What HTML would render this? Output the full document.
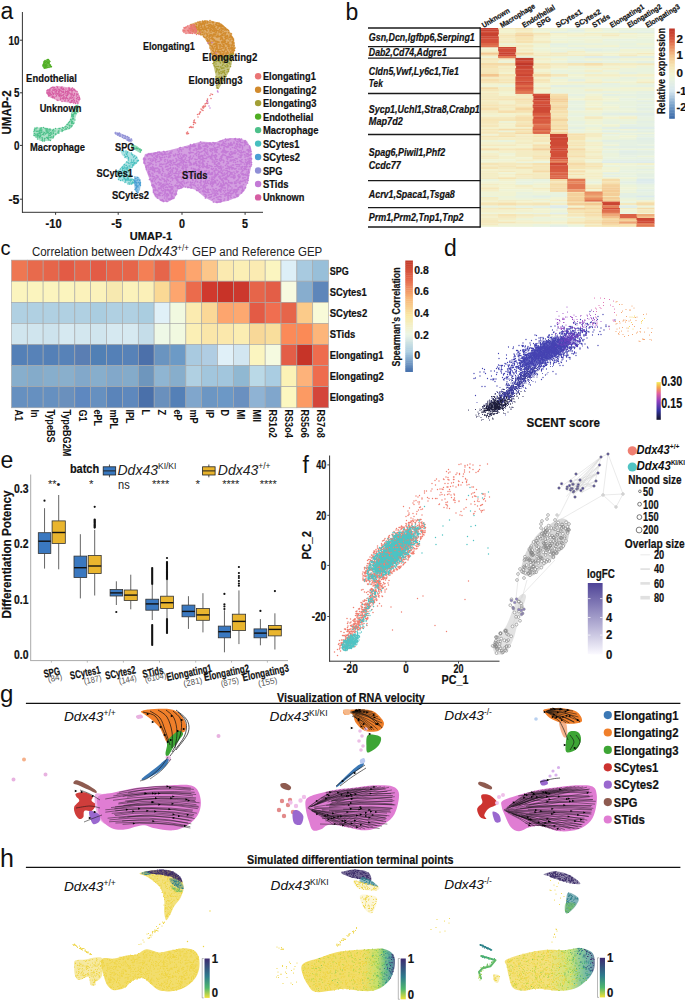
<!DOCTYPE html><html><head><meta charset="utf-8"><style>html,body{margin:0;padding:0;background:#fff;}svg{display:block}</style></head><body>
<svg width="685" height="1000" viewBox="0 0 685 1000">
<rect width="685" height="1000" fill="#fff"/>
<text x="0.5" y="18.5" font-size="23" font-weight="normal" font-style="normal" text-anchor="start" fill="#111" font-family="Liberation Sans" >a</text>
<line x1="22.4" y1="12" x2="22.4" y2="212.8" stroke="#333" stroke-width="1"/>
<line x1="22.0" y1="212.3" x2="263" y2="212.3" stroke="#333" stroke-width="1"/>
<line x1="20" y1="40.2" x2="22.4" y2="40.2" stroke="#333" stroke-width="1"/>
<text x="19.5" y="44.5" font-size="12" font-weight="bold" font-style="normal" text-anchor="end" fill="#111" font-family="Liberation Sans" stroke="#111" stroke-width="0.2" textLength="11.0" lengthAdjust="spacingAndGlyphs" >10</text>
<line x1="20" y1="92.8" x2="22.4" y2="92.8" stroke="#333" stroke-width="1"/>
<text x="19.5" y="97.1" font-size="12" font-weight="bold" font-style="normal" text-anchor="end" fill="#111" font-family="Liberation Sans" stroke="#111" stroke-width="0.2" textLength="5.5" lengthAdjust="spacingAndGlyphs" >5</text>
<line x1="20" y1="145.4" x2="22.4" y2="145.4" stroke="#333" stroke-width="1"/>
<text x="19.5" y="149.7" font-size="12" font-weight="bold" font-style="normal" text-anchor="end" fill="#111" font-family="Liberation Sans" stroke="#111" stroke-width="0.2" textLength="5.5" lengthAdjust="spacingAndGlyphs" >0</text>
<line x1="20" y1="199.2" x2="22.4" y2="199.2" stroke="#333" stroke-width="1"/>
<text x="19.5" y="203.5" font-size="12" font-weight="bold" font-style="normal" text-anchor="end" fill="#111" font-family="Liberation Sans" stroke="#111" stroke-width="0.2" textLength="11.0" lengthAdjust="spacingAndGlyphs" >-5</text>
<line x1="55.6" y1="212.3" x2="55.6" y2="214.8" stroke="#333" stroke-width="1"/>
<line x1="118.2" y1="212.3" x2="118.2" y2="214.8" stroke="#333" stroke-width="1"/>
<line x1="182" y1="212.3" x2="182" y2="214.8" stroke="#333" stroke-width="1"/>
<line x1="245.1" y1="212.3" x2="245.1" y2="214.8" stroke="#333" stroke-width="1"/>
<text x="53.6" y="227.5" font-size="12" font-weight="bold" font-style="normal" text-anchor="middle" fill="#111" font-family="Liberation Sans" stroke="#111" stroke-width="0.2" textLength="16.0" lengthAdjust="spacingAndGlyphs" >-10</text>
<text x="116.5" y="227.5" font-size="12" font-weight="bold" font-style="normal" text-anchor="middle" fill="#111" font-family="Liberation Sans" stroke="#111" stroke-width="0.2" textLength="10.5" lengthAdjust="spacingAndGlyphs" >-5</text>
<text x="182.0" y="227.5" font-size="12" font-weight="bold" font-style="normal" text-anchor="middle" fill="#111" font-family="Liberation Sans" stroke="#111" stroke-width="0.2" textLength="6.0" lengthAdjust="spacingAndGlyphs" >0</text>
<text x="245.1" y="227.5" font-size="12" font-weight="bold" font-style="normal" text-anchor="middle" fill="#111" font-family="Liberation Sans" stroke="#111" stroke-width="0.2" textLength="6.0" lengthAdjust="spacingAndGlyphs" >5</text>
<text x="151.0" y="240.0" font-size="11.5" font-weight="bold" font-style="normal" text-anchor="middle" fill="#111" font-family="Liberation Sans" stroke="#111" stroke-width="0.2" textLength="42.3" lengthAdjust="spacingAndGlyphs" >UMAP-1</text>
<text x="11.2" y="134.4" font-size="12" font-weight="bold" font-style="normal" text-anchor="start" fill="#111" font-family="Liberation Sans" stroke="#111" stroke-width="0.2" textLength="44.0" lengthAdjust="spacingAndGlyphs" transform="rotate(-90 11.2 134.4)" >UMAP-2</text>
<polygon points="42.0,66.0 44.0,61.0 47.0,59.0 50.0,60.0 50.0,64.0 52.0,67.0 48.0,68.0 44.0,69.0" fill="#4fae22" fill-opacity="0.8"/>
<path transform="scale(.5)" d="M95 119h0m2 0h0m3 4h0m-2 3h0m-1-1h0m-1 0h0m0 2h0m0-5h0m-1 3h0m-2-2h0m-2 2h0m-1-3h0m0-1h0m-1 5h0m-1-2h0m0 1h0m0-2h0m-2 7h0m1-2h0m0 0h0m1 2h0m0 3h0m1-3h0m1 5h0m0-6h0m1 3h0m0-2h0m1 4h0m1-2h0m0-4h0m1 3h0m1 4h0m3 0h0m1-5h0m2 3h0m0-3h0m1 4h0m1-1h0m-11 3h0m-3 0h0" stroke="#4fae22" stroke-width="2.8" stroke-linecap="round"/>
<polygon points="47.0,90.0 52.0,87.0 58.0,86.0 66.0,87.0 74.0,88.0 78.0,92.0 80.0,98.0 79.0,104.0 72.0,103.0 64.0,102.0 56.0,100.0 49.0,97.0 46.0,93.0" fill="#d65ea3" fill-opacity="0.55"/>
<path transform="scale(.5)" d="M138 175h0m-14-1h0m0 0h0m-2 1h0m-7 0h0m-1-2h0m-5 2h0m0 0h0m-3-1h0m-2 1h0m-10 6h0m0 0h0m1-1h0m2 0h0m2 0h0m0 0h0m0-1h0m1 1h0m0-2h0m0 3h0m2-5h0m2 7h0m1-3h0m2 0h0m0 0h0m0-4h0m1 5h0m0-5h0m0 4h0m0 0h0m1 0h0m0-1h0m1 0h0m2 3h0m0-3h0m0-1h0m0 4h0m1-1h0m1 0h0m2-3h0m1 5h0m0 0h0m1 0h0m0-4h0m0 1h0m1 1h0m0-1h0m0-1h0m1 1h0m2-3h0m0 4h0m0 1h0m0-5h0m1 6h0m0-7h0m0 1h0m2 2h0m1-2h0m0 2h0m0-1h0m0-1h0m0 6h0m1 0h0m0-6h0m0 2h0m1 0h0m3 3h0m1 1h0m0-5h0m2 5h0m1-1h0m2 0h0m0 0h0m0-4h0m2 3h0m0-3h0m0-1h0m2 3h0m2 0h0m0-2h0m0 0h0m0 0h0m1 4h0m0 1h0m1-2h0m0-5h0m2 3h0m1 1h0m1 0h0m0-1h0m0 1h0m2 2h0m3 1h0m2 5h0m-1 1h0m-1 0h0m-1-1h0m-4-1h0m0 3h0m0-3h0m-2 4h0m-1-1h0m-2-4h0m0 3h0m0-1h0m-1 0h0m-2 0h0m-1-1h0m-2-2h0m-1 3h0m-1-4h0m-1 7h0m0-5h0m0 3h0m-1 1h0m0-3h0m-2 4h0m-1-6h0m0-1h0m-1 4h0m0-2h0m0 1h0m-3 2h0m0-4h0m-1 6h0m0 0h0m0-6h0m0 0h0m-2 5h0m0-6h0m-1 7h0m-1-4h0m-1 3h0m-1 1h0m-1-2h0m0-5h0m0 4h0m-1 2h0m-1-4h0m0 4h0m-1-3h0m0 0h0m-1 1h0m-1-1h0m-1 4h0m0-7h0m-1 0h0m0 4h0m-1 0h0m-1-4h0m-2 3h0m-1 2h0m0-2h0m-1 0h0m-1-2h0m0 1h0m-1 4h0m0-6h0m-1 5h0m-1 0h0m-1-2h0m0 1h0m-1 3h0m0 0h0m0-7h0m0 2h0m-1-2h0m0 3h0m-1 1h0m0 2h0m0 1h0m-1-1h0m0-6h0m-1 2h0m0 2h0m-2-2h0m0-2h0m3 8h0m7 2h0m1-1h0m0 2h0m1-2h0m1 1h0m1 0h0m1 2h0m3-3h0m6-1h0m2 1h0m1 3h0m0 3h0m2-7h0m1 5h0m2-2h0m0 2h0m1 1h0m0-2h0m1 1h0m0-4h0m2 2h0m1 3h0m1-1h0m1-2h0m0-3h0m2 5h0m0 0h0m1 1h0m0 0h0m3 0h0m0 0h0m1-3h0m1 1h0m1-4h0m0 4h0m1-4h0m1 4h0m0 0h0m1-1h0m2-3h0m0 7h0m1-3h0m5 1h0m0-5h0m1 6h0m1-3h0m0 0h0m1 0h0m1 4h0m1-7h0m0 7h0m1-3h0m0-1h0m1 3h0m-2 2h0m-3 6h0m-1-3h0m-1-1h0m-2 5h0m-1-2h0m-1-4h0m-1 2h0m0-3h0m0 0h0m0 0h0m-1 6h0m-2-5h0m-1 3h0m-1-1h0m0-2h0m0 2h0m-1 2h0m-1 0h0m-1-1h0m0 1h0m-3-4h0m-1 1h0m-6 0h0m0-1h0m-6 2h0m-8-2h0m-2-1h0" stroke="#d65ea3" stroke-width="2.8" stroke-linecap="round"/>
<polygon points="78.0,104.0 80.0,108.0 76.0,116.0 74.0,124.0 70.0,129.0 60.0,132.0 55.0,136.0 50.0,141.0 40.0,141.0 33.0,135.0 34.0,128.0 42.0,127.0 52.0,129.0 64.0,127.0 70.0,120.0 72.0,112.0 75.0,106.0" fill="#4dc08a" fill-opacity="0.45"/>
<path transform="scale(.5)" d="M150 215h0m2-3h0m2-1h0m1 5h0m0 6h0m0-1h0m-1 2h0m0-7h0m0 6h0m-1-3h0m-3-2h0m-1 3h0m-6 8h0m1 2h0m0-6h0m1 5h0m0 2h0m2-2h0m1-2h0m0-1h0m1-2h0m0 3h0m1 0h0m1-3h0m1 3h0m4-3h0m-9 8h0m0 1h0m0 4h0m0 1h0m-1-4h0m-1 3h0m-1-5h0m0 7h0m0-6h0m-1-1h0m-2 7h0m0 0h0m-4 7h0m1-1h0m1-2h0m3-1h0m1 0h0m0 5h0m0-2h0m2-2h0m0 3h0m1 1h0m0 0h0m1 0h0m1-1h0m2-6h0m-6 11h0m0 1h0m-1 0h0m-1 2h0m-2-3h0m-1 1h0m-1-2h0m-3 5h0m0-6h0m-1 0h0m-2 4h0m-2 1h0m-5 1h0m-38 0h0m-13 0h0m-6 8h0m1-2h0m0-2h0m0 1h0m0 0h0m1-4h0m2 6h0m0-4h0m2-2h0m0 7h0m2-1h0m0 0h0m3-1h0m1-3h0m0 1h0m1 2h0m0-1h0m1-3h0m0-1h0m1 0h0m0 4h0m0 2h0m0-1h0m1-1h0m6-3h0m2 5h0m0-4h0m0 2h0m0 2h0m2 1h0m0-6h0m0 3h0m1 2h0m0-4h0m3 3h0m0-2h0m0 4h0m2-5h0m1 2h0m4 1h0m2-2h0m0 1h0m3 2h0m1-5h0m6 5h0m1 0h0m0-5h0m2 0h0m4 2h0m0 2h0m0 2h0m2-2h0m0-5h0m1 0h0m3 3h0m2-2h0m1 1h0m5-1h0m1-1h0m-21 10h0m-2-1h0m0-1h0m0 2h0m-4 2h0m-1 0h0m0 1h0m-4-2h0m0-3h0m-3 0h0m0 4h0m-1 0h0m-1-2h0m0 2h0m-1-3h0m0 6h0m-1-1h0m0 1h0m-1-4h0m0 0h0m-1 4h0m-1-1h0m0-4h0m-1-1h0m-2 1h0m-1 0h0m-2 2h0m-1-2h0m-1-1h0m-1 5h0m-1-3h0m0 1h0m-1-4h0m-1 5h0m-2-4h0m-1 6h0m0-1h0m-1-4h0m0 4h0m-1-3h0m0-3h0m-1 3h0m-1 1h0m0-4h0m0 0h0m-1 7h0m-1-4h0m0 4h0m-1-3h0m0 1h0m-1 2h0m-2-3h0m0 1h0m-1 1h0m-2 1h0m0-4h0m-1 4h0m4 3h0m3 4h0m0-4h0m3 0h0m1-2h0m0 2h0m1 2h0m0-3h0m1 0h0m3 5h0m0-3h0m1 4h0m0-3h0m4 1h0m1 0h0m3-2h0m1 0h0m1 2h0m0-1h0m0-1h0m1 2h0m1-3h0m0 4h0m1-3h0m3 0h0m2-1h0m3 2h0m0-2h0m1-2h0m0 2h0m-6 7h0m-3-1h0m-9 0h0m0 2h0m-3 0h0m-1 0h0m-1-1h0" stroke="#4dc08a" stroke-width="2.8" stroke-linecap="round"/>
<polygon points="145.0,154.0 156.0,152.0 166.0,151.0 178.0,148.0 189.0,145.0 201.0,141.5 215.0,142.4 224.0,139.0 231.0,138.0 240.0,138.5 247.0,141.0 251.2,148.5 252.1,162.6 250.0,172.0 248.6,180.0 245.0,190.0 238.0,197.0 227.6,201.1 215.3,202.9 204.8,197.6 196.0,190.0 186.0,187.0 178.5,189.0 175.0,197.6 168.0,202.0 162.8,202.0 155.0,197.0 150.5,182.0 146.0,170.0 143.0,160.0" fill="#c37ad6" fill-opacity="0.72"/>
<path transform="scale(.5)" d="M451 278h0m5 1h0m4-1h0m9 0h0m2-1h0m4 2h0m3-1h0m1 0h0m1 1h0m3-1h0m9 7h0m-1 1h0m0-4h0m-1-1h0m-1 4h0m0-2h0m-4 2h0m-3 0h0m-1-4h0m-1 2h0m0 0h0m-1-1h0m-1-2h0m0 0h0m-2 4h0m-2-1h0m-1 4h0m-2-7h0m-3 7h0m0-3h0m0 1h0m-6 0h0m-1 2h0m-4 0h0m0-7h0m-4 0h0m-2 3h0m-2 4h0m-2-3h0m0 2h0m-1 0h0m-1-5h0m-3 1h0m0 0h0m-2 1h0m-1 0h0m-8 3h0m-2 0h0m-1 0h0m-2-1h0m-5 2h0m-1-1h0m-1 1h0m-1 0h0m-4 0h0m-6-1h0m-4 1h0m-3-3h0m-40 11h0m9-1h0m3 1h0m2 0h0m3-2h0m2 2h0m1-6h0m0 2h0m1 2h0m2-1h0m2-2h0m0 3h0m2-5h0m0 5h0m1-3h0m0 3h0m1-1h0m0 1h0m1-2h0m6-1h0m0 4h0m0-1h0m1 1h0m0-6h0m1 4h0m1-3h0m1 5h0m5-2h0m2 1h0m1-1h0m2-4h0m0 3h0m1 2h0m1-5h0m1 3h0m1 4h0m1-2h0m3-4h0m3-1h0m1 2h0m0 0h0m1-1h0m3 3h0m2 3h0m0-7h0m0 1h0m5 6h0m1-1h0m0-6h0m1 6h0m1-6h0m0 1h0m1 5h0m0-6h0m1 3h0m4-2h0m0 2h0m2-2h0m1 1h0m1 1h0m1 4h0m1-4h0m1 1h0m1 1h0m1-5h0m2 5h0m0 2h0m1-3h0m2-4h0m0 6h0m1-3h0m2-1h0m0-1h0m2 0h0m0-1h0m0 3h0m2-3h0m1 2h0m0 5h0m4 0h0m2-3h0m2-3h0m0 5h0m0-6h0m2 0h0m0 2h0m1 3h0m3 2h0m0-6h0m0-1h0m1 1h0m0 3h0m0 3h0m2-5h0m0 1h0m3 4h0m0-3h0m4-1h0m1-3h0m2 0h0m3 1h0m4 6h0m0-3h0m1 2h0m2 9h0m-1-3h0m-1-3h0m0 4h0m-2-1h0m-1 1h0m0 2h0m0-2h0m-1-2h0m-2 1h0m-7 3h0m-2-5h0m-3 3h0m-4 0h0m-2 1h0m0-1h0m-1-2h0m-3-2h0m0 0h0m-2 4h0m-1-5h0m-7 7h0m-1-5h0m0 0h0m0 0h0m-5 5h0m-3 0h0m-2-1h0m-2-2h0m-1-3h0m0 5h0m-1 0h0m-1-2h0m-1 2h0m-4-5h0m0 0h0m-6 2h0m-2 4h0m0-2h0m-1 1h0m0-3h0m-1-3h0m0 2h0m-2 3h0m-1-3h0m-2 0h0m-1 3h0m-1-4h0m-1 2h0m-1 4h0m-1-3h0m0-1h0m-1-2h0m0 4h0m-5-1h0m-3-2h0m-1 0h0m-1 4h0m-1-1h0m0-2h0m0-2h0m-2 4h0m-3 2h0m-1-7h0m-2 1h0m-1 1h0m-1-1h0m-2-1h0m0 2h0m0 5h0m-3-4h0m-1 0h0m0 1h0m0-3h0m-2 0h0m-2 3h0m0 0h0m-2 0h0m-6-3h0m-1 3h0m-1-4h0m0 3h0m-13-1h0m-3 4h0m-1-3h0m-2 0h0m0 0h0m-1-3h0m-1 6h0m-3-2h0m-11 2h0m-10 1h0m-6 0h0m-1 0h0m-34 8h0m2-2h0m1 0h0m2-2h0m1 2h0m3 0h0m0-2h0m1 3h0m2 1h0m2-4h0m1 2h0m2-3h0m0 2h0m1-2h0m3 0h0m0 5h0m1 0h0m1-7h0m0 5h0m2 0h0m0 0h0m1-5h0m1 2h0m2 0h0m0 3h0m1-1h0m1-1h0m1 3h0m0 1h0m2-2h0m2-3h0m1 2h0m0 1h0m0-4h0m2 4h0m0-1h0m4 0h0m1 0h0m2 0h0m1-3h0m0 1h0m1 5h0m0-7h0m1 2h0m1 0h0m0 0h0m4 4h0m4-2h0m0 2h0m4-1h0m2-5h0m1 5h0m1-2h0m4 1h0m3 3h0m2-1h0m1-1h0m0 1h0m3 0h0m6-5h0m1 2h0m0-1h0m1 0h0m1-2h0m2 1h0m3 0h0m4 3h0m1 0h0m2 3h0m0-4h0m1-3h0m3 5h0m1-1h0m1-3h0m3 6h0m0 0h0m0-7h0m1 7h0m1 0h0m2 0h0m3-3h0m1 3h0m1-7h0m2 1h0m0 1h0m0 1h0m2-3h0m0 5h0m1-1h0m7 3h0m1-2h0m1-3h0m0 0h0m2 5h0m3 0h0m0-7h0m1 5h0m2 2h0m0-7h0m1 1h0m4 3h0m0 0h0m5-4h0m0 0h0m1 7h0m1-1h0m1-2h0m0 2h0m0-6h0m1 0h0m2 6h0m1-5h0m1 6h0m0 0h0m0-7h0m1 2h0m2-2h0m0 0h0m5 5h0m0-2h0m2-3h0m0 7h0m1-2h0m1-5h0m1 3h0m0-3h0m1 4h0m2-2h0m1-2h0m1 3h0m1 0h0m1-1h0m1-2h0m4 4h0m3-4h0m1 6h0m2-4h0m0-1h0m1 5h0m0-6h0m1 1h0m0 5h0m2-5h0m0 0h0m3 4h0m1 1h0m0-6h0m3 3h0m1 1h0m1 1h0m1-2h0m1 3h0m1 0h0m0-6h0m2 7h0m1-2h0m2-1h0m0 10h0m0-1h0m-3-1h0m0 1h0m-2 1h0m-2 0h0m0 0h0m0-5h0m-3-1h0m-2 7h0m-1-5h0m-6 5h0m-2-5h0m0-2h0m-1 3h0m-3-1h0m-4 3h0m0 1h0m-3-1h0m-3 2h0m-2-5h0m-2-1h0m-2 2h0m-1 0h0m-1 0h0m-2 0h0m0-2h0m-1 0h0m-2 3h0m0 3h0m-1-6h0m0 2h0m-1 1h0m-9-2h0m-1 4h0m-1-5h0m0 3h0m-2 1h0m-5 2h0m-2-7h0m0 7h0m0-6h0m-2 2h0m0 2h0m0 2h0m-2-5h0m-5 5h0m0-3h0m0-4h0m-2 1h0m0 1h0m-1 0h0m0 2h0m0 1h0m-1-4h0m-2-1h0m-1 2h0m-3 0h0m-1 3h0m-2 0h0m-1 0h0m-3 0h0m-1-1h0m0 2h0m0-3h0m-1-2h0m-1 6h0m-2-7h0m0 6h0m0 1h0m-1-5h0m-1 0h0m-1-1h0m0 4h0m-1-5h0m-1 1h0m0 3h0m-3 3h0m-3 0h0m-1-1h0m0 0h0m-3-6h0m-2 4h0m-2 2h0m-2-6h0m-1 2h0m0 2h0m-1 3h0m-1-4h0m-5-3h0m-2 4h0m-1 3h0m-2-6h0m-2 1h0m-2 3h0m-1-2h0m0 4h0m-2-2h0m0-5h0m-2 5h0m-2-2h0m-1-3h0m-4 5h0m-3-5h0m-1 0h0m-8 2h0m-1-1h0m-1-1h0m-1 3h0m-4-2h0m-2 6h0m-2-4h0m0-1h0m-4 1h0m-2 4h0m-1-4h0m-1 2h0m-1-1h0m-1-3h0m-4 1h0m-1 1h0m-1 4h0m0-5h0m0 0h0m-2-2h0m0 6h0m-1-1h0m-2-2h0m-2 3h0m0 1h0m-1-7h0m-3 6h0m-3-1h0m-2 1h0m-2-6h0m-4 7h0m-1-2h0m-1 2h0m-1-3h0m-1 2h0m1 8h0m0-2h0m1 0h0m0-3h0m1 6h0m6-2h0m3 1h0m2-5h0m0 5h0m2 1h0m1-4h0m1-2h0m2 0h0m4-1h0m0 2h0m1 3h0m4-2h0m3 0h0m2-3h0m1 0h0m7 0h0m1 3h0m3 4h0m2-1h0m0-6h0m1 3h0m1 2h0m3-4h0m0 2h0m1 2h0m1-4h0m1 2h0m0 0h0m0 4h0m3-7h0m0 1h0m1 4h0m3 0h0m3-2h0m0-3h0m3 0h0m2 7h0m1 0h0m1-1h0m0-5h0m2 3h0m2-2h0m0 4h0m0 0h0m2 0h0m0-6h0m1 1h0m0 3h0m2-1h0m2 2h0m2 0h0m1-4h0m4 0h0m0 3h0m1 0h0m1 1h0m0 1h0m1-1h0m1 2h0m6-1h0m1 1h0m1 0h0m1-2h0m1-2h0m1 4h0m4-4h0m1 1h0m1 2h0m1-4h0m2 4h0m3-2h0m0 2h0m1 0h0m0-5h0m1 1h0m2 0h0m5 5h0m2-4h0m9 1h0m1 0h0m0-4h0m3 6h0m0-4h0m1 3h0m3-2h0m1 0h0m2 4h0m2-2h0m0 1h0m1 1h0m0-7h0m2 2h0m2-2h0m3 0h0m1 5h0m1-3h0m6 1h0m2 4h0m0-3h0m1 2h0m3-4h0m1-2h0m1 2h0m1-1h0m1-1h0m1 0h0m2 0h0m0 4h0m3-3h0m1 4h0m4-2h0m5-2h0m1 2h0m1-1h0m1 2h0m0-1h0m3 2h0m5-1h0m1-4h0m1 6h0m2 1h0m0-3h0m1-1h0m1-1h0m0 1h0m0-1h0m1 4h0m0-4h0m1 3h0m0 0h0m1-1h0m0-3h0m3 4h0m0 0h0m0 4h0m0 0h0m-1 3h0m-3-4h0m0 5h0m-5-5h0m0 5h0m0-4h0m-1 0h0m0 3h0m0 2h0m-3-1h0m-1-5h0m0 5h0m-4 0h0m-1 2h0m-2-7h0m0 6h0m-3-4h0m-1 3h0m0-4h0m-3 0h0m-1 4h0m-2-4h0m-5 1h0m-2 0h0m0 5h0m-2 0h0m-1-3h0m0 3h0m-3 0h0m-1-2h0m-3-1h0m-2-4h0m-2 3h0m-5 3h0m-4 1h0m0-3h0m-2 1h0m-1-5h0m-1 0h0m-1 5h0m-1 1h0m-1-3h0m-2 1h0m0-3h0m-3-1h0m0 5h0m-1-5h0m-5 5h0m-2-1h0m-3-1h0m-1 4h0m-3-3h0m0-2h0m0 1h0m-1 3h0m0-3h0m0 3h0m-1 0h0m-1 0h0m-2-1h0m-2 0h0m0-3h0m-1-2h0m0 0h0m-1 7h0m0-7h0m-1 2h0m-1 3h0m-4 2h0m0-5h0m-1 3h0m0-2h0m-1 2h0m-2-3h0m-3-2h0m0 3h0m-5-2h0m-1-1h0m0 1h0m-4-1h0m-1 2h0m-1 0h0m-2 0h0m-4 4h0m-1-4h0m-2 4h0m0 1h0m-1-5h0m-1 4h0m0-3h0m-3-2h0m0 0h0m-1 5h0m0-2h0m0 0h0m0 2h0m-1 0h0m-3-4h0m-3 0h0m-1 4h0m-2-5h0m-1 4h0m0-5h0m0 2h0m0-2h0m-2 2h0m0 0h0m-2-1h0m-3-1h0m-3 2h0m-4 5h0m0-4h0m-1-2h0m-1 0h0m-3 3h0m-1 1h0m-2 0h0m-1-1h0m0-4h0m-1 6h0m-3-6h0m-3 1h0m-2 4h0m0-5h0m-1 5h0m-2-4h0m0-1h0m-1 4h0m-7-2h0m-5 5h0m-1-6h0m-1 4h0m-4 2h0m-1-6h0m-2 0h0m0 1h0m-1 4h0m-2-3h0m-2 3h0m-1-2h0m0 2h0m1 5h0m0-3h0m4 6h0m1-4h0m1 5h0m2-4h0m1-2h0m1-1h0m1 2h0m0-2h0m1 4h0m1 1h0m1-3h0m2 2h0m0 2h0m0-5h0m1 0h0m0 5h0m2-6h0m0 1h0m2 6h0m1 0h0m0-7h0m1 7h0m0-1h0m1-4h0m2 3h0m0-2h0m1 4h0m5-5h0m0 3h0m0-5h0m1 2h0m1 5h0m6-4h0m3 2h0m0-3h0m1 0h0m3 5h0m0-6h0m1 0h0m0 5h0m3-3h0m0 0h0m0 3h0m1-1h0m1-5h0m1 0h0m0 1h0m4-1h0m1 2h0m2 4h0m0-2h0m0-2h0m1 0h0m3 5h0m3-2h0m3-4h0m1 0h0m1 1h0m1 4h0m0-5h0m5 4h0m0 0h0m0-3h0m1 3h0m4 2h0m6-7h0m0 1h0m2 4h0m2-4h0m1 3h0m0 3h0m2-5h0m1 3h0m0-1h0m3 0h0m3 0h0m0 1h0m0-3h0m1 5h0m0-5h0m1 1h0m0 1h0m4 1h0m6 1h0m1 0h0m1 1h0m2-2h0m1-5h0m2 0h0m2 6h0m5-5h0m0 1h0m2 1h0m2-2h0m1 5h0m1 1h0m0 0h0m0-2h0m2-1h0m1-3h0m1 3h0m0 0h0m1 0h0m3 2h0m0 0h0m1-5h0m2 6h0m0-7h0m2 0h0m0 4h0m0 0h0m1-1h0m0-2h0m2 5h0m0 0h0m3-2h0m4-3h0m0 4h0m1-4h0m1 0h0m0 0h0m0 4h0m2-5h0m0 7h0m2 0h0m1 0h0m0-5h0m5-2h0m0 2h0m1-1h0m2-1h0m2 2h0m1 0h0m2-1h0m1 5h0m3 1h0m2-5h0m4 0h0m1-1h0m0 0h0m1 6h0m1-3h0m1 1h0m2-4h0m1 2h0m1-3h0m0 2h0m1-1h0m2 2h0m4 3h0m0-3h0m1 6h0m0-1h0m-1 7h0m-1-4h0m-1 3h0m-1-6h0m0 7h0m-2-3h0m-1 1h0m0 1h0m-3-1h0m-1-1h0m0 2h0m-2-3h0m-1 2h0m-2-3h0m-4 3h0m-2 2h0m-2-6h0m-4 2h0m-2 3h0m0-6h0m-4 2h0m0 3h0m0-4h0m-3 0h0m0 2h0m-1 2h0m-1 2h0m-4-1h0m0-4h0m0 5h0m-1-5h0m-1 1h0m-3 2h0m-1-3h0m-1 5h0m-2-3h0m0 3h0m-2-5h0m-1-1h0m0 2h0m-3-3h0m-3 1h0m-1 4h0m-1-2h0m-1 2h0m-1 2h0m-1-1h0m-1-1h0m-1-3h0m-1 4h0m-4-3h0m0-2h0m-1 0h0m0 4h0m0-2h0m-2 0h0m-1 2h0m-2-4h0m-1 3h0m-1-2h0m-1-1h0m-1 2h0m-1 4h0m-2-2h0m-2-4h0m-3 1h0m-4-1h0m-1-1h0m-3 5h0m0-3h0m-2 0h0m-2 3h0m-1-3h0m-1 1h0m-5-2h0m-2 6h0m0-3h0m0-4h0m-1 5h0m-1 1h0m-4-1h0m-1 2h0m-1-5h0m-1-1h0m-1 2h0m-1 2h0m0 1h0m-1 1h0m-1-7h0m-1 3h0m-3 1h0m0 0h0m-1 3h0m-3-5h0m-3-1h0m-4-1h0m0 3h0m-1 3h0m-3-3h0m-2-3h0m-1 3h0m0-1h0m-2 5h0m-1-4h0m-3-3h0m-1 4h0m-2 3h0m-1-6h0m-1 2h0m-1 4h0m-1-2h0m-1 0h0m0-3h0m-3 4h0m-4-2h0m-5-1h0m-1 4h0m-1-2h0m-3-3h0m0-1h0m-2 1h0m0-1h0m-5 6h0m-4-7h0m-3 4h0m-2-2h0m-3 4h0m-2-3h0m0 0h0m0 1h0m-1-1h0m0 2h0m-1-4h0m2 14h0m1-7h0m1 6h0m0-6h0m4 1h0m0-1h0m1 6h0m1-5h0m1 4h0m1-3h0m0 0h0m2 5h0m1-3h0m1 0h0m2-4h0m1 1h0m0 2h0m3 3h0m1 1h0m4-3h0m2 2h0m2 0h0m0 0h0m1-6h0m2 0h0m3 2h0m0 4h0m1 1h0m1-5h0m1-1h0m1 1h0m0-1h0m2-1h0m2 4h0m2-1h0m2 2h0m4-1h0m1-4h0m1 5h0m0-2h0m1 4h0m1-1h0m0-4h0m2 0h0m0 1h0m0-2h0m3 1h0m2 0h0m2 4h0m1-3h0m1-3h0m5 4h0m4 0h0m1 3h0m0-2h0m0-3h0m3 1h0m1 0h0m6-3h0m0 7h0m6-2h0m5 0h0m2-4h0m2-1h0m2 3h0m1-1h0m0-2h0m1 1h0m3 3h0m0-1h0m3 0h0m2 4h0m7-3h0m4 3h0m1-5h0m0 3h0m2 2h0m1 0h0m0-5h0m2 1h0m0 1h0m1-3h0m0 0h0m1 0h0m7 1h0m0-1h0m2-1h0m0 2h0m0 3h0m1-1h0m1 2h0m1 1h0m1-7h0m1 6h0m2-2h0m3 2h0m0-2h0m1 3h0m1-5h0m1 3h0m1 2h0m0-5h0m3-1h0m5 1h0m2 0h0m3 1h0m0-3h0m1 5h0m2-5h0m0 3h0m6 4h0m1-6h0m1 3h0m2-2h0m0-2h0m6 4h0m0-1h0m0 2h0m4-2h0m4 4h0m2-5h0m0 3h0m0 4h0m-1 5h0m-4-6h0m0 0h0m0 4h0m-2-4h0m0 1h0m-3 1h0m-2 1h0m-1 0h0m-2-1h0m-1 1h0m0 4h0m0-1h0m-1 0h0m-3-2h0m0-4h0m-3 1h0m-1 3h0m0 3h0m-2-3h0m-1 0h0m0 3h0m-5 0h0m0-2h0m-1 0h0m0 0h0m0 2h0m-1-1h0m-1 0h0m0-1h0m-2 0h0m-1 0h0m-1-4h0m0 3h0m-4 3h0m-1-2h0m0 0h0m-1 2h0m-4-1h0m0-2h0m-1-3h0m0 3h0m-2-3h0m-2 6h0m-3-3h0m-2 3h0m0 0h0m-2-6h0m-1-1h0m-2 6h0m-1-3h0m-1 2h0m0-3h0m0-1h0m-2 5h0m0-3h0m-1 2h0m-1 2h0m-1 0h0m0 0h0m-1-5h0m0 2h0m-1 3h0m-2 0h0m0-3h0m-3-3h0m-1 6h0m-2-5h0m0 3h0m-2 2h0m-2-1h0m0-5h0m0 2h0m-3 1h0m-1-1h0m-5-2h0m0-1h0m0 3h0m-1 2h0m-1 0h0m0 0h0m-5-1h0m0-1h0m-3-3h0m-1 3h0m-2 3h0m-3-5h0m-1 4h0m-3 1h0m-1-2h0m-5 0h0m-3 1h0m0 1h0m-4 1h0m-1-3h0m-1-4h0m-2 3h0m-1 0h0m-1 3h0m-2 1h0m-1-3h0m-1 1h0m-1 0h0m-2-5h0m0 3h0m-2 3h0m0 0h0m0-5h0m-9-1h0m-4 3h0m-2 4h0m-2-6h0m-4 3h0m0-2h0m-3-1h0m-1 2h0m0-3h0m-7 7h0m0-7h0m0 6h0m-3 0h0m0 0h0m-2-2h0m-1 1h0m-5 1h0m-2-4h0m-4-1h0m0 2h0m-1 0h0m-1-2h0m1 9h0m0 1h0m2-2h0m0 3h0m1 2h0m1 0h0m0-3h0m1 1h0m1 3h0m3-7h0m5 2h0m2-1h0m2 5h0m0-2h0m2-1h0m0 3h0m1-5h0m1 5h0m0-5h0m0 0h0m1 4h0m1-5h0m0 3h0m2 0h0m1 4h0m1-7h0m1 6h0m0-5h0m1-1h0m1 7h0m0-7h0m1 1h0m2 3h0m1 2h0m2-1h0m0 1h0m1 1h0m1-6h0m1 4h0m2 1h0m4-3h0m1-1h0m0 2h0m0 0h0m3-1h0m1 3h0m1-1h0m1-1h0m2-2h0m2 2h0m0 1h0m1 0h0m1-5h0m1 7h0m0-7h0m1 3h0m0-2h0m2 3h0m4 2h0m4 1h0m1-1h0m2 1h0m2-5h0m2-1h0m0 3h0m1 3h0m3-6h0m1 1h0m0 0h0m2 0h0m2 2h0m3 3h0m2-5h0m2 4h0m4-3h0m0-3h0m4 4h0m0 3h0m1-4h0m2-3h0m0 1h0m0 4h0m1 2h0m1-3h0m3-1h0m7-2h0m3 2h0m0 2h0m1 0h0m1-4h0m8 1h0m1-1h0m1 0h0m3 4h0m2-1h0m0-1h0m1-2h0m1 5h0m0-2h0m1 2h0m0-2h0m1-2h0m0 4h0m1 1h0m1-4h0m1-3h0m1 2h0m0 0h0m1 5h0m5-7h0m1 3h0m0 3h0m2-3h0m0-1h0m3 3h0m10-1h0m2 0h0m5 3h0m2-2h0m1 2h0m1-3h0m2 0h0m0 2h0m1 0h0m2-5h0m4 6h0m-1 1h0m-3 5h0m-1-2h0m-1 1h0m0 3h0m0-6h0m-1 4h0m-7-2h0m-1 0h0m0-3h0m-2 6h0m0-2h0m0 3h0m-1-1h0m-1-3h0m-2 1h0m-1 2h0m0-3h0m0 4h0m0-3h0m-1-1h0m-1 3h0m0 0h0m-3-6h0m0 4h0m-1 0h0m-2 2h0m0 1h0m-1-3h0m-4 1h0m-1-3h0m-4 3h0m-1-4h0m-3 4h0m-1-5h0m-3 3h0m-1-2h0m-1 4h0m0 2h0m-2-4h0m0 2h0m-2-1h0m-2 3h0m-2-2h0m-1-4h0m-1 5h0m-3-1h0m0-2h0m0 3h0m-2-4h0m-2 4h0m-3-3h0m-4 0h0m-1 0h0m0 2h0m0 2h0m0-5h0m-1 3h0m-1-2h0m-3-1h0m0 5h0m-2-1h0m-2-2h0m0 2h0m0-6h0m-1 7h0m-1-1h0m-3-5h0m-3 2h0m-2 1h0m-1-3h0m-2 4h0m-1-1h0m-11-4h0m-20 0h0m-3 1h0m-2 0h0m-2-1h0m-3 6h0m-5 0h0m-2-5h0m0 2h0m-1-1h0m-1-1h0m-1 3h0m0-1h0m-1 4h0m0-1h0m-2-1h0m0 2h0m-1-3h0m-2-1h0m0 2h0m-1-1h0m0-1h0m-3 1h0m-1 1h0m-1-2h0m-3-2h0m0 4h0m-2 1h0m-2-2h0m-1-3h0m-3-1h0m-1 2h0m-1-2h0m-1 6h0m-2-2h0m-3 1h0m0-3h0m0 2h0m-3 0h0m-1 0h0m0 3h0m0-2h0m0 4h0m2 2h0m0 1h0m1 0h0m1 0h0m0 3h0m3-2h0m2 1h0m1 0h0m1 0h0m0 1h0m0-5h0m0 2h0m1 1h0m0 0h0m1-4h0m0 2h0m0 4h0m1-5h0m3 0h0m1 5h0m3-2h0m0 0h0m0 0h0m1-5h0m1 3h0m1-3h0m2 6h0m0-2h0m1 2h0m1-3h0m2 4h0m0-2h0m3-3h0m0-1h0m0 0h0m1-1h0m1 3h0m1 3h0m1-4h0m1 1h0m0-2h0m4 3h0m2 2h0m1-4h0m1 2h0m0 0h0m47-4h0m0 0h0m8 0h0m0 4h0m2 1h0m2-4h0m0 5h0m3-5h0m0 0h0m0 0h0m2 5h0m1-5h0m2 4h0m3 0h0m0 0h0m2-3h0m3 0h0m1 0h0m0 4h0m2-1h0m1-3h0m0 5h0m1-5h0m2 2h0m0-1h0m1 1h0m6-4h0m0 5h0m4-1h0m3-4h0m1 5h0m2-2h0m1 3h0m2-4h0m1-1h0m0 5h0m1-3h0m1 4h0m1-5h0m0-2h0m0 0h0m3 3h0m0 3h0m1-3h0m2 0h0m1-1h0m1-2h0m4 1h0m1 3h0m1 3h0m0-7h0m0 6h0m0-6h0m3 5h0m7-3h0m0-1h0m-7 7h0m-1 0h0m-1 1h0m-4 2h0m-2-1h0m-6 1h0m-1-3h0m-4 4h0m-1-3h0m0 2h0m0 3h0m-6-6h0m-1 6h0m-7 1h0m0-5h0m-1 5h0m-1-6h0m-1 0h0m-1 6h0m-2-1h0m0-4h0m-3 1h0m-5-3h0m0 5h0m-3 2h0m-2-6h0m-2 2h0m-1-1h0m-1 1h0m-1 0h0m-6-2h0m0-1h0m-1 4h0m0-3h0m-63 3h0m-2 1h0m-1 0h0m0-4h0m-1 1h0m0-1h0m-1-1h0m0 6h0m-1 0h0m0-2h0m-1 3h0m-2-1h0m0 1h0m-1-2h0m-1 2h0m-3-6h0m0 3h0m-4-4h0m-1 4h0m-4 3h0m-10-3h0m-1-3h0m0 0h0m0 0h0m7 7h0m1 0h0m1 1h0m1-1h0m2 1h0m1 2h0m0-1h0m5-2h0m2 3h0m93 1h0m6 0h0m1 1h0m0-1h0m3 0h0m2 0h0m1 0h0m1 0h0m0-3h0m1 0h0m1 2h0m5-2h0m8-1h0" stroke="#c37ad6" stroke-width="3.4" stroke-linecap="round"/>
<polygon points="115.0,131.5 120.0,133.0 127.0,136.0 133.0,140.0 131.0,143.0 125.0,139.0 118.0,136.0 115.0,134.0" fill="#8f8fd6" fill-opacity="0.6"/>
<path transform="scale(.5)" d="M250 271h0m-3 0h0m-2-1h0m-5 0h0m0-2h0m-1-2h0m-2 3h0m0-2h0m-1 3h0m-1-3h0m0 3h0m-3-2h0m-1-2h0m-1 0h0m9 6h0m2 0h0m0 0h0m4 3h0m0-1h0m3 3h0m1-1h0m1-4h0m1 1h0m0 4h0m1-3h0m3-1h0m1 5h0m0-2h0m1-1h0m1 0h0m1 4h0m4-1h0m-1 2h0m-1 1h0m0 0h0m-1-1h0m-2 2h0m-1-2h0m-1 1h0m-2-1h0" stroke="#8f8fd6" stroke-width="2.8" stroke-linecap="round"/>
<polygon points="132.0,144.0 137.0,146.0 142.0,150.0 140.0,153.0 135.0,150.0 131.0,147.0" fill="#4dc08a" fill-opacity="0.6"/>
<path transform="scale(.5)" d="M263 292h0m2-1h0m2 1h0m16 8h0m-1 1h0m-2-3h0m0 1h0m-1 0h0m-3-2h0m-1 0h0m-2 0h0m0-1h0m-3 1h0m-1 1h0m12 6h0" stroke="#4dc08a" stroke-width="2.8" stroke-linecap="round"/>
<polygon points="120.0,150.0 128.0,151.0 137.0,156.0 139.0,161.0 134.0,166.0 129.0,170.0 131.0,177.0 138.0,183.0 130.0,185.0 124.0,182.0 118.0,180.0 117.0,172.0 122.0,166.0 128.0,160.0 122.0,155.0" fill="#47bfbf" fill-opacity="0.45"/>
<path transform="scale(.5)" d="M252 302h0m-5 1h0m-2-2h0m4 9h0m3-4h0m1 3h0m1-1h0m1-4h0m0 1h0m8 1h0m1 3h0m1 1h0m0 0h0m8 5h0m-2 2h0m-2-5h0m-2 2h0m0 0h0m-10 1h0m0 2h0m-2-5h0m-1 1h0m-3 0h0m-1 2h0m3 9h0m3 1h0m1-5h0m1 7h0m4-2h0m1-5h0m0 4h0m0 0h0m2 1h0m2-3h0m1 5h0m0-1h0m0-6h0m0 5h0m1 1h0m1 1h0m0-2h0m3 1h0m1-4h0m0 0h0m1 0h0m1-1h0m1 0h0m-10 9h0m-1-1h0m-1 1h0m0 2h0m-1 3h0m-2-7h0m0 0h0m-2 4h0m-2 0h0m-3 2h0m-1 1h0m-1-4h0m-1 0h0m-2 4h0m-1-1h0m0-5h0m-1 1h0m-2 4h0m-1 0h0m-1 1h0m-8 7h0m2 1h0m3-5h0m4 2h0m0-3h0m0 4h0m1 0h0m1-4h0m1 6h0m1-2h0m1-4h0m0 0h0m0 3h0m3 3h0m0-7h0m0 2h0m1 4h0m1-2h0m0-4h0m1 0h0m2 5h0m0 0h0m2-5h0m0 13h0m-1 2h0m-1-7h0m-5 1h0m-1 1h0m-1 0h0m-1 2h0m0 2h0m-1-6h0m-1 2h0m-2 5h0m-2-2h0m-3-4h0m-1 0h0m0 1h0m-2 2h0m-1-1h0m-1 0h0m0 2h0m0-3h0m-1-1h0m2 14h0m2-4h0m1-2h0m1 1h0m6-2h0m0 2h0m1 4h0m0-2h0m1-4h0m0 4h0m0 1h0m1-4h0m1 6h0m1-1h0m2 1h0m1-5h0m0 3h0m1-5h0m1 4h0m0 2h0m5 1h0m4 0h0m0 0h0m8 7h0m-4-2h0m-1-3h0m0 2h0m-2-3h0m0 5h0m-2 1h0m0-1h0m0-1h0m-2-4h0m-1 6h0m-1-4h0m-1-2h0m-2 0h0m0 5h0m-1-5h0m-2 0h0m-3 1h0m-1 1h0m0-2h0m-1 5h0m-5-5h0m-4 1h0m15 7h0m3 0h0m4 0h0" stroke="#47bfbf" stroke-width="2.8" stroke-linecap="round"/>
<polygon points="134.0,176.0 139.0,177.0 141.0,182.0 140.0,190.0 138.0,193.0 135.0,191.0 134.0,184.0" fill="#4a9fd4" fill-opacity="0.6"/>
<path transform="scale(.5)" d="M271 357h0m1 0h0m3-2h0m1 4h0m5 7h0m0-1h0m0 1h0m-1-6h0m0 0h0m0 5h0m-1 2h0m0-6h0m-2 4h0m0 0h0m-3-4h0m-1 4h0m0 1h0m-2-2h0m-1 2h0m0-5h0m0 2h0m-1-2h0m0 2h0m2 7h0m1 0h0m0-1h0m0 0h0m0 2h0m1 0h0m0 3h0m0-4h0m0 4h0m1-1h0m2-2h0m0 3h0m3-5h0m1 0h0m0-1h0m1 3h0m0-1h0m-7 10h0m-1-4h0m0 7h0m-1-7h0m0 1h0m-1 1h0m-1 1h0m4 5h0m0 0h0m2 1h0" stroke="#4a9fd4" stroke-width="2.8" stroke-linecap="round"/>
<polygon points="190.3,24.3 195.4,22.3 203.6,20.7 211.8,20.7 221.0,23.3 229.2,30.4 233.8,38.6 235.3,47.8 233.5,54.0 225.0,57.0 212.5,60.0 211.8,56.0 208.7,44.7 202.6,35.5 195.4,33.5 190.0,31.0" fill="#d18a2c" fill-opacity="0.68"/>
<path transform="scale(.5)" d="M438 46h0m-1 1h0m-2-1h0m-1 0h0m-1 0h0m-6-1h0m-1 1h0m0-2h0m-2 0h0m-4-3h0m0 4h0m0 0h0m-4-1h0m-1 2h0m0-3h0m-1 3h0m0-4h0m-3 4h0m0-1h0m0 0h0m0-3h0m-1 4h0m0-3h0m-1-1h0m-1 4h0m-1-2h0m-1 0h0m-1-2h0m0 4h0m-3 1h0m-1 0h0m-1-4h0m0 4h0m0-4h0m0 3h0m-2 0h0m-2-1h0m0-1h0m-4 3h0m-10 2h0m1 2h0m0 1h0m5 2h0m0-3h0m1-1h0m1 4h0m1-1h0m1 2h0m0-2h0m1-4h0m0 4h0m1 2h0m3-5h0m0 4h0m0-1h0m2-1h0m0 0h0m0-2h0m2-1h0m1 1h0m0 5h0m1 0h0m0-2h0m0-3h0m0 2h0m1 3h0m0-6h0m0 5h0m2-6h0m0 0h0m1 0h0m1 6h0m1-2h0m0-4h0m0 2h0m0-2h0m2 6h0m3-3h0m1 0h0m2 0h0m0 4h0m1-2h0m0-4h0m1 3h0m0 0h0m0 1h0m1 0h0m1-3h0m0-1h0m1 1h0m1 5h0m0-1h0m0-3h0m1 0h0m1 2h0m2-3h0m0 5h0m1-1h0m0 1h0m0-3h0m1 3h0m1-2h0m0 0h0m1-4h0m1 1h0m0-2h0m1 2h0m1 0h0m0 1h0m1 0h0m1 3h0m1-3h0m1 2h0m0-3h0m1-2h0m0 3h0m2 0h0m0 2h0m1 1h0m0-5h0m0 3h0m0 0h0m1 1h0m0-3h0m0 2h0m2 1h0m0-2h0m1 1h0m2 2h0m9 7h0m-2-2h0m-2 1h0m-1 0h0m0-2h0m-1 0h0m0-2h0m-2 4h0m0-4h0m-3 7h0m0-6h0m0 1h0m0 1h0m-1-1h0m-2 3h0m0-4h0m-1 0h0m0 6h0m0-3h0m0-4h0m-3 3h0m-1 2h0m-2-5h0m-1 5h0m0-5h0m-2 4h0m0 2h0m0-1h0m-1-3h0m-1 0h0m0 0h0m-1-1h0m0 4h0m-1 0h0m0 2h0m-1-4h0m0 2h0m-1-3h0m-1 5h0m-1-2h0m0-5h0m-2 3h0m-1 1h0m0 0h0m-1-4h0m0 5h0m0-3h0m-2 0h0m0 4h0m-2-5h0m-3 5h0m0 0h0m0-5h0m0-1h0m0 5h0m-1 0h0m0-1h0m-1-2h0m-1 0h0m-1 1h0m0-3h0m-2 0h0m-1 3h0m0 1h0m-2-3h0m-1 2h0m-1 1h0m-2-1h0m-1 2h0m0 0h0m-1-2h0m0-3h0m0 6h0m-1-5h0m-1-1h0m0 3h0m-1 0h0m0 1h0m-2-2h0m-2-2h0m-1 0h0m0 0h0m0 0h0m-4 5h0m0-1h0m-1 3h0m0-3h0m-1 3h0m-1-5h0m0-2h0m-4 1h0m16 10h0m3-3h0m2 4h0m0-1h0m1-3h0m0 6h0m3-6h0m0 5h0m0-4h0m3 3h0m0-4h0m1 4h0m3-2h0m1 2h0m2 0h0m0 3h0m3-5h0m0 0h0m1 4h0m1 0h0m0 0h0m0 0h0m2-1h0m0-5h0m0 1h0m2 6h0m0-1h0m3-1h0m0-1h0m2 0h0m1 2h0m0-6h0m0 4h0m2-3h0m0 3h0m1-4h0m3 7h0m0-3h0m1-4h0m1 0h0m1 0h0m2 0h0m0 0h0m1 7h0m0-5h0m1-1h0m1 4h0m0 1h0m1 1h0m1 0h0m0-3h0m1-1h0m1-1h0m1 4h0m0-4h0m2 1h0m0 1h0m1-3h0m3 6h0m2-6h0m1 1h0m0 0h0m2 4h0m0 0h0m1 1h0m1-4h0m1 1h0m4 10h0m0 1h0m-2-4h0m0 3h0m-1-3h0m-1-2h0m0 1h0m-1-2h0m0 6h0m0-5h0m-1 1h0m-1-1h0m0 1h0m-1 1h0m-2 3h0m-1-4h0m-1 0h0m-1 3h0m-1-5h0m-1 1h0m0 4h0m0-1h0m-1 2h0m0-6h0m-1 3h0m0-1h0m-5 2h0m0 2h0m-1 0h0m0-2h0m-1 0h0m0-2h0m0 2h0m-1-1h0m0-2h0m-1 6h0m0-3h0m0-4h0m-2 1h0m-1 0h0m-2 1h0m-1 0h0m-1-2h0m0 1h0m-1 1h0m0-1h0m-3-1h0m-2 7h0m-1-7h0m-1 5h0m0-5h0m-1 7h0m-1-4h0m0 2h0m0-3h0m-2 3h0m-1-5h0m-2 6h0m0-5h0m-1 2h0m0 0h0m0-3h0m-3 0h0m0 7h0m-1-6h0m0-1h0m0 5h0m0 0h0m-1-3h0m-3 1h0m-2-1h0m-1-2h0m0 1h0m7 8h0m1 2h0m2 4h0m0-6h0m1 3h0m1-3h0m2 3h0m1 2h0m2-2h0m3-2h0m0 0h0m2-2h0m1 2h0m0 5h0m2-1h0m0-3h0m0-1h0m2 4h0m1-3h0m0 1h0m2 0h0m1 1h0m0-1h0m5 0h0m1 2h0m0-2h0m0-1h0m1 3h0m0-3h0m1 2h0m0-5h0m0 5h0m2 0h0m0-5h0m0 3h0m1-1h0m1 1h0m0 2h0m0-1h0m0-4h0m1 7h0m0-4h0m3 4h0m2-1h0m0-2h0m1 1h0m3-3h0m0-2h0m4 4h0m1 1h0m0-2h0m0 4h0m1-3h0m1-3h0m1 5h0m0 5h0m-1 1h0m-1 3h0m0-7h0m-2 7h0m0-4h0m0-1h0m-1 4h0m-1-4h0m-3 2h0m-1 1h0m0-4h0m0 2h0m0 3h0m-1-2h0m0-3h0m0 4h0m-2-1h0m-1-3h0m-2-1h0m0 7h0m-3-3h0m-1-3h0m0 4h0m0-1h0m-1-2h0m0 2h0m-1-3h0m-1 4h0m-2-1h0m-2 0h0m0-3h0m-1 3h0m0 3h0m0 0h0m-1-3h0m-1-3h0m-3 3h0m-1 3h0m0-6h0m-1 5h0m0-4h0m-1-2h0m0 5h0m0-2h0m-2-3h0m-1 5h0m-1-5h0m0 1h0m-1 0h0m-2 5h0m0 1h0m0-3h0m-1 2h0m0 0h0m-1-2h0m-2-1h0m-1-3h0m-1 0h0m1 8h0m3 2h0m2 3h0m1 0h0m0 1h0m0-5h0m1 6h0m0-5h0m1-2h0m3 4h0m0 3h0m1-6h0m0 0h0m0 2h0m2-1h0m1 5h0m0-7h0m1 7h0m0-3h0m1 3h0m1-4h0m1 4h0m1-5h0m2 1h0m2-2h0m0 5h0m1 1h0m2-7h0m1 0h0m0 7h0m1-1h0m1-2h0m1-4h0m1 2h0m1 2h0m2 3h0m2-6h0m1 0h0m1 3h0m2-4h0m1 2h0m1 0h0m0-2h0m0 2h0m0 4h0m0-5h0m2 2h0m0 2h0m1-4h0m0 0h0m1 2h0m1 2h0m1 0h0m0 0h0m0-4h0m1-1h0m-3 11h0m0-3h0m-1 0h0m0 0h0m-1 1h0m0 2h0m-1 2h0m0-2h0m-1 2h0m-1-3h0m-1 2h0m0-4h0m-4 2h0m-2-1h0m0 6h0m-1-4h0m-1 4h0m0-5h0m-1 3h0m-2-3h0m-3 2h0m0-2h0m-1 4h0m-1-2h0m-1 1h0m0 2h0m0 0h0m-2-2h0m0-3h0m0 5h0m0 0h0m-1-7h0m-1 4h0m0 0h0m0 2h0m-2-5h0m-4-1h0m0 0h0m-1 7h0m0-2h0m-2-5h0m0 3h0m-1 0h0m0 3h0m-1-3h0m0-2h0m-2 2h0m-2 2h0m0-1h0m-1 0h0m-2-2h0m4 10h0m0-2h0m1 4h0m0-1h0m1 1h0m1-4h0m1-1h0m1-1h0m4 4h0m0-3h0m0 2h0m1-3h0m1 1h0m0-1h0m2 1h0m1 3h0m5-2h0m5 0h0m-24 6h0" stroke="#d18a2c" stroke-width="3.2" stroke-linecap="round"/>
<polygon points="212.5,59.0 225.0,56.0 234.0,53.0 232.2,58.0 231.7,64.2 228.1,73.4 223.0,81.5 218.9,88.7 215.9,88.7 215.9,76.4 213.8,67.2" fill="#a29f35" fill-opacity="0.62"/>
<path transform="scale(.5)" d="M467 108h0m-3 1h0m-2-1h0m-1 3h0m-1 0h0m-1-2h0m-31 10h0m4 0h0m6-2h0m0 1h0m5-2h0m0 3h0m0 0h0m1-5h0m3 2h0m0 2h0m1-4h0m0 1h0m0-2h0m1-1h0m3 1h0m0 5h0m1 1h0m0-1h0m0-3h0m1-2h0m1 2h0m1 4h0m0-7h0m1 4h0m1 1h0m1-1h0m2-3h0m0 6h0m1-7h0m1 6h0m0-6h0m0 4h0m0 6h0m-1-2h0m-3 6h0m-3 0h0m-1-3h0m-3-1h0m-1-1h0m0 1h0m-1 1h0m-2 3h0m0 0h0m-2-1h0m-1-2h0m-4 3h0m0-1h0m-1-4h0m-1 2h0m-1 0h0m-3-2h0m-2 2h0m-3 1h0m-2 0h0m0 2h0m-1-6h0m-1 7h0m2 3h0m1 2h0m2 2h0m1-6h0m2 5h0m3 0h0m4 1h0m1 0h0m3-3h0m1-2h0m4 2h0m1 2h0m0 0h0m0 0h0m3 1h0m0-4h0m0-1h0m2 3h0m4-4h0m1 5h0m-4 6h0m0 4h0m0 0h0m0-3h0m-2-1h0m-6 2h0m-1-5h0m-1 0h0m-1 6h0m-1-6h0m-1 1h0m0 0h0m-1 0h0m-1 6h0m-3-4h0m-1 1h0m-2 0h0m-1-2h0m-2 4h0m0-5h0m0 3h0m-1 4h0m5 0h0m0 0h0m1 4h0m0-3h0m2 1h0m3 1h0m2-2h0m0-1h0m1 0h0m2 0h0m0 0h0m1 3h0m0-2h0m2 4h0m3-5h0m-2 9h0m-3-1h0m0 2h0m-1-2h0m0 0h0m0 6h0m-4-1h0m0-1h0m-1 2h0m-4-4h0m-1 1h0m-2 0h0m-3 3h0m-1-5h0m0 3h0m2 5h0m1-1h0m3 5h0m0 1h0m1-1h0m1-3h0m1-2h0m3 6h0m3-5h0m-10 8h0m-2 6h0m-1-4h0m-1 0h0m0 0h0m3 6h0" stroke="#a29f35" stroke-width="3.2" stroke-linecap="round"/>
<polygon points="182.2,29.4 185.2,26.9 190.3,24.3 195.0,25.0 197.0,31.0 195.4,33.5 188.3,34.0 183.2,33.0" fill="#ea7575" fill-opacity="0.7"/>
<path transform="scale(.5)" d="M368 55h0m4-1h0m0 1h0m3-3h0m7 1h0m0 1h0m4-5h0m1 1h0m3 5h0m0-5h0m3 11h0m0 2h0m-1-5h0m-1-1h0m0 5h0m0-5h0m-2 2h0m-4-2h0m0 5h0m-1-5h0m0-1h0m-2 4h0m0-4h0m-1 5h0m0 0h0m0 0h0m-2-4h0m-1 3h0m0-4h0m-1 6h0m-1-1h0m-1 0h0m-5-5h0m0 6h0m-1-6h0m-1 5h0m-2 1h0m0 0h0m6 5h0m6-3h0m2 0h0m0 2h0m2 0h0m3 1h0m5 0h0" stroke="#ea7575" stroke-width="2.8" stroke-linecap="round"/>
<path transform="scale(.5)" d="M392 65h0m1 4h0m5-3h0m0 3h0m2-4h0" stroke="#ea7575" stroke-width="2.8" stroke-linecap="round" stroke-opacity="1"/>
<path transform="scale(.5)" d="M416 86h0m8-1h0m8 21h0m2 62h0m1 14h0m1 2h0" stroke="#c37ad6" stroke-width="3.2" stroke-linecap="round" stroke-opacity="1"/>
<path transform="scale(.5)" d="M425 189h0m-3-1h0m-2 3h0m-5 7h0m7-1h0m-7 10h0m0-4h0m0-3h0m-1 1h0m-1 5h0m0 0h0m-1 1h0m-7 7h0m2-2h0m0 1h0m1 1h0m2-2h0m0-4h0m0 5h0m0-5h0m1 4h0m-4 4h0m-1 0h0m0 5h0m-2-1h0m-2-2h0m-7 11h0m3-1h0m1-1h0m0 1h0m1-3h0m0-1h0m1 0h0m-5 10h0m-9 11h0m1-3h0m0-1h0m0 3h0m1-4h0m0 5h0m2 1h0m-4 3h0m0 0h0m-1 6h0m0-1h0m-3 1h0m-1-2h0m-1 1h0m-2 1h0m-2 12h0m-1 0h0m0 0h0m-1-3h0m-1 4h0m-1-2h0" stroke="#ea7575" stroke-width="3.0" stroke-linecap="round" stroke-opacity="1"/>
<path transform="scale(.5)" d="M416 206h0m-2-4h0m4 10h0m2 4h0" stroke="#c37ad6" stroke-width="2.8" stroke-linecap="round" stroke-opacity="1"/>
<text x="26.1" y="81.8" font-size="11.5" font-weight="bold" font-style="normal" text-anchor="start" fill="#111" font-family="Liberation Sans" stroke="#111" stroke-width="0.2" textLength="50.8" lengthAdjust="spacingAndGlyphs" >Endothelial</text>
<text x="39.7" y="111.8" font-size="11.5" font-weight="bold" font-style="normal" text-anchor="start" fill="#111" font-family="Liberation Sans" stroke="#111" stroke-width="0.2" textLength="41.6" lengthAdjust="spacingAndGlyphs" >Unknown</text>
<text x="29.9" y="151.2" font-size="11.5" font-weight="bold" font-style="normal" text-anchor="start" fill="#111" font-family="Liberation Sans" stroke="#111" stroke-width="0.2" textLength="55.1" lengthAdjust="spacingAndGlyphs" >Macrophage</text>
<text x="115.1" y="150.7" font-size="11.5" font-weight="bold" font-style="normal" text-anchor="start" fill="#111" font-family="Liberation Sans" stroke="#111" stroke-width="0.2" textLength="19.4" lengthAdjust="spacingAndGlyphs" >SPG</text>
<text x="96.6" y="177.2" font-size="11.5" font-weight="bold" font-style="normal" text-anchor="start" fill="#111" font-family="Liberation Sans" stroke="#111" stroke-width="0.2" textLength="36.4" lengthAdjust="spacingAndGlyphs" >SCytes1</text>
<text x="111.9" y="198.8" font-size="11.5" font-weight="bold" font-style="normal" text-anchor="start" fill="#111" font-family="Liberation Sans" stroke="#111" stroke-width="0.2" textLength="37.2" lengthAdjust="spacingAndGlyphs" >SCytes2</text>
<text x="182.0" y="179.2" font-size="11.5" font-weight="bold" font-style="normal" text-anchor="start" fill="#111" font-family="Liberation Sans" stroke="#111" stroke-width="0.2" textLength="25.4" lengthAdjust="spacingAndGlyphs" >STids</text>
<text x="143.0" y="49.6" font-size="11.5" font-weight="bold" font-style="normal" text-anchor="start" fill="#111" font-family="Liberation Sans" stroke="#111" stroke-width="0.2" textLength="51.8" lengthAdjust="spacingAndGlyphs" >Elongating1</text>
<text x="202.3" y="60.8" font-size="11.5" font-weight="bold" font-style="normal" text-anchor="start" fill="#111" font-family="Liberation Sans" stroke="#111" stroke-width="0.2" textLength="55.0" lengthAdjust="spacingAndGlyphs" >Elongating2</text>
<text x="188.6" y="84.4" font-size="11.5" font-weight="bold" font-style="normal" text-anchor="start" fill="#111" font-family="Liberation Sans" stroke="#111" stroke-width="0.2" textLength="53.9" lengthAdjust="spacingAndGlyphs" >Elongating3</text>
<circle cx="258.1" cy="76.2" r="3.2" fill="#ea7575"/>
<text x="262.9" y="80.2" font-size="11" font-weight="bold" font-style="normal" text-anchor="start" fill="#111" font-family="Liberation Sans" stroke="#111" stroke-width="0.2" textLength="52.9" lengthAdjust="spacingAndGlyphs" >Elongating1</text>
<circle cx="258.1" cy="89.7" r="3.2" fill="#d18a2c"/>
<text x="262.9" y="93.7" font-size="11" font-weight="bold" font-style="normal" text-anchor="start" fill="#111" font-family="Liberation Sans" stroke="#111" stroke-width="0.2" textLength="53.5" lengthAdjust="spacingAndGlyphs" >Elongating2</text>
<circle cx="258.1" cy="103.1" r="3.2" fill="#a29f35"/>
<text x="262.9" y="107.1" font-size="11" font-weight="bold" font-style="normal" text-anchor="start" fill="#111" font-family="Liberation Sans" stroke="#111" stroke-width="0.2" textLength="53.5" lengthAdjust="spacingAndGlyphs" >Elongating3</text>
<circle cx="258.1" cy="116.6" r="3.2" fill="#4fae22"/>
<text x="262.9" y="120.6" font-size="11" font-weight="bold" font-style="normal" text-anchor="start" fill="#111" font-family="Liberation Sans" stroke="#111" stroke-width="0.2" textLength="50.5" lengthAdjust="spacingAndGlyphs" >Endothelial</text>
<circle cx="258.1" cy="130.1" r="3.2" fill="#4dc08a"/>
<text x="262.9" y="134.1" font-size="11" font-weight="bold" font-style="normal" text-anchor="start" fill="#111" font-family="Liberation Sans" stroke="#111" stroke-width="0.2" textLength="55.5" lengthAdjust="spacingAndGlyphs" >Macrophage</text>
<circle cx="258.1" cy="143.6" r="3.2" fill="#47bfbf"/>
<text x="262.9" y="147.6" font-size="11" font-weight="bold" font-style="normal" text-anchor="start" fill="#111" font-family="Liberation Sans" stroke="#111" stroke-width="0.2" textLength="36.5" lengthAdjust="spacingAndGlyphs" >SCytes1</text>
<circle cx="258.1" cy="157.0" r="3.2" fill="#4a9fd4"/>
<text x="262.9" y="161.0" font-size="11" font-weight="bold" font-style="normal" text-anchor="start" fill="#111" font-family="Liberation Sans" stroke="#111" stroke-width="0.2" textLength="37.0" lengthAdjust="spacingAndGlyphs" >SCytes2</text>
<circle cx="258.1" cy="170.5" r="3.2" fill="#8f8fd6"/>
<text x="262.9" y="174.5" font-size="11" font-weight="bold" font-style="normal" text-anchor="start" fill="#111" font-family="Liberation Sans" stroke="#111" stroke-width="0.2" textLength="19.5" lengthAdjust="spacingAndGlyphs" >SPG</text>
<circle cx="258.1" cy="184.0" r="3.2" fill="#c37ad6"/>
<text x="262.9" y="188.0" font-size="11" font-weight="bold" font-style="normal" text-anchor="start" fill="#111" font-family="Liberation Sans" stroke="#111" stroke-width="0.2" textLength="25.5" lengthAdjust="spacingAndGlyphs" >STids</text>
<circle cx="258.1" cy="197.4" r="3.2" fill="#d65ea3"/>
<text x="262.9" y="201.4" font-size="11" font-weight="bold" font-style="normal" text-anchor="start" fill="#111" font-family="Liberation Sans" stroke="#111" stroke-width="0.2" textLength="41.5" lengthAdjust="spacingAndGlyphs" >Unknown</text>
<text x="345.5" y="19.5" font-size="23" font-weight="normal" font-style="normal" text-anchor="start" fill="#111" font-family="Liberation Sans" >b</text>
<g transform="translate(480.8 0) scale(17.300 1)">
<path d="M0 28.0h1.04v1.8h-1.04zM3 98.2h1.04v2.3h-1.04z" fill="#c63f2f"/>
<path d="M1 28.0h1.04v1.8h-1.04zM2 31.5h1.04v1.8h-1.04zM1 36.5h1.04v2.3h-1.04zM9 52.4h1.04v2.3h-1.04zM9 62.9h1.04v2.8h-1.04zM3 81.4h1.04v1.8h-1.04zM2 93.7h1.04v2.3h-1.04zM1 95.7h1.04v2.8h-1.04zM0 106.2h1.04v1.8h-1.04zM1 106.2h1.04v1.8h-1.04zM2 114.7h1.04v1.8h-1.04zM0 116.2h1.04v2.8h-1.04zM1 116.2h1.04v2.8h-1.04zM2 120.7h1.04v2.3h-1.04zM0 122.7h1.04v1.8h-1.04zM1 131.7h1.04v1.8h-1.04zM1 133.8h1.04v1.8h-1.04zM3 133.8h1.04v1.8h-1.04zM3 150.3h1.04v2.8h-1.04zM1 162.8h1.04v2.8h-1.04zM2 162.8h1.04v2.8h-1.04zM1 170.3h1.04v2.3h-1.04zM2 177.3h1.04v1.8h-1.04zM2 200.1h1.04v1.4h-1.04zM8 202.7h1.04v2.8h-1.04zM2 207.7h1.04v1.8h-1.04zM9 211.7h1.04v1.8h-1.04zM6 216.5h1.04v1.7h-1.04zM0 219.9h1.04v1.8h-1.04zM0 221.4h1.04v2.3h-1.04z" fill="#f5e9bd"/>
<path d="M2 28.0h1.04v1.8h-1.04zM2 40.5h1.04v2.8h-1.04zM3 62.9h1.04v2.8h-1.04zM0 65.4h1.04v2.8h-1.04zM2 110.2h1.04v2.8h-1.04zM4 116.2h1.04v2.8h-1.04zM4 120.7h1.04v2.3h-1.04zM4 122.7h1.04v1.8h-1.04zM2 131.7h1.04v1.8h-1.04zM0 133.2h1.04v0.9h-1.04zM1 133.2h1.04v0.9h-1.04zM1 135.3h1.04v2.3h-1.04zM3 135.3h1.04v2.3h-1.04zM3 162.8h1.04v2.8h-1.04zM5 165.3h1.04v1.8h-1.04zM2 166.8h1.04v2.3h-1.04zM5 173.8h1.04v1.8h-1.04zM3 177.3h1.04v1.8h-1.04zM6 187.3h1.04v2.3h-1.04zM5 211.7h1.04v1.8h-1.04zM6 219.9h1.04v1.8h-1.04zM8 223.4h1.04v1.8h-1.04zM8 224.9h1.04v1.8h-1.04zM7 226.4h1.04v0.7h-1.04z" fill="#f6e2b0"/>
<path d="M3 28.0h1.04v1.8h-1.04zM6 28.0h1.04v1.8h-1.04zM5 33.0h1.04v1.8h-1.04zM6 34.5h1.04v2.3h-1.04zM2 43.0h1.04v2.3h-1.04zM2 46.9h1.04v1.8h-1.04zM0 48.4h1.04v2.8h-1.04zM5 52.4h1.04v2.3h-1.04zM6 52.4h1.04v2.3h-1.04zM7 52.4h1.04v2.3h-1.04zM6 65.4h1.04v2.8h-1.04zM4 81.4h1.04v1.8h-1.04zM6 95.7h1.04v2.8h-1.04zM1 100.2h1.04v1.8h-1.04zM1 101.7h1.04v2.8h-1.04zM0 112.7h1.04v2.3h-1.04zM1 114.7h1.04v1.8h-1.04zM1 124.2h1.04v2.8h-1.04zM2 126.7h1.04v2.3h-1.04zM0 141.8h1.04v2.8h-1.04zM1 141.8h1.04v2.8h-1.04zM3 141.8h1.04v2.8h-1.04zM6 152.8h1.04v2.8h-1.04zM1 155.3h1.04v2.3h-1.04zM1 157.3h1.04v2.3h-1.04zM3 159.3h1.04v2.3h-1.04zM9 162.8h1.04v2.8h-1.04zM1 178.8h1.04v2.8h-1.04zM1 183.3h1.04v1.8h-1.04zM3 183.3h1.04v1.8h-1.04zM0 184.8h1.04v2.8h-1.04zM1 187.3h1.04v2.3h-1.04zM2 187.3h1.04v2.3h-1.04zM1 191.3h1.04v0.6h-1.04zM3 198.6h1.04v1.8h-1.04zM3 201.2h1.04v1.8h-1.04zM3 207.7h1.04v1.8h-1.04zM1 209.2h1.04v2.8h-1.04zM2 209.2h1.04v2.8h-1.04zM4 214.0h1.04v2.8h-1.04zM0 216.5h1.04v1.7h-1.04zM2 219.9h1.04v1.8h-1.04zM6 226.4h1.04v0.7h-1.04z" fill="#f3f1cd"/>
<path d="M4 28.0h1.04v1.8h-1.04zM1 29.5h1.04v2.3h-1.04zM1 31.5h1.04v1.8h-1.04zM4 34.5h1.04v2.3h-1.04zM3 38.5h1.04v2.3h-1.04zM7 45.0h1.04v2.2h-1.04zM2 50.9h1.04v1.8h-1.04zM9 54.4h1.04v1.8h-1.04zM4 57.9h1.04v2.8h-1.04zM8 65.4h1.04v2.8h-1.04zM1 71.9h1.04v2.3h-1.04zM6 78.9h1.04v2.8h-1.04zM9 78.9h1.04v2.8h-1.04zM0 82.9h1.04v2.3h-1.04zM3 82.9h1.04v2.3h-1.04zM4 82.9h1.04v2.3h-1.04zM8 86.9h1.04v2.3h-1.04zM9 86.9h1.04v2.3h-1.04zM3 88.9h1.04v2.3h-1.04zM1 93.7h1.04v2.3h-1.04zM6 104.2h1.04v2.3h-1.04zM1 112.7h1.04v2.3h-1.04zM7 116.2h1.04v2.8h-1.04zM1 126.7h1.04v2.3h-1.04zM6 128.7h1.04v1.8h-1.04zM6 137.3h1.04v2.8h-1.04zM7 144.3h1.04v1.8h-1.04zM0 145.8h1.04v2.8h-1.04zM1 145.8h1.04v2.8h-1.04zM2 145.8h1.04v2.8h-1.04zM7 162.8h1.04v2.8h-1.04zM0 168.8h1.04v1.8h-1.04zM6 170.3h1.04v2.3h-1.04zM7 170.3h1.04v2.3h-1.04zM1 175.3h1.04v2.3h-1.04zM6 183.3h1.04v1.8h-1.04zM1 184.8h1.04v2.8h-1.04zM3 189.3h1.04v2.3h-1.04zM6 189.3h1.04v2.3h-1.04zM4 198.6h1.04v1.8h-1.04zM8 200.1h1.04v1.4h-1.04zM2 201.2h1.04v1.8h-1.04zM5 205.2h1.04v2.8h-1.04zM1 211.7h1.04v1.8h-1.04zM3 211.7h1.04v1.8h-1.04z" fill="#f3f3d0"/>
<path d="M5 28.0h1.04v1.8h-1.04zM7 29.5h1.04v2.3h-1.04zM4 38.5h1.04v2.3h-1.04zM7 40.5h1.04v2.8h-1.04zM8 40.5h1.04v2.8h-1.04zM7 43.0h1.04v2.3h-1.04zM8 45.0h1.04v2.2h-1.04zM9 45.0h1.04v2.2h-1.04zM4 48.4h1.04v2.8h-1.04zM7 57.9h1.04v2.8h-1.04zM4 60.4h1.04v2.8h-1.04zM8 67.9h1.04v1.8h-1.04zM7 69.4h1.04v2.8h-1.04zM8 69.4h1.04v2.8h-1.04zM4 71.9h1.04v2.3h-1.04zM9 71.9h1.04v2.3h-1.04zM9 76.4h1.04v2.8h-1.04zM8 78.9h1.04v2.8h-1.04zM6 82.9h1.04v2.3h-1.04zM5 88.9h1.04v2.3h-1.04zM5 90.9h1.04v2.8h-1.04zM5 95.7h1.04v2.8h-1.04zM8 95.7h1.04v2.8h-1.04zM8 107.7h1.04v2.8h-1.04zM7 110.2h1.04v2.8h-1.04zM7 118.7h1.04v2.3h-1.04zM5 124.2h1.04v2.8h-1.04zM5 128.7h1.04v1.8h-1.04zM8 137.3h1.04v2.8h-1.04zM6 139.8h1.04v2.3h-1.04zM9 144.3h1.04v1.8h-1.04zM8 148.3h1.04v2.3h-1.04zM7 152.8h1.04v2.8h-1.04zM7 155.3h1.04v2.3h-1.04zM2 161.3h1.04v1.8h-1.04zM6 161.3h1.04v1.8h-1.04zM8 165.3h1.04v1.8h-1.04zM8 166.8h1.04v2.3h-1.04zM8 172.3h1.04v1.8h-1.04zM0 178.8h1.04v2.8h-1.04zM2 178.8h1.04v2.8h-1.04zM3 181.3h1.04v2.3h-1.04zM8 189.3h1.04v2.3h-1.04zM2 193.1h1.04v2.8h-1.04zM2 197.1h1.04v1.8h-1.04zM3 197.1h1.04v1.8h-1.04zM4 207.7h1.04v1.8h-1.04zM8 211.7h1.04v1.8h-1.04zM3 216.5h1.04v1.7h-1.04zM4 217.9h1.04v2.3h-1.04zM0 226.4h1.04v0.7h-1.04zM1 226.4h1.04v0.7h-1.04z" fill="#ebf3dc"/>
<path d="M7 28.0h1.04v1.8h-1.04zM8 29.5h1.04v2.3h-1.04zM7 38.5h1.04v2.3h-1.04zM5 43.0h1.04v2.3h-1.04zM6 43.0h1.04v2.3h-1.04zM8 43.0h1.04v2.3h-1.04zM4 50.9h1.04v1.8h-1.04zM2 55.9h1.04v2.3h-1.04zM8 60.4h1.04v2.8h-1.04zM5 71.9h1.04v2.3h-1.04zM8 76.4h1.04v2.8h-1.04zM6 90.9h1.04v2.8h-1.04zM7 101.7h1.04v2.8h-1.04zM9 101.7h1.04v2.8h-1.04zM5 106.2h1.04v1.8h-1.04zM9 110.2h1.04v2.8h-1.04zM7 114.7h1.04v1.8h-1.04zM9 118.7h1.04v2.3h-1.04zM7 120.7h1.04v2.3h-1.04zM5 122.7h1.04v1.8h-1.04zM7 122.7h1.04v1.8h-1.04zM5 130.2h1.04v1.8h-1.04zM9 131.7h1.04v1.8h-1.04zM8 133.8h1.04v1.8h-1.04zM9 135.3h1.04v2.3h-1.04zM7 141.8h1.04v2.8h-1.04zM9 172.3h1.04v1.8h-1.04zM3 178.8h1.04v2.8h-1.04zM6 181.3h1.04v2.3h-1.04zM8 191.3h1.04v0.6h-1.04zM2 191.6h1.04v1.8h-1.04zM0 205.2h1.04v2.8h-1.04zM0 213.2h1.04v1.1h-1.04zM2 226.4h1.04v0.7h-1.04zM3 226.4h1.04v0.7h-1.04z" fill="#e8f2df"/>
<path d="M8 28.0h1.04v1.8h-1.04zM5 38.5h1.04v2.3h-1.04zM3 43.0h1.04v2.3h-1.04zM5 45.0h1.04v2.2h-1.04zM4 46.9h1.04v1.8h-1.04zM3 48.4h1.04v2.8h-1.04zM9 48.4h1.04v2.8h-1.04zM6 50.9h1.04v1.8h-1.04zM0 55.9h1.04v2.3h-1.04zM5 65.4h1.04v2.8h-1.04zM5 69.4h1.04v2.8h-1.04zM6 76.4h1.04v2.8h-1.04zM7 76.4h1.04v2.8h-1.04zM4 86.9h1.04v2.3h-1.04zM5 86.9h1.04v2.3h-1.04zM6 86.9h1.04v2.3h-1.04zM7 86.9h1.04v2.3h-1.04zM6 106.2h1.04v1.8h-1.04zM7 107.7h1.04v2.8h-1.04zM5 110.2h1.04v2.8h-1.04zM1 120.7h1.04v2.3h-1.04zM6 120.7h1.04v2.3h-1.04zM6 126.7h1.04v2.3h-1.04zM0 139.8h1.04v2.3h-1.04zM7 148.3h1.04v2.3h-1.04zM1 152.8h1.04v2.8h-1.04zM0 161.3h1.04v1.8h-1.04zM6 178.8h1.04v2.8h-1.04zM1 189.3h1.04v2.3h-1.04zM2 189.3h1.04v2.3h-1.04zM3 191.3h1.04v0.6h-1.04zM0 191.6h1.04v1.8h-1.04zM3 191.6h1.04v1.8h-1.04zM8 191.6h1.04v1.8h-1.04zM1 197.1h1.04v1.8h-1.04zM2 198.6h1.04v1.8h-1.04zM3 200.1h1.04v1.4h-1.04zM4 209.2h1.04v2.8h-1.04zM2 211.7h1.04v1.8h-1.04zM1 213.2h1.04v1.1h-1.04zM4 219.9h1.04v1.8h-1.04zM2 223.4h1.04v1.8h-1.04zM1 224.9h1.04v1.8h-1.04zM2 224.9h1.04v1.8h-1.04zM5 226.4h1.04v0.7h-1.04z" fill="#eef3d7"/>
<path d="M9 28.0h1.04v1.8h-1.04zM5 31.5h1.04v1.8h-1.04zM6 31.5h1.04v1.8h-1.04zM7 31.5h1.04v1.8h-1.04zM9 38.5h1.04v2.3h-1.04zM9 40.5h1.04v2.8h-1.04zM7 46.9h1.04v1.8h-1.04zM4 55.9h1.04v2.3h-1.04zM5 57.9h1.04v2.8h-1.04zM9 67.9h1.04v1.8h-1.04zM4 69.4h1.04v2.8h-1.04zM9 69.4h1.04v2.8h-1.04zM6 71.9h1.04v2.3h-1.04zM4 76.4h1.04v2.8h-1.04zM7 78.9h1.04v2.8h-1.04zM9 82.9h1.04v2.3h-1.04zM1 84.9h1.04v2.3h-1.04zM4 88.9h1.04v2.3h-1.04zM4 90.9h1.04v2.8h-1.04zM8 90.9h1.04v2.8h-1.04zM8 100.2h1.04v1.8h-1.04zM8 101.7h1.04v2.8h-1.04zM5 104.2h1.04v2.3h-1.04zM8 104.2h1.04v2.3h-1.04zM9 106.2h1.04v1.8h-1.04zM5 112.7h1.04v2.3h-1.04zM6 114.7h1.04v1.8h-1.04zM8 120.7h1.04v2.3h-1.04zM6 124.2h1.04v2.8h-1.04zM5 131.7h1.04v1.8h-1.04zM7 131.7h1.04v1.8h-1.04zM1 139.8h1.04v2.3h-1.04zM7 157.3h1.04v2.3h-1.04zM8 157.3h1.04v2.3h-1.04zM3 161.3h1.04v1.8h-1.04zM7 165.3h1.04v1.8h-1.04zM8 168.8h1.04v1.8h-1.04zM9 170.3h1.04v2.3h-1.04zM8 173.8h1.04v1.8h-1.04zM8 178.8h1.04v2.8h-1.04zM2 183.3h1.04v1.8h-1.04zM8 183.3h1.04v1.8h-1.04zM9 187.3h1.04v2.3h-1.04zM4 191.6h1.04v1.8h-1.04zM4 193.1h1.04v2.8h-1.04zM0 195.6h1.04v1.8h-1.04zM8 197.1h1.04v1.8h-1.04zM9 197.1h1.04v1.8h-1.04zM4 201.2h1.04v1.8h-1.04zM8 201.2h1.04v1.8h-1.04zM4 211.7h1.04v1.8h-1.04zM2 213.2h1.04v1.1h-1.04zM3 223.4h1.04v1.8h-1.04zM4 223.4h1.04v1.8h-1.04zM3 224.9h1.04v1.8h-1.04zM5 224.9h1.04v1.8h-1.04z" fill="#e9f3de"/>
<path d="M0 29.5h1.04v2.3h-1.04zM2 73.9h1.04v2.8h-1.04zM3 95.7h1.04v2.8h-1.04zM4 133.8h1.04v1.8h-1.04zM4 135.3h1.04v2.3h-1.04zM7 202.7h1.04v2.8h-1.04z" fill="#ca4432"/>
<path d="M2 29.5h1.04v2.3h-1.04zM1 33.0h1.04v1.8h-1.04zM3 34.5h1.04v2.3h-1.04zM1 38.5h1.04v2.3h-1.04zM2 48.4h1.04v2.8h-1.04zM4 54.4h1.04v1.8h-1.04zM5 54.4h1.04v1.8h-1.04zM1 57.9h1.04v2.8h-1.04zM0 60.4h1.04v2.8h-1.04zM8 62.9h1.04v2.8h-1.04zM3 67.9h1.04v1.8h-1.04zM1 76.4h1.04v2.8h-1.04zM6 81.4h1.04v1.8h-1.04zM1 93.4h1.04v0.6h-1.04zM0 93.7h1.04v2.3h-1.04zM2 104.2h1.04v2.3h-1.04zM0 110.2h1.04v2.8h-1.04zM0 130.2h1.04v1.8h-1.04zM7 133.2h1.04v0.9h-1.04zM6 133.8h1.04v1.8h-1.04zM6 135.3h1.04v2.3h-1.04zM0 137.3h1.04v2.8h-1.04zM2 137.3h1.04v2.8h-1.04zM5 139.8h1.04v2.3h-1.04zM2 141.8h1.04v2.8h-1.04zM6 144.3h1.04v1.8h-1.04zM5 145.8h1.04v2.8h-1.04zM2 150.3h1.04v2.8h-1.04zM6 150.3h1.04v2.8h-1.04zM2 152.8h1.04v2.8h-1.04zM2 155.3h1.04v2.3h-1.04zM6 155.3h1.04v2.3h-1.04zM0 157.3h1.04v2.3h-1.04zM5 157.3h1.04v2.3h-1.04zM2 165.3h1.04v1.8h-1.04zM0 172.3h1.04v1.8h-1.04zM2 175.3h1.04v2.3h-1.04zM0 183.3h1.04v1.8h-1.04zM3 187.3h1.04v2.3h-1.04zM6 191.3h1.04v0.6h-1.04zM0 197.1h1.04v1.8h-1.04zM0 201.2h1.04v1.8h-1.04zM0 214.0h1.04v2.8h-1.04zM3 214.0h1.04v2.8h-1.04zM0 217.9h1.04v2.3h-1.04z" fill="#f4ecc3"/>
<path d="M3 29.5h1.04v2.3h-1.04zM4 29.5h1.04v2.3h-1.04zM5 36.5h1.04v2.3h-1.04zM6 36.5h1.04v2.3h-1.04zM9 36.5h1.04v2.3h-1.04zM5 40.5h1.04v2.8h-1.04zM1 43.0h1.04v2.3h-1.04zM3 46.9h1.04v1.8h-1.04zM6 46.9h1.04v1.8h-1.04zM5 48.4h1.04v2.8h-1.04zM7 50.9h1.04v1.8h-1.04zM3 55.9h1.04v2.3h-1.04zM1 60.4h1.04v2.8h-1.04zM9 65.4h1.04v2.8h-1.04zM5 67.9h1.04v1.8h-1.04zM6 67.9h1.04v1.8h-1.04zM5 76.4h1.04v2.8h-1.04zM5 82.9h1.04v2.3h-1.04zM8 82.9h1.04v2.3h-1.04zM7 95.7h1.04v2.8h-1.04zM9 98.2h1.04v2.3h-1.04zM6 100.2h1.04v1.8h-1.04zM7 100.2h1.04v1.8h-1.04zM7 104.2h1.04v2.3h-1.04zM8 110.2h1.04v2.8h-1.04zM6 112.7h1.04v2.3h-1.04zM5 116.2h1.04v2.8h-1.04zM5 118.7h1.04v2.3h-1.04zM8 118.7h1.04v2.3h-1.04zM8 122.7h1.04v1.8h-1.04zM7 128.7h1.04v1.8h-1.04zM1 130.2h1.04v1.8h-1.04zM6 130.2h1.04v1.8h-1.04zM7 135.3h1.04v2.3h-1.04zM7 137.3h1.04v2.8h-1.04zM9 148.3h1.04v2.3h-1.04zM9 155.3h1.04v2.3h-1.04zM9 166.8h1.04v2.3h-1.04zM7 173.8h1.04v1.8h-1.04zM8 184.8h1.04v2.8h-1.04zM3 193.1h1.04v2.8h-1.04zM1 195.6h1.04v1.8h-1.04zM8 198.6h1.04v1.8h-1.04zM1 205.2h1.04v2.8h-1.04zM9 205.2h1.04v2.8h-1.04zM5 216.5h1.04v1.7h-1.04zM2 217.9h1.04v2.3h-1.04zM3 217.9h1.04v2.3h-1.04zM3 219.9h1.04v1.8h-1.04z" fill="#ecf3d9"/>
<path d="M5 29.5h1.04v2.3h-1.04zM8 31.5h1.04v1.8h-1.04zM4 43.0h1.04v2.3h-1.04zM6 48.4h1.04v2.8h-1.04zM5 60.4h1.04v2.8h-1.04zM6 60.4h1.04v2.8h-1.04zM9 60.4h1.04v2.8h-1.04zM5 78.9h1.04v2.8h-1.04zM5 84.9h1.04v2.3h-1.04zM7 93.7h1.04v2.3h-1.04zM9 93.7h1.04v2.3h-1.04zM5 100.2h1.04v1.8h-1.04zM9 104.2h1.04v2.3h-1.04zM8 124.2h1.04v2.8h-1.04zM5 126.7h1.04v2.3h-1.04zM8 130.2h1.04v1.8h-1.04zM9 133.8h1.04v1.8h-1.04zM8 139.8h1.04v2.3h-1.04zM9 141.8h1.04v2.8h-1.04zM7 145.8h1.04v2.8h-1.04zM9 152.8h1.04v2.8h-1.04zM9 168.8h1.04v1.8h-1.04zM7 172.3h1.04v1.8h-1.04zM9 173.8h1.04v1.8h-1.04zM7 175.3h1.04v2.3h-1.04zM9 175.3h1.04v2.3h-1.04zM9 183.3h1.04v1.8h-1.04zM8 193.1h1.04v2.8h-1.04zM9 198.6h1.04v1.8h-1.04zM3 205.2h1.04v2.8h-1.04zM3 213.2h1.04v1.1h-1.04zM4 224.9h1.04v1.8h-1.04z" fill="#e4f0e3"/>
<path d="M6 29.5h1.04v2.3h-1.04zM3 31.5h1.04v1.8h-1.04zM9 33.0h1.04v1.8h-1.04zM4 40.5h1.04v2.8h-1.04zM3 45.0h1.04v2.2h-1.04zM8 48.4h1.04v2.8h-1.04zM3 50.9h1.04v1.8h-1.04zM9 50.9h1.04v1.8h-1.04zM7 54.4h1.04v1.8h-1.04zM6 57.9h1.04v2.8h-1.04zM3 60.4h1.04v2.8h-1.04zM7 65.4h1.04v2.8h-1.04zM3 69.4h1.04v2.8h-1.04zM5 73.9h1.04v2.8h-1.04zM8 81.4h1.04v1.8h-1.04zM1 82.9h1.04v2.3h-1.04zM7 88.9h1.04v2.3h-1.04zM1 90.9h1.04v2.8h-1.04zM3 90.9h1.04v2.8h-1.04zM5 93.4h1.04v0.6h-1.04zM9 93.4h1.04v0.6h-1.04zM5 98.2h1.04v2.3h-1.04zM7 98.2h1.04v2.3h-1.04zM6 101.7h1.04v2.8h-1.04zM7 106.2h1.04v1.8h-1.04zM0 114.7h1.04v1.8h-1.04zM6 118.7h1.04v2.3h-1.04zM6 122.7h1.04v1.8h-1.04zM7 124.2h1.04v2.8h-1.04zM6 145.8h1.04v2.8h-1.04zM2 157.3h1.04v2.3h-1.04zM7 177.3h1.04v1.8h-1.04zM0 191.3h1.04v0.6h-1.04zM1 191.6h1.04v1.8h-1.04zM1 193.1h1.04v2.8h-1.04zM0 200.1h1.04v1.4h-1.04zM3 209.2h1.04v2.8h-1.04zM0 211.7h1.04v1.8h-1.04zM1 219.9h1.04v1.8h-1.04zM0 224.9h1.04v1.8h-1.04z" fill="#f1f3d2"/>
<path d="M9 29.5h1.04v2.3h-1.04zM8 38.5h1.04v2.3h-1.04zM4 45.0h1.04v2.2h-1.04zM7 48.4h1.04v2.8h-1.04zM5 55.9h1.04v2.3h-1.04zM7 60.4h1.04v2.8h-1.04zM6 84.9h1.04v2.3h-1.04zM7 84.9h1.04v2.3h-1.04zM8 84.9h1.04v2.3h-1.04zM7 90.9h1.04v2.8h-1.04zM8 98.2h1.04v2.3h-1.04zM5 101.7h1.04v2.8h-1.04zM8 106.2h1.04v1.8h-1.04zM5 114.7h1.04v1.8h-1.04zM8 114.7h1.04v1.8h-1.04zM9 116.2h1.04v2.8h-1.04zM5 120.7h1.04v2.3h-1.04zM9 128.7h1.04v1.8h-1.04zM8 131.7h1.04v1.8h-1.04zM7 133.8h1.04v1.8h-1.04zM7 150.3h1.04v2.8h-1.04zM9 165.3h1.04v1.8h-1.04zM8 170.3h1.04v2.3h-1.04zM8 175.3h1.04v2.3h-1.04zM9 177.3h1.04v1.8h-1.04zM2 181.3h1.04v2.3h-1.04zM9 184.8h1.04v2.8h-1.04zM2 195.6h1.04v1.8h-1.04zM4 195.6h1.04v1.8h-1.04zM2 205.2h1.04v2.8h-1.04zM8 213.2h1.04v1.1h-1.04z" fill="#e7f2e1"/>
<path d="M0 31.5h1.04v1.8h-1.04zM1 50.9h1.04v1.8h-1.04zM4 152.8h1.04v2.8h-1.04zM4 155.3h1.04v2.3h-1.04zM9 219.9h1.04v1.8h-1.04z" fill="#d24e38"/>
<path d="M4 31.5h1.04v1.8h-1.04zM9 31.5h1.04v1.8h-1.04zM8 55.9h1.04v2.3h-1.04zM9 55.9h1.04v2.3h-1.04zM4 84.9h1.04v2.3h-1.04zM9 100.2h1.04v1.8h-1.04zM9 107.7h1.04v2.8h-1.04zM7 112.7h1.04v2.3h-1.04zM9 114.7h1.04v1.8h-1.04zM9 120.7h1.04v2.3h-1.04zM7 126.7h1.04v2.3h-1.04zM9 130.2h1.04v1.8h-1.04zM7 139.8h1.04v2.3h-1.04zM9 139.8h1.04v2.3h-1.04zM8 145.8h1.04v2.8h-1.04zM9 150.3h1.04v2.8h-1.04zM8 152.8h1.04v2.8h-1.04zM7 159.3h1.04v2.3h-1.04zM8 159.3h1.04v2.3h-1.04zM8 181.3h1.04v2.3h-1.04z" fill="#e3efe4"/>
<path d="M0 33.0h1.04v1.8h-1.04zM0 34.5h1.04v2.3h-1.04zM1 52.4h1.04v2.3h-1.04zM2 65.4h1.04v2.8h-1.04z" fill="#c84230"/>
<path d="M2 33.0h1.04v1.8h-1.04zM0 86.9h1.04v2.3h-1.04zM4 104.2h1.04v2.3h-1.04zM4 107.7h1.04v2.8h-1.04zM4 124.2h1.04v2.8h-1.04zM1 128.7h1.04v1.8h-1.04zM2 128.7h1.04v1.8h-1.04zM4 178.8h1.04v2.8h-1.04zM7 178.8h1.04v2.8h-1.04zM4 189.3h1.04v2.3h-1.04zM9 202.7h1.04v2.8h-1.04zM9 207.7h1.04v1.8h-1.04zM7 217.9h1.04v2.3h-1.04z" fill="#f5dca9"/>
<path d="M3 33.0h1.04v1.8h-1.04zM1 34.5h1.04v2.3h-1.04zM0 54.4h1.04v1.8h-1.04zM5 62.9h1.04v2.8h-1.04zM0 71.9h1.04v2.3h-1.04zM3 78.9h1.04v2.8h-1.04zM0 81.4h1.04v1.8h-1.04zM1 98.2h1.04v2.3h-1.04zM2 100.2h1.04v1.8h-1.04zM1 118.7h1.04v2.3h-1.04zM2 122.7h1.04v1.8h-1.04zM0 128.7h1.04v1.8h-1.04zM2 130.2h1.04v1.8h-1.04zM0 135.3h1.04v2.3h-1.04zM3 145.8h1.04v2.8h-1.04zM5 150.3h1.04v2.8h-1.04zM3 157.3h1.04v2.3h-1.04zM0 162.8h1.04v2.8h-1.04zM1 165.3h1.04v1.8h-1.04zM3 165.3h1.04v1.8h-1.04zM0 166.8h1.04v2.3h-1.04zM7 195.6h1.04v1.8h-1.04zM1 200.1h1.04v1.4h-1.04zM6 201.2h1.04v1.8h-1.04zM9 201.2h1.04v1.8h-1.04zM0 202.7h1.04v2.8h-1.04zM3 202.7h1.04v2.8h-1.04zM1 207.7h1.04v1.8h-1.04zM5 209.2h1.04v2.8h-1.04zM1 221.4h1.04v2.3h-1.04zM8 226.4h1.04v0.7h-1.04z" fill="#f5e5b6"/>
<path d="M4 33.0h1.04v1.8h-1.04zM8 33.0h1.04v1.8h-1.04zM5 34.5h1.04v2.3h-1.04zM3 36.5h1.04v2.3h-1.04zM8 52.4h1.04v2.3h-1.04zM3 57.9h1.04v2.8h-1.04zM4 65.4h1.04v2.8h-1.04zM7 67.9h1.04v1.8h-1.04zM6 69.4h1.04v2.8h-1.04zM8 73.9h1.04v2.8h-1.04zM9 73.9h1.04v2.8h-1.04zM3 76.4h1.04v2.8h-1.04zM5 81.4h1.04v1.8h-1.04zM7 81.4h1.04v1.8h-1.04zM6 88.9h1.04v2.3h-1.04zM0 90.9h1.04v2.8h-1.04zM7 93.4h1.04v0.6h-1.04zM2 112.7h1.04v2.3h-1.04zM8 116.2h1.04v2.8h-1.04zM1 122.7h1.04v1.8h-1.04zM0 126.7h1.04v2.3h-1.04zM2 133.8h1.04v1.8h-1.04zM2 139.8h1.04v2.3h-1.04zM6 141.8h1.04v2.8h-1.04zM2 144.3h1.04v1.8h-1.04zM6 148.3h1.04v2.3h-1.04zM1 150.3h1.04v2.8h-1.04zM0 152.8h1.04v2.8h-1.04zM1 161.3h1.04v1.8h-1.04zM1 168.8h1.04v1.8h-1.04zM2 168.8h1.04v1.8h-1.04zM5 168.8h1.04v1.8h-1.04zM6 168.8h1.04v1.8h-1.04zM2 170.3h1.04v2.3h-1.04zM2 172.3h1.04v1.8h-1.04zM1 173.8h1.04v1.8h-1.04zM6 173.8h1.04v1.8h-1.04zM6 177.3h1.04v1.8h-1.04zM0 209.2h1.04v2.8h-1.04zM2 216.5h1.04v1.7h-1.04zM4 221.4h1.04v2.3h-1.04z" fill="#f4f0ca"/>
<path d="M6 33.0h1.04v1.8h-1.04zM7 33.0h1.04v1.8h-1.04zM1 45.0h1.04v2.2h-1.04zM0 50.9h1.04v1.8h-1.04zM5 50.9h1.04v1.8h-1.04zM3 52.4h1.04v2.3h-1.04zM1 65.4h1.04v2.8h-1.04zM1 69.4h1.04v2.8h-1.04zM3 71.9h1.04v2.3h-1.04zM6 73.9h1.04v2.8h-1.04zM7 73.9h1.04v2.8h-1.04zM1 86.9h1.04v2.3h-1.04zM1 88.9h1.04v2.3h-1.04zM3 93.4h1.04v0.6h-1.04zM6 98.2h1.04v2.3h-1.04zM0 100.2h1.04v1.8h-1.04zM1 107.7h1.04v2.8h-1.04zM6 107.7h1.04v2.8h-1.04zM1 137.3h1.04v2.8h-1.04zM2 159.3h1.04v2.3h-1.04zM0 170.3h1.04v2.3h-1.04zM3 172.3h1.04v1.8h-1.04zM5 172.3h1.04v1.8h-1.04zM6 172.3h1.04v1.8h-1.04zM0 173.8h1.04v1.8h-1.04zM0 175.3h1.04v2.3h-1.04zM5 175.3h1.04v2.3h-1.04zM6 175.3h1.04v2.3h-1.04zM2 184.8h1.04v2.8h-1.04zM0 189.3h1.04v2.3h-1.04zM0 198.6h1.04v1.8h-1.04zM4 200.1h1.04v1.4h-1.04zM1 201.2h1.04v1.8h-1.04zM4 202.7h1.04v2.8h-1.04zM8 207.7h1.04v1.8h-1.04zM1 217.9h1.04v2.3h-1.04zM5 217.9h1.04v2.3h-1.04zM5 219.9h1.04v1.8h-1.04zM2 221.4h1.04v2.3h-1.04zM3 221.4h1.04v2.3h-1.04zM6 223.4h1.04v1.8h-1.04z" fill="#f4eec6"/>
<path d="M2 34.5h1.04v2.3h-1.04zM4 106.2h1.04v1.8h-1.04zM4 118.7h1.04v2.3h-1.04zM4 128.7h1.04v1.8h-1.04zM7 219.9h1.04v1.8h-1.04zM8 219.9h1.04v1.8h-1.04z" fill="#f4d49f"/>
<path d="M7 34.5h1.04v2.3h-1.04zM1 40.5h1.04v2.8h-1.04zM3 40.5h1.04v2.8h-1.04zM2 45.0h1.04v2.2h-1.04zM4 52.4h1.04v2.3h-1.04zM2 54.4h1.04v1.8h-1.04zM3 54.4h1.04v1.8h-1.04zM6 54.4h1.04v1.8h-1.04zM8 54.4h1.04v1.8h-1.04zM4 62.9h1.04v2.8h-1.04zM7 62.9h1.04v2.8h-1.04zM1 67.9h1.04v1.8h-1.04zM0 76.4h1.04v2.8h-1.04zM9 81.4h1.04v1.8h-1.04zM3 86.9h1.04v2.3h-1.04zM0 95.7h1.04v2.8h-1.04zM2 95.7h1.04v2.8h-1.04zM0 101.7h1.04v2.8h-1.04zM6 116.2h1.04v2.8h-1.04zM5 133.2h1.04v0.9h-1.04zM2 135.3h1.04v2.3h-1.04zM3 137.3h1.04v2.8h-1.04zM0 144.3h1.04v1.8h-1.04zM1 144.3h1.04v1.8h-1.04zM3 152.8h1.04v2.8h-1.04zM0 155.3h1.04v2.3h-1.04zM6 157.3h1.04v2.3h-1.04zM5 159.3h1.04v2.3h-1.04zM5 161.3h1.04v1.8h-1.04zM0 165.3h1.04v1.8h-1.04zM1 166.8h1.04v2.3h-1.04zM6 166.8h1.04v2.3h-1.04zM3 173.8h1.04v1.8h-1.04zM3 175.3h1.04v2.3h-1.04zM0 177.3h1.04v1.8h-1.04zM6 184.8h1.04v2.8h-1.04zM0 207.7h1.04v1.8h-1.04zM9 209.2h1.04v2.8h-1.04zM5 213.2h1.04v1.1h-1.04zM6 213.2h1.04v1.1h-1.04zM2 214.0h1.04v2.8h-1.04zM1 216.5h1.04v1.7h-1.04zM6 217.9h1.04v2.3h-1.04zM0 223.4h1.04v1.8h-1.04z" fill="#f4eac0"/>
<path d="M8 34.5h1.04v2.3h-1.04zM9 34.5h1.04v2.3h-1.04zM4 36.5h1.04v2.3h-1.04zM7 36.5h1.04v2.3h-1.04zM8 36.5h1.04v2.3h-1.04zM6 38.5h1.04v2.3h-1.04zM6 40.5h1.04v2.8h-1.04zM9 43.0h1.04v2.3h-1.04zM6 45.0h1.04v2.2h-1.04zM0 46.9h1.04v1.8h-1.04zM8 50.9h1.04v1.8h-1.04zM8 57.9h1.04v2.8h-1.04zM9 57.9h1.04v2.8h-1.04zM4 67.9h1.04v1.8h-1.04zM7 71.9h1.04v2.3h-1.04zM4 78.9h1.04v2.8h-1.04zM0 84.9h1.04v2.3h-1.04zM3 84.9h1.04v2.3h-1.04zM8 88.9h1.04v2.3h-1.04zM9 88.9h1.04v2.3h-1.04zM4 93.4h1.04v0.6h-1.04zM6 93.4h1.04v0.6h-1.04zM8 93.4h1.04v0.6h-1.04zM6 93.7h1.04v2.3h-1.04zM6 110.2h1.04v2.8h-1.04zM8 128.7h1.04v1.8h-1.04zM6 131.7h1.04v1.8h-1.04zM8 133.2h1.04v0.9h-1.04zM9 133.2h1.04v0.9h-1.04zM0 133.8h1.04v1.8h-1.04zM8 135.3h1.04v2.3h-1.04zM0 150.3h1.04v2.8h-1.04zM0 159.3h1.04v2.3h-1.04zM1 159.3h1.04v2.3h-1.04zM6 159.3h1.04v2.3h-1.04zM8 162.8h1.04v2.8h-1.04zM7 166.8h1.04v2.3h-1.04zM7 168.8h1.04v1.8h-1.04zM1 172.3h1.04v1.8h-1.04zM8 177.3h1.04v1.8h-1.04zM0 181.3h1.04v2.3h-1.04zM1 181.3h1.04v2.3h-1.04zM3 184.8h1.04v2.8h-1.04zM8 187.3h1.04v2.3h-1.04zM2 191.3h1.04v0.6h-1.04zM0 193.1h1.04v2.8h-1.04zM4 197.1h1.04v1.8h-1.04zM1 198.6h1.04v1.8h-1.04zM9 200.1h1.04v1.4h-1.04zM8 209.2h1.04v2.8h-1.04zM9 213.2h1.04v1.1h-1.04zM4 216.5h1.04v1.7h-1.04zM1 223.4h1.04v1.8h-1.04zM5 223.4h1.04v1.8h-1.04z" fill="#f0f3d5"/>
<path d="M0 36.5h1.04v2.3h-1.04zM1 48.4h1.04v2.8h-1.04zM1 54.4h1.04v1.8h-1.04zM2 60.4h1.04v2.8h-1.04zM2 69.4h1.04v2.8h-1.04zM3 104.2h1.04v2.3h-1.04zM4 139.8h1.04v2.3h-1.04zM7 201.2h1.04v1.8h-1.04zM9 221.4h1.04v2.3h-1.04z" fill="#d04b37"/>
<path d="M2 36.5h1.04v2.3h-1.04zM2 38.5h1.04v2.3h-1.04zM1 73.9h1.04v2.8h-1.04zM1 81.4h1.04v1.8h-1.04zM0 104.2h1.04v2.3h-1.04zM2 106.2h1.04v1.8h-1.04zM4 114.7h1.04v1.8h-1.04zM0 118.7h1.04v2.3h-1.04zM4 126.7h1.04v2.3h-1.04zM5 135.3h1.04v2.3h-1.04zM5 137.3h1.04v2.8h-1.04zM5 144.3h1.04v1.8h-1.04zM2 148.3h1.04v2.3h-1.04zM3 155.3h1.04v2.3h-1.04zM6 165.3h1.04v1.8h-1.04zM5 166.8h1.04v2.3h-1.04zM1 177.3h1.04v1.8h-1.04zM7 181.3h1.04v2.3h-1.04zM5 201.2h1.04v1.8h-1.04zM6 205.2h1.04v2.8h-1.04zM6 209.2h1.04v2.8h-1.04zM1 214.0h1.04v2.8h-1.04zM5 221.4h1.04v2.3h-1.04zM7 224.9h1.04v1.8h-1.04z" fill="#f6e4b3"/>
<path d="M0 38.5h1.04v2.3h-1.04zM0 40.5h1.04v2.8h-1.04zM2 71.9h1.04v2.3h-1.04zM2 76.4h1.04v2.8h-1.04zM3 93.7h1.04v2.3h-1.04zM3 101.7h1.04v2.8h-1.04zM3 116.2h1.04v2.8h-1.04zM4 145.8h1.04v2.8h-1.04zM4 150.3h1.04v2.8h-1.04zM4 157.3h1.04v2.3h-1.04zM7 207.7h1.04v1.8h-1.04z" fill="#d4503a"/>
<path d="M0 43.0h1.04v2.3h-1.04zM2 88.9h1.04v2.3h-1.04zM3 114.7h1.04v1.8h-1.04zM3 122.7h1.04v1.8h-1.04zM3 131.7h1.04v1.8h-1.04z" fill="#dc6748"/>
<path d="M0 45.0h1.04v2.2h-1.04zM3 124.2h1.04v2.8h-1.04zM4 159.3h1.04v2.3h-1.04z" fill="#e07250"/>
<path d="M1 46.9h1.04v1.8h-1.04zM2 67.9h1.04v1.8h-1.04zM2 81.4h1.04v1.8h-1.04zM3 106.2h1.04v1.8h-1.04zM3 107.7h1.04v2.8h-1.04zM3 110.2h1.04v2.8h-1.04zM4 141.8h1.04v2.8h-1.04zM4 144.3h1.04v1.8h-1.04zM4 148.3h1.04v2.3h-1.04zM4 162.8h1.04v2.8h-1.04z" fill="#ce4935"/>
<path d="M5 46.9h1.04v1.8h-1.04zM8 46.9h1.04v1.8h-1.04zM9 46.9h1.04v1.8h-1.04zM8 71.9h1.04v2.3h-1.04zM7 82.9h1.04v2.3h-1.04zM9 84.9h1.04v2.3h-1.04zM9 90.9h1.04v2.8h-1.04zM5 93.7h1.04v2.3h-1.04zM8 93.7h1.04v2.3h-1.04zM9 95.7h1.04v2.8h-1.04zM5 107.7h1.04v2.8h-1.04zM9 122.7h1.04v1.8h-1.04zM9 124.2h1.04v2.8h-1.04zM8 141.8h1.04v2.8h-1.04zM8 144.3h1.04v1.8h-1.04zM8 155.3h1.04v2.3h-1.04zM9 157.3h1.04v2.3h-1.04zM9 191.3h1.04v0.6h-1.04zM9 191.6h1.04v1.8h-1.04zM9 193.1h1.04v2.8h-1.04z" fill="#e6f1e2"/>
<path d="M0 52.4h1.04v2.3h-1.04zM7 200.1h1.04v1.4h-1.04zM6 202.7h1.04v2.8h-1.04zM9 216.5h1.04v1.7h-1.04zM8 217.9h1.04v2.3h-1.04z" fill="#f3c991"/>
<path d="M2 52.4h1.04v2.3h-1.04zM2 107.7h1.04v2.8h-1.04zM4 131.7h1.04v1.8h-1.04zM7 183.3h1.04v1.8h-1.04zM7 191.6h1.04v1.8h-1.04zM7 198.6h1.04v1.8h-1.04zM6 207.7h1.04v1.8h-1.04z" fill="#f5d7a2"/>
<path d="M1 55.9h1.04v2.3h-1.04zM7 205.2h1.04v2.8h-1.04z" fill="#e47e57"/>
<path d="M6 55.9h1.04v2.3h-1.04z" fill="#e0ede8"/>
<path d="M7 55.9h1.04v2.3h-1.04zM8 112.7h1.04v2.3h-1.04zM9 112.7h1.04v2.3h-1.04zM8 150.3h1.04v2.8h-1.04zM8 205.2h1.04v2.8h-1.04zM4 226.4h1.04v0.7h-1.04z" fill="#e1eee7"/>
<path d="M0 57.9h1.04v2.8h-1.04zM3 65.4h1.04v2.8h-1.04zM0 67.9h1.04v1.8h-1.04zM0 69.4h1.04v2.8h-1.04zM4 73.9h1.04v2.8h-1.04zM1 78.9h1.04v2.8h-1.04zM0 88.9h1.04v2.3h-1.04zM0 98.2h1.04v2.3h-1.04zM2 101.7h1.04v2.8h-1.04zM1 104.2h1.04v2.3h-1.04zM4 112.7h1.04v2.3h-1.04zM0 120.7h1.04v2.3h-1.04zM0 124.2h1.04v2.8h-1.04zM4 130.2h1.04v1.8h-1.04zM0 131.7h1.04v1.8h-1.04zM6 133.2h1.04v0.9h-1.04zM3 139.8h1.04v2.3h-1.04zM5 141.8h1.04v2.8h-1.04zM1 148.3h1.04v2.3h-1.04zM5 152.8h1.04v2.8h-1.04zM6 162.8h1.04v2.8h-1.04zM3 166.8h1.04v2.3h-1.04zM3 168.8h1.04v1.8h-1.04zM2 173.8h1.04v1.8h-1.04zM5 177.3h1.04v1.8h-1.04zM4 181.3h1.04v2.3h-1.04zM0 187.3h1.04v2.3h-1.04zM2 202.7h1.04v2.8h-1.04zM5 214.0h1.04v2.8h-1.04zM6 224.9h1.04v1.8h-1.04z" fill="#f5e7ba"/>
<path d="M2 57.9h1.04v2.8h-1.04z" fill="#c43d2d"/>
<path d="M0 62.9h1.04v2.8h-1.04zM1 62.9h1.04v2.8h-1.04zM3 73.9h1.04v2.8h-1.04zM4 95.7h1.04v2.8h-1.04zM5 148.3h1.04v2.3h-1.04zM5 162.8h1.04v2.8h-1.04zM3 170.3h1.04v2.3h-1.04zM4 183.3h1.04v1.8h-1.04zM4 187.3h1.04v2.3h-1.04zM4 191.3h1.04v0.6h-1.04zM5 195.6h1.04v1.8h-1.04zM6 211.7h1.04v1.8h-1.04zM7 223.4h1.04v1.8h-1.04z" fill="#f5daa6"/>
<path d="M2 62.9h1.04v2.8h-1.04z" fill="#c0382a"/>
<path d="M6 62.9h1.04v2.8h-1.04zM0 78.9h1.04v2.8h-1.04zM0 93.4h1.04v0.6h-1.04zM4 93.7h1.04v2.3h-1.04zM2 98.2h1.04v2.3h-1.04zM4 101.7h1.04v2.8h-1.04zM0 107.7h1.04v2.8h-1.04zM1 110.2h1.04v2.8h-1.04zM4 110.2h1.04v2.8h-1.04zM2 116.2h1.04v2.8h-1.04zM2 118.7h1.04v2.3h-1.04zM2 124.2h1.04v2.8h-1.04zM5 133.8h1.04v1.8h-1.04zM3 144.3h1.04v1.8h-1.04zM0 148.3h1.04v2.3h-1.04zM5 155.3h1.04v2.3h-1.04zM5 170.3h1.04v2.3h-1.04zM4 184.8h1.04v2.8h-1.04zM5 191.6h1.04v1.8h-1.04zM1 202.7h1.04v2.8h-1.04zM6 214.0h1.04v2.8h-1.04zM6 221.4h1.04v2.3h-1.04z" fill="#f6dfad"/>
<path d="M0 73.9h1.04v2.8h-1.04zM5 200.1h1.04v1.4h-1.04z" fill="#f3c68e"/>
<path d="M2 78.9h1.04v2.8h-1.04zM2 82.9h1.04v2.3h-1.04zM2 86.9h1.04v2.3h-1.04zM3 100.2h1.04v1.8h-1.04zM3 133.2h1.04v0.9h-1.04zM4 165.3h1.04v1.8h-1.04zM4 166.8h1.04v2.3h-1.04zM6 200.1h1.04v1.4h-1.04z" fill="#d6563e"/>
<path d="M2 84.9h1.04v2.3h-1.04zM3 126.7h1.04v2.3h-1.04zM4 172.3h1.04v1.8h-1.04zM4 175.3h1.04v2.3h-1.04zM7 209.2h1.04v2.8h-1.04z" fill="#de6c4c"/>
<path d="M2 90.9h1.04v2.8h-1.04zM3 130.2h1.04v1.8h-1.04zM4 161.3h1.04v1.8h-1.04zM5 178.8h1.04v2.8h-1.04zM5 183.3h1.04v1.8h-1.04zM5 184.8h1.04v2.8h-1.04zM5 187.3h1.04v2.3h-1.04zM7 211.7h1.04v1.8h-1.04zM9 224.9h1.04v1.8h-1.04z" fill="#e27853"/>
<path d="M2 93.4h1.04v0.6h-1.04zM3 118.7h1.04v2.3h-1.04zM4 173.8h1.04v1.8h-1.04zM4 177.3h1.04v1.8h-1.04zM8 214.0h1.04v2.8h-1.04zM8 216.5h1.04v1.7h-1.04z" fill="#da6145"/>
<path d="M4 98.2h1.04v2.3h-1.04zM2 133.2h1.04v0.9h-1.04zM7 187.3h1.04v2.3h-1.04zM7 193.1h1.04v2.8h-1.04zM7 197.1h1.04v1.8h-1.04zM5 202.7h1.04v2.8h-1.04z" fill="#f4ce98"/>
<path d="M4 100.2h1.04v1.8h-1.04zM3 148.3h1.04v2.3h-1.04zM7 184.8h1.04v2.8h-1.04zM5 193.1h1.04v2.8h-1.04zM5 197.1h1.04v1.8h-1.04zM5 198.6h1.04v1.8h-1.04z" fill="#f4d19c"/>
<path d="M3 112.7h1.04v2.3h-1.04zM3 120.7h1.04v2.3h-1.04zM3 128.7h1.04v1.8h-1.04zM4 168.8h1.04v1.8h-1.04zM4 170.3h1.04v2.3h-1.04z" fill="#d85b41"/>
<path d="M8 126.7h1.04v2.3h-1.04zM9 126.7h1.04v2.3h-1.04zM7 161.3h1.04v1.8h-1.04zM8 161.3h1.04v1.8h-1.04z" fill="#dfedea"/>
<path d="M7 130.2h1.04v1.8h-1.04zM9 137.3h1.04v2.8h-1.04zM9 145.8h1.04v2.8h-1.04zM9 159.3h1.04v2.3h-1.04zM9 189.3h1.04v2.3h-1.04zM3 195.6h1.04v1.8h-1.04zM8 195.6h1.04v1.8h-1.04z" fill="#e2efe6"/>
<path d="M4 133.2h1.04v0.9h-1.04zM7 189.3h1.04v2.3h-1.04zM7 191.3h1.04v0.6h-1.04zM5 207.7h1.04v1.8h-1.04zM7 221.4h1.04v2.3h-1.04z" fill="#f4cc95"/>
<path d="M4 137.3h1.04v2.8h-1.04zM9 217.9h1.04v2.3h-1.04z" fill="#cc4634"/>
<path d="M9 161.3h1.04v1.8h-1.04zM9 181.3h1.04v2.3h-1.04zM4 205.2h1.04v2.8h-1.04zM4 213.2h1.04v1.1h-1.04z" fill="#deeceb"/>
<path d="M9 178.8h1.04v2.8h-1.04z" fill="#dcebec"/>
<path d="M5 181.3h1.04v2.3h-1.04zM6 198.6h1.04v1.8h-1.04zM9 226.4h1.04v0.7h-1.04z" fill="#e8895e"/>
<path d="M5 189.3h1.04v2.3h-1.04z" fill="#ec9d6e"/>
<path d="M5 191.3h1.04v0.6h-1.04zM6 193.1h1.04v2.8h-1.04z" fill="#eb986a"/>
<path d="M6 191.6h1.04v1.8h-1.04zM6 197.1h1.04v1.8h-1.04zM7 213.2h1.04v1.1h-1.04z" fill="#e98e62"/>
<path d="M6 195.6h1.04v1.8h-1.04zM9 214.0h1.04v2.8h-1.04z" fill="#eead7a"/>
<path d="M9 195.6h1.04v1.8h-1.04z" fill="#dbeaed"/>
<path d="M7 214.0h1.04v2.8h-1.04z" fill="#eea876"/>
<path d="M7 216.5h1.04v1.7h-1.04z" fill="#f2c18a"/>
<path d="M8 221.4h1.04v2.3h-1.04z" fill="#eda272"/>
<path d="M9 223.4h1.04v1.8h-1.04z" fill="#e6835a"/>
</g>
<line x1="368" y1="28.0" x2="480.6" y2="28.0" stroke="#1a1a1a" stroke-width="1.3"/>
<line x1="368" y1="46.7" x2="480.6" y2="46.7" stroke="#1a1a1a" stroke-width="1.3"/>
<line x1="368" y1="58.2" x2="480.6" y2="58.2" stroke="#1a1a1a" stroke-width="1.3"/>
<line x1="368" y1="93.5" x2="480.6" y2="93.5" stroke="#1a1a1a" stroke-width="1.3"/>
<line x1="368" y1="134.5" x2="480.6" y2="134.5" stroke="#1a1a1a" stroke-width="1.3"/>
<line x1="368" y1="180.7" x2="480.6" y2="180.7" stroke="#1a1a1a" stroke-width="1.3"/>
<line x1="368" y1="207.6" x2="480.6" y2="207.6" stroke="#1a1a1a" stroke-width="1.3"/>
<line x1="368" y1="227.0" x2="480.6" y2="227.0" stroke="#1a1a1a" stroke-width="1.3"/>
<line x1="480.2" y1="27.4" x2="480.2" y2="227.6" stroke="#1a1a1a" stroke-width="1.3"/>
<text x="368.8" y="40.7" font-size="10" font-weight="bold" font-style="italic" text-anchor="start" fill="#111" font-family="Liberation Sans" stroke="#111" stroke-width="0.2" textLength="106.0" lengthAdjust="spacingAndGlyphs" >Gsn,Dcn,Igfbp6,Serping1</text>
<text x="368.8" y="55.5" font-size="10" font-weight="bold" font-style="italic" text-anchor="start" fill="#111" font-family="Liberation Sans" stroke="#111" stroke-width="0.2" textLength="78.0" lengthAdjust="spacingAndGlyphs" >Dab2,Cd74,Adgre1</text>
<text x="368.8" y="74.5" font-size="10" font-weight="bold" font-style="italic" text-anchor="start" fill="#111" font-family="Liberation Sans" stroke="#111" stroke-width="0.2" textLength="90.0" lengthAdjust="spacingAndGlyphs" >Cldn5,Vwf,Ly6c1,Tie1</text>
<text x="368.8" y="87.2" font-size="10" font-weight="bold" font-style="italic" text-anchor="start" fill="#111" font-family="Liberation Sans" stroke="#111" stroke-width="0.2" textLength="14.0" lengthAdjust="spacingAndGlyphs" >Tek</text>
<text x="368.8" y="112.8" font-size="10" font-weight="bold" font-style="italic" text-anchor="start" fill="#111" font-family="Liberation Sans" stroke="#111" stroke-width="0.2" textLength="111.0" lengthAdjust="spacingAndGlyphs" >Sycp1,Uchl1,Stra8,Crabp1</text>
<text x="368.8" y="125.0" font-size="10" font-weight="bold" font-style="italic" text-anchor="start" fill="#111" font-family="Liberation Sans" stroke="#111" stroke-width="0.2" textLength="34.0" lengthAdjust="spacingAndGlyphs" >Map7d2</text>
<text x="368.8" y="155.5" font-size="10" font-weight="bold" font-style="italic" text-anchor="start" fill="#111" font-family="Liberation Sans" stroke="#111" stroke-width="0.2" textLength="76.3" lengthAdjust="spacingAndGlyphs" >Spag6,Piwil1,Phf2</text>
<text x="368.8" y="168.5" font-size="10" font-weight="bold" font-style="italic" text-anchor="start" fill="#111" font-family="Liberation Sans" stroke="#111" stroke-width="0.2" textLength="32.0" lengthAdjust="spacingAndGlyphs" >Ccdc77</text>
<text x="368.8" y="197.9" font-size="10" font-weight="bold" font-style="italic" text-anchor="start" fill="#111" font-family="Liberation Sans" stroke="#111" stroke-width="0.2" textLength="86.0" lengthAdjust="spacingAndGlyphs" >Acrv1,Spaca1,Tsga8</text>
<text x="368.8" y="221.0" font-size="10" font-weight="bold" font-style="italic" text-anchor="start" fill="#111" font-family="Liberation Sans" stroke="#111" stroke-width="0.2" textLength="94.7" lengthAdjust="spacingAndGlyphs" >Prm1,Prm2,Tnp1,Tnp2</text>
<text x="483.7" y="28.0" font-size="7.5" font-weight="bold" font-style="normal" text-anchor="start" fill="#111" font-family="Liberation Sans" stroke="#111" stroke-width="0.2" textLength="31.0" lengthAdjust="spacingAndGlyphs" transform="rotate(-31 483.7 28.0)" >Unknown</text>
<text x="501.9" y="28.0" font-size="7.5" font-weight="bold" font-style="normal" text-anchor="start" fill="#111" font-family="Liberation Sans" stroke="#111" stroke-width="0.2" textLength="39.5" lengthAdjust="spacingAndGlyphs" transform="rotate(-31 501.9 28.0)" >Macrophage</text>
<text x="524.0" y="28.0" font-size="7.5" font-weight="bold" font-style="normal" text-anchor="start" fill="#111" font-family="Liberation Sans" stroke="#111" stroke-width="0.2" textLength="37.0" lengthAdjust="spacingAndGlyphs" transform="rotate(-31 524.0 28.0)" >Endothelial</text>
<text x="538.6" y="28.0" font-size="7.5" font-weight="bold" font-style="normal" text-anchor="start" fill="#111" font-family="Liberation Sans" stroke="#111" stroke-width="0.2" textLength="15.0" lengthAdjust="spacingAndGlyphs" transform="rotate(-31 538.6 28.0)" >SPG</text>
<text x="557.8" y="28.0" font-size="7.5" font-weight="bold" font-style="normal" text-anchor="start" fill="#111" font-family="Liberation Sans" stroke="#111" stroke-width="0.2" textLength="29.0" lengthAdjust="spacingAndGlyphs" transform="rotate(-31 557.8 28.0)" >SCytes1</text>
<text x="576.7" y="28.0" font-size="7.5" font-weight="bold" font-style="normal" text-anchor="start" fill="#111" font-family="Liberation Sans" stroke="#111" stroke-width="0.2" textLength="29.0" lengthAdjust="spacingAndGlyphs" transform="rotate(-31 576.7 28.0)" >SCytes2</text>
<text x="594.1" y="28.0" font-size="7.5" font-weight="bold" font-style="normal" text-anchor="start" fill="#111" font-family="Liberation Sans" stroke="#111" stroke-width="0.2" textLength="19.5" lengthAdjust="spacingAndGlyphs" transform="rotate(-31 594.1 28.0)" >STids</text>
<text x="611.8" y="28.0" font-size="7.5" font-weight="bold" font-style="normal" text-anchor="start" fill="#111" font-family="Liberation Sans" stroke="#111" stroke-width="0.2" textLength="38.5" lengthAdjust="spacingAndGlyphs" transform="rotate(-31 611.8 28.0)" >Elongating1</text>
<text x="629.2" y="28.0" font-size="7.5" font-weight="bold" font-style="normal" text-anchor="start" fill="#111" font-family="Liberation Sans" stroke="#111" stroke-width="0.2" textLength="38.5" lengthAdjust="spacingAndGlyphs" transform="rotate(-31 629.2 28.0)" >Elongating2</text>
<text x="647.4" y="28.0" font-size="7.5" font-weight="bold" font-style="normal" text-anchor="start" fill="#111" font-family="Liberation Sans" stroke="#111" stroke-width="0.2" textLength="38.5" lengthAdjust="spacingAndGlyphs" transform="rotate(-31 647.4 28.0)" >Elongating3</text>
<rect x="669.2" y="28.50" width="5.6" height="1.90" fill="#c0382a"/>
<rect x="669.2" y="30.00" width="5.6" height="1.90" fill="#c43c2d"/>
<rect x="669.2" y="31.50" width="5.6" height="1.90" fill="#c74030"/>
<rect x="669.2" y="33.00" width="5.6" height="1.90" fill="#cb4532"/>
<rect x="669.2" y="34.49" width="5.6" height="1.90" fill="#ce4935"/>
<rect x="669.2" y="35.99" width="5.6" height="1.90" fill="#d24d38"/>
<rect x="669.2" y="37.49" width="5.6" height="1.90" fill="#d5533c"/>
<rect x="669.2" y="38.99" width="5.6" height="1.90" fill="#d95d42"/>
<rect x="669.2" y="40.49" width="5.6" height="1.90" fill="#dc6749"/>
<rect x="669.2" y="41.98" width="5.6" height="1.90" fill="#e0714f"/>
<rect x="669.2" y="43.48" width="5.6" height="1.90" fill="#e37b55"/>
<rect x="669.2" y="44.98" width="5.6" height="1.90" fill="#e7865c"/>
<rect x="669.2" y="46.48" width="5.6" height="1.90" fill="#e98f63"/>
<rect x="669.2" y="47.98" width="5.6" height="1.90" fill="#eb986a"/>
<rect x="669.2" y="49.48" width="5.6" height="1.90" fill="#eca171"/>
<rect x="669.2" y="50.98" width="5.6" height="1.90" fill="#eeaa78"/>
<rect x="669.2" y="52.47" width="5.6" height="1.90" fill="#f0b37f"/>
<rect x="669.2" y="53.97" width="5.6" height="1.90" fill="#f1bc86"/>
<rect x="669.2" y="55.47" width="5.6" height="1.90" fill="#f3c58d"/>
<rect x="669.2" y="56.97" width="5.6" height="1.90" fill="#f3ca93"/>
<rect x="669.2" y="58.47" width="5.6" height="1.90" fill="#f4cf99"/>
<rect x="669.2" y="59.97" width="5.6" height="1.90" fill="#f5d49f"/>
<rect x="669.2" y="61.46" width="5.6" height="1.90" fill="#f5d9a5"/>
<rect x="669.2" y="62.96" width="5.6" height="1.90" fill="#f6deab"/>
<rect x="669.2" y="64.46" width="5.6" height="1.90" fill="#f6e3b1"/>
<rect x="669.2" y="65.96" width="5.6" height="1.90" fill="#f5e6b7"/>
<rect x="669.2" y="67.46" width="5.6" height="1.90" fill="#f5e9bc"/>
<rect x="669.2" y="68.96" width="5.6" height="1.90" fill="#f4ecc2"/>
<rect x="669.2" y="70.45" width="5.6" height="1.90" fill="#f4efc8"/>
<rect x="669.2" y="71.95" width="5.6" height="1.90" fill="#f3f2cd"/>
<rect x="669.2" y="73.45" width="5.6" height="1.90" fill="#f2f3d2"/>
<rect x="669.2" y="74.95" width="5.6" height="1.90" fill="#eff3d6"/>
<rect x="669.2" y="76.45" width="5.6" height="1.90" fill="#ecf3da"/>
<rect x="669.2" y="77.95" width="5.6" height="1.90" fill="#e9f3de"/>
<rect x="669.2" y="79.44" width="5.6" height="1.90" fill="#e7f2e0"/>
<rect x="669.2" y="80.94" width="5.6" height="1.90" fill="#e5f0e3"/>
<rect x="669.2" y="82.44" width="5.6" height="1.90" fill="#e3efe5"/>
<rect x="669.2" y="83.94" width="5.6" height="1.90" fill="#e1eee7"/>
<rect x="669.2" y="85.44" width="5.6" height="1.90" fill="#dfedea"/>
<rect x="669.2" y="86.94" width="5.6" height="1.90" fill="#ddebec"/>
<rect x="669.2" y="88.43" width="5.6" height="1.90" fill="#dbeaee"/>
<rect x="669.2" y="89.93" width="5.6" height="1.90" fill="#d8e8ef"/>
<rect x="669.2" y="91.43" width="5.6" height="1.90" fill="#cee1ec"/>
<rect x="669.2" y="92.93" width="5.6" height="1.90" fill="#c4d9e8"/>
<rect x="669.2" y="94.43" width="5.6" height="1.90" fill="#bbd2e4"/>
<rect x="669.2" y="95.93" width="5.6" height="1.90" fill="#b1cbe0"/>
<rect x="669.2" y="97.42" width="5.6" height="1.90" fill="#a8c4dc"/>
<rect x="669.2" y="98.92" width="5.6" height="1.90" fill="#9ebdd8"/>
<rect x="669.2" y="100.42" width="5.6" height="1.90" fill="#95b5d4"/>
<rect x="669.2" y="101.92" width="5.6" height="1.90" fill="#8baed0"/>
<rect x="669.2" y="103.42" width="5.6" height="1.90" fill="#82a7cd"/>
<rect x="669.2" y="104.92" width="5.6" height="1.90" fill="#78a0c9"/>
<rect x="669.2" y="106.41" width="5.6" height="1.90" fill="#6f98c5"/>
<rect x="669.2" y="107.91" width="5.6" height="1.90" fill="#6892c1"/>
<rect x="669.2" y="109.41" width="5.6" height="1.90" fill="#618cbd"/>
<rect x="669.2" y="110.91" width="5.6" height="1.90" fill="#5a86b9"/>
<rect x="669.2" y="112.41" width="5.6" height="1.90" fill="#5380b5"/>
<rect x="669.2" y="113.91" width="5.6" height="1.90" fill="#4d79b2"/>
<rect x="669.2" y="115.40" width="5.6" height="1.90" fill="#4673ae"/>
<rect x="669.2" y="116.90" width="5.6" height="1.90" fill="#3f6daa"/>
<text x="676.5" y="43.0" font-size="11.5" font-weight="bold" font-style="normal" text-anchor="start" fill="#111" font-family="Liberation Sans" stroke="#111" stroke-width="0.2" textLength="6.5" lengthAdjust="spacingAndGlyphs" >2</text>
<text x="676.5" y="59.0" font-size="11.5" font-weight="bold" font-style="normal" text-anchor="start" fill="#111" font-family="Liberation Sans" stroke="#111" stroke-width="0.2" textLength="6.5" lengthAdjust="spacingAndGlyphs" >1</text>
<text x="676.5" y="76.7" font-size="11.5" font-weight="bold" font-style="normal" text-anchor="start" fill="#111" font-family="Liberation Sans" stroke="#111" stroke-width="0.2" textLength="6.5" lengthAdjust="spacingAndGlyphs" >0</text>
<text x="676.5" y="95.0" font-size="11.5" font-weight="bold" font-style="normal" text-anchor="start" fill="#111" font-family="Liberation Sans" stroke="#111" stroke-width="0.2" textLength="10.0" lengthAdjust="spacingAndGlyphs" >-1</text>
<text x="676.5" y="111.0" font-size="11.5" font-weight="bold" font-style="normal" text-anchor="start" fill="#111" font-family="Liberation Sans" stroke="#111" stroke-width="0.2" textLength="10.0" lengthAdjust="spacingAndGlyphs" >-2</text>
<text x="665.2" y="114.0" font-size="11.5" font-weight="bold" font-style="normal" text-anchor="start" fill="#111" font-family="Liberation Sans" stroke="#111" stroke-width="0.2" textLength="86.0" lengthAdjust="spacingAndGlyphs" transform="rotate(-90 665.2 114.0)" >Relative expression</text>
<text x="0.5" y="254.5" font-size="20" font-weight="normal" font-style="normal" text-anchor="start" fill="#111" font-family="Liberation Sans" >c</text>
<rect x="11.40" y="260.10" width="15.86" height="21.10" fill="#ee7752" stroke="#a7a7a7" stroke-width="0.6"/>
<rect x="27.26" y="260.10" width="15.86" height="21.10" fill="#e86a4c" stroke="#a7a7a7" stroke-width="0.6"/>
<rect x="43.12" y="260.10" width="15.86" height="21.10" fill="#e6654a" stroke="#a7a7a7" stroke-width="0.6"/>
<rect x="58.98" y="260.10" width="15.86" height="21.10" fill="#e35b45" stroke="#a7a7a7" stroke-width="0.6"/>
<rect x="74.84" y="260.10" width="15.86" height="21.10" fill="#e6654a" stroke="#a7a7a7" stroke-width="0.6"/>
<rect x="90.70" y="260.10" width="15.86" height="21.10" fill="#e35b45" stroke="#a7a7a7" stroke-width="0.6"/>
<rect x="106.56" y="260.10" width="15.86" height="21.10" fill="#e6654a" stroke="#a7a7a7" stroke-width="0.6"/>
<rect x="122.42" y="260.10" width="15.86" height="21.10" fill="#e6654a" stroke="#a7a7a7" stroke-width="0.6"/>
<rect x="138.28" y="260.10" width="15.86" height="21.10" fill="#f47f55" stroke="#a7a7a7" stroke-width="0.6"/>
<rect x="154.14" y="260.10" width="15.86" height="21.10" fill="#e6654a" stroke="#a7a7a7" stroke-width="0.6"/>
<rect x="170.00" y="260.10" width="15.86" height="21.10" fill="#fb8a58" stroke="#a7a7a7" stroke-width="0.6"/>
<rect x="185.86" y="260.10" width="15.86" height="21.10" fill="#fda56e" stroke="#a7a7a7" stroke-width="0.6"/>
<rect x="201.72" y="260.10" width="15.86" height="21.10" fill="#fcc68a" stroke="#a7a7a7" stroke-width="0.6"/>
<rect x="217.58" y="260.10" width="15.86" height="21.10" fill="#fbeab0" stroke="#a7a7a7" stroke-width="0.6"/>
<rect x="233.44" y="260.10" width="15.86" height="21.10" fill="#fbefb5" stroke="#a7a7a7" stroke-width="0.6"/>
<rect x="249.30" y="260.10" width="15.86" height="21.10" fill="#fbebb2" stroke="#a7a7a7" stroke-width="0.6"/>
<rect x="265.16" y="260.10" width="15.86" height="21.10" fill="#fbf5c0" stroke="#a7a7a7" stroke-width="0.6"/>
<rect x="281.02" y="260.10" width="15.86" height="21.10" fill="#ddeff7" stroke="#a7a7a7" stroke-width="0.6"/>
<rect x="296.88" y="260.10" width="15.86" height="21.10" fill="#a8cae0" stroke="#a7a7a7" stroke-width="0.6"/>
<rect x="312.74" y="260.10" width="15.86" height="21.10" fill="#98bfd9" stroke="#a7a7a7" stroke-width="0.6"/>
<rect x="11.40" y="281.20" width="15.86" height="21.10" fill="#fbf4be" stroke="#a7a7a7" stroke-width="0.6"/>
<rect x="27.26" y="281.20" width="15.86" height="21.10" fill="#fbf4be" stroke="#a7a7a7" stroke-width="0.6"/>
<rect x="43.12" y="281.20" width="15.86" height="21.10" fill="#fbf4be" stroke="#a7a7a7" stroke-width="0.6"/>
<rect x="58.98" y="281.20" width="15.86" height="21.10" fill="#fbf4be" stroke="#a7a7a7" stroke-width="0.6"/>
<rect x="74.84" y="281.20" width="15.86" height="21.10" fill="#fbf2bb" stroke="#a7a7a7" stroke-width="0.6"/>
<rect x="90.70" y="281.20" width="15.86" height="21.10" fill="#fbf2bb" stroke="#a7a7a7" stroke-width="0.6"/>
<rect x="106.56" y="281.20" width="15.86" height="21.10" fill="#f7e9b0" stroke="#a7a7a7" stroke-width="0.6"/>
<rect x="122.42" y="281.20" width="15.86" height="21.10" fill="#fbf2bb" stroke="#a7a7a7" stroke-width="0.6"/>
<rect x="138.28" y="281.20" width="15.86" height="21.10" fill="#fbf0b8" stroke="#a7a7a7" stroke-width="0.6"/>
<rect x="154.14" y="281.20" width="15.86" height="21.10" fill="#fad995" stroke="#a7a7a7" stroke-width="0.6"/>
<rect x="170.00" y="281.20" width="15.86" height="21.10" fill="#fda56e" stroke="#a7a7a7" stroke-width="0.6"/>
<rect x="185.86" y="281.20" width="15.86" height="21.10" fill="#eb6b4c" stroke="#a7a7a7" stroke-width="0.6"/>
<rect x="201.72" y="281.20" width="15.86" height="21.10" fill="#d0392e" stroke="#a7a7a7" stroke-width="0.6"/>
<rect x="217.58" y="281.20" width="15.86" height="21.10" fill="#c83328" stroke="#a7a7a7" stroke-width="0.6"/>
<rect x="233.44" y="281.20" width="15.86" height="21.10" fill="#cc382d" stroke="#a7a7a7" stroke-width="0.6"/>
<rect x="249.30" y="281.20" width="15.86" height="21.10" fill="#e6654a" stroke="#a7a7a7" stroke-width="0.6"/>
<rect x="265.16" y="281.20" width="15.86" height="21.10" fill="#e35e47" stroke="#a7a7a7" stroke-width="0.6"/>
<rect x="281.02" y="281.20" width="15.86" height="21.10" fill="#f7fae0" stroke="#a7a7a7" stroke-width="0.6"/>
<rect x="296.88" y="281.20" width="15.86" height="21.10" fill="#87adce" stroke="#a7a7a7" stroke-width="0.6"/>
<rect x="312.74" y="281.20" width="15.86" height="21.10" fill="#5e86ba" stroke="#a7a7a7" stroke-width="0.6"/>
<rect x="11.40" y="302.30" width="15.86" height="21.10" fill="#b0d0e2" stroke="#a7a7a7" stroke-width="0.6"/>
<rect x="27.26" y="302.30" width="15.86" height="21.10" fill="#b0d0e2" stroke="#a7a7a7" stroke-width="0.6"/>
<rect x="43.12" y="302.30" width="15.86" height="21.10" fill="#b0d0e2" stroke="#a7a7a7" stroke-width="0.6"/>
<rect x="58.98" y="302.30" width="15.86" height="21.10" fill="#b0d0e2" stroke="#a7a7a7" stroke-width="0.6"/>
<rect x="74.84" y="302.30" width="15.86" height="21.10" fill="#b0d0e2" stroke="#a7a7a7" stroke-width="0.6"/>
<rect x="90.70" y="302.30" width="15.86" height="21.10" fill="#aacde0" stroke="#a7a7a7" stroke-width="0.6"/>
<rect x="106.56" y="302.30" width="15.86" height="21.10" fill="#b0d0e2" stroke="#a7a7a7" stroke-width="0.6"/>
<rect x="122.42" y="302.30" width="15.86" height="21.10" fill="#b0d0e2" stroke="#a7a7a7" stroke-width="0.6"/>
<rect x="138.28" y="302.30" width="15.86" height="21.10" fill="#aacde0" stroke="#a7a7a7" stroke-width="0.6"/>
<rect x="154.14" y="302.30" width="15.86" height="21.10" fill="#e0f0f7" stroke="#a7a7a7" stroke-width="0.6"/>
<rect x="170.00" y="302.30" width="15.86" height="21.10" fill="#f1f9e0" stroke="#a7a7a7" stroke-width="0.6"/>
<rect x="185.86" y="302.30" width="15.86" height="21.10" fill="#fbebb0" stroke="#a7a7a7" stroke-width="0.6"/>
<rect x="201.72" y="302.30" width="15.86" height="21.10" fill="#fbd897" stroke="#a7a7a7" stroke-width="0.6"/>
<rect x="217.58" y="302.30" width="15.86" height="21.10" fill="#fda56e" stroke="#a7a7a7" stroke-width="0.6"/>
<rect x="233.44" y="302.30" width="15.86" height="21.10" fill="#fda870" stroke="#a7a7a7" stroke-width="0.6"/>
<rect x="249.30" y="302.30" width="15.86" height="21.10" fill="#e35b45" stroke="#a7a7a7" stroke-width="0.6"/>
<rect x="265.16" y="302.30" width="15.86" height="21.10" fill="#f06e50" stroke="#a7a7a7" stroke-width="0.6"/>
<rect x="281.02" y="302.30" width="15.86" height="21.10" fill="#e6654a" stroke="#a7a7a7" stroke-width="0.6"/>
<rect x="296.88" y="302.30" width="15.86" height="21.10" fill="#fbcb8a" stroke="#a7a7a7" stroke-width="0.6"/>
<rect x="312.74" y="302.30" width="15.86" height="21.10" fill="#f8fad8" stroke="#a7a7a7" stroke-width="0.6"/>
<rect x="11.40" y="323.40" width="15.86" height="21.10" fill="#d0e5ee" stroke="#a7a7a7" stroke-width="0.6"/>
<rect x="27.26" y="323.40" width="15.86" height="21.10" fill="#d0e5ee" stroke="#a7a7a7" stroke-width="0.6"/>
<rect x="43.12" y="323.40" width="15.86" height="21.10" fill="#cde3ed" stroke="#a7a7a7" stroke-width="0.6"/>
<rect x="58.98" y="323.40" width="15.86" height="21.10" fill="#d6e9f1" stroke="#a7a7a7" stroke-width="0.6"/>
<rect x="74.84" y="323.40" width="15.86" height="21.10" fill="#d3e7ef" stroke="#a7a7a7" stroke-width="0.6"/>
<rect x="90.70" y="323.40" width="15.86" height="21.10" fill="#d0e5ee" stroke="#a7a7a7" stroke-width="0.6"/>
<rect x="106.56" y="323.40" width="15.86" height="21.10" fill="#d6e9f1" stroke="#a7a7a7" stroke-width="0.6"/>
<rect x="122.42" y="323.40" width="15.86" height="21.10" fill="#d6e9f1" stroke="#a7a7a7" stroke-width="0.6"/>
<rect x="138.28" y="323.40" width="15.86" height="21.10" fill="#c5dde9" stroke="#a7a7a7" stroke-width="0.6"/>
<rect x="154.14" y="323.40" width="15.86" height="21.10" fill="#eef8e6" stroke="#a7a7a7" stroke-width="0.6"/>
<rect x="170.00" y="323.40" width="15.86" height="21.10" fill="#f1f9e0" stroke="#a7a7a7" stroke-width="0.6"/>
<rect x="185.86" y="323.40" width="15.86" height="21.10" fill="#fbefb5" stroke="#a7a7a7" stroke-width="0.6"/>
<rect x="201.72" y="323.40" width="15.86" height="21.10" fill="#fae6a9" stroke="#a7a7a7" stroke-width="0.6"/>
<rect x="217.58" y="323.40" width="15.86" height="21.10" fill="#fbe8ac" stroke="#a7a7a7" stroke-width="0.6"/>
<rect x="233.44" y="323.40" width="15.86" height="21.10" fill="#fbedb2" stroke="#a7a7a7" stroke-width="0.6"/>
<rect x="249.30" y="323.40" width="15.86" height="21.10" fill="#f8d898" stroke="#a7a7a7" stroke-width="0.6"/>
<rect x="265.16" y="323.40" width="15.86" height="21.10" fill="#f9de9c" stroke="#a7a7a7" stroke-width="0.6"/>
<rect x="281.02" y="323.40" width="15.86" height="21.10" fill="#fb8a58" stroke="#a7a7a7" stroke-width="0.6"/>
<rect x="296.88" y="323.40" width="15.86" height="21.10" fill="#fb8a56" stroke="#a7a7a7" stroke-width="0.6"/>
<rect x="312.74" y="323.40" width="15.86" height="21.10" fill="#fdb57a" stroke="#a7a7a7" stroke-width="0.6"/>
<rect x="11.40" y="344.50" width="15.86" height="21.10" fill="#5480b7" stroke="#a7a7a7" stroke-width="0.6"/>
<rect x="27.26" y="344.50" width="15.86" height="21.10" fill="#5782b8" stroke="#a7a7a7" stroke-width="0.6"/>
<rect x="43.12" y="344.50" width="15.86" height="21.10" fill="#5480b7" stroke="#a7a7a7" stroke-width="0.6"/>
<rect x="58.98" y="344.50" width="15.86" height="21.10" fill="#5782b8" stroke="#a7a7a7" stroke-width="0.6"/>
<rect x="74.84" y="344.50" width="15.86" height="21.10" fill="#5a7eb3" stroke="#a7a7a7" stroke-width="0.6"/>
<rect x="90.70" y="344.50" width="15.86" height="21.10" fill="#5180b5" stroke="#a7a7a7" stroke-width="0.6"/>
<rect x="106.56" y="344.50" width="15.86" height="21.10" fill="#5480b7" stroke="#a7a7a7" stroke-width="0.6"/>
<rect x="122.42" y="344.50" width="15.86" height="21.10" fill="#5782b8" stroke="#a7a7a7" stroke-width="0.6"/>
<rect x="138.28" y="344.50" width="15.86" height="21.10" fill="#4c70aa" stroke="#a7a7a7" stroke-width="0.6"/>
<rect x="154.14" y="344.50" width="15.86" height="21.10" fill="#6a94c0" stroke="#a7a7a7" stroke-width="0.6"/>
<rect x="170.00" y="344.50" width="15.86" height="21.10" fill="#6c9ac6" stroke="#a7a7a7" stroke-width="0.6"/>
<rect x="185.86" y="344.50" width="15.86" height="21.10" fill="#a9cae0" stroke="#a7a7a7" stroke-width="0.6"/>
<rect x="201.72" y="344.50" width="15.86" height="21.10" fill="#b0cde3" stroke="#a7a7a7" stroke-width="0.6"/>
<rect x="217.58" y="344.50" width="15.86" height="21.10" fill="#e0f0f8" stroke="#a7a7a7" stroke-width="0.6"/>
<rect x="233.44" y="344.50" width="15.86" height="21.10" fill="#d2e6f1" stroke="#a7a7a7" stroke-width="0.6"/>
<rect x="249.30" y="344.50" width="15.86" height="21.10" fill="#fbf5c0" stroke="#a7a7a7" stroke-width="0.6"/>
<rect x="265.16" y="344.50" width="15.86" height="21.10" fill="#f5fae0" stroke="#a7a7a7" stroke-width="0.6"/>
<rect x="281.02" y="344.50" width="15.86" height="21.10" fill="#e35e47" stroke="#a7a7a7" stroke-width="0.6"/>
<rect x="296.88" y="344.50" width="15.86" height="21.10" fill="#c63428" stroke="#a7a7a7" stroke-width="0.6"/>
<rect x="312.74" y="344.50" width="15.86" height="21.10" fill="#ee6c4e" stroke="#a7a7a7" stroke-width="0.6"/>
<rect x="11.40" y="365.60" width="15.86" height="21.10" fill="#87aecc" stroke="#a7a7a7" stroke-width="0.6"/>
<rect x="27.26" y="365.60" width="15.86" height="21.10" fill="#84abca" stroke="#a7a7a7" stroke-width="0.6"/>
<rect x="43.12" y="365.60" width="15.86" height="21.10" fill="#87aecc" stroke="#a7a7a7" stroke-width="0.6"/>
<rect x="58.98" y="365.60" width="15.86" height="21.10" fill="#89afcc" stroke="#a7a7a7" stroke-width="0.6"/>
<rect x="74.84" y="365.60" width="15.86" height="21.10" fill="#82a8ca" stroke="#a7a7a7" stroke-width="0.6"/>
<rect x="90.70" y="365.60" width="15.86" height="21.10" fill="#87aecc" stroke="#a7a7a7" stroke-width="0.6"/>
<rect x="106.56" y="365.60" width="15.86" height="21.10" fill="#82a8ca" stroke="#a7a7a7" stroke-width="0.6"/>
<rect x="122.42" y="365.60" width="15.86" height="21.10" fill="#84abca" stroke="#a7a7a7" stroke-width="0.6"/>
<rect x="138.28" y="365.60" width="15.86" height="21.10" fill="#6e96bd" stroke="#a7a7a7" stroke-width="0.6"/>
<rect x="154.14" y="365.60" width="15.86" height="21.10" fill="#8fb5d2" stroke="#a7a7a7" stroke-width="0.6"/>
<rect x="170.00" y="365.60" width="15.86" height="21.10" fill="#87aecc" stroke="#a7a7a7" stroke-width="0.6"/>
<rect x="185.86" y="365.60" width="15.86" height="21.10" fill="#b0d0e2" stroke="#a7a7a7" stroke-width="0.6"/>
<rect x="201.72" y="365.60" width="15.86" height="21.10" fill="#a2c6dd" stroke="#a7a7a7" stroke-width="0.6"/>
<rect x="217.58" y="365.60" width="15.86" height="21.10" fill="#a2c6dd" stroke="#a7a7a7" stroke-width="0.6"/>
<rect x="233.44" y="365.60" width="15.86" height="21.10" fill="#90b8d2" stroke="#a7a7a7" stroke-width="0.6"/>
<rect x="249.30" y="365.60" width="15.86" height="21.10" fill="#bad9e7" stroke="#a7a7a7" stroke-width="0.6"/>
<rect x="265.16" y="365.60" width="15.86" height="21.10" fill="#aacde2" stroke="#a7a7a7" stroke-width="0.6"/>
<rect x="281.02" y="365.60" width="15.86" height="21.10" fill="#fbf2b6" stroke="#a7a7a7" stroke-width="0.6"/>
<rect x="296.88" y="365.60" width="15.86" height="21.10" fill="#fdb27a" stroke="#a7a7a7" stroke-width="0.6"/>
<rect x="312.74" y="365.60" width="15.86" height="21.10" fill="#ee6c4e" stroke="#a7a7a7" stroke-width="0.6"/>
<rect x="11.40" y="386.70" width="15.86" height="21.10" fill="#6690c0" stroke="#a7a7a7" stroke-width="0.6"/>
<rect x="27.26" y="386.70" width="15.86" height="21.10" fill="#6690c0" stroke="#a7a7a7" stroke-width="0.6"/>
<rect x="43.12" y="386.70" width="15.86" height="21.10" fill="#6690c0" stroke="#a7a7a7" stroke-width="0.6"/>
<rect x="58.98" y="386.70" width="15.86" height="21.10" fill="#6a90bd" stroke="#a7a7a7" stroke-width="0.6"/>
<rect x="74.84" y="386.70" width="15.86" height="21.10" fill="#5e88c0" stroke="#a7a7a7" stroke-width="0.6"/>
<rect x="90.70" y="386.70" width="15.86" height="21.10" fill="#6690c0" stroke="#a7a7a7" stroke-width="0.6"/>
<rect x="106.56" y="386.70" width="15.86" height="21.10" fill="#5a84ba" stroke="#a7a7a7" stroke-width="0.6"/>
<rect x="122.42" y="386.70" width="15.86" height="21.10" fill="#5e88bd" stroke="#a7a7a7" stroke-width="0.6"/>
<rect x="138.28" y="386.70" width="15.86" height="21.10" fill="#4a70aa" stroke="#a7a7a7" stroke-width="0.6"/>
<rect x="154.14" y="386.70" width="15.86" height="21.10" fill="#6a90bd" stroke="#a7a7a7" stroke-width="0.6"/>
<rect x="170.00" y="386.70" width="15.86" height="21.10" fill="#5480b7" stroke="#a7a7a7" stroke-width="0.6"/>
<rect x="185.86" y="386.70" width="15.86" height="21.10" fill="#80a6cc" stroke="#a7a7a7" stroke-width="0.6"/>
<rect x="201.72" y="386.70" width="15.86" height="21.10" fill="#6c96c3" stroke="#a7a7a7" stroke-width="0.6"/>
<rect x="217.58" y="386.70" width="15.86" height="21.10" fill="#6c98c6" stroke="#a7a7a7" stroke-width="0.6"/>
<rect x="233.44" y="386.70" width="15.86" height="21.10" fill="#6a90c0" stroke="#a7a7a7" stroke-width="0.6"/>
<rect x="249.30" y="386.70" width="15.86" height="21.10" fill="#8fb3d4" stroke="#a7a7a7" stroke-width="0.6"/>
<rect x="265.16" y="386.70" width="15.86" height="21.10" fill="#80a6cc" stroke="#a7a7a7" stroke-width="0.6"/>
<rect x="281.02" y="386.70" width="15.86" height="21.10" fill="#fcf7c0" stroke="#a7a7a7" stroke-width="0.6"/>
<rect x="296.88" y="386.70" width="15.86" height="21.10" fill="#fc9a63" stroke="#a7a7a7" stroke-width="0.6"/>
<rect x="312.74" y="386.70" width="15.86" height="21.10" fill="#d4453a" stroke="#a7a7a7" stroke-width="0.6"/>
<text x="31.9" y="256" font-size="12.3" font-family="Liberation Sans" fill="#222" textLength="290.4" lengthAdjust="spacingAndGlyphs">Correlation between <tspan font-style="italic" font-size="14.5">Ddx43</tspan><tspan font-size="8.5" dy="-5">+/+</tspan><tspan dy="5"> GEP and Reference GEP</tspan></text>
<text x="329.7" y="274.6" font-size="10.5" font-weight="bold" font-style="normal" text-anchor="start" fill="#111" font-family="Liberation Sans" stroke="#111" stroke-width="0.2" textLength="19.0" lengthAdjust="spacingAndGlyphs" >SPG</text>
<text x="329.7" y="295.7" font-size="10.5" font-weight="bold" font-style="normal" text-anchor="start" fill="#111" font-family="Liberation Sans" stroke="#111" stroke-width="0.2" textLength="37.0" lengthAdjust="spacingAndGlyphs" >SCytes1</text>
<text x="329.7" y="316.8" font-size="10.5" font-weight="bold" font-style="normal" text-anchor="start" fill="#111" font-family="Liberation Sans" stroke="#111" stroke-width="0.2" textLength="37.5" lengthAdjust="spacingAndGlyphs" >SCytes2</text>
<text x="329.7" y="337.9" font-size="10.5" font-weight="bold" font-style="normal" text-anchor="start" fill="#111" font-family="Liberation Sans" stroke="#111" stroke-width="0.2" textLength="25.5" lengthAdjust="spacingAndGlyphs" >STids</text>
<text x="329.7" y="358.9" font-size="10.5" font-weight="bold" font-style="normal" text-anchor="start" fill="#111" font-family="Liberation Sans" stroke="#111" stroke-width="0.2" textLength="53.7" lengthAdjust="spacingAndGlyphs" >Elongating1</text>
<text x="329.7" y="380.1" font-size="10.5" font-weight="bold" font-style="normal" text-anchor="start" fill="#111" font-family="Liberation Sans" stroke="#111" stroke-width="0.2" textLength="54.0" lengthAdjust="spacingAndGlyphs" >Elongating2</text>
<text x="329.7" y="401.2" font-size="10.5" font-weight="bold" font-style="normal" text-anchor="start" fill="#111" font-family="Liberation Sans" stroke="#111" stroke-width="0.2" textLength="54.0" lengthAdjust="spacingAndGlyphs" >Elongating3</text>
<text x="15.1" y="409.4" font-size="11" font-weight="bold" font-family="Liberation Sans" fill="#111" textLength="11.7" lengthAdjust="spacingAndGlyphs" transform="rotate(90 15.1 409.4)">A1</text>
<text x="31.0" y="409.4" font-size="11" font-weight="bold" font-family="Liberation Sans" fill="#111" textLength="8.1" lengthAdjust="spacingAndGlyphs" transform="rotate(90 31.0 409.4)">In</text>
<text x="46.8" y="409.4" font-size="11" font-weight="bold" font-family="Liberation Sans" fill="#111" textLength="33.3" lengthAdjust="spacingAndGlyphs" transform="rotate(90 46.8 409.4)">TypeBS</text>
<text x="62.7" y="409.4" font-size="11" font-weight="bold" font-family="Liberation Sans" fill="#111" textLength="47.0" lengthAdjust="spacingAndGlyphs" transform="rotate(90 62.7 409.4)">TypeBG2M</text>
<text x="78.6" y="409.4" font-size="11" font-weight="bold" font-family="Liberation Sans" fill="#111" textLength="12.2" lengthAdjust="spacingAndGlyphs" transform="rotate(90 78.6 409.4)">G1</text>
<text x="94.4" y="409.4" font-size="11" font-weight="bold" font-family="Liberation Sans" fill="#111" textLength="16.7" lengthAdjust="spacingAndGlyphs" transform="rotate(90 94.4 409.4)">ePL</text>
<text x="110.3" y="409.4" font-size="11" font-weight="bold" font-family="Liberation Sans" fill="#111" textLength="19.8" lengthAdjust="spacingAndGlyphs" transform="rotate(90 110.3 409.4)">mPL</text>
<text x="126.1" y="409.4" font-size="11" font-weight="bold" font-family="Liberation Sans" fill="#111" textLength="14.2" lengthAdjust="spacingAndGlyphs" transform="rotate(90 126.1 409.4)">lPL</text>
<text x="142.0" y="409.4" font-size="11" font-weight="bold" font-family="Liberation Sans" fill="#111" textLength="5.6" lengthAdjust="spacingAndGlyphs" transform="rotate(90 142.0 409.4)">L</text>
<text x="157.9" y="409.4" font-size="11" font-weight="bold" font-family="Liberation Sans" fill="#111" textLength="5.6" lengthAdjust="spacingAndGlyphs" transform="rotate(90 157.9 409.4)">Z</text>
<text x="173.7" y="409.4" font-size="11" font-weight="bold" font-family="Liberation Sans" fill="#111" textLength="11.2" lengthAdjust="spacingAndGlyphs" transform="rotate(90 173.7 409.4)">eP</text>
<text x="189.6" y="409.4" font-size="11" font-weight="bold" font-family="Liberation Sans" fill="#111" textLength="14.2" lengthAdjust="spacingAndGlyphs" transform="rotate(90 189.6 409.4)">mP</text>
<text x="205.5" y="409.4" font-size="11" font-weight="bold" font-family="Liberation Sans" fill="#111" textLength="8.6" lengthAdjust="spacingAndGlyphs" transform="rotate(90 205.5 409.4)">lP</text>
<text x="221.3" y="409.4" font-size="11" font-weight="bold" font-family="Liberation Sans" fill="#111" textLength="6.6" lengthAdjust="spacingAndGlyphs" transform="rotate(90 221.3 409.4)">D</text>
<text x="237.2" y="409.4" font-size="11" font-weight="bold" font-family="Liberation Sans" fill="#111" textLength="10.1" lengthAdjust="spacingAndGlyphs" transform="rotate(90 237.2 409.4)">MI</text>
<text x="253.0" y="409.4" font-size="11" font-weight="bold" font-family="Liberation Sans" fill="#111" textLength="12.7" lengthAdjust="spacingAndGlyphs" transform="rotate(90 253.0 409.4)">MII</text>
<text x="268.9" y="409.4" font-size="11" font-weight="bold" font-family="Liberation Sans" fill="#111" textLength="28.4" lengthAdjust="spacingAndGlyphs" transform="rotate(90 268.9 409.4)">RS1o2</text>
<text x="284.8" y="409.4" font-size="11" font-weight="bold" font-family="Liberation Sans" fill="#111" textLength="28.4" lengthAdjust="spacingAndGlyphs" transform="rotate(90 284.8 409.4)">RS3o4</text>
<text x="300.6" y="409.4" font-size="11" font-weight="bold" font-family="Liberation Sans" fill="#111" textLength="28.4" lengthAdjust="spacingAndGlyphs" transform="rotate(90 300.6 409.4)">RS5o6</text>
<text x="316.5" y="409.4" font-size="11" font-weight="bold" font-family="Liberation Sans" fill="#111" textLength="28.4" lengthAdjust="spacingAndGlyphs" transform="rotate(90 316.5 409.4)">RS7o8</text>
<rect x="405.3" y="260.50" width="7.6" height="2.25" fill="#c43c2c"/>
<rect x="405.3" y="262.35" width="7.6" height="2.25" fill="#c7412f"/>
<rect x="405.3" y="264.20" width="7.6" height="2.25" fill="#cb4533"/>
<rect x="405.3" y="266.06" width="7.6" height="2.25" fill="#ce4a36"/>
<rect x="405.3" y="267.91" width="7.6" height="2.25" fill="#d14e39"/>
<rect x="405.3" y="269.76" width="7.6" height="2.25" fill="#d5533d"/>
<rect x="405.3" y="271.61" width="7.6" height="2.25" fill="#d85740"/>
<rect x="405.3" y="273.46" width="7.6" height="2.25" fill="#db5c43"/>
<rect x="405.3" y="275.31" width="7.6" height="2.25" fill="#df6147"/>
<rect x="405.3" y="277.17" width="7.6" height="2.25" fill="#e2654a"/>
<rect x="405.3" y="279.02" width="7.6" height="2.25" fill="#e56a4e"/>
<rect x="405.3" y="280.87" width="7.6" height="2.25" fill="#e77252"/>
<rect x="405.3" y="282.72" width="7.6" height="2.25" fill="#e97a56"/>
<rect x="405.3" y="284.57" width="7.6" height="2.25" fill="#eb815b"/>
<rect x="405.3" y="286.42" width="7.6" height="2.25" fill="#ed895f"/>
<rect x="405.3" y="288.28" width="7.6" height="2.25" fill="#ee9163"/>
<rect x="405.3" y="290.13" width="7.6" height="2.25" fill="#f09967"/>
<rect x="405.3" y="291.98" width="7.6" height="2.25" fill="#f2a06c"/>
<rect x="405.3" y="293.83" width="7.6" height="2.25" fill="#f4a870"/>
<rect x="405.3" y="295.68" width="7.6" height="2.25" fill="#f6b074"/>
<rect x="405.3" y="297.53" width="7.6" height="2.25" fill="#f7b779"/>
<rect x="405.3" y="299.38" width="7.6" height="2.25" fill="#f7bc7d"/>
<rect x="405.3" y="301.24" width="7.6" height="2.25" fill="#f7c182"/>
<rect x="405.3" y="303.09" width="7.6" height="2.25" fill="#f8c787"/>
<rect x="405.3" y="304.94" width="7.6" height="2.25" fill="#f8cc8c"/>
<rect x="405.3" y="306.79" width="7.6" height="2.25" fill="#f8d190"/>
<rect x="405.3" y="308.64" width="7.6" height="2.25" fill="#f8d695"/>
<rect x="405.3" y="310.50" width="7.6" height="2.25" fill="#f8dc9a"/>
<rect x="405.3" y="312.35" width="7.6" height="2.25" fill="#f9e19f"/>
<rect x="405.3" y="314.20" width="7.6" height="2.25" fill="#f9e6a4"/>
<rect x="405.3" y="316.05" width="7.6" height="2.25" fill="#f8eaa9"/>
<rect x="405.3" y="317.90" width="7.6" height="2.25" fill="#f7ebb0"/>
<rect x="405.3" y="319.75" width="7.6" height="2.25" fill="#f6ecb6"/>
<rect x="405.3" y="321.61" width="7.6" height="2.25" fill="#f5eebd"/>
<rect x="405.3" y="323.46" width="7.6" height="2.25" fill="#f4efc3"/>
<rect x="405.3" y="325.31" width="7.6" height="2.25" fill="#f3f0ca"/>
<rect x="405.3" y="327.16" width="7.6" height="2.25" fill="#f2f2d0"/>
<rect x="405.3" y="329.01" width="7.6" height="2.25" fill="#f1f3d7"/>
<rect x="405.3" y="330.86" width="7.6" height="2.25" fill="#eff4dd"/>
<rect x="405.3" y="332.72" width="7.6" height="2.25" fill="#eef6e4"/>
<rect x="405.3" y="334.57" width="7.6" height="2.25" fill="#e9f3e6"/>
<rect x="405.3" y="336.42" width="7.6" height="2.25" fill="#e2efe5"/>
<rect x="405.3" y="338.27" width="7.6" height="2.25" fill="#dbeae4"/>
<rect x="405.3" y="340.12" width="7.6" height="2.25" fill="#d4e6e4"/>
<rect x="405.3" y="341.97" width="7.6" height="2.25" fill="#cde2e3"/>
<rect x="405.3" y="343.83" width="7.6" height="2.25" fill="#c6dde3"/>
<rect x="405.3" y="345.68" width="7.6" height="2.25" fill="#bfd9e2"/>
<rect x="405.3" y="347.53" width="7.6" height="2.25" fill="#b8d4e1"/>
<rect x="405.3" y="349.38" width="7.6" height="2.25" fill="#b1d0e1"/>
<rect x="405.3" y="351.23" width="7.6" height="2.25" fill="#aacce0"/>
<rect x="405.3" y="353.08" width="7.6" height="2.25" fill="#a1c4dc"/>
<rect x="405.3" y="354.94" width="7.6" height="2.25" fill="#97bbd7"/>
<rect x="405.3" y="356.79" width="7.6" height="2.25" fill="#8eb2d2"/>
<rect x="405.3" y="358.64" width="7.6" height="2.25" fill="#84a9cd"/>
<rect x="405.3" y="360.49" width="7.6" height="2.25" fill="#7aa0c7"/>
<rect x="405.3" y="362.34" width="7.6" height="2.25" fill="#7197c2"/>
<rect x="405.3" y="364.19" width="7.6" height="2.25" fill="#678fbd"/>
<rect x="405.3" y="366.05" width="7.6" height="2.25" fill="#5d86b8"/>
<rect x="405.3" y="367.90" width="7.6" height="2.25" fill="#547db3"/>
<rect x="405.3" y="369.75" width="7.6" height="2.25" fill="#4a74ae"/>
<text x="414.3" y="273.8" font-size="11" font-weight="bold" font-style="normal" text-anchor="start" fill="#111" font-family="Liberation Sans" stroke="#111" stroke-width="0.2" textLength="14.5" lengthAdjust="spacingAndGlyphs" >0.8</text>
<text x="414.3" y="295.0" font-size="11" font-weight="bold" font-style="normal" text-anchor="start" fill="#111" font-family="Liberation Sans" stroke="#111" stroke-width="0.2" textLength="14.5" lengthAdjust="spacingAndGlyphs" >0.6</text>
<text x="414.3" y="316.9" font-size="11" font-weight="bold" font-style="normal" text-anchor="start" fill="#111" font-family="Liberation Sans" stroke="#111" stroke-width="0.2" textLength="14.5" lengthAdjust="spacingAndGlyphs" >0.4</text>
<text x="414.3" y="338.9" font-size="11" font-weight="bold" font-style="normal" text-anchor="start" fill="#111" font-family="Liberation Sans" stroke="#111" stroke-width="0.2" textLength="14.5" lengthAdjust="spacingAndGlyphs" >0.2</text>
<text x="414.3" y="359.3" font-size="11" font-weight="bold" font-style="normal" text-anchor="start" fill="#111" font-family="Liberation Sans" stroke="#111" stroke-width="0.2" textLength="6.0" lengthAdjust="spacingAndGlyphs" >0</text>
<text x="400.2" y="366.4" font-size="10.5" font-weight="bold" font-style="normal" text-anchor="start" fill="#111" font-family="Liberation Sans" stroke="#111" stroke-width="0.2" textLength="99.0" lengthAdjust="spacingAndGlyphs" transform="rotate(-90 400.2 366.4)" >Spearman's Correlation</text>
<text x="444.0" y="255.5" font-size="23" font-weight="normal" font-style="normal" text-anchor="start" fill="#111" font-family="Liberation Sans" >d</text>
<path transform="scale(.5)" d="M1161 671h0m-11-3h0m-12 0h0m-14 6h0m19 4h0m21 9h0m-12-7h0m-8 6h0m-4-1h0m-10 0h0m-15-1h0m-3 10h0m2 1h0m11-1h0m6-1h0m1-2h0m2 0h0m5-3h0m26 4h0m-21 4h0m-3 4h0m-7 3h0m-10 0h0m-5-2h0m-2-1h0m-5-3h0m-3 4h0m-1 1h0m-3 0h0m-4-3h0m-2-2h0m-18 13h0m5 0h0m5-2h0m12-2h0m14 3h0m7-1h0m1-3h0m3 6h0m6 3h0m-16 1h0m-4 0h0m-4 3h0m-2-6h0m0 1h0m0 5h0m-9-6h0m-4 6h0m-6-6h0m-4 0h0m0 3h0m-2-3h0m-4 1h0m10 13h0m9-2h0m1-4h0m2 2h0m4-1h0m4-1h0m-4 13h0m-4 0h0m-8-2h0m-1 0h0m-1-3h0m-3 3h0m-6-2h0m0 4h0m-5-1h0m-2-3h0m-19 1h0m-3 3h0m-6 0h0m-7 5h0m17 5h0m5-5h0m1-1h0m1-1h0m10 6h0m5-6h0m5 1h0m2 2h0m0-2h0m10 8h0m-2 3h0m-9-1h0m-14 2h0m-3-1h0m0-4h0m0 0h0m-7 7h0m-3-1h0m-1-1h0m-1 2h0m-2-1h0m-4-6h0m-4 3h0m-3-2h0m-1 0h0m-1 6h0m-1-3h0m-7-1h0m-7 5h0m10 5h0m21 2h0m4-5h0m0 4h0m10 6h0m-5-1h0m-9 0h0m-8-1h0m-3 2h0m-7 3h0m-3-2h0m-4 1h0m-7 0h0m-1-5h0m-1 1h0m-4-1h0m-19 14h0m16-3h0m12 3h0m2-1h0m4-2h0m1 2h0m3-4h0m6 4h0m5 7h0m-11 0h0m-1-1h0m-8-2h0m-2 4h0m0-1h0m-9-4h0m0-1h0m-3 4h0m-10 3h0m-2 0h0m0-3h0m-12 7h0m7 1h0m1-3h0m3 6h0m3-1h0m0-2h0m3 3h0m2-4h0m4-2h0m1 1h0m0 4h0m12-1h0m-8 7h0m-7-3h0m-9 0h0m-1 4h0m-12 2h0m-3 0h0m-3-2h0m-30 8h0m28-3h0m17 4h0m20-3h0m-25 11h0m-18 1h0m-4-7h0m-2 13h0m8-4h0m13 5h0m0-4h0m4 2h0m16 10h0" stroke="#4848b0" stroke-width="2.0" stroke-linecap="round" stroke-opacity="1"/>
<path transform="scale(.5)" d="M1026 772h0m24 11h0m-8 0h0m-11-4h0m-7 2h0m-4-5h0m-4 4h0m-9-1h0m-1 4h0m0-4h0m0-1h0m-6 5h0m-10 5h0m1 0h0m4-3h0m4 3h0m0 3h0m4-1h0m2-3h0m3-1h0m1 4h0m0-5h0m2 1h0m1 0h0m2 2h0m1-3h0m0 4h0m1 1h0m1-3h0m1 1h0m2 3h0m1-1h0m1 1h0m1-4h0m1 2h0m0-1h0m0 1h0m2-3h0m1 0h0m2 5h0m4-3h0m3-4h0m0 1h0m3 4h0m0-2h0m7 6h0m-9 3h0m0 0h0m-3-3h0m0-1h0m-6 1h0m0 5h0m-2-1h0m-2 2h0m0-6h0m-1 5h0m0-5h0m-1 1h0m-1 1h0m-1 4h0m-1-5h0m-1 5h0m0-2h0m-1 2h0m-1-6h0m-1 6h0m-1-7h0m-1 4h0m0-2h0m0 1h0m0 0h0m-1-3h0m0 1h0m0 5h0m-2-6h0m-1 4h0m0 0h0m0-2h0m-1 2h0m0-1h0m0 0h0m-1 2h0m0-3h0m-2 4h0m-1 1h0m0-2h0m-1 1h0m-1-3h0m0-1h0m-1-2h0m0 3h0m0 4h0m-1 0h0m0-5h0m-1 4h0m0-4h0m0 4h0m0-1h0m-1 1h0m0-2h0m-2-1h0m0 2h0m-2-5h0m-1 4h0m-2 1h0m-1-3h0m-1 1h0m0-2h0m-2 4h0m0-4h0m0 6h0m-2-1h0m-1-4h0m0-1h0m-1 0h0m-9 14h0m1-3h0m1 2h0m0-4h0m3 2h0m0-4h0m1 2h0m0 5h0m0 0h0m0-1h0m2 0h0m0-2h0m1 1h0m0-4h0m0 2h0m1 2h0m2 0h0m0-3h0m0 2h0m0-2h0m1 2h0m1 1h0m0-5h0m0 7h0m1-7h0m0 7h0m1-2h0m0 2h0m0-5h0m1 3h0m0-5h0m1 2h0m1 2h0m1 0h0m1 2h0m1-1h0m0 2h0m0-3h0m0 0h0m0 0h0m1-2h0m0 1h0m1 2h0m0 1h0m0-6h0m1 5h0m0 2h0m0-3h0m1 0h0m1-2h0m1 2h0m0-1h0m0 3h0m1-5h0m1 4h0m0-3h0m1 2h0m0 0h0m0-3h0m1-1h0m0 0h0m0 2h0m0 1h0m1-1h0m1-1h0m1-1h0m0 1h0m1 4h0m1-5h0m0 0h0m0 6h0m3-4h0m0 5h0m0-6h0m1 6h0m2-3h0m2-2h0m2-1h0m1 2h0m0-2h0m1 0h0m1 1h0m1 4h0m3-3h0m2 1h0m-4 11h0m-2-1h0m-5 0h0m-2-5h0m-2 2h0m-2-3h0m-1 0h0m0 4h0m0-3h0m-1 4h0m0-3h0m0 2h0m-1-4h0m-1 3h0m0-2h0m0 6h0m-1-4h0m-1-2h0m0 1h0m-1 2h0m-1 0h0m0-2h0m-1-1h0m0 5h0m-1-2h0m0-3h0m0 0h0m0 0h0m0 2h0m-1-1h0m-1 4h0m-1-5h0m0-1h0m0 0h0m-1 3h0m0 1h0m0 2h0m-1-5h0m0 3h0m-1-4h0m0 0h0m-1 6h0m0-1h0m-1 0h0m0-4h0m0 3h0m-1 3h0m-1-2h0m0-1h0m-1 1h0m0-5h0m0 2h0m0-1h0m-1 5h0m0-3h0m-1-3h0m0 5h0m0 2h0m0-5h0m0 3h0m0-4h0m-1 2h0m-1 3h0m0-5h0m-1 1h0m0-2h0m0 2h0m-1 2h0m0 2h0m-1 0h0m0-1h0m0-2h0m-1 4h0m0-2h0m0-2h0m-1 2h0m0 0h0m0 2h0m-1-4h0m0-1h0m-1 2h0m-1-3h0m0 3h0m0 2h0m-1-3h0m0-2h0m0 6h0m0-1h0m-1-2h0m0 1h0m0-1h0m0-1h0m-1 1h0m-1 3h0m-1-2h0m-1-2h0m-2-3h0m-2 3h0m-1 0h0m0 2h0m-1-3h0m-1 2h0m-1 2h0m0 1h0m-1-2h0m-28 7h0m14-1h0m9-1h0m0 3h0m3-2h0m1 3h0m2-5h0m2 1h0m1-1h0m0 5h0m2 0h0m0-6h0m2 5h0m1 0h0m0-3h0m1 0h0m0 2h0m0 1h0m1-1h0m0-3h0m0-1h0m1 0h0m1 3h0m0-1h0m2 1h0m1-3h0m0 7h0m0-7h0m0 1h0m0 3h0m0 3h0m1-6h0m1 5h0m0-3h0m1-3h0m0 3h0m1 1h0m1 2h0m0-3h0m1 0h0m0 4h0m1 0h0m1-1h0m0-5h0m1 5h0m0-6h0m0 1h0m0 1h0m2-2h0m0 2h0m0 4h0m1 0h0m0-4h0m1-1h0m0 6h0m1-2h0m1 2h0m2-6h0m0 2h0m0-1h0m1-2h0m0 1h0m1 1h0m0 1h0m3-3h0m2 1h0m0 1h0m1 1h0m0-2h0m1 4h0m0-4h0m4-1h0m11 3h0m0-3h0m-6 8h0m-6 3h0m-3-1h0m-9-1h0m-3 1h0m-2 1h0m-3 0h0m-2 0h0m-4 0h0m0 0h0m-1 4h0m0-3h0m-1-2h0m-1 3h0m-1 1h0m0-4h0m-1 3h0m-1-3h0m-3 5h0m-1 0h0m-3-6h0m-1 6h0m-2-7h0m-2 0h0m-1 5h0m-7-2h0m-1 1h0m-1-4h0m-4 6h0m1 4h0m1-1h0m4-1h0m4 3h0m4 4h0m7-5h0m4 2h0m0-3h0m3-1h0m5 4h0m-6 4h0m-16 0h0" stroke="#262652" stroke-width="2.4" stroke-linecap="round" stroke-opacity="1"/>
<path transform="scale(.5)" d="M1019 781h0m-2 7h0m0 6h0m-3 2h0m-1-1h0m-4-2h0m0 5h0m-3 1h0m-4-4h0m-2 3h0m-1-1h0m-18 10h0m4-2h0m1 1h0m1 1h0m1-1h0m0-6h0m1 3h0m0 0h0m0 0h0m1-1h0m0 3h0m1 1h0m1 0h0m0 0h0m0-6h0m1 7h0m1-4h0m0 4h0m1-6h0m1 4h0m0-2h0m1 0h0m0 3h0m0 0h0m1-4h0m1 5h0m0 0h0m1-5h0m1-2h0m0 1h0m1 4h0m0-2h0m0 1h0m1-3h0m0 5h0m1-5h0m0 5h0m0-6h0m1 3h0m0 0h0m4 1h0m1-2h0m0 4h0m1-5h0m0 6h0m1-5h0m2 2h0m1 0h0m1 3h0m5 1h0m-9 1h0m-1 3h0m0-4h0m-1 0h0m0 0h0m-3 3h0m-1 2h0m-2-5h0m-2 2h0m-1-1h0m0 6h0m-1-6h0m0 6h0m0-6h0m-1 4h0m-1-1h0m-1 1h0m0-1h0m0 2h0m0-6h0m0 5h0m0 2h0m-1-3h0m-1-1h0m0-2h0m0 2h0m0 3h0m0-5h0m-1 6h0m0-3h0m0 2h0m0-5h0m-1 1h0m0-2h0m0 1h0m0 1h0m0 4h0m0 0h0m-1-6h0m0 6h0m0 1h0m-1-2h0m0-2h0m0 1h0m-1 2h0m0-3h0m-1 1h0m0 2h0m0-6h0m0 3h0m0 1h0m-3 2h0m-1-4h0m0 3h0m0 1h0m-1-6h0m0 7h0m-1-7h0m0 6h0m0-2h0m0 0h0m-1-1h0m0 0h0m0 3h0m0-4h0m-2-2h0m-1 0h0m-1 2h0m-1 5h0m0-1h0m-2-4h0m-1 0h0m-1 5h0m0-2h0m-5 10h0m0-2h0m1 0h0m1-1h0m2 1h0m0-4h0m1 4h0m1-4h0m1 3h0m1-2h0m1 2h0m1-4h0m0 6h0m1-2h0m0 1h0m0-3h0m1 0h0m1-2h0m1 0h0m1 0h0m1 2h0m0 1h0m0-3h0m2 4h0m0 0h0m0 0h0m2 3h0m0-7h0m0 2h0m0 4h0m1-2h0m1-3h0m1 0h0m0 1h0m0 1h0m1 4h0m0-7h0m1 1h0m0 0h0m1 1h0m0 1h0m1-3h0m0 0h0m1 0h0m1 1h0m0 2h0m1-3h0m4 1h0m3-1h0m1 0h0m-11 10h0m-7 3h0m-2-1h0m-1-4h0m-3 4h0m-1 0h0m-5-1h0m-1 1h0m-5 2h0m-1 0h0m-1-6h0m-4 1h0m9 7h0m5 1h0m8 5h0" stroke="#1c1c38" stroke-width="2.6" stroke-linecap="round" stroke-opacity="1"/>
<path transform="scale(.5)" d="M1061 727h0m0 0h0m6 0h0m13 4h0m-5 4h0m-3-3h0m-1 3h0m0-3h0m-1 2h0m0 1h0m-2 0h0m-1-6h0m0 1h0m-2 5h0m-3-2h0m-1 2h0m0 0h0m-1-3h0m-1 1h0m-1 2h0m-1 0h0m0-2h0m-1-4h0m0 5h0m-1 0h0m0-1h0m-10-1h0m-7 11h0m2-4h0m2 2h0m2 1h0m2 1h0m1-4h0m1-3h0m1 7h0m0-1h0m0-6h0m0 3h0m1 1h0m1 3h0m0-7h0m1 3h0m1 1h0m0-3h0m0 2h0m0 3h0m2 0h0m0 1h0m0-6h0m0 2h0m1 1h0m0 2h0m1-3h0m0-3h0m0 2h0m1 5h0m0-7h0m0 2h0m2 4h0m0-1h0m0 2h0m1-3h0m1-2h0m0 0h0m2 0h0m0 2h0m0 1h0m0-3h0m0 2h0m0-3h0m0 5h0m0 0h0m0-6h0m1 0h0m0 7h0m0-7h0m1 5h0m0-2h0m0 3h0m1-3h0m0 3h0m1-4h0m0 3h0m0-5h0m1 7h0m0-5h0m0-2h0m0 5h0m0-4h0m1 0h0m1-1h0m0 7h0m0 0h0m1-2h0m3-3h0m0 1h0m1 2h0m-2 9h0m0-3h0m-2-1h0m-1 0h0m-1-1h0m-1 2h0m0-1h0m0 4h0m-2-2h0m-1-3h0m-1-1h0m-1 6h0m0-5h0m0 3h0m0 0h0m-1-4h0m-1 1h0m0 3h0m-1-1h0m0 0h0m0-3h0m0 6h0m-1-3h0m0-3h0m0 7h0m0-6h0m0 6h0m-1-1h0m0-5h0m0 4h0m-1-3h0m-1 1h0m-1 2h0m0-1h0m0-2h0m0-2h0m0 2h0m0 0h0m-1-1h0m0 3h0m0 0h0m-1 3h0m0-4h0m0-1h0m-1 0h0m0-1h0m0 2h0m0 0h0m0 1h0m-1 0h0m0 2h0m0-6h0m0 3h0m-1 0h0m0 1h0m0-4h0m0 5h0m0-2h0m0 1h0m-1 3h0m0 0h0m0 0h0m0 0h0m-1-2h0m0-1h0m0 0h0m0 2h0m0 1h0m0-5h0m0-1h0m-1 3h0m0-2h0m0 0h0m-1 4h0m0-1h0m-1 1h0m0 1h0m0 0h0m-2 0h0m-1-6h0m0 4h0m0 0h0m-1 1h0m-1-5h0m0 3h0m0 3h0m-1-2h0m-1 0h0m-3 1h0m-12 1h0m-2 8h0m1-5h0m1 2h0m1 1h0m2 0h0m4 1h0m0-2h0m0 2h0m1 0h0m0-1h0m2 1h0m1 0h0m0-2h0m0-1h0m1 0h0m0-1h0m0 4h0m0-2h0m0 3h0m1-3h0m0-1h0m0-1h0m1 2h0m0 2h0m1 0h0m0-2h0m0 2h0m1-5h0m0 4h0m0-3h0m0 5h0m0-3h0m1 1h0m0 1h0m0-5h0m1 5h0m0-5h0m0 2h0m1 3h0m0-1h0m0 1h0m0-3h0m1 3h0m0-1h0m0-5h0m0 4h0m1 3h0m0 0h0m0-7h0m0 0h0m0 5h0m1 0h0m0-5h0m0 4h0m0 2h0m0-5h0m0 4h0m1-4h0m1 6h0m0-7h0m0 1h0m0-1h0m0 2h0m0 4h0m0-4h0m0-1h0m0 3h0m0 1h0m1-5h0m0 6h0m1-4h0m0 2h0m0 1h0m0-5h0m1 2h0m0 3h0m0-2h0m0 0h0m1-3h0m1 1h0m0-1h0m1 5h0m1-5h0m0 3h0m0-3h0m1 2h0m0 5h0m1-6h0m1 2h0m1-1h0m0-1h0m0-1h0m1 4h0m1-4h0m0 2h0m2 1h0m1-1h0m4 0h0m6 0h0m-11 7h0m-4 4h0m-1-4h0m0-1h0m-3 0h0m-3 2h0m0 4h0m-1-3h0m0-1h0m0-2h0m-1 1h0m0-1h0m-1 6h0m0-6h0m-2 3h0m-1 4h0m-1-3h0m-1-4h0m0 5h0m0-2h0m-1 1h0m0 1h0m0 0h0m-1 2h0m0-5h0m0 4h0m0 1h0m0-3h0m0-4h0m-1 0h0m0 4h0m0-1h0m0 4h0m0-7h0m0 0h0m0 4h0m-1 0h0m-1 2h0m0-2h0m0 0h0m0 1h0m0-3h0m0 1h0m-1 1h0m0 1h0m-1 1h0m0-6h0m0 1h0m-1 6h0m0-5h0m0 1h0m0 3h0m-1-1h0m0 1h0m-3-5h0m0 6h0m0-3h0m0 0h0m-1-4h0m0 1h0m0 0h0m0 1h0m-1 3h0m0-2h0m-1 3h0m0 1h0m-1 0h0m0 0h0m-1-3h0m-2-4h0m0 1h0m0 5h0m-3 0h0m-8-2h0m0-1h0m-1 4h0m-1 3h0m1-2h0m1 2h0m0 5h0m0-1h0m0-4h0m1 1h0m1 4h0m1-7h0m1 3h0m1 0h0m0-1h0m1 5h0m1 0h0m0-1h0m1 0h0m0-2h0m1-1h0m0 3h0m1-2h0m0-1h0m0-1h0m0 5h0m2-1h0m0-4h0m0 5h0m0-2h0m1-3h0m0 2h0m0-1h0m0 0h0m1 3h0m0-5h0m0 5h0m1 0h0m1-1h0m1 0h0m0-4h0m0 6h0m0-2h0m1 2h0m0 0h0m0-2h0m0-5h0m0 5h0m1-4h0m0 5h0m0-1h0m0 1h0m1-6h0m0 0h0m0 0h0m1 1h0m0 2h0m1-1h0m0-1h0m1 0h0m0 2h0m0 0h0m0 2h0m0 2h0m0 0h0m1-5h0m0 4h0m0-1h0m0-2h0m0-1h0m1-1h0m0 4h0m0 1h0m0-6h0m0 4h0m0-2h0m1-1h0m1 4h0m0-1h0m0-4h0m1 5h0m2-2h0m0-3h0m1 2h0m0 3h0m2 1h0m0-3h0m0-1h0m11-2h0m-6 9h0m-10 0h0m-3 0h0m-1 0h0m-1 5h0m-2-4h0m0-1h0m-1 6h0m-1-6h0m0 4h0m0-5h0m-1 0h0m0 4h0m-1-4h0m-1 3h0m0-2h0m-1 1h0m0 1h0m0-2h0m-1 0h0m-1 3h0m0-4h0m0 7h0m-1-2h0m0 2h0m0-7h0m-1 5h0m0-4h0m0 1h0m0 1h0m-2 0h0m0 2h0m0-5h0m0 4h0m0-1h0m0 3h0m0-4h0m0 4h0m-1-4h0m0-2h0m0 0h0m0 2h0m-1 2h0m0 1h0m0 0h0m0 1h0m0-3h0m0 1h0m0 0h0m-1-2h0m0-2h0m0 6h0m-1-1h0m0 1h0m0-1h0m0 0h0m0-4h0m-1 2h0m0-3h0m0 4h0m-1 1h0m0 2h0m-2 0h0m0 0h0m-1 0h0m0-1h0m-1-1h0m0-5h0m0 7h0m-4-4h0m-15 4h0m4 3h0m3 0h0m1 5h0m0-2h0m0 1h0m1 1h0m0-7h0m1 7h0m2-6h0m1 1h0m0-1h0m0 4h0m1-1h0m0 2h0m0-1h0m1-3h0m0 0h0m0 2h0m1 1h0m0-5h0m0 0h0m0 1h0m0 5h0m1 0h0m0 1h0m0-6h0m0 3h0m1-3h0m0 4h0m0-2h0m1 0h0m1 4h0m0 0h0m0-5h0m0 1h0m0 1h0m1-2h0m0 0h0m0-1h0m0 2h0m0 1h0m0-2h0m1-2h0m0 1h0m0 6h0m0-5h0m1 1h0m0-3h0m1 0h0m0 6h0m0-1h0m1-3h0m0-1h0m0 2h0m1-1h0m0-2h0m2 7h0m0-5h0m1-1h0m0 2h0m0-3h0m0 0h0m1 1h0m0 4h0m1 0h0m0-5h0m0 6h0m0-3h0m0-2h0m1 0h0m0 2h0m0-2h0m1-1h0m1 2h0m1 1h0m3-1h0m0 0h0m2 1h0m3-3h0m1 2h0m-11 7h0m-1 3h0m-1-3h0m-2 3h0m-1-4h0m0 0h0m-1 0h0m-1 1h0m0-1h0m0 1h0m0-1h0m-1 1h0m0 2h0m-1 2h0m0-5h0m0 4h0m0 0h0m-1 1h0m0-3h0m-1 0h0m0-1h0m-5 0h0m0 0h0m-1 6h0m0-7h0m0 4h0m-1 1h0m0-2h0m0 1h0m0-4h0m-1 3h0m0-1h0m-1 1h0m-1-2h0m0 0h0m-2 4h0m-2-4h0m-1 4h0m-1 2h0m0-2h0m0-5h0m-5 1h0m0 3h0m1 5h0m2-1h0m1 5h0m6 0h0m1-3h0m1 2h0m11 0h0m5-1h0" stroke="#3a3a9c" stroke-width="2.4" stroke-linecap="round" stroke-opacity="1"/>
<ellipse cx="546" cy="352" rx="26" ry="8.5" transform="rotate(-27 546 352)" fill="#4646b2" fill-opacity="0.75"/>
<path transform="scale(.5)" d="M1180 623h0m26 6h0m-10 4h0m-1 6h0m-8-3h0m-26 3h0m-14 6h0m3 1h0m4 1h0m6-2h0m6 2h0m6 0h0m3 0h0m6-2h0m2-1h0m3 2h0m2 0h0m3 1h0m39-7h0m-12 13h0m-6 0h0m0-3h0m-17 4h0m-10 0h0m0 1h0m-3-2h0m-2 2h0m-4-6h0m-3 4h0m-8-1h0m-1-3h0m-13 0h0m-7 4h0m-3 0h0m-2 0h0m-11 1h0m-3-2h0m-10-3h0m-5 3h0m-8 1h0m3 7h0m11-4h0m8 7h0m1-1h0m1 1h0m2 0h0m0-5h0m4 5h0m2-1h0m0-1h0m0 1h0m1 1h0m0-5h0m1 4h0m1-4h0m2 0h0m1 0h0m1-2h0m0 6h0m3-5h0m1 4h0m2 1h0m3-5h0m0 4h0m1-3h0m5-2h0m2 4h0m0-3h0m3 2h0m0 2h0m0-4h0m0 1h0m1 4h0m1-1h0m1-4h0m0 0h0m1 1h0m0 5h0m2-3h0m1 0h0m1 0h0m0 3h0m2 0h0m1 0h0m1-5h0m0 3h0m3 2h0m2-7h0m10 4h0m12 3h0m2-7h0m6 4h0m-6 9h0m-5 0h0m-11-5h0m-1 6h0m-7-6h0m-5 1h0m0 2h0m0-2h0m-1 0h0m0 5h0m-1-2h0m-3 2h0m-3-5h0m-4 3h0m-1-3h0m-1 3h0m-3 0h0m0 3h0m-1-2h0m0 1h0m-1 0h0m-2 1h0m0-6h0m-3 0h0m0 3h0m-1 3h0m0-5h0m0 4h0m-2-2h0m-1 0h0m-2 3h0m0-7h0m-1 2h0m-1 0h0m-3 1h0m-2-1h0m-1 0h0m0-1h0m-1-1h0m0 1h0m-1 2h0m0-1h0m-1 1h0m-1 3h0m0 1h0m-2-1h0m0-3h0m-1 4h0m-2-3h0m-2-1h0m-1-3h0m-3 1h0m-8 2h0m-1 3h0m0 0h0m-4-5h0m-3 4h0m-5 1h0m-1 0h0m-25 1h0m-3-1h0m-18 9h0m20 0h0m6-3h0m3 0h0m1-1h0m4 0h0m0 3h0m0-3h0m0 3h0m1-1h0m10-5h0m0 7h0m1-7h0m2 4h0m1-1h0m2 0h0m1 2h0m0 2h0m2-1h0m1-2h0m1 0h0m1 1h0m0 0h0m1-3h0m0 4h0m1 1h0m1-2h0m2-5h0m1 7h0m1-2h0m0-3h0m0 5h0m1-3h0m1 3h0m3-7h0m1 7h0m0-2h0m0 2h0m0-5h0m1 2h0m0 3h0m0-4h0m1-1h0m1 5h0m1-1h0m1-5h0m1 3h0m2 3h0m2-1h0m1 0h0m1-4h0m0 2h0m1 3h0m1-2h0m0-3h0m1 5h0m0-5h0m5-1h0m0 0h0m0 6h0m1-6h0m0 5h0m0 1h0m1-5h0m0-1h0m2 5h0m3-5h0m0 6h0m1-6h0m1 3h0m0 3h0m4-6h0m1 0h0m2 3h0m1 2h0m0 0h0m1 1h0m2-4h0m1 2h0m5-5h0m0 7h0m6-3h0m-8 6h0m0-1h0m-1-1h0m-2 7h0m-2-5h0m-1 4h0m0 1h0m-1-4h0m-1-2h0m-3 1h0m-1 4h0m-2-5h0m-1 6h0m-1-3h0m0 3h0m-2-1h0m-1-1h0m0-5h0m-1 5h0m0 1h0m0-3h0m-5-3h0m0 1h0m0 4h0m-1-3h0m-1 0h0m0 2h0m0 2h0m-1-3h0m0 3h0m0-2h0m-1-1h0m-1-1h0m-1 5h0m-1-2h0m0-2h0m-1 3h0m-1-2h0m0 2h0m-1-3h0m-1 0h0m0 0h0m0 4h0m-1-2h0m0-2h0m-1-2h0m0 6h0m0-1h0m-2 1h0m0-4h0m0 3h0m-2-3h0m0-3h0m0 0h0m-2 6h0m-1-1h0m-1 2h0m0-2h0m0-2h0m-1 4h0m0-7h0m-1 4h0m0-4h0m-1 4h0m0-4h0m-2 5h0m0-3h0m-2 1h0m0 0h0m-2 4h0m0-6h0m-1 1h0m-1 1h0m0 1h0m-2 3h0m0-7h0m0 2h0m-1 3h0m0-2h0m-1 4h0m-1-1h0m0-2h0m0 1h0m-1 2h0m0 0h0m-2-4h0m-1 2h0m0-3h0m-1-1h0m-1 4h0m0 1h0m0-1h0m-1-3h0m0 2h0m-1-2h0m-1 1h0m0-1h0m-1 3h0m-1 2h0m0-3h0m0-3h0m-1 1h0m0 3h0m-1-1h0m0 3h0m-2-3h0m0 3h0m-1-5h0m0 1h0m0 0h0m-1 3h0m-1 1h0m0-2h0m-2-3h0m-3 5h0m0-2h0m0-5h0m-3 2h0m0 4h0m-4 1h0m-7 0h0m-4-6h0m-3 5h0m-14 0h0m-29 8h0m10 0h0m11-3h0m6 0h0m1 2h0m1-2h0m1 1h0m3 2h0m1-2h0m5 1h0m4 2h0m1-5h0m8 0h0m1 1h0m0 2h0m0-1h0m0 0h0m0-3h0m1-1h0m0 3h0m1 4h0m0-7h0m1 0h0m0 3h0m0 0h0m0 4h0m1-1h0m0-1h0m1 2h0m1-1h0m1 1h0m0-3h0m1 3h0m3-6h0m0 3h0m0 2h0m1-1h0m0-4h0m1 6h0m1-7h0m1 6h0m1-2h0m1 2h0m0-5h0m1 0h0m0 3h0m0 2h0m0-4h0m1 2h0m0 1h0m0-3h0m0 1h0m0 4h0m0-4h0m1-1h0m0-2h0m0 3h0m0-1h0m1 5h0m1 0h0m1 0h0m1-4h0m1 1h0m1-2h0m2 2h0m1-4h0m0 6h0m1-1h0m0 1h0m1-6h0m0 7h0m0-1h0m1-3h0m1-1h0m0 2h0m0 2h0m1-3h0m0 2h0m1-3h0m0 5h0m1 0h0m1-1h0m0-4h0m0 3h0m1 0h0m0-2h0m2-1h0m0 1h0m0 2h0m1-1h0m0-4h0m0 0h0m0 3h0m0 0h0m1-3h0m0 6h0m0-5h0m1 0h0m0 0h0m0-1h0m1 7h0m1-2h0m0-2h0m0 3h0m1-2h0m0-2h0m1 3h0m0 1h0m1-5h0m1 4h0m0-3h0m0 4h0m1-2h0m0 2h0m0 1h0m0-7h0m1 5h0m0-3h0m1 0h0m0 0h0m0 4h0m0-5h0m1 5h0m0 1h0m1-2h0m1-4h0m0-1h0m0 4h0m0-4h0m1 6h0m0-2h0m0-2h0m0 2h0m1-3h0m1 5h0m0-4h0m1 5h0m1-4h0m0 2h0m1 1h0m1 0h0m1-1h0m0-1h0m0-1h0m2-3h0m0 7h0m3-6h0m0 5h0m1 0h0m2 1h0m2-6h0m0 2h0m1-2h0m2 5h0m1 0h0m3-5h0m0 5h0m1-4h0m2-1h0m1 3h0m1-1h0m0 2h0m1-4h0m0 0h0m8 0h0m6-1h0m5 6h0m21-3h0m-20 5h0m-27 0h0m-4 6h0m-2-5h0m-1 5h0m0-3h0m-1-1h0m-3-2h0m0 5h0m0 1h0m-1 0h0m-2-4h0m0 0h0m0 1h0m-3 1h0m0-1h0m0-1h0m-2-2h0m-1 1h0m0 3h0m0-4h0m0 1h0m-1 1h0m0 0h0m-1 2h0m0 2h0m-1-3h0m-1 3h0m-2-4h0m0 3h0m0-4h0m0 5h0m-1-5h0m-1 2h0m0 4h0m0-6h0m-1-1h0m-1 2h0m-2-1h0m0 0h0m0 6h0m-2-1h0m-1 0h0m0-3h0m-1 4h0m0-6h0m0 1h0m-1 4h0m0-3h0m-1 1h0m0-2h0m0-2h0m-1 2h0m0 4h0m0-5h0m-1 0h0m-1 2h0m0 0h0m0-2h0m-1 0h0m0 5h0m-1-4h0m0 4h0m-1 0h0m-1-5h0m0 4h0m-1-1h0m0 2h0m-1-4h0m0 5h0m0-7h0m-2 3h0m-1 2h0m0-4h0m0-1h0m-1 1h0m0 0h0m0 2h0m-1 1h0m0-4h0m0 7h0m0 0h0m-1-5h0m0 5h0m0-1h0m-1 0h0m0-2h0m0-2h0m0-1h0m-1 1h0m0 4h0m0-2h0m0 0h0m-1-2h0m0 5h0m0-3h0m0 1h0m-1-1h0m0-2h0m0-1h0m-1 3h0m0 0h0m-1 0h0m0 3h0m0-1h0m0 1h0m0-5h0m0-2h0m-1 1h0m-2 4h0m-1-4h0m-1-1h0m0 4h0m-1-4h0m0 0h0m-1 7h0m0-7h0m-1 7h0m0-4h0m0-2h0m-1 5h0m0 1h0m0-6h0m0 4h0m-1-2h0m0 4h0m0-5h0m0 3h0m0 2h0m0-4h0m-1-2h0m0 4h0m-2-3h0m0-2h0m-1 1h0m0 1h0m0-2h0m0 0h0m0 5h0m-1 0h0m0 2h0m0-3h0m-1 2h0m-1-1h0m0-1h0m-1-4h0m0 6h0m-1-6h0m0 5h0m-1-1h0m-1 2h0m0 1h0m0-2h0m-2-3h0m-1 1h0m0 2h0m0-4h0m-1 0h0m-1 4h0m0-5h0m-1 1h0m0 4h0m-4-4h0m-1 3h0m-1 0h0m-1 2h0m0-6h0m-1 2h0m0-2h0m-3 2h0m0 3h0m0-1h0m-1 0h0m-1 1h0m-1 2h0m-1-4h0m0 4h0m-1-1h0m0 0h0m-1 1h0m0-2h0m0-1h0m-1 0h0m-4 1h0m-5 1h0m-1-1h0m-2 0h0m-7-4h0m-29 10h0m16 3h0m15-2h0m1 2h0m5-2h0m2-3h0m2 6h0m0-2h0m0-1h0m0-4h0m2 7h0m0-4h0m2 4h0m5-2h0m0-4h0m1 2h0m0-3h0m0 2h0m1 4h0m1-1h0m1 2h0m0-2h0m0 1h0m1-1h0m0 2h0m0-6h0m0 0h0m1 5h0m1-1h0m1 0h0m1-2h0m1 4h0m0-4h0m1-1h0m1 1h0m2 3h0m0-2h0m1 2h0m2-2h0m0 0h0m0 3h0m0-5h0m0 5h0m1-1h0m0 0h0m0-4h0m1-1h0m1 3h0m0 3h0m0 0h0m0-4h0m0 3h0m1-3h0m0 3h0m0-2h0m1 2h0m0-6h0m0 6h0m0-4h0m0 0h0m0 4h0m0 0h0m1-1h0m1-3h0m1-1h0m0 6h0m0-3h0m0 3h0m0-6h0m2 6h0m0-1h0m0-3h0m1 4h0m0-7h0m1 6h0m1-2h0m0-4h0m1 6h0m0 1h0m0-5h0m1 0h0m0-1h0m0 6h0m0-7h0m0 1h0m1 5h0m0 0h0m0-2h0m0 0h0m0 3h0m1-1h0m0-3h0m0 0h0m0 4h0m0-4h0m0-3h0m1 0h0m0 0h0m1 5h0m1-4h0m0 0h0m0 1h0m0 1h0m1 0h0m0 3h0m0-4h0m1 0h0m0 1h0m1 3h0m0-6h0m0 0h0m1 0h0m0 5h0m0 1h0m0-2h0m1-4h0m0 6h0m0-2h0m0-2h0m0 2h0m0-4h0m1 7h0m0 0h0m0 0h0m0-6h0m0 0h0m0-1h0m0 5h0m2-5h0m0 0h0m0 0h0m0 3h0m1 2h0m0-3h0m0-2h0m0 6h0m0 1h0m1-6h0m0 1h0m1 4h0m0-5h0m1 2h0m1-1h0m0-1h0m0 2h0m0-2h0m1 5h0m0-3h0m0-1h0m0 1h0m1-1h0m0-2h0m0 6h0m0-1h0m1-5h0m1 0h0m0 7h0m0-1h0m2-5h0m0 3h0m1 3h0m1-5h0m0-2h0m0 7h0m1-6h0m2 1h0m0 2h0m0-1h0m1-3h0m0 2h0m0 4h0m0-5h0m1-1h0m0 6h0m0-6h0m1 3h0m1 3h0m0 1h0m1-3h0m0-3h0m1 2h0m0-2h0m0 3h0m1-1h0m1-1h0m1 1h0m1 4h0m0-6h0m1 3h0m0 1h0m2-1h0m1 2h0m2-2h0m3 1h0m0 0h0m0-3h0m1 4h0m0-3h0m1-1h0m2-2h0m1 7h0m1-7h0m1 6h0m0-3h0m0 0h0m1-3h0m1 6h0m0 1h0m8-4h0m3 1h0m1-1h0m1-2h0m3 1h0m0 5h0m-12 4h0m0 3h0m-2-3h0m-5-1h0m0-1h0m-8 2h0m-2-1h0m0-1h0m0 2h0m-5-3h0m0 0h0m-1 6h0m0-6h0m-1 1h0m0 5h0m-1-1h0m0-4h0m-1 1h0m-2 1h0m-2-2h0m0-1h0m-1 1h0m0 0h0m-2 4h0m-2-3h0m0-2h0m-1 3h0m0 3h0m0-4h0m-2-2h0m0 7h0m0-6h0m-1 2h0m0 2h0m-3-4h0m0 5h0m-1-2h0m0-4h0m-2 5h0m0-3h0m0 3h0m-1-3h0m0 0h0m-1 4h0m0-2h0m0-4h0m-1 1h0m-1 2h0m0-2h0m0-1h0m-1 4h0m-1-4h0m0 3h0m-1 4h0m-1-4h0m0 4h0m0 0h0m-1-6h0m0-1h0m-1 1h0m0 0h0m0 5h0m0-3h0m0 2h0m0-1h0m0-3h0m-1 4h0m0 2h0m0-6h0m-1 1h0m0 4h0m0-6h0m0 1h0m0 3h0m-1 3h0m-1-7h0m-2 1h0m0 3h0m0-3h0m-1 0h0m0 4h0m0 1h0m-1-5h0m-1 2h0m0-1h0m0-2h0m0 5h0m0-5h0m-1 6h0m-1-6h0m-1 5h0m0-4h0m0-1h0m0 1h0m-1-1h0m0 7h0m0-4h0m-1 1h0m0-3h0m0 0h0m-1 4h0m0-4h0m0 5h0m-1-4h0m0-2h0m0 4h0m-2-2h0m0 5h0m0-7h0m0 6h0m-1 0h0m0-4h0m0 3h0m-1-2h0m0 3h0m0-2h0m-1 3h0m0 0h0m-1-6h0m0 5h0m0-2h0m-2-3h0m0 1h0m0 1h0m0-1h0m-1-2h0m-1 5h0m0-3h0m0 2h0m0-1h0m-1-3h0m0 3h0m-1 0h0m-1 3h0m-1-2h0m-1 2h0m-1-3h0m0-2h0m0-1h0m-1 6h0m-1-2h0m-1 2h0m0 1h0m0-2h0m-1-3h0m-1-1h0m0 6h0m0-3h0m-1 3h0m-1-4h0m0 2h0m0-3h0m-1 3h0m-1-3h0m0 2h0m0 0h0m0-1h0m-2 2h0m0 0h0m-4-3h0m0 4h0m-1-6h0m-1 0h0m-5 5h0m-1-5h0m-1 6h0m0 1h0m-1-5h0m-1 5h0m-14-2h0m-15 0h0m12 10h0m5-2h0m4-1h0m1-2h0m2 3h0m2-5h0m0 4h0m2 3h0m2-3h0m1-1h0m0 4h0m1-4h0m2 0h0m0-2h0m2 4h0m3-5h0m1 0h0m0 6h0m1-1h0m0 2h0m1-1h0m0-5h0m1 6h0m0-6h0m1 0h0m0 2h0m0-1h0m0 1h0m0 2h0m1 0h0m0 1h0m1-2h0m0-2h0m0 2h0m1-2h0m0 3h0m1-5h0m1 3h0m0-3h0m0 1h0m1 3h0m0-4h0m0 2h0m0 0h0m1 3h0m1-5h0m0 6h0m0 0h0m0-1h0m0 2h0m0-5h0m3-2h0m0 7h0m1-5h0m1 5h0m0-1h0m1-6h0m0 5h0m2-1h0m0 3h0m0-5h0m1-1h0m0 0h0m0 0h0m0 6h0m0-4h0m1 4h0m1-2h0m1 2h0m0-4h0m1 4h0m0-5h0m1 2h0m0-3h0m1 0h0m0 4h0m0-3h0m0-1h0m1 6h0m2-1h0m1-5h0m0 2h0m2-3h0m1 6h0m0-4h0m1 2h0m1 0h0m2-3h0m1-1h0m1 7h0m1-5h0m1 2h0m0 1h0m1-4h0m0 1h0m0 3h0m1 0h0m1 2h0m2-6h0m0 6h0m1 0h0m0-3h0m0-4h0m1 4h0m1-4h0m1 1h0m0 5h0m0-5h0m0 0h0m2 4h0m0 2h0m0-5h0m3 3h0m1-1h0m1 1h0m5 0h0m6 2h0m1-5h0m0 3h0m2 0h0m0-4h0m0 4h0m3-5h0m0 4h0m2-2h0m1-1h0m1 2h0m5 1h0m1 1h0m1-5h0m9 2h0m-7 9h0m-6 0h0m-13-1h0m-6-2h0m-7 1h0m-1 1h0m0-2h0m-2 3h0m-2 2h0m-2 1h0m0-2h0m-1 1h0m-3-2h0m-1-3h0m0 5h0m-1 1h0m0-6h0m-1 5h0m-1-3h0m-1-2h0m0 4h0m-1 2h0m0-1h0m-2-4h0m-1 1h0m-2 3h0m-1-3h0m0-1h0m-2 2h0m-1 2h0m0-3h0m-1 1h0m-1-2h0m-2 3h0m-4 2h0m0-1h0m-1-1h0m0 1h0m-1-3h0m0-1h0m-1 6h0m0-1h0m-1 1h0m0-7h0m0 1h0m-1-1h0m-1 1h0m-1 2h0m0 4h0m0-4h0m0-2h0m0 6h0m0-1h0m-1-2h0m-1-4h0m0 3h0m0 4h0m0-4h0m-1-1h0m0 5h0m-1-5h0m0 3h0m-1-3h0m-1 0h0m-1 1h0m-1 1h0m0 2h0m0-5h0m-1 3h0m0-2h0m-1 3h0m0 0h0m0 0h0m-2-3h0m0-1h0m0 4h0m-1-3h0m-2 5h0m-1-3h0m0 0h0m-1 2h0m0 1h0m-1-2h0m0-5h0m-2 5h0m-2 1h0m-2-5h0m0 1h0m0-2h0m-2 7h0m-1-4h0m0 1h0m-1 3h0m-1-5h0m-1 1h0m-1 3h0m0 0h0m-3-4h0m-2 3h0m0-1h0m-1-2h0m-4-2h0m-3 4h0m-4-1h0m-2 0h0m0 3h0m-3-3h0m-3-1h0m-2 4h0m-30 3h0m4 2h0m13 3h0m7 0h0m4-5h0m4 0h0m1 2h0m0-3h0m4 7h0m0-3h0m1-2h0m1 1h0m0 0h0m8 4h0m3-5h0m1 0h0m0 5h0m0-2h0m2-5h0m1 1h0m1 6h0m0-4h0m1-3h0m0 3h0m0 4h0m1-3h0m0-1h0m0 2h0m2-5h0m1 6h0m4-3h0m3 1h0m0 3h0m0-3h0m1 1h0m0-5h0m3 0h0m1 1h0m0-1h0m3 3h0m0-3h0m1 0h0m0 4h0m1 0h0m1-3h0m3 6h0m3-6h0m0 3h0m1-2h0m1 0h0m0 5h0m4-1h0m0-5h0m5 4h0m1-3h0m1-1h0m1 2h0m3-1h0m1-2h0m1 7h0m4-2h0m1-4h0m5 2h0m0-2h0m1 0h0m4 5h0m0-2h0m0-1h0m10-1h0m13 5h0m6 5h0m-21 2h0m-16-1h0m-6-5h0m-5 3h0m-1 0h0m-1 3h0m-1-6h0m-1 0h0m-2 5h0m-2 2h0m-6-4h0m-2-2h0m-3 1h0m-1-1h0m-1 3h0m0 3h0m-1-3h0m-1-3h0m-1 3h0m-1 0h0m-6-4h0m-2 7h0m0-7h0m-3 4h0m0-2h0m-2-1h0m-4 5h0m-1-5h0m0 2h0m0 0h0m-1 0h0m0-1h0m-1 2h0m0-3h0m-3 0h0m-1 4h0m-6-2h0m-2 3h0m0-2h0m-4-2h0m-9-1h0m-1 4h0m-22-2h0m-3-3h0m-8 0h0m-12 3h0m0 10h0m3-1h0m9-4h0m15 5h0m7 2h0m1-7h0m3 6h0m1 1h0m1-1h0m4 0h0m13-3h0m2 4h0m2-2h0m3-1h0m1-2h0m1 4h0m1-3h0m1-2h0m2 5h0m7-5h0m7 1h0m5-2h0m1 3h0m28-3h0m17 7h0m3-4h0m-36 9h0m-3-2h0m0-2h0m-13 0h0m-4 5h0m-22-5h0m0 0h0m-18 3h0m-4-3h0m-22 13h0m6 0h0m24-1h0m22-4h0m2 3h0m43-1h0m-10 6h0m-100 15h0" stroke="#4242b0" stroke-width="2.6" stroke-linecap="round" stroke-opacity="1"/>
<path transform="scale(.5)" d="M1176 650h0m-31 5h0m-17 2h0m5 1h0m13 5h0m8-6h0m12 4h0m2 9h0m-6-6h0m-5 1h0m-3 4h0m-5-1h0m-2 1h0m-4-2h0m-3 0h0m-7 1h0m0 0h0m-1 1h0m0 2h0m-1-1h0m-6-4h0m-1 2h0m-2 0h0m-3-1h0m-11-3h0m-17 14h0m4-4h0m2 1h0m6 1h0m1-2h0m6 4h0m1-2h0m1-2h0m1 2h0m2-2h0m2 4h0m4-2h0m2 1h0m0-3h0m0 0h0m2 5h0m0-3h0m0 1h0m3 0h0m1 1h0m1-2h0m0 1h0m0-5h0m0 5h0m3 2h0m4-4h0m1 1h0m0 0h0m0 3h0m1-7h0m1 6h0m0 0h0m0-3h0m1 1h0m0 3h0m0-5h0m1 4h0m4-2h0m1 0h0m2 2h0m0-5h0m1 0h0m1 1h0m1 1h0m3 1h0m5 7h0m-5-1h0m-6-2h0m-4 7h0m-3-7h0m-1 1h0m-1 6h0m0-1h0m0-1h0m-1-2h0m-2 2h0m0-1h0m-2 0h0m-1 2h0m0-2h0m0-2h0m0 0h0m-1 5h0m-1-6h0m-1 6h0m-1-3h0m0-2h0m0-2h0m0 6h0m0 1h0m-1-6h0m0 0h0m-1 3h0m-1-2h0m0-2h0m-1 0h0m0 7h0m0-5h0m-1 3h0m0-2h0m-3 4h0m0-5h0m-1-2h0m0 3h0m0 2h0m-2-2h0m-1-3h0m0 4h0m0 2h0m0-6h0m-1 1h0m-1 2h0m0 1h0m-2-1h0m-2 3h0m-1 1h0m0-1h0m-1-1h0m0 0h0m0 1h0m-1-5h0m-1 5h0m0 1h0m0 0h0m-1-3h0m-1-4h0m0 1h0m-1 6h0m0-5h0m0 5h0m-3-7h0m0 6h0m-4-1h0m-3 0h0m-1 0h0m0-1h0m-1 1h0m-6-2h0m-2 3h0m-5-4h0m-10 12h0m3 1h0m3-4h0m6 4h0m0-1h0m0-6h0m3 6h0m1-6h0m3 7h0m0-1h0m1-1h0m1 2h0m1-3h0m0-4h0m1 5h0m1-4h0m0 6h0m0-1h0m1 1h0m0-4h0m1 0h0m0 3h0m1 1h0m1-1h0m1 0h0m0-6h0m1 4h0m1 3h0m0-1h0m1-1h0m0-1h0m1 3h0m0-2h0m0-2h0m0-2h0m0 6h0m0-7h0m1 3h0m0-3h0m0 3h0m0 2h0m1-5h0m0 2h0m1-2h0m0 2h0m0 4h0m1-3h0m0-2h0m1-1h0m1 2h0m0-2h0m0 7h0m0-1h0m1-1h0m0 0h0m2-4h0m1 2h0m0-1h0m0 0h0m0 1h0m0 4h0m0-3h0m2 0h0m0-2h0m1 4h0m0-2h0m1 1h0m0-3h0m2 2h0m2 3h0m0 0h0m2-6h0m0 2h0m0 1h0m0 3h0m2-3h0m0-1h0m2 4h0m0-5h0m0 1h0m0 3h0m0-2h0m0-3h0m1 3h0m1 2h0m0-1h0m2-5h0m1 5h0m1-5h0m2 5h0m2-3h0m1-2h0m4 5h0m2 1h0m5 1h0m4-4h0m7 7h0m0-2h0m-11 1h0m-6-1h0m-4 1h0m-5 2h0m-1 1h0m-4-2h0m0-2h0m-4 5h0m0-1h0m-1-1h0m-2-1h0m-1 4h0m-2-5h0m-3 4h0m-1-1h0m-1-1h0m0-3h0m-1 0h0m-1 0h0m0 4h0m-1 1h0m0-1h0m0 0h0m-1-3h0m0-1h0m0 3h0m-1 4h0m0-6h0m0 0h0m0 5h0m0-1h0m-1-3h0m0 4h0m0-1h0m0 0h0m-1-5h0m0 7h0m-1-2h0m0-4h0m-1 1h0m0 3h0m-1-4h0m0 2h0m0 4h0m0-4h0m0 4h0m-2-2h0m-1 0h0m-1-4h0m0 0h0m0 3h0m0-1h0m-1 4h0m0-3h0m0-4h0m0 0h0m0 6h0m-1-3h0m0 4h0m-1-6h0m-1 1h0m-1 2h0m0 1h0m0-1h0m-1 2h0m0-2h0m0-4h0m-1 7h0m0-1h0m-1-3h0m0 2h0m0 1h0m-1-6h0m0 6h0m-1-6h0m0 3h0m-1 2h0m-1-1h0m0-2h0m-1-2h0m0 6h0m-2 0h0m-1-4h0m-1 2h0m-1-1h0m-1-2h0m-1 5h0m-1-4h0m0 0h0m0-2h0m-1 6h0m0-1h0m-1 0h0m-1-1h0m0 0h0m-3-4h0m-3 4h0m-1 1h0m-2-4h0m-5-1h0m-1 12h0m2-1h0m1-2h0m2 4h0m1-4h0m0 0h0m0 2h0m2 1h0m1-1h0m1-3h0m1 3h0m0 3h0m1-2h0m0 0h0m0-1h0m1 3h0m0-2h0m0 2h0m1 0h0m1-2h0m1-2h0m0 5h0m0-3h0m3 1h0m1-2h0m0 1h0m1 2h0m0 0h0m0-5h0m2 2h0m0-2h0m0 3h0m1 2h0m0-4h0m0-1h0m1 5h0m1-3h0m0 1h0m1-4h0m0 7h0m1 0h0m1-7h0m2 7h0m2 0h0m1-6h0m0 4h0m1 0h0m0-4h0m0 2h0m2-1h0m1-1h0m0 2h0m1-1h0m2 2h0m0-4h0m1 0h0m0 0h0m0 4h0m0-3h0m0 4h0m1-4h0m1 6h0m1-5h0m1 2h0m0-4h0m1 1h0m1 6h0m0-7h0m0 2h0m1 5h0m0-4h0m1-3h0m1 0h0m1 3h0m0-3h0m1 2h0m2 1h0m1-3h0m2 0h0m2 2h0m1 5h0m0-7h0m1 5h0m4 3h0m-1 6h0m0-3h0m-14-1h0m-7-2h0m-2 0h0m-4 4h0m0-2h0m-3-1h0m-2 2h0m-2-1h0m-1 3h0m-1 1h0m-3-6h0m-2 2h0m0-2h0m-2 7h0m0-1h0m-1-5h0m-1 4h0m-2-5h0m0 2h0m-2-2h0m0 3h0m-1 0h0m-1-3h0m-1 5h0m-1-2h0m-1-1h0m-1-2h0m-1 6h0m0-4h0m0-1h0m-2 0h0m-1-1h0m-4 4h0m-13 1h0m-20-4h0m-3 6h0m12 2h0m11 2h0m2 2h0m8-2h0m3 1h0m0-4h0m1 7h0m1 0h0m0-5h0m1-2h0m2 3h0m8 3h0m2-2h0m2-3h0m5 4h0m1-3h0m0 4h0m0 0h0m8-5h0m11-1h0m13 7h0m-28 2h0m-7 2h0m-4-3h0m-7 3h0m-2 2h0m-6-5h0m-2 0h0m-15 0h0m-1 0h0m-6 3h0m4 8h0m6-2h0m9-1h0m-39 14h0" stroke="#4642b2" stroke-width="2.6" stroke-linecap="round" stroke-opacity="1"/>
<path transform="scale(.5)" d="M1132 661h0m1 0h0m1 2h0m1-3h0m2 3h0m10-2h0m2-5h0m1 7h0m6-2h0m9 1h0m0-1h0m8 9h0m0-4h0m-2 5h0m-10-5h0m-1 4h0m-1 1h0m-2-3h0m0-1h0m-3 0h0m-1 2h0m-3-5h0m-2 4h0m-1-1h0m0 1h0m-1 3h0m0-3h0m0 0h0m-1 2h0m0-6h0m0 5h0m0-2h0m-1 0h0m0 2h0m-2 2h0m-1-2h0m0-3h0m-1 2h0m0 0h0m-1-2h0m0 5h0m-1-3h0m0 0h0m-1-2h0m0 1h0m0 3h0m-5-1h0m-2-1h0m-5-4h0m-10 6h0m1 6h0m3-2h0m4 4h0m2-3h0m0-3h0m2 3h0m1 0h0m1 3h0m1-1h0m0-2h0m1-3h0m0 4h0m1-3h0m1 5h0m1-2h0m0 3h0m0-1h0m0 0h0m1 0h0m0-6h0m0 2h0m0 3h0m0-3h0m2 5h0m2-2h0m0 0h0m0-1h0m0 1h0m0-3h0m1 2h0m1 3h0m0-4h0m0 4h0m1-1h0m0-6h0m0 4h0m1-3h0m0 4h0m0-2h0m0 4h0m0-1h0m0 1h0m1-6h0m0 4h0m0-3h0m0 2h0m0-4h0m1 6h0m0-1h0m0-2h0m0-1h0m2 1h0m1-1h0m0 3h0m1-3h0m1 0h0m1 0h0m0 0h0m0-1h0m0 2h0m2-3h0m0 2h0m2-1h0m0 1h0m1-2h0m1 0h0m4 2h0m-1 6h0m-2 5h0m-1-2h0m-3-2h0m-2 1h0m-1-1h0m0 1h0m-1-2h0m-2 4h0m0 1h0m-1 2h0m-1-6h0m-2 6h0m-1-5h0m-1 3h0m-1 1h0m0 0h0m-1-5h0m0 1h0m-1 3h0m-1-5h0m0 4h0m0 0h0m0 3h0m0-5h0m-2-1h0m0 0h0m0 3h0m-1-4h0m0 6h0m0 0h0m-1-1h0m0-4h0m0 5h0m-2-4h0m-1-2h0m0 3h0m-1 4h0m-1-7h0m0 6h0m0-3h0m0-2h0m-2 5h0m-2-3h0m0-3h0m-2 1h0m-1 1h0m-1 0h0m-2 0h0m0 2h0m-3 2h0m-5 7h0m6-4h0m3 0h0m2 1h0m0-2h0m1 0h0m1 3h0m0-3h0m2 2h0m0 0h0m2-1h0m0 0h0m2 1h0m0-1h0m1 3h0m3-4h0m1 3h0m5-3h0m1 1h0m5 0h0m5 0h0m0 2h0m2 2h0m1 0h0m2-4h0m-7 14h0m-11-7h0m-3 3h0m-5-2h0m-1 2h0m-2-3h0m-1 7h0" stroke="#6a40bc" stroke-width="2.4" stroke-linecap="round" stroke-opacity="1"/>
<path transform="scale(.5)" d="M1134 614h0m53 9h0m-4-3h0m-69 3h0m12 4h0m9-3h0m13 6h0m14 1h0m12-1h0m5-2h0m2 3h0m10-2h0m2 7h0m-4 3h0m-2-2h0m-3 1h0m-1-1h0m-1-2h0m-4 3h0m-3-6h0m0 5h0m-14-5h0m-7 7h0m-2-6h0m-7 2h0m0 4h0m0-1h0m-1-3h0m-1-1h0m-2-1h0m-7 1h0m-3 0h0m-2 4h0m-2 0h0m-1-2h0m0 3h0m-1-1h0m-7-6h0m-2 7h0m-1 0h0m-3-1h0m2 8h0m1-1h0m3 1h0m1-5h0m0-1h0m1 2h0m7 3h0m1 0h0m19 2h0m1-7h0m1 3h0m6 0h0m5 3h0m0 1h0m2-2h0m3-3h0m0-1h0m0 3h0m1 2h0m1-2h0m2 0h0m0-4h0m1 1h0m0-1h0m15 1h0m2 5h0m1-6h0m2 4h0m3-3h0m1 3h0m8-1h0m-8 7h0m-2 0h0m-1 4h0m-2 0h0m-3-4h0m-1-2h0m0 0h0m-5 0h0m-1 5h0m-5-4h0m-2 6h0m-2-5h0m-2 4h0m-2 0h0m-1-2h0m0-4h0m-4 6h0m-7-4h0m-6 5h0m-4 0h0m-1 0h0m-5-2h0m-6-3h0m-3 5h0m-6-1h0m-2 0h0m-4 0h0m-1-6h0m0 5h0m-2 7h0m6-3h0m2 1h0m1-1h0m0 2h0m2-2h0m1-1h0m2 0h0m1 4h0m23-3h0m9-1h0m6 6h0m1-1h0m-11 10h0m-6-1h0m-24-6h0m-16 3h0m25 5h0m9 0h0" stroke="#9640c0" stroke-width="2.2" stroke-linecap="round" stroke-opacity="1"/>
<path transform="scale(.5)" d="M1189 596h0m12 0h0m8 1h0m10 2h0m8 3h0m-20 3h0m-9 6h0m2 4h0m7-4h0m14-1h0m5 3h0m0 0h0m3 5h0m-27-1h0m-9 1h0m0 5h0m-2-7h0m38 9h0m-38 9h0m-6 12h0m9 1h0m32-7h0m2 0h0m0 3h0m-10 9h0m1 6h0" stroke="#dd5ea8" stroke-width="2.2" stroke-linecap="round" stroke-opacity="1"/>
<path transform="scale(.5)" d="M1234 603h0m-2 1h0m7 5h0m5 0h0m20 3h0m4 4h0m-7 4h0m-2 0h0m-7-1h0m-7 3h0m-12 8h0m10-5h0m44 4h0m6-1h0m-19 6h0m-3 1h0m-18-2h0m-22 10h0m3 4h0m5-4h0m1 3h0m6-4h0m1-2h0m3 0h0m1 4h0m2-3h0m5 1h0m3-2h0m11 1h0m-3 12h0m-4-4h0m-20 6h0m-13-7h0m0 15h0m2-5h0m5-2h0m4 6h0m11-6h0m2 6h0m24 1h0m1-6h0m15-1h0m8 1h0m-1 8h0m-4 5h0m-10-6h0m-8 0h0m-6 0h0m-2 2h0m-8 3h0m-8 2h0m-11-2h0m-7-5h0m-1 5h0m-1-2h0m12 6h0m36 5h0m1 0h0m1 1h0m2 0h0m11 0h0m3 1h0m-23 3h0m-2-1h0m0 0h0" stroke="#f39a5c" stroke-width="2.2" stroke-linecap="round" stroke-opacity="1"/>
<path transform="scale(.5)" d="M1289 637h0m-20-5h0m-1 3h0m-4-1h0m-4 0h0m3 11h0m20-2h0m0 3h0m2-5h0m-26 12h0m-2 3h0m9 2h0" stroke="#f5d050" stroke-width="2.2" stroke-linecap="round" stroke-opacity="1"/>
<defs><linearGradient id="gd" x1="0" y1="1" x2="0" y2="0"><stop offset="0" stop-color="#14142a"/><stop offset="0.25" stop-color="#3434a0"/><stop offset="0.5" stop-color="#9040c0"/><stop offset="0.7" stop-color="#e25f9c"/><stop offset="0.85" stop-color="#f5a24d"/><stop offset="1" stop-color="#f3ec5a"/></linearGradient></defs>
<rect x="656.5" y="382.1" width="4.3" height="37.7" fill="url(#gd)"/>
<text x="661.3" y="386.0" font-size="14" font-weight="bold" font-style="normal" text-anchor="start" fill="#111" font-family="Liberation Sans" stroke="#111" stroke-width="0.2" textLength="20.8" lengthAdjust="spacingAndGlyphs" >0.30</text>
<text x="661.3" y="408.0" font-size="14" font-weight="bold" font-style="normal" text-anchor="start" fill="#111" font-family="Liberation Sans" stroke="#111" stroke-width="0.2" textLength="20.8" lengthAdjust="spacingAndGlyphs" >0.15</text>
<text x="526.4" y="427.3" font-size="12" font-weight="bold" font-style="normal" text-anchor="start" fill="#111" font-family="Liberation Sans" stroke="#111" stroke-width="0.2" textLength="73.5" lengthAdjust="spacingAndGlyphs" >SCENT score</text>
<text x="0.5" y="468.0" font-size="23" font-weight="normal" font-style="normal" text-anchor="start" fill="#111" font-family="Liberation Sans" >e</text>
<line x1="30.7" y1="474.5" x2="30.7" y2="660.6" stroke="#aaaaaa" stroke-width="1"/>
<line x1="30.2" y1="660.6" x2="288" y2="660.6" stroke="#aaaaaa" stroke-width="1"/>
<text x="14.0" y="492.9" font-size="12.5" font-weight="bold" font-style="normal" text-anchor="start" fill="#111" font-family="Liberation Sans" stroke="#111" stroke-width="0.2" textLength="14.5" lengthAdjust="spacingAndGlyphs" >0.3</text>
<text x="14.0" y="548.1" font-size="12.5" font-weight="bold" font-style="normal" text-anchor="start" fill="#111" font-family="Liberation Sans" stroke="#111" stroke-width="0.2" textLength="14.5" lengthAdjust="spacingAndGlyphs" >0.2</text>
<text x="14.0" y="603.8" font-size="12.5" font-weight="bold" font-style="normal" text-anchor="start" fill="#111" font-family="Liberation Sans" stroke="#111" stroke-width="0.2" textLength="14.5" lengthAdjust="spacingAndGlyphs" >0.1</text>
<text x="14.0" y="658.5" font-size="12.5" font-weight="bold" font-style="normal" text-anchor="start" fill="#111" font-family="Liberation Sans" stroke="#111" stroke-width="0.2" textLength="14.5" lengthAdjust="spacingAndGlyphs" >0.0</text>
<text x="11.4" y="618.5" font-size="12.5" font-weight="bold" font-style="normal" text-anchor="start" fill="#111" font-family="Liberation Sans" stroke="#111" stroke-width="0.2" textLength="128.0" lengthAdjust="spacingAndGlyphs" transform="rotate(-90 11.4 618.5)" >Differentiation Potency</text>
<text x="69.9" y="472.9" font-size="12" font-weight="bold" font-style="normal" text-anchor="start" fill="#111" font-family="Liberation Sans" stroke="#111" stroke-width="0.2" textLength="29.2" lengthAdjust="spacingAndGlyphs" >batch</text>
<rect x="103.2" y="466.8" width="12.5" height="8.2" fill="#3878c0" stroke="#222" stroke-width="0.8"/>
<line x1="103.2" y1="470.9" x2="115.7" y2="470.9" stroke="#222" stroke-width="1"/>
<line x1="109.45" y1="464.5" x2="109.45" y2="466.8" stroke="#222" stroke-width="0.8"/>
<line x1="109.45" y1="475" x2="109.45" y2="477.3" stroke="#222" stroke-width="0.8"/>
<rect x="202.6" y="466.8" width="12.5" height="8.2" fill="#e8b32c" stroke="#222" stroke-width="0.8"/>
<line x1="202.6" y1="470.9" x2="215.1" y2="470.9" stroke="#222" stroke-width="1"/>
<line x1="208.85" y1="464.5" x2="208.85" y2="466.8" stroke="#222" stroke-width="0.8"/>
<line x1="208.85" y1="475" x2="208.85" y2="477.3" stroke="#222" stroke-width="0.8"/>
<text x="117.5" y="474.5" font-size="14" font-style="italic" font-family="Liberation Sans" fill="#222">Ddx43<tspan font-size="8.5" dy="-5.5" font-style="normal">KI/KI</tspan></text>
<text x="217.8" y="474.5" font-size="14" font-style="italic" font-family="Liberation Sans" fill="#222">Ddx43<tspan font-size="8.5" dy="-5.5" font-style="normal">+/+</tspan></text>
<text x="48.0" y="487.5" font-size="11" font-weight="normal" font-style="normal" text-anchor="start" fill="#222" font-family="Liberation Sans" textLength="12.3" lengthAdjust="spacingAndGlyphs" >**•</text>
<text x="88.9" y="487.5" font-size="11" font-weight="normal" font-style="normal" text-anchor="start" fill="#222" font-family="Liberation Sans" textLength="4.5" lengthAdjust="spacingAndGlyphs" >*</text>
<text x="152.1" y="487.5" font-size="11" font-weight="normal" font-style="normal" text-anchor="start" fill="#222" font-family="Liberation Sans" textLength="17.1" lengthAdjust="spacingAndGlyphs" >****</text>
<text x="195.6" y="487.5" font-size="11" font-weight="normal" font-style="normal" text-anchor="start" fill="#222" font-family="Liberation Sans" textLength="4.5" lengthAdjust="spacingAndGlyphs" >*</text>
<text x="222.2" y="487.5" font-size="11" font-weight="normal" font-style="normal" text-anchor="start" fill="#222" font-family="Liberation Sans" textLength="17.1" lengthAdjust="spacingAndGlyphs" >****</text>
<text x="259.8" y="487.5" font-size="11" font-weight="normal" font-style="normal" text-anchor="start" fill="#222" font-family="Liberation Sans" textLength="17.1" lengthAdjust="spacingAndGlyphs" >****</text>
<text x="118.1" y="488.5" font-size="12" font-weight="normal" font-style="normal" text-anchor="start" fill="#222" font-family="Liberation Sans" textLength="11.7" lengthAdjust="spacingAndGlyphs" >ns</text>
<line x1="44.55" y1="508.2" x2="44.55" y2="532.7" stroke="#555" stroke-width="0.9"/>
<line x1="44.55" y1="553.5" x2="44.55" y2="568.6" stroke="#555" stroke-width="0.9"/>
<rect x="38.3" y="532.7" width="12.5" height="20.8" fill="#3a78c0" stroke="#333" stroke-width="0.8"/>
<line x1="38.3" y1="541.2" x2="50.8" y2="541.2" stroke="#111" stroke-width="1.4"/>
<circle cx="44.5" cy="500.7" r="1.1" fill="#111"/>
<line x1="58.7" y1="495" x2="58.7" y2="520.9" stroke="#555" stroke-width="0.9"/>
<line x1="58.7" y1="543.4" x2="58.7" y2="569.3" stroke="#555" stroke-width="0.9"/>
<rect x="52.1" y="520.9" width="13.2" height="22.5" fill="#e9b52e" stroke="#333" stroke-width="0.8"/>
<line x1="52.1" y1="532.5" x2="65.3" y2="532.5" stroke="#111" stroke-width="1.4"/>
<line x1="80.35" y1="534.2" x2="80.35" y2="556.1" stroke="#555" stroke-width="0.9"/>
<line x1="80.35" y1="577.6" x2="80.35" y2="598.4" stroke="#555" stroke-width="0.9"/>
<rect x="74" y="556.1" width="12.7" height="21.5" fill="#3a78c0" stroke="#333" stroke-width="0.8"/>
<line x1="74" y1="567.7" x2="86.7" y2="567.7" stroke="#111" stroke-width="1.4"/>
<line x1="94.7" y1="529.9" x2="94.7" y2="555.5" stroke="#555" stroke-width="0.9"/>
<line x1="94.7" y1="573.6" x2="94.7" y2="595.5" stroke="#555" stroke-width="0.9"/>
<rect x="88.2" y="555.5" width="13.0" height="18.1" fill="#e9b52e" stroke="#333" stroke-width="0.8"/>
<line x1="88.2" y1="566" x2="101.2" y2="566" stroke="#111" stroke-width="1.4"/>
<circle cx="94.7" cy="506.8" r="1.1" fill="#111"/>
<circle cx="94.7" cy="519.5" r="1.1" fill="#111"/>
<circle cx="94.7" cy="520.4" r="1.1" fill="#111"/>
<circle cx="94.7" cy="521.3" r="1.1" fill="#111"/>
<circle cx="94.7" cy="522.2" r="1.1" fill="#111"/>
<circle cx="94.7" cy="523.1" r="1.1" fill="#111"/>
<circle cx="94.7" cy="524.0" r="1.1" fill="#111"/>
<circle cx="94.7" cy="524.9" r="1.1" fill="#111"/>
<circle cx="94.7" cy="525.8" r="1.1" fill="#111"/>
<circle cx="94.7" cy="526.7" r="1.1" fill="#111"/>
<circle cx="94.7" cy="527.6" r="1.1" fill="#111"/>
<line x1="116.35" y1="581.3" x2="116.35" y2="589.6" stroke="#555" stroke-width="0.9"/>
<line x1="116.35" y1="596" x2="116.35" y2="605" stroke="#555" stroke-width="0.9"/>
<rect x="110.1" y="589.6" width="12.5" height="6.4" fill="#3a78c0" stroke="#333" stroke-width="0.8"/>
<line x1="110.1" y1="592.9" x2="122.6" y2="592.9" stroke="#111" stroke-width="1.4"/>
<circle cx="116.3" cy="612.0" r="1.1" fill="#111"/>
<line x1="130.75" y1="574.7" x2="130.75" y2="590" stroke="#555" stroke-width="0.9"/>
<line x1="130.75" y1="600.6" x2="130.75" y2="609.3" stroke="#555" stroke-width="0.9"/>
<rect x="124.2" y="590" width="13.1" height="10.6" fill="#e9b52e" stroke="#333" stroke-width="0.8"/>
<line x1="124.2" y1="595.1" x2="137.3" y2="595.1" stroke="#111" stroke-width="1.4"/>
<line x1="152.25" y1="585" x2="152.25" y2="599.2" stroke="#555" stroke-width="0.9"/>
<line x1="152.25" y1="610.2" x2="152.25" y2="620" stroke="#555" stroke-width="0.9"/>
<rect x="145.8" y="599.2" width="12.9" height="11.0" fill="#3a78c0" stroke="#333" stroke-width="0.8"/>
<line x1="145.8" y1="603.9" x2="158.7" y2="603.9" stroke="#111" stroke-width="1.4"/>
<circle cx="152.2" cy="568.0" r="1.1" fill="#111"/>
<circle cx="152.2" cy="569.0" r="1.1" fill="#111"/>
<circle cx="152.2" cy="570.0" r="1.1" fill="#111"/>
<circle cx="152.2" cy="571.0" r="1.1" fill="#111"/>
<circle cx="152.2" cy="572.0" r="1.1" fill="#111"/>
<circle cx="152.2" cy="573.0" r="1.1" fill="#111"/>
<circle cx="152.2" cy="574.0" r="1.1" fill="#111"/>
<circle cx="152.2" cy="575.0" r="1.1" fill="#111"/>
<circle cx="152.2" cy="576.0" r="1.1" fill="#111"/>
<circle cx="152.2" cy="577.0" r="1.1" fill="#111"/>
<circle cx="152.2" cy="578.0" r="1.1" fill="#111"/>
<circle cx="152.2" cy="579.0" r="1.1" fill="#111"/>
<circle cx="152.2" cy="580.0" r="1.1" fill="#111"/>
<circle cx="152.2" cy="581.0" r="1.1" fill="#111"/>
<circle cx="152.2" cy="582.0" r="1.1" fill="#111"/>
<circle cx="152.2" cy="583.0" r="1.1" fill="#111"/>
<circle cx="152.2" cy="584.0" r="1.1" fill="#111"/>
<circle cx="152.2" cy="625.0" r="1.1" fill="#111"/>
<circle cx="152.2" cy="626.0" r="1.1" fill="#111"/>
<circle cx="152.2" cy="627.0" r="1.1" fill="#111"/>
<circle cx="152.2" cy="628.0" r="1.1" fill="#111"/>
<circle cx="152.2" cy="629.0" r="1.1" fill="#111"/>
<circle cx="152.2" cy="630.0" r="1.1" fill="#111"/>
<circle cx="152.2" cy="631.0" r="1.1" fill="#111"/>
<circle cx="152.2" cy="632.0" r="1.1" fill="#111"/>
<circle cx="152.2" cy="633.0" r="1.1" fill="#111"/>
<circle cx="152.2" cy="634.0" r="1.1" fill="#111"/>
<circle cx="152.2" cy="635.0" r="1.1" fill="#111"/>
<circle cx="152.2" cy="636.0" r="1.1" fill="#111"/>
<circle cx="152.2" cy="637.0" r="1.1" fill="#111"/>
<circle cx="152.2" cy="638.0" r="1.1" fill="#111"/>
<circle cx="152.2" cy="639.0" r="1.1" fill="#111"/>
<circle cx="152.2" cy="640.0" r="1.1" fill="#111"/>
<circle cx="152.2" cy="641.0" r="1.1" fill="#111"/>
<circle cx="152.2" cy="642.0" r="1.1" fill="#111"/>
<circle cx="152.2" cy="643.0" r="1.1" fill="#111"/>
<circle cx="152.2" cy="644.0" r="1.1" fill="#111"/>
<circle cx="152.2" cy="645.0" r="1.1" fill="#111"/>
<line x1="167.0" y1="580" x2="167.0" y2="596.2" stroke="#555" stroke-width="0.9"/>
<line x1="167.0" y1="608.4" x2="167.0" y2="618" stroke="#555" stroke-width="0.9"/>
<rect x="160.6" y="596.2" width="12.8" height="12.2" fill="#e9b52e" stroke="#333" stroke-width="0.8"/>
<line x1="160.6" y1="602.7" x2="173.4" y2="602.7" stroke="#111" stroke-width="1.4"/>
<circle cx="167.0" cy="558.0" r="1.1" fill="#111"/>
<circle cx="167.0" cy="562.0" r="1.1" fill="#111"/>
<circle cx="167.0" cy="562.9" r="1.1" fill="#111"/>
<circle cx="167.0" cy="563.8" r="1.1" fill="#111"/>
<circle cx="167.0" cy="564.7" r="1.1" fill="#111"/>
<circle cx="167.0" cy="565.6" r="1.1" fill="#111"/>
<circle cx="167.0" cy="566.5" r="1.1" fill="#111"/>
<circle cx="167.0" cy="567.4" r="1.1" fill="#111"/>
<circle cx="167.0" cy="568.3" r="1.1" fill="#111"/>
<circle cx="167.0" cy="569.2" r="1.1" fill="#111"/>
<circle cx="167.0" cy="570.1" r="1.1" fill="#111"/>
<circle cx="167.0" cy="571.0" r="1.1" fill="#111"/>
<circle cx="167.0" cy="571.9" r="1.1" fill="#111"/>
<circle cx="167.0" cy="572.8" r="1.1" fill="#111"/>
<circle cx="167.0" cy="573.7" r="1.1" fill="#111"/>
<circle cx="167.0" cy="574.6" r="1.1" fill="#111"/>
<circle cx="167.0" cy="575.5" r="1.1" fill="#111"/>
<circle cx="167.0" cy="576.4" r="1.1" fill="#111"/>
<circle cx="167.0" cy="577.3" r="1.1" fill="#111"/>
<circle cx="167.0" cy="578.2" r="1.1" fill="#111"/>
<circle cx="167.0" cy="579.1" r="1.1" fill="#111"/>
<circle cx="167.0" cy="619.0" r="1.1" fill="#111"/>
<circle cx="167.0" cy="620.0" r="1.1" fill="#111"/>
<circle cx="167.0" cy="621.0" r="1.1" fill="#111"/>
<circle cx="167.0" cy="622.0" r="1.1" fill="#111"/>
<circle cx="167.0" cy="623.0" r="1.1" fill="#111"/>
<circle cx="167.0" cy="624.0" r="1.1" fill="#111"/>
<circle cx="167.0" cy="625.0" r="1.1" fill="#111"/>
<circle cx="167.0" cy="626.0" r="1.1" fill="#111"/>
<circle cx="167.0" cy="627.0" r="1.1" fill="#111"/>
<circle cx="167.0" cy="628.0" r="1.1" fill="#111"/>
<circle cx="167.0" cy="629.0" r="1.1" fill="#111"/>
<circle cx="167.0" cy="630.0" r="1.1" fill="#111"/>
<circle cx="167.0" cy="631.0" r="1.1" fill="#111"/>
<circle cx="167.0" cy="632.0" r="1.1" fill="#111"/>
<circle cx="167.0" cy="633.0" r="1.1" fill="#111"/>
<line x1="188.45" y1="596.2" x2="188.45" y2="605.1" stroke="#555" stroke-width="0.9"/>
<line x1="188.45" y1="616.8" x2="188.45" y2="628.9" stroke="#555" stroke-width="0.9"/>
<rect x="182" y="605.1" width="12.9" height="11.7" fill="#3a78c0" stroke="#333" stroke-width="0.8"/>
<line x1="182" y1="611.4" x2="194.9" y2="611.4" stroke="#111" stroke-width="1.4"/>
<line x1="202.95" y1="593.2" x2="202.95" y2="608.6" stroke="#555" stroke-width="0.9"/>
<line x1="202.95" y1="620.3" x2="202.95" y2="632.4" stroke="#555" stroke-width="0.9"/>
<rect x="196.5" y="608.6" width="12.9" height="11.7" fill="#e9b52e" stroke="#333" stroke-width="0.8"/>
<line x1="196.5" y1="614.9" x2="209.4" y2="614.9" stroke="#111" stroke-width="1.4"/>
<line x1="224.45" y1="610.2" x2="224.45" y2="626.1" stroke="#555" stroke-width="0.9"/>
<line x1="224.45" y1="637.8" x2="224.45" y2="652.3" stroke="#555" stroke-width="0.9"/>
<rect x="218.3" y="626.1" width="12.3" height="11.7" fill="#3a78c0" stroke="#333" stroke-width="0.8"/>
<line x1="218.3" y1="631.7" x2="230.6" y2="631.7" stroke="#111" stroke-width="1.4"/>
<circle cx="224.4" cy="593.9" r="1.1" fill="#111"/>
<circle cx="224.4" cy="604.4" r="1.1" fill="#111"/>
<circle cx="224.4" cy="606.5" r="1.1" fill="#111"/>
<circle cx="224.4" cy="609.0" r="1.1" fill="#111"/>
<line x1="238.95" y1="590.4" x2="238.95" y2="614.2" stroke="#555" stroke-width="0.9"/>
<line x1="238.95" y1="630.5" x2="238.95" y2="644.1" stroke="#555" stroke-width="0.9"/>
<rect x="232.3" y="614.2" width="13.3" height="16.3" fill="#e9b52e" stroke="#333" stroke-width="0.8"/>
<line x1="232.3" y1="621.4" x2="245.6" y2="621.4" stroke="#111" stroke-width="1.4"/>
<circle cx="238.9" cy="567.0" r="1.1" fill="#111"/>
<circle cx="238.9" cy="573.0" r="1.1" fill="#111"/>
<circle cx="238.9" cy="576.0" r="1.1" fill="#111"/>
<circle cx="238.9" cy="578.0" r="1.1" fill="#111"/>
<circle cx="238.9" cy="581.0" r="1.1" fill="#111"/>
<circle cx="238.9" cy="583.5" r="1.1" fill="#111"/>
<circle cx="238.9" cy="585.7" r="1.1" fill="#111"/>
<line x1="260.4" y1="619.1" x2="260.4" y2="628.9" stroke="#555" stroke-width="0.9"/>
<line x1="260.4" y1="637.8" x2="260.4" y2="645.3" stroke="#555" stroke-width="0.9"/>
<rect x="254" y="628.9" width="12.8" height="8.9" fill="#3a78c0" stroke="#333" stroke-width="0.8"/>
<line x1="254" y1="633.1" x2="266.8" y2="633.1" stroke="#111" stroke-width="1.4"/>
<circle cx="260.4" cy="610.9" r="1.1" fill="#111"/>
<line x1="274.9" y1="613.3" x2="274.9" y2="625.4" stroke="#555" stroke-width="0.9"/>
<line x1="274.9" y1="635.9" x2="274.9" y2="649.5" stroke="#555" stroke-width="0.9"/>
<rect x="268.5" y="625.4" width="12.8" height="10.5" fill="#e9b52e" stroke="#333" stroke-width="0.8"/>
<line x1="268.5" y1="629.4" x2="281.3" y2="629.4" stroke="#111" stroke-width="1.4"/>
<circle cx="274.9" cy="591.1" r="1.1" fill="#111"/>
<line x1="51.4" y1="660.6" x2="51.4" y2="662.6" stroke="#aaa" stroke-width="0.8"/>
<line x1="87.3" y1="660.6" x2="87.3" y2="662.6" stroke="#aaa" stroke-width="0.8"/>
<line x1="123.4" y1="660.6" x2="123.4" y2="662.6" stroke="#aaa" stroke-width="0.8"/>
<line x1="159.5" y1="660.6" x2="159.5" y2="662.6" stroke="#aaa" stroke-width="0.8"/>
<line x1="195.7" y1="660.6" x2="195.7" y2="662.6" stroke="#aaa" stroke-width="0.8"/>
<line x1="231.5" y1="660.6" x2="231.5" y2="662.6" stroke="#aaa" stroke-width="0.8"/>
<line x1="267.4" y1="660.6" x2="267.4" y2="662.6" stroke="#aaa" stroke-width="0.8"/>
<text x="52.6" y="676.1" font-size="11" font-weight="bold" font-style="normal" text-anchor="middle" fill="#111" font-family="Liberation Sans" stroke="#111" stroke-width="0.2" textLength="16.5" lengthAdjust="spacingAndGlyphs" transform="rotate(-12 52.6 676.1)" >SPG</text>
<text x="55.0" y="680.8" font-size="8.5" font-family="Liberation Sans" fill="#555" text-anchor="middle" textLength="14.3" lengthAdjust="spacingAndGlyphs" transform="rotate(-12 55.0 677.8)">(84)</text>
<text x="85.9" y="676.3" font-size="11" font-weight="bold" font-style="normal" text-anchor="middle" fill="#111" font-family="Liberation Sans" stroke="#111" stroke-width="0.2" textLength="30.8" lengthAdjust="spacingAndGlyphs" transform="rotate(-12 85.9 676.3)" >SCytes1</text>
<text x="92.6" y="682.5" font-size="8.5" font-family="Liberation Sans" fill="#555" text-anchor="middle" textLength="17.8" lengthAdjust="spacingAndGlyphs" transform="rotate(-12 92.6 679.5)">(187)</text>
<text x="121.2" y="676.3" font-size="11" font-weight="bold" font-style="normal" text-anchor="middle" fill="#111" font-family="Liberation Sans" stroke="#111" stroke-width="0.2" textLength="30.9" lengthAdjust="spacingAndGlyphs" transform="rotate(-12 121.2 676.3)" >SCytes2</text>
<text x="127.7" y="682.5" font-size="8.5" font-family="Liberation Sans" fill="#555" text-anchor="middle" textLength="17.8" lengthAdjust="spacingAndGlyphs" transform="rotate(-12 127.7 679.5)">(144)</text>
<text x="153.7" y="675.8" font-size="11" font-weight="bold" font-style="normal" text-anchor="middle" fill="#111" font-family="Liberation Sans" stroke="#111" stroke-width="0.2" textLength="21.2" lengthAdjust="spacingAndGlyphs" transform="rotate(-12 153.7 675.8)" >STids</text>
<text x="155.4" y="680.2" font-size="8.5" font-family="Liberation Sans" fill="#555" text-anchor="middle" textLength="21.7" lengthAdjust="spacingAndGlyphs" transform="rotate(-12 155.4 677.2)">(6104)</text>
<text x="189.9" y="676.3" font-size="11" font-weight="bold" font-style="normal" text-anchor="middle" fill="#111" font-family="Liberation Sans" stroke="#111" stroke-width="0.2" textLength="46.1" lengthAdjust="spacingAndGlyphs" transform="rotate(-12 189.9 676.3)" >Elongating1</text>
<text x="192.8" y="684.9" font-size="8.5" font-family="Liberation Sans" fill="#555" text-anchor="middle" textLength="19.2" lengthAdjust="spacingAndGlyphs" transform="rotate(-12 192.8 681.9)">(281)</text>
<text x="227.3" y="676.3" font-size="11" font-weight="bold" font-style="normal" text-anchor="middle" fill="#111" font-family="Liberation Sans" stroke="#111" stroke-width="0.2" textLength="46.0" lengthAdjust="spacingAndGlyphs" transform="rotate(-12 227.3 676.3)" >Elongating2</text>
<text x="229.7" y="684.9" font-size="8.5" font-family="Liberation Sans" fill="#555" text-anchor="middle" textLength="18.1" lengthAdjust="spacingAndGlyphs" transform="rotate(-12 229.7 681.9)">(875)</text>
<text x="266.4" y="676.3" font-size="11" font-weight="bold" font-style="normal" text-anchor="middle" fill="#111" font-family="Liberation Sans" stroke="#111" stroke-width="0.2" textLength="47.1" lengthAdjust="spacingAndGlyphs" transform="rotate(-12 266.4 676.3)" >Elongating3</text>
<text x="267.6" y="684.9" font-size="8.5" font-family="Liberation Sans" fill="#555" text-anchor="middle" textLength="19.3" lengthAdjust="spacingAndGlyphs" transform="rotate(-12 267.6 681.9)">(155)</text>
<text x="302.5" y="473.0" font-size="23" font-weight="normal" font-style="normal" text-anchor="start" fill="#111" font-family="Liberation Sans" >f</text>
<line x1="329.6" y1="455.5" x2="329.6" y2="661.6" stroke="#333" stroke-width="1"/>
<line x1="329.1" y1="661.2" x2="499.5" y2="661.2" stroke="#333" stroke-width="1"/>
<line x1="327.3" y1="464.9" x2="329.6" y2="464.9" stroke="#333" stroke-width="0.9"/>
<text x="326.2" y="469.2" font-size="12" font-weight="bold" font-style="normal" text-anchor="end" fill="#111" font-family="Liberation Sans" stroke="#111" stroke-width="0.2" textLength="10.0" lengthAdjust="spacingAndGlyphs" >40</text>
<line x1="327.3" y1="515.3" x2="329.6" y2="515.3" stroke="#333" stroke-width="0.9"/>
<text x="326.2" y="519.6" font-size="12" font-weight="bold" font-style="normal" text-anchor="end" fill="#111" font-family="Liberation Sans" stroke="#111" stroke-width="0.2" textLength="10.0" lengthAdjust="spacingAndGlyphs" >20</text>
<line x1="327.3" y1="565.4" x2="329.6" y2="565.4" stroke="#333" stroke-width="0.9"/>
<text x="326.2" y="569.7" font-size="12" font-weight="bold" font-style="normal" text-anchor="end" fill="#111" font-family="Liberation Sans" stroke="#111" stroke-width="0.2" textLength="5.5" lengthAdjust="spacingAndGlyphs" >0</text>
<line x1="327.3" y1="616.5" x2="329.6" y2="616.5" stroke="#333" stroke-width="0.9"/>
<text x="326.2" y="620.8" font-size="12" font-weight="bold" font-style="normal" text-anchor="end" fill="#111" font-family="Liberation Sans" stroke="#111" stroke-width="0.2" textLength="14.5" lengthAdjust="spacingAndGlyphs" >-20</text>
<line x1="350.5" y1="661.2" x2="350.5" y2="663.5" stroke="#333" stroke-width="0.9"/>
<text x="350.5" y="672.8" font-size="12" font-weight="bold" font-style="normal" text-anchor="middle" fill="#111" font-family="Liberation Sans" stroke="#111" stroke-width="0.2" textLength="14.5" lengthAdjust="spacingAndGlyphs" >-20</text>
<line x1="405.9" y1="661.2" x2="405.9" y2="663.5" stroke="#333" stroke-width="0.9"/>
<text x="405.9" y="672.8" font-size="12" font-weight="bold" font-style="normal" text-anchor="middle" fill="#111" font-family="Liberation Sans" stroke="#111" stroke-width="0.2" textLength="5.5" lengthAdjust="spacingAndGlyphs" >0</text>
<line x1="458.5" y1="661.2" x2="458.5" y2="663.5" stroke="#333" stroke-width="0.9"/>
<text x="458.5" y="672.8" font-size="12" font-weight="bold" font-style="normal" text-anchor="middle" fill="#111" font-family="Liberation Sans" stroke="#111" stroke-width="0.2" textLength="10.0" lengthAdjust="spacingAndGlyphs" >20</text>
<text x="441.6" y="683.6" font-size="13" font-weight="bold" font-style="normal" text-anchor="start" fill="#111" font-family="Liberation Sans" stroke="#111" stroke-width="0.2" textLength="26.9" lengthAdjust="spacingAndGlyphs" >PC_1</text>
<text x="311.4" y="559.5" font-size="13" font-weight="bold" font-style="normal" text-anchor="start" fill="#111" font-family="Liberation Sans" stroke="#111" stroke-width="0.2" textLength="28.5" lengthAdjust="spacingAndGlyphs" transform="rotate(-90 311.4 559.5)" >PC_2</text>
<path transform="scale(.5)" d="M842 1039h0m-2 0h0m-28 8h0m7-2h0m2 0h0m1-3h0m0 1h0m2-1h0m2-1h0m4 4h0m1 0h0m2-3h0m1-1h0m3-1h0m1 5h0m4 0h0m1 1h0m1 1h0m0-3h0m3 3h0m1-1h0m3 9h0m-1 0h0m0-6h0m-2 3h0m0 1h0m0-3h0m-1 3h0m-2 2h0m0-4h0m-1-1h0m-1 2h0m-1 3h0m-1 0h0m-1-2h0m-1-5h0m0 3h0m-1 3h0m0-4h0m-3 5h0m0-4h0m-3 2h0m-1 1h0m0-6h0m-1 7h0m-2-1h0m-1 1h0m0-1h0m-1 1h0m-2-6h0m0-1h0m0 7h0m0-5h0m-1 1h0m0 4h0m-3-1h0m-1-2h0m-1-4h0m0 6h0m-1-6h0m-3 5h0m0 2h0m-1-7h0m0 0h0m-1 3h0m0 1h0m-4 2h0m-2 1h0m-2-2h0m-1-1h0m-1 2h0m-3 1h0m-1 0h0m-10 8h0m4-3h0m1-3h0m3 3h0m1 0h0m5-4h0m0 3h0m1-2h0m1 0h0m2 5h0m1 0h0m2-3h0m0-3h0m3 6h0m0-2h0m1 3h0m0-1h0m0 1h0m1-1h0m0 1h0m1-7h0m0 4h0m1-2h0m1 1h0m0 4h0m2-6h0m1 2h0m0-2h0m2 3h0m3-4h0m0 2h0m1 5h0m0-5h0m3-2h0m0 2h0m0-2h0m1 7h0m1-4h0m1 0h0m0 3h0m1-1h0m1-4h0m1 1h0m0-1h0m0 1h0m4-1h0m2 5h0m0 0h0m1 0h0m0-6h0m0 4h0m2 1h0m0 2h0m1 0h0m0-2h0m1 0h0m0 2h0m4-2h0m0-5h0m0 6h0m0-5h0m0 8h0m-2 0h0m0 5h0m-1-1h0m0 0h0m-2-4h0m0 3h0m-1-3h0m-3 3h0m-3-1h0m-3 0h0m0 2h0m-1-4h0m-3-1h0m-1 2h0m-2 5h0m0 0h0m-4-7h0m0 4h0m-1 2h0m0-4h0m-1 2h0m-2-2h0m0-2h0m-1 3h0m-1 3h0m0-2h0m-2 1h0m0-5h0m-1 6h0m0-1h0m-5 1h0m-1-3h0m-2-2h0m-2 5h0m0-6h0m0 3h0m-1-3h0m-4 6h0m-2-6h0m-1 5h0m-1-3h0m-1 4h0m0-5h0m0 1h0m-1 0h0m0 5h0m-2-5h0m-1 1h0m0 3h0m-2-5h0m-3 6h0m0-1h0m0-2h0m-2 1h0m-5 2h0m-9 6h0m5 1h0m2-3h0m0-1h0m0 2h0m1-4h0m0 3h0m0 4h0m3-1h0m1 1h0m1 0h0m1-2h0m1-5h0m3 5h0m1-5h0m2 3h0m1 2h0m0-3h0m1 5h0m0-6h0m1 6h0m0-6h0m1 4h0m1 1h0m0-5h0m1 3h0m0-2h0m1-1h0m0 2h0m1 1h0m0-1h0m0-3h0m1 6h0m0-2h0m2-4h0m0 3h0m2-1h0m1 3h0m0-3h0m1 3h0m3-4h0m1 4h0m5-2h0m2 4h0m1-6h0m1 5h0m2-5h0m2 5h0m2-1h0m1-4h0m2 2h0m1-3h0m3 7h0m0-2h0m0-1h0m1 2h0m2-2h0m2-3h0m0 1h0m4 0h0m0 5h0m0-2h0m1-4h0m1 3h0m2-4h0m0 0h0m0 1h0m0-1h0m-8 15h0m-2 0h0m0-6h0m-1 4h0m0 2h0m-2-6h0m-1 0h0m0-1h0m-1 2h0m0 1h0m0 4h0m-2-7h0m-2 2h0m-1-2h0m-2 7h0m0-2h0m-2 1h0m-1-5h0m-1 1h0m-2-2h0m-7 7h0m0-2h0m-3 0h0m0 1h0m0-1h0m-1-3h0m0 0h0m-1 2h0m0-3h0m-1 3h0m0 3h0m-1-2h0m0 2h0m-2-5h0m0 3h0m-1-4h0m-1 1h0m0 1h0m-1 0h0m0 1h0m0 2h0m0-6h0m-3 3h0m-1 4h0m0-1h0m-1-3h0m0 4h0m-1-6h0m-1 5h0m-1-2h0m-2-3h0m-2-1h0m-1 3h0m-2 3h0m-1 0h0m0 1h0m0-4h0m-1 1h0m-2 1h0m-2-4h0m0 3h0m-2 3h0m-2-1h0m0-4h0m0 5h0m-3-2h0m-1-5h0m0 7h0m-2-6h0m-2 1h0m-2 5h0m-8 5h0m8-2h0m0 5h0m1-3h0m1 2h0m0-4h0m1 4h0m2-5h0m0 1h0m3 0h0m1-1h0m0 1h0m1 5h0m2-4h0m0 1h0m1 3h0m0 0h0m0-4h0m2-2h0m1 1h0m1 3h0m1 2h0m1-3h0m0 0h0m2 2h0m1-3h0m0-1h0m1 3h0m1-1h0m1-2h0m0-1h0m0 0h0m4 1h0m0-1h0m2 2h0m0 2h0m4-2h0m0 1h0m0 3h0m1-2h0m3 1h0m1 1h0m1 0h0m1-7h0m2 2h0m0-1h0m0 2h0m2-3h0m1 2h0m1 3h0m0-1h0m2-2h0m1-1h0m0 6h0m1-2h0m2-4h0m1 1h0m1-2h0m0 3h0m1 3h0m1-5h0m0 3h0m0-4h0m1 6h0m4-6h0m1 7h0m5-4h0m1 2h0m1-5h0m1 0h0m1 2h0m0 3h0m3-3h0m-5 7h0m-2 1h0m-3-1h0m-1 1h0m0 4h0m-4-4h0m-1 2h0m-1 1h0m0 0h0m-1 0h0m-1 0h0m-2 0h0m0 0h0m-1-2h0m0 1h0m-2-3h0m-3 1h0m0 2h0m0 1h0m-1-2h0m-1 1h0m0 0h0m0-1h0m-3 4h0m-2-5h0m0-1h0m-1 0h0m-1 3h0m0-2h0m0 4h0m-4-6h0m0 4h0m-1 2h0m-3-6h0m-1 1h0m-2 6h0m-2-7h0m-1 4h0m-1 2h0m-1-2h0m-1 1h0m-1-3h0m-2 5h0m-1-2h0m0-2h0m0-1h0m-2-1h0m-2 1h0m-3 0h0m-1-1h0m-3 4h0m0 0h0m-2 0h0m-1-3h0m-2 5h0m-3-5h0m-1 2h0m-1-4h0m-1 1h0m-2 3h0m0 1h0m-1 2h0m0-4h0m0-1h0m-2-2h0m-1 6h0m-2-3h0m-2 3h0m0 0h0m-2 0h0m-5 8h0m1 0h0m0 1h0m3-6h0m0 1h0m2-2h0m1 3h0m2 1h0m1-2h0m0 2h0m0-4h0m1 7h0m4-1h0m1-4h0m1-1h0m2 1h0m3-2h0m1 5h0m0-5h0m3 7h0m0-5h0m1 2h0m0-3h0m0 1h0m1 5h0m1 0h0m1-4h0m2-3h0m1 1h0m1 0h0m1 5h0m3-6h0m0 1h0m1 0h0m1 3h0m0 3h0m0 0h0m2-7h0m0 3h0m1-3h0m2 5h0m2-3h0m0 4h0m3-4h0m1 5h0m5-3h0m0-4h0m3 4h0m0 1h0m0-4h0m2 0h0m1 2h0m1 4h0m4-6h0m0 3h0m0-2h0m3 2h0m1 2h0m0-2h0m2 3h0m2-1h0m0-6h0m4 2h0m1 1h0m0 0h0m1 0h0m1-3h0m1 1h0m0 1h0m0 2h0m0-2h0m1-1h0m0-1h0m1 3h0m-9 7h0m0-2h0m-2 1h0m0 3h0m-1 3h0m0-5h0m-4 4h0m0-5h0m-1 0h0m-1 2h0m-1 4h0m0-4h0m-1 4h0m-1-6h0m0 2h0m-1 0h0m0 4h0m-3-2h0m-1-1h0m-1 0h0m0 2h0m-2-3h0m-1 0h0m-5-2h0m-2 0h0m-1 5h0m0-4h0m0 0h0m-1 2h0m-1 2h0m-4-6h0m-5 0h0m-1 0h0m0 1h0m-1 1h0m-1 1h0m0-3h0m0 1h0m-1 5h0m-1-1h0m0-4h0m-1 2h0m0-3h0m-3 4h0m-1-1h0m-1 2h0m-2 1h0m-1 1h0m0-6h0m-2-1h0m-1 1h0m-1 6h0m-2-3h0m-1-3h0m0 3h0m-1 0h0m-2-4h0m0 1h0m-2 5h0m0-3h0m-1 4h0m-1-1h0m0 1h0m-1-7h0m0 7h0m-2-5h0m0 0h0m-1 3h0m0-5h0m-1 1h0m-2 2h0m-1 1h0m-3-2h0m0 0h0m0 5h0m-3 0h0m0 0h0m-2 8h0m0-6h0m3 6h0m1-3h0m1 3h0m0 0h0m1-6h0m1 0h0m2 0h0m0 1h0m0 1h0m2 0h0m2 1h0m0 2h0m0-1h0m0 2h0m1-7h0m0 0h0m1 4h0m1 0h0m1 2h0m1-6h0m3 7h0m1-2h0m0-1h0m1-2h0m0 3h0m1-5h0m0 1h0m6 1h0m1-2h0m1 4h0m2-2h0m0-2h0m0 7h0m1-3h0m1-4h0m0 1h0m0 4h0m1 2h0m0-3h0m2 2h0m2-3h0m0-3h0m1 6h0m1-3h0m0-2h0m2 5h0m1-1h0m2 1h0m0-5h0m0 5h0m1-4h0m1-1h0m3 4h0m1-5h0m1 0h0m0 2h0m0-2h0m1 6h0m2-6h0m0 6h0m2-5h0m0 4h0m1-3h0m2 4h0m0 0h0m1 0h0m3-5h0m1 5h0m0-5h0m1 0h0m2 2h0m2 4h0m2-2h0m1 0h0m5-5h0m-9 9h0m-1 1h0m-4 2h0m0 1h0m-1 2h0m-2-2h0m-1 2h0m-2-1h0m0-1h0m-3-4h0m-4 3h0m-3-2h0m0 0h0m0 3h0m-1-4h0m0 1h0m0 0h0m0 2h0m-2 3h0m0-6h0m0 6h0m0-2h0m-6 1h0m0-2h0m-2 3h0m-1-4h0m-1-2h0m0 5h0m0-1h0m-1-3h0m-2 1h0m-1-2h0m-3 6h0m-2-4h0m-4 4h0m0-5h0m-1 3h0m-1-4h0m-2 5h0m-1-1h0m0-1h0m-3-3h0m-4 3h0m0-2h0m-1 3h0m0-5h0m-1 3h0m0 4h0m-4-6h0m-1 2h0m-1 0h0m-2-1h0m-2 5h0m-2-4h0m0 3h0m-4 1h0m-1 0h0m0 3h0m2 4h0m1 1h0m1-1h0m0-5h0m1 3h0m0 0h0m2-2h0m1 4h0m0-6h0m0 6h0m0-5h0m1 0h0m1 1h0m1-1h0m0 4h0m1-5h0m2 3h0m1 2h0m0-4h0m2 6h0m0-7h0m4 3h0m1 3h0m0-1h0m3 1h0m1 0h0m1 1h0m0-7h0m1 0h0m4 7h0m0-1h0m1-4h0m0 2h0m1-2h0m1 5h0m1-5h0m1 5h0m1-4h0m2-1h0m2 5h0m0 0h0m0-5h0m1 4h0m3-3h0m0-2h0m4 0h0m2 3h0m1 2h0m4 1h0m1-2h0m1-2h0m1 3h0m3-4h0m1-1h0m1 3h0m1-1h0m3-3h0m1 1h0m-15 9h0m0 1h0m0 0h0m-2-2h0m-2 5h0m0-6h0m0 6h0m-1-4h0m-1 4h0m0-5h0m-2 4h0m0-3h0m-3 4h0m-1 1h0m0-2h0m-2 0h0m-3 2h0m-3-3h0m0-1h0m0 3h0m-1 1h0m0-5h0m-3-2h0m0 3h0m-2-1h0m0 5h0m-2-1h0m-1 0h0m-3-5h0m-2 2h0m-1 2h0m0-2h0m-1 0h0m-1 1h0m-3-2h0m-1 5h0m0-2h0m-4 0h0m-3 2h0m-1-4h0m-3 4h0m0-4h0m0-2h0m-2 0h0m0 3h0m-1-2h0m0-1h0m-1 6h0m-2-7h0m-1 4h0m1 10h0m0-6h0m0 4h0m4 3h0m0-6h0m2 0h0m0 4h0m6 1h0m1-4h0m2-2h0m0 5h0m2-1h0m0 1h0m2 0h0m2-1h0m0-3h0m1-1h0m0 4h0m1-4h0m1 4h0m3-1h0m0-3h0m0 0h0m1 1h0m0 3h0m1-3h0m3-1h0m1 4h0m2-1h0m0 0h0m4 3h0m1-3h0m1-3h0m1 5h0m0 0h0m0 0h0m0-3h0m2 2h0m2 0h0m1 1h0m0 0h0m1-3h0m-14 10h0m-2-1h0m-1 1h0m0-3h0m0 2h0m0-1h0m-1 0h0m-1 1h0m0-2h0m-1 4h0m0 0h0m-1-3h0m0 4h0m-1-1h0m0-3h0m-1 0h0m0 3h0m-1-3h0m-1-2h0m-1 2h0m-2 2h0m-2 2h0m0 0h0m0-5h0m-4 2h0m-1 1h0m0-1h0m-1-2h0m-2-1h0m-2 0h0m-1 3h0m-1-1h0m-1-2h0m-2 3h0m-1-3h0m-2 0h0m9 8h0m1 1h0m1-1h0m5 1h0m2-1h0m4 0h0" stroke="#f07e70" stroke-width="3.0" stroke-linecap="round" stroke-opacity="1"/>
<path transform="scale(.5)" d="M918 929h0m4-1h0m8 3h0m0 3h0m5-4h0m4 5h0m1-7h0m6 2h0m14 1h0m15-3h0m-16 11h0m-2 3h0m-1 1h0m-10-4h0m-6-3h0m-11 4h0m-32-1h0m-4 4h0m4 3h0m3-2h0m12 5h0m2-3h0m5 3h0m0-2h0m8 1h0m2-4h0m10 0h0m13 1h0m-21 12h0m0 1h0m-5-5h0m-18 1h0m0 5h0m-1-5h0m0 5h0m-11 0h0m0-4h0m-4-1h0m0 0h0m-4 5h0m-1-1h0m-14 0h0m-9 9h0m6-6h0m8 1h0m12 5h0m6 0h0m2-7h0m5 6h0m4-1h0m10-3h0m1 1h0m7 2h0m8 0h0m0-2h0m1-3h0m13 14h0m-3 0h0m-6-5h0m-4 1h0m-12 0h0m-5 1h0m0-2h0m-5 5h0m-6-2h0m-5 1h0m-5 1h0m-1 0h0m-1 0h0m-7 1h0m-16-5h0m-22 12h0m4 0h0m9 0h0m2-4h0m11 1h0m5-1h0m4 0h0m2 1h0m10 4h0m3-4h0m1 4h0m53-4h0m17 9h0m-3 0h0m-2 0h0m-16-3h0m-3 1h0m-3 2h0m-34 2h0m-1-2h0m-6 2h0m-4-2h0m-3 1h0m-6 1h0m-5-1h0m-2-4h0m-2 5h0m-31-4h0m-10 5h0m-7 1h0m4 2h0m8 2h0m0 2h0m11-3h0m3 2h0m7 0h0m6 0h0m3 0h0m16 1h0m13-3h0m5 4h0m1-3h0m24 3h0m12-5h0m4-2h0m1 0h0m2 1h0m4 5h0m11 1h0m2-2h0m1-5h0m9 2h0m-8 8h0m-13 1h0m-3-1h0m-6 1h0m-31-1h0m0 1h0m-8-2h0m0 4h0m-3-5h0m-12 4h0m-3 1h0m-8-5h0m-28 2h0m-17 2h0m-3 0h0m-4-3h0m-4 1h0m-2 4h0m-19 7h0m21-4h0m10-1h0m1 7h0m2-1h0m37-5h0m1-1h0m9 7h0m4-6h0m2 1h0m1 2h0m37 3h0m10-7h0m8 1h0m5 3h0m6-1h0m2-1h0m2-1h0m3 11h0m-3 1h0m-3 0h0m-3-3h0m-9 5h0m-22-5h0m-6 5h0m-23-6h0m-5-1h0m-49 2h0m-3 1h0m-5 1h0m-3 3h0m-15-7h0m-3 6h0m0 9h0m2-2h0m0-3h0m8 1h0m7 1h0m11 2h0m68-4h0m8 4h0m4 1h0m23-3h0m1-1h0m15-3h0m-122 15h0m-6 0h0m-7-6h0m-2 5h0m-4-2h0m-10-3h0m1 8h0m4 4h0m7 1h0m3-3h0m3-3h0m-12 10h0m0 4h0m-1 6h0" stroke="#f07e70" stroke-width="2.8" stroke-linecap="round" stroke-opacity="1"/>
<path transform="scale(.5)" d="M768 1145h0m-5 4h0m-10 5h0m3 1h0m2 3h0m1-5h0m1 4h0m0-2h0m3 4h0m2-5h0m0 2h0m2 3h0m11 2h0m-2 5h0m-5-6h0m-1 7h0m-3-2h0m-5 2h0m-2 0h0m0-5h0m0 1h0m-1 3h0m-1-6h0m0 4h0m-1 2h0m0-1h0m-1 2h0m-4-3h0m-1-1h0m0-3h0m-1 4h0m-1 0h0m-1-3h0m0 5h0m-3-2h0m1 8h0m2-1h0m2-1h0m0 4h0m1-5h0m1 2h0m0 1h0m1-2h0m1 4h0m1-3h0m1 2h0m0-5h0m1 0h0m0 2h0m1 5h0m0-2h0m1-3h0m1 0h0m2 1h0m0 3h0m0-2h0m2 1h0m1-3h0m1 5h0m1 0h0m1-7h0m2 5h0m7-3h0m-4 8h0m-3 2h0m-3-4h0m-2 0h0m-3 2h0m0 4h0m-1-3h0m-2-3h0m-1 4h0m0 3h0m0-4h0m-1-2h0m0 5h0m-1-6h0m-3 7h0m-1-2h0m0-3h0m-1 5h0m-1-3h0m-1 2h0m-1 1h0m-2-4h0m-1 3h0m0-4h0m-1 5h0m0-4h0m-1 1h0m0-3h0m0 0h0m-1 1h0m-1 2h0m-1 0h0m-4 3h0m-10-4h0m-3 1h0m6 4h0m4 1h0m3 4h0m4-4h0m0-1h0m1 2h0m1 4h0m1-6h0m1 2h0m0 2h0m1 3h0m0 0h0m0-3h0m1-1h0m3-1h0m0 2h0m1 0h0m0-2h0m1 5h0m0-5h0m0 3h0m5-2h0m0 2h0m1 1h0m1 1h0m1-5h0m4-2h0m7 0h0m-5 9h0m-1-1h0m-6 2h0m-1-1h0m-4-1h0m0 6h0m0 0h0m-1-2h0m-2 3h0m-1-4h0m0-1h0m-1-1h0m-1 1h0m-1 4h0m0-1h0m-1-4h0m-2 1h0m-2 1h0m0-1h0m0-2h0m-1 6h0m0 0h0m-1-5h0m0 4h0m-1 0h0m-4 0h0m-12 8h0m2 1h0m2-4h0m2 1h0m1-1h0m0-2h0m1 0h0m0 1h0m2 6h0m0-1h0m0 0h0m0 1h0m1-6h0m2 6h0m2-6h0m2 5h0m0-3h0m1 3h0m1-6h0m0 4h0m0 2h0m1-4h0m1 2h0m1-3h0m0 4h0m1-4h0m0 0h0m1 6h0m0-6h0m0 5h0m1-2h0m0 2h0m0-5h0m2 4h0m0-3h0m4-1h0m1-1h0m5 7h0m-4 5h0m-8 1h0m-3-3h0m-3 3h0m-2 0h0m0-1h0m0-2h0m0 0h0m-2 4h0m0-6h0m0 2h0m-1 2h0m0-3h0m-2 0h0m-1 6h0m-1-6h0m0 2h0m0 4h0m0-3h0m-1 3h0m-1-7h0m-1 2h0m0 5h0m-1-6h0m-3 6h0m0-7h0m-1 1h0m0 4h0m-2-1h0m-15 3h0m5 8h0m1 0h0m1-1h0m3-4h0m2 0h0m0 5h0m0-6h0m4-1h0m0 7h0m1-4h0m1 1h0m1 0h0m0 3h0m0-4h0m1 0h0m0 3h0m1-1h0m0-2h0m1 2h0m1-1h0m0-4h0m1 2h0m1 2h0m0 0h0m1-2h0m0 3h0m0-5h0m0 0h0m0 6h0m1-5h0m2 1h0m0 5h0m0-5h0m1-2h0m1 0h0m1 0h0m5 3h0m2 6h0m-8 2h0m-2 4h0m-3-7h0m0 4h0m0 3h0m-2-5h0m-1 3h0m-1 1h0m0-6h0m-2 7h0m0-7h0m-1 7h0m-1-3h0m0-2h0m0 2h0m-1 2h0m-1-5h0m0 5h0m-1-4h0m0-2h0m0 7h0m-1-1h0m-1 1h0m-2-4h0m-1 2h0m0 0h0m-2 2h0m0-4h0m-1 3h0m-1-3h0m-1 0h0m-1 4h0m-17 6h0m7 1h0m7 1h0m0 0h0m1-1h0m1 0h0m1 0h0m3-6h0m0 3h0m1-3h0m1 6h0m0-1h0m0-5h0m1 4h0m0 0h0m2 3h0m0 0h0m0-3h0m1 2h0m0-3h0m3 1h0m0-1h0m1-1h0m0 5h0m1-4h0m0-1h0m1 0h0m0 0h0m0 1h0m1 4h0m0-1h0m0-2h0m2-3h0m1-1h0m1 5h0m2 0h0m2-2h0m0 3h0m0 0h0m1-2h0m-2 11h0m-1-7h0m-5 7h0m-1-6h0m-2 2h0m-1 3h0m0-1h0m-1-3h0m-1 2h0m0 1h0m-1-5h0m0 0h0m-1 1h0m-1 4h0m0 1h0m0-3h0m-1 2h0m0-4h0m-1 5h0m0-2h0m-1-1h0m0 1h0m0 2h0m-1-2h0m0-2h0m-3 0h0m0 5h0m-1 0h0m-1-3h0m-1 3h0m0-7h0m-1 3h0m-2-2h0m-4 3h0m-2 2h0m-4-2h0m-1 3h0m0 8h0m1-3h0m5-1h0m1 1h0m1 0h0m0 0h0m1-2h0m0 3h0m1 1h0m1-1h0m1-3h0m0-2h0m0 2h0m1 3h0m0 1h0m0 1h0m0-5h0m1 4h0m0 0h0m0-5h0m0 5h0m1 1h0m0-7h0m0 6h0m1-2h0m1 0h0m0 1h0m0-1h0m1 0h0m0-2h0m1 3h0m1 2h0m0-7h0m1 4h0m1 2h0m0-3h0m0-2h0m3 0h0m4 6h0m0-6h0m4 5h0m6-3h0m-9 5h0m-4 1h0m-1-1h0m0 2h0m-2-2h0m-1 3h0m-1 1h0m-1-1h0m-1-2h0m-1-1h0m-1 0h0m-1 7h0m0-6h0m0 2h0m-1 1h0m-2 0h0m0-3h0m-1-1h0m0 7h0m0-5h0m-1 0h0m-2 0h0m0 4h0m-1 1h0m0 0h0m-1-1h0m0 1h0m-1-5h0m-2 1h0m-1 4h0m-1-3h0m0 0h0m-2 3h0m0-4h0m0 1h0m-1 3h0m-3-4h0m0-1h0m-2 0h0m-7 5h0m3 8h0m2 0h0m1-6h0m1 6h0m3-1h0m2 1h0m1-1h0m1 0h0m0-1h0m1-1h0m1-4h0m1 1h0m1-1h0m0 3h0m1 2h0m1-2h0m0 4h0m0-2h0m2-5h0m1 4h0m0 3h0m0-7h0m1 7h0m2-1h0m0 1h0m1-7h0m0 0h0m0 1h0m2-1h0m4 6h0m-3 7h0m-1-5h0m-1 0h0m-2 6h0m-1 0h0m-1-1h0m-1 1h0m-2-5h0m-1 3h0m0 2h0m-1-5h0m0 0h0m-1 3h0m0-3h0m0-1h0m0 1h0m0 6h0m0-4h0m0 0h0m-1 0h0m0 3h0m0-3h0m-1 3h0m0 0h0m-1 0h0m0-4h0m0-2h0m-1 4h0m0 2h0m-1 0h0m0-3h0m-1 1h0m-1 0h0m-1-4h0m-1 7h0m0-3h0m0-3h0m-13 14h0m1-6h0m3 5h0m1-6h0m1 5h0m2-5h0m1 5h0m0-5h0m0 4h0m1 0h0m1 0h0m2-4h0m1 2h0m0-1h0m1 1h0m0 3h0m0-4h0m1 3h0m0-3h0m0 1h0m0 5h0m1-5h0m0 3h0m0-4h0m1 3h0m0-4h0m1 5h0m0-2h0m0-2h0m1 0h0m1 0h0m1 0h0m0 2h0m0 1h0m1 0h0m1 3h0m0-6h0m1 4h0m0 2h0m1-7h0m1 2h0m0-1h0m0-1h0m4 2h0m1 5h0m4-3h0m-4 9h0m-3 0h0m-1-5h0m-4 0h0m-3 3h0m-1-3h0m0 4h0m-1-2h0m-2 1h0m0 1h0m-2-3h0m-1 4h0m0 0h0m-2-3h0m0 3h0m-1 1h0m-2-1h0m0-5h0m-3 2h0m0-2h0m-1 0h0m-1 2h0m-2 4h0m0-3h0m-3-2h0m-2 10h0m4-1h0m1-2h0m1 6h0m6-6h0m2 0h0m3 5h0m2-4h0m4 0h0m4-1h0m1 0h0m-28 15h0m-6-7h0" stroke="#f07e70" stroke-width="3.0" stroke-linecap="round" stroke-opacity="1"/>
<path transform="scale(.5)" d="M937 1162h0m-7 37h0m-84-7h0m-11 5h0m-53 17h0m-19-2h0m40 12h0m67 27h0m23 12h0m-108-3h0" stroke="#f07e70" stroke-width="2.8" stroke-linecap="round" stroke-opacity="1"/>
<ellipse cx="393" cy="553" rx="26" ry="8.5" transform="rotate(-46 393 553)" fill="#4ec3c3"/>
<path transform="scale(.5)" d="M835 1055h0m-4 0h0m-1-3h0m-3 2h0m-2-1h0m-1-1h0m-3 3h0m-1 0h0m0 0h0m0 0h0m-5 0h0m-8 4h0m0 0h0m1 0h0m4 3h0m3-1h0m0-4h0m0 0h0m0 2h0m1 2h0m0-1h0m1 0h0m0 3h0m0-1h0m1-2h0m0 1h0m0 1h0m0-1h0m0 0h0m1-4h0m1 1h0m0 2h0m1-3h0m1 3h0m0 3h0m2-7h0m1 1h0m3 2h0m0 1h0m1-1h0m0 1h0m1-1h0m0 3h0m1-5h0m0 5h0m0 1h0m1-5h0m0 1h0m0-3h0m0 0h0m1 7h0m0-3h0m0-1h0m0-2h0m1 4h0m0-1h0m0-2h0m1-1h0m1 6h0m0 0h0m0-6h0m0-1h0m1 3h0m0-2h0m1 1h0m0 10h0m0-1h0m-2 2h0m0-3h0m0 5h0m-1-2h0m-1-3h0m0 4h0m-5-2h0m-1-1h0m-1 2h0m0 2h0m-1-2h0m-1 0h0m-1 2h0m-1-5h0m0-1h0m-2 0h0m-1 2h0m0 0h0m0 3h0m0-6h0m-1 1h0m0 0h0m0-1h0m-1 2h0m0 3h0m-1-4h0m0 1h0m0 5h0m-1-6h0m-1 4h0m0-1h0m0-2h0m0 4h0m0-5h0m0-1h0m-1 1h0m0 5h0m-1-3h0m0 4h0m0-7h0m0 7h0m-1-2h0m-1-5h0m-1 5h0m-1-3h0m-1-2h0m-1 4h0m0 1h0m-1 0h0m-4-4h0m0 0h0m-1 4h0m0-4h0m-2 0h0m-2 5h0m0-1h0m-1 0h0m-1 2h0m-3-1h0m0 1h0m-1 0h0m-1 0h0m-8 6h0m3 2h0m0 0h0m0-1h0m1-2h0m2-4h0m0 4h0m1-2h0m0 3h0m0-1h0m0 2h0m3 1h0m0-4h0m0 0h0m1 0h0m0-2h0m0 6h0m0-2h0m1 0h0m1-1h0m0 1h0m1-2h0m0 0h0m1 2h0m1-5h0m2 2h0m1 3h0m1 1h0m1-4h0m1 2h0m0 1h0m1-2h0m2-3h0m0 7h0m0-3h0m1-3h0m0 6h0m1-2h0m2-4h0m0 0h0m1 3h0m0 2h0m1-4h0m0 3h0m0-3h0m0 2h0m1 1h0m2 1h0m1-6h0m0 2h0m0-2h0m1 5h0m2-1h0m3-3h0m3 1h0m0 4h0m0-1h0m1-5h0m0 7h0m0-7h0m1 4h0m2-4h0m0 4h0m0 0h0m1-1h0m1-2h0m0 4h0m0-3h0m0 5h0m1-4h0m3-3h0m-4 10h0m0 3h0m-1-2h0m0-2h0m0 0h0m0-1h0m-2 7h0m-2-4h0m-1 2h0m0 0h0m-2-4h0m-1-1h0m0 6h0m0-6h0m-1 2h0m0-1h0m-1 5h0m0-6h0m-3 3h0m0 3h0m-2-1h0m-1-4h0m0 1h0m-2-1h0m-1 4h0m-1-1h0m-1-1h0m0 3h0m-2-5h0m0 3h0m0 2h0m-1 0h0m-1-5h0m0 1h0m0-2h0m0 2h0m-5-2h0m-1 5h0m-2-5h0m0 7h0m0-4h0m0-1h0m-2-2h0m0 6h0m-1-4h0m-1 0h0m0 4h0m-1 0h0m-1-2h0m-1 2h0m0 1h0m-1-7h0m-1 4h0m0 0h0m0-3h0m-1-1h0m0 5h0m-1-1h0m0-4h0m-1 6h0m0-5h0m-1 2h0m0-2h0m0 6h0m0-5h0m-1 1h0m0-1h0m0-2h0m0 0h0m-1 2h0m0 4h0m-1-5h0m0 0h0m-2 2h0m-1 4h0m0-3h0m-1-4h0m0 3h0m-1 2h0m0 2h0m0 0h0m-2-4h0m0 4h0m-1-2h0m-10 10h0m2-2h0m2-1h0m1-1h0m1-3h0m0 7h0m0-5h0m0 1h0m1 4h0m0-4h0m0 3h0m0-6h0m2 5h0m0-1h0m1-4h0m0 2h0m1 2h0m1-2h0m1 1h0m0-3h0m1 3h0m0 1h0m0 1h0m1 2h0m3-2h0m0 0h0m0 0h0m2-5h0m1 0h0m0 3h0m0-3h0m1 3h0m0 0h0m1-1h0m0-1h0m0 3h0m1-4h0m0 3h0m0 1h0m0 1h0m0-4h0m2 3h0m0-4h0m2 0h0m0 7h0m1-7h0m1 6h0m0-4h0m0 1h0m4-1h0m0-1h0m1-1h0m0 2h0m1 3h0m0-2h0m0-1h0m2 4h0m1-2h0m2 3h0m1 0h0m0 0h0m0-2h0m1-4h0m0 4h0m1 2h0m0-6h0m1 0h0m0 6h0m0-4h0m1 1h0m0 0h0m0-4h0m1 5h0m0-4h0m1 3h0m0 1h0m0-1h0m1 1h0m0-2h0m0 3h0m1-3h0m1-3h0m0 7h0m0-1h0m0-4h0m0 0h0m1-2h0m0 5h0m0-2h0m0 2h0m0 2h0m0-6h0m1 0h0m2 1h0m1 3h0m1 2h0m0-3h0m0-3h0m1 2h0m0 4h0m1 0h0m1-6h0m2 0h0m2 0h0m0 1h0m-3 6h0m-4 2h0m-1 4h0m-2-6h0m0 1h0m-2 0h0m-1 6h0m0-1h0m0-3h0m0 3h0m-4-3h0m0-3h0m-1 7h0m0-1h0m-3-3h0m0 4h0m0-4h0m0 4h0m-1-5h0m-1 2h0m-1-2h0m0 2h0m0-4h0m0 5h0m-1-2h0m-1 3h0m0-3h0m-3-1h0m-1 0h0m-1-1h0m-3 0h0m0 2h0m-1 1h0m0 1h0m0 0h0m-1 1h0m0-1h0m0-4h0m-1 3h0m0 2h0m0 0h0m0-1h0m-3-2h0m0-1h0m-1 2h0m0-4h0m0 3h0m-1-1h0m-2 0h0m-1-2h0m-1 2h0m0 5h0m0-7h0m-1 0h0m-1 7h0m0-2h0m0 1h0m-1-3h0m0 1h0m-3 3h0m-1-6h0m-1 4h0m-1 0h0m0-1h0m0-3h0m-1-1h0m0 6h0m-1-2h0m0-4h0m-1 5h0m-2-3h0m0 1h0m0-2h0m-1 4h0m-2-2h0m-2 1h0m0 3h0m0-7h0m0 4h0m-1 1h0m0-1h0m-11 11h0m2 0h0m0-1h0m1-2h0m1 1h0m1 0h0m1-3h0m1 5h0m0-5h0m1-1h0m0-1h0m0 1h0m1 3h0m0 2h0m1-1h0m0-2h0m2 1h0m0 0h0m1-4h0m1 2h0m1 0h0m0 0h0m0 2h0m1 2h0m0 0h0m0-5h0m0 3h0m1 0h0m0-1h0m1 2h0m1-3h0m0 3h0m1-1h0m0 2h0m1-1h0m1-5h0m0 0h0m1 1h0m0 2h0m0-2h0m0-1h0m1 5h0m0-4h0m0 1h0m1-2h0m2 4h0m1-4h0m1 3h0m0 1h0m4 2h0m0-3h0m0 2h0m1-1h0m0-4h0m0 3h0m0-2h0m1 5h0m0-1h0m1 2h0m1-2h0m2 0h0m0 2h0m1-1h0m1-5h0m0-1h0m1 5h0m0 1h0m0-1h0m1-5h0m1 3h0m2 2h0m0-2h0m0-1h0m1 5h0m1-2h0m0-5h0m0 0h0m1 6h0m1-6h0m1 0h0m4 7h0m0-7h0m1 3h0m3 0h0m0-3h0m0 6h0m1-5h0m0 2h0m1 2h0m1-4h0m1 4h0m0-1h0m0-3h0m2 0h0m0 1h0m1 0h0m2-2h0m-11 10h0m-1 0h0m-1-1h0m0-1h0m-1 0h0m0 1h0m-2 6h0m0-4h0m-3-2h0m-2 1h0m0-2h0m0 3h0m0 1h0m0-3h0m-2 5h0m-1 1h0m0-2h0m0-3h0m-2 3h0m0-2h0m0 2h0m-1 2h0m0-7h0m0 3h0m-1 3h0m0-3h0m-1 4h0m0-7h0m-1 6h0m-1-6h0m-1 3h0m0 2h0m-3-1h0m0-3h0m-1 4h0m-1 1h0m0-6h0m-1 2h0m0-2h0m-1 3h0m0 2h0m-1 2h0m-1-2h0m0 2h0m-1-3h0m0 3h0m0-4h0m0-1h0m-1-1h0m-1 4h0m0-1h0m-1-4h0m-1 1h0m0 6h0m-1 0h0m-1-6h0m0 5h0m-1-4h0m0 1h0m-1-1h0m-1 5h0m0-3h0m-1 0h0m-1-2h0m0 5h0m0-4h0m0-1h0m0 4h0m-3-6h0m-1 6h0m-1-1h0m0-3h0m-1 1h0m0 4h0m0 0h0m0-6h0m-1 5h0m-1 1h0m0-7h0m-1 4h0m-1 3h0m0-4h0m0 3h0m-1-6h0m0 7h0m-1-6h0m-1 4h0m-1 1h0m-1-4h0m-1 3h0m0 2h0m0-6h0m0 0h0m-1 1h0m-1 4h0m0-2h0m0-1h0m-2 3h0m-4 6h0m1 1h0m1-3h0m2 3h0m0-1h0m1 1h0m0 2h0m0-3h0m1 1h0m0 0h0m1-3h0m0 2h0m0-2h0m0 4h0m4-4h0m0 2h0m1-2h0m2-1h0m1 3h0m1-1h0m0-3h0m1 1h0m0-1h0m0 7h0m0-5h0m0 4h0m1-1h0m0 2h0m1-4h0m0-2h0m2-1h0m1 7h0m1-2h0m1-3h0m0 5h0m1-6h0m0 5h0m0-1h0m2 0h0m0 2h0m2-1h0m0-3h0m1-3h0m1 7h0m2-7h0m1 7h0m0-2h0m0 1h0m2-1h0m0 2h0m0-2h0m2-3h0m1-1h0m0 2h0m3-2h0m0 1h0m1-1h0m0 5h0m1-5h0m0 6h0m1-7h0m0 1h0m2 6h0m2-1h0m0-2h0m1-2h0m0 0h0m2 1h0m1-3h0m1 7h0m0-2h0m2-5h0m1 2h0m0 0h0m0 1h0m1 0h0m2 0h0m1-1h0m-7 6h0m-3 3h0m0 1h0m-2 3h0m-1-3h0m0 1h0m-4-5h0m-1 2h0m-1 5h0m-3-5h0m0 3h0m-1-3h0m0 5h0m0-4h0m-1 3h0m0 0h0m-2 1h0m-1 0h0m0-2h0m0-3h0m-1 0h0m0 3h0m0-2h0m-1-2h0m-1 4h0m0 0h0m-2-4h0m0 4h0m-2 1h0m0-1h0m-1 2h0m-1-3h0m0-3h0m0 5h0m-1-6h0m0 4h0m-1-2h0m0 0h0m-1-1h0m0 2h0m-1 2h0m0-5h0m0 3h0m-3 4h0m-1-5h0m0 0h0m-1 2h0m0 1h0m-2 0h0m0-5h0m-2 3h0m0-1h0m-1 4h0m0-6h0m0 3h0m-3 1h0m0-2h0m0-2h0m-2 4h0m-1-3h0m0 3h0m0 1h0m-1-4h0m0-1h0m0 3h0m-4-1h0m0 3h0m-1-4h0m0 5h0m0-5h0m-1-1h0m-1 3h0m0 4h0m-1-2h0m-3 9h0m2-6h0m0 6h0m1-4h0m0 2h0m0-4h0m1 4h0m1-1h0m1 0h0m2-2h0m0-1h0m0 1h0m0 0h0m1 3h0m0-4h0m1 3h0m0 0h0m1 1h0m1-3h0m0 6h0m1-4h0m0 4h0m0-6h0m0-1h0m2 3h0m0-1h0m1-2h0m1 5h0m0 2h0m0-5h0m1-2h0m0 4h0m0 2h0m2-5h0m0 5h0m0-2h0m1-2h0m1 4h0m1-4h0m1 5h0m0-7h0m0 1h0m2 1h0m0 2h0m0 1h0m1-3h0m0-1h0m1 1h0m0 1h0m0-1h0m0 1h0m0-2h0m1-1h0m0 3h0m2 4h0m0-4h0m1 0h0m1 0h0m0 4h0m0-3h0m1 0h0m0 0h0m0-1h0m1 4h0m0-1h0m0-4h0m1 0h0m0-2h0m0 2h0m0 1h0m0 4h0m1-6h0m2 3h0m0 2h0m0-1h0m0 0h0m0-4h0m2-1h0m1 7h0m1-7h0m0 6h0m0-5h0m0 2h0m1 3h0m2-5h0m2 1h0m3-1h0m0-1h0m1 0h0m-9 9h0m-1 0h0m-3-1h0m-1 2h0m-1 0h0m-1 1h0m-1-3h0m-1 5h0m0 0h0m-1 1h0m-1-1h0m0-1h0m-1 2h0m0-1h0m-1-1h0m-4-3h0m0 1h0m0-2h0m-1 2h0m0 0h0m0 2h0m-1 0h0m-1 3h0m-2-4h0m0-2h0m-1 0h0m0 0h0m-1 0h0m0 1h0m0 2h0m-1 0h0m-1 3h0m0-2h0m-1 1h0m0-4h0m-1 5h0m-2-7h0m0 1h0m-2 5h0m-1 1h0m0-2h0m-2 2h0m-1-2h0m0-3h0m-1 2h0m-1 1h0m-2-1h0m0 3h0m0-1h0m-1 0h0m0-5h0m-1 4h0m-1-3h0m-1 1h0m0 7h0m2 3h0m0 0h0m1-3h0m0 1h0m0 3h0m0 1h0m1-4h0m0 0h0m0 1h0m1 0h0m1 1h0m0-4h0m2-1h0m0 2h0m0 0h0m2-2h0m0 3h0m0 1h0m1 1h0m1-1h0m0 2h0m0-5h0m0 0h0m1-1h0m1 0h0m1 1h0m1 5h0m0 0h0m1-6h0m0 5h0m0-2h0m1-2h0m0 3h0m6-2h0m1-2h0m2 2h0m2 0h0m2-2h0m-17 8h0" stroke="#4ec3c3" stroke-width="3.0" stroke-linecap="round" stroke-opacity="1"/>
<path transform="scale(.5)" d="M826 1055h0m-6-1h0m-10 6h0m4-1h0m5 4h0m3-1h0m9-5h0m1 3h0m4 2h0m2-3h0m-2 5h0m-5 0h0m0 4h0m-1-3h0m-5 3h0m0 0h0m-5-2h0m-8 3h0m0-2h0m-6 2h0m-2-1h0m-1-1h0m0 4h0m-1-4h0m-4 2h0m-14 9h0m3-2h0m6 2h0m4-4h0m5 1h0m6 3h0m0 1h0m0-1h0m13 1h0m5 0h0m1-3h0m4 1h0m1-1h0m2-4h0m-7 14h0m-4-5h0m-1 5h0m-6-6h0m-4 2h0m-5 1h0m-9 4h0m-2-4h0m-6-2h0m-22 13h0m11 1h0m8 0h0m4-4h0m1 4h0m1-5h0m2 5h0m3-1h0m0-2h0m1-4h0m2 7h0m0-2h0m1 2h0m0-7h0m5 6h0m1-6h0m1 5h0m2-3h0m4 0h0m2 3h0m3 2h0m0-4h0m5 1h0m-5 4h0m-7 0h0m-5 2h0m-2 5h0m-1-5h0m-1-2h0m-1 3h0m-1 2h0m-4 2h0m-8-2h0m-14 1h0m-1-4h0m0-1h0m-4 1h0m-4-1h0m-3 2h0m-6 10h0m6 0h0m0-4h0m1-1h0m0 1h0m7 0h0m4 0h0m1 1h0m2 5h0m0-4h0m0-2h0m3 0h0m16-1h0m9 4h0m3-1h0m6-3h0m1 0h0m-16 11h0m-1 2h0m-2-3h0m-12 1h0m-2-3h0m-10 7h0m-4-7h0m-5 1h0m-6 6h0m-3-2h0m-9 10h0m2-5h0m5-2h0m3 2h0m12 0h0m0 5h0m1-5h0m0 1h0m3 3h0m5-5h0m8 5h0m4-6h0m-4 14h0m-10-6h0m-2 0h0m-5 2h0m-2-2h0m-5 0h0m-3 7h0m-1-3h0m-2 3h0m-3-4h0m-10 8h0m12 0h0m4 0h0m3-3h0m2 4h0m6-2h0m4 4h0m4-5h0m4-1h0m-16 9h0m-3 2h0m0 3h0m-3 0h0m-1 0h0m-3-5h0m-3 5h0m-3 0h0m-7-1h0m-3-1h0m0 0h0m-3-4h0m3 9h0m7 0h0m15-1h0" stroke="#f07e70" stroke-width="2.8" stroke-linecap="round" stroke-opacity="1"/>
<path transform="scale(.5)" d="M838 1040h0m1 2h0m8 4h0m2 7h0m0-4h0m-11 5h0m-7-6h0m-14 3h0m-17 11h0m8-5h0m2 5h0m9-3h0m4 4h0m5-5h0m3-1h0m10 0h0m7 0h0m-5 7h0m-6 4h0m-2-2h0m-3 0h0m0-2h0m-4 2h0m-5-1h0m-3 4h0m-1-2h0m-3 2h0m-4 1h0m-7 0h0m-1-5h0m-4 6h0m-1-4h0m0 3h0m-2-5h0m-4 3h0m0 2h0m-1-2h0m-3-3h0m-3 0h0m-1 5h0m-9 7h0m11-4h0m1 2h0m2-2h0m1 0h0m2 4h0m16 1h0m4-2h0m2-4h0m9 2h0m4-1h0m11 14h0m0-4h0m-4 2h0m-2-2h0m-1 2h0m-3-2h0m-15 0h0m-2 0h0m-1 0h0m-2-1h0m0 5h0m0-5h0m-14 0h0m-23 1h0m-13 12h0m7-2h0m6-4h0m5 1h0m5 2h0m15 0h0m0 2h0m2-1h0m8 1h0m16-5h0m14 0h0m-20 9h0m-11 5h0m-5-2h0m-3 0h0m-11-1h0m-10-2h0m-15-1h0m-1 4h0m-2-5h0m-2 5h0m-9 8h0m6-2h0m10 0h0m1 2h0m15-5h0m17 1h0m0 5h0m11-4h0m1 3h0m8 0h0m4 3h0m-9 6h0m-1-4h0m-4 2h0m-3 0h0m-6 3h0m-12-6h0m-2 2h0m-10 3h0m-9-1h0m-19-2h0m-4 8h0m2 2h0m10-3h0m7 2h0m8-2h0m7 2h0m1 0h0m0 0h0m2 2h0m7-6h0m5 6h0m7-6h0m8 5h0m-12 4h0m-3-1h0m-5 3h0m-5 1h0m-7-4h0m-9 6h0m-9-3h0m-2 0h0m-4-1h0m-5 1h0m-13 5h0m3 6h0m11-5h0m2 6h0m2-6h0m4 1h0m1 1h0m2 1h0m22 1h0m3-2h0m-2 8h0m-3 2h0m0-2h0m-4 0h0m-2-2h0m-1 4h0m-1-4h0m-4 0h0m-9-1h0m-21 0h0m-6 15h0m8-5h0m10-1h0m0 5h0m12 5h0m-8 0h0m-3-1h0m-8-2h0m-11 2h0m11 6h0" stroke="#4ec3c3" stroke-width="2.8" stroke-linecap="round" stroke-opacity="1"/>
<ellipse cx="350" cy="643" rx="7.5" ry="4.5" transform="rotate(-42 350 643)" fill="#4ec3c3" fill-opacity="0.8"/>
<path transform="scale(.5)" d="M701 1271h0m1-2h0m1 2h0m4-1h0m1-1h0m0-1h0m1 2h0m1-1h0m0 0h0m1-1h0m1 3h0m1 0h0m1 0h0m1-2h0m0 2h0m2 0h0m1 0h0m1 2h0m0 1h0m-2 2h0m-1-2h0m0 2h0m-1 1h0m-1 2h0m0-6h0m0 6h0m0-4h0m-1 0h0m0 3h0m-1-1h0m0-2h0m-1 0h0m0-1h0m0 5h0m-2-7h0m-1 5h0m0-3h0m-1 0h0m0 0h0m-1 4h0m0-4h0m-1-1h0m0 6h0m0-3h0m0-2h0m0 4h0m-1-5h0m-1 6h0m0-6h0m0-1h0m0 0h0m-1 0h0m0 4h0m0 0h0m0-1h0m-1-3h0m0 4h0m0 1h0m-1-5h0m0 1h0m0 2h0m-1 3h0m-2-6h0m-1 7h0m0-3h0m0 3h0m-1-2h0m0 2h0m-1-3h0m-7 6h0m0 4h0m1-2h0m0-3h0m2 3h0m0-2h0m0-2h0m1 1h0m0 3h0m0-3h0m1 5h0m0-1h0m0 1h0m0-3h0m1 3h0m1-6h0m0 7h0m0-4h0m0 0h0m1-1h0m0 2h0m0-2h0m2 4h0m2-6h0m0 4h0m0-2h0m0 3h0m1-2h0m0 1h0m0 3h0m1-7h0m0 5h0m0-2h0m1-1h0m0 2h0m0 3h0m1-5h0m0-1h0m0 3h0m1-2h0m1 0h0m0 3h0m0-3h0m0-2h0m0 5h0m0-2h0m0 3h0m1-2h0m0 1h0m1-2h0m0 0h0m0 4h0m1-4h0m0-1h0m0 3h0m1-4h0m0 4h0m0 2h0m1-4h0m0-1h0m1 3h0m0-5h0m0 7h0m0-6h0m1 3h0m0 1h0m1-5h0m0 3h0m1 0h0m0 1h0m1 0h0m0-3h0m1 2h0m2-3h0m-4 8h0m-2 2h0m-2-1h0m-1-1h0m-1 4h0m0-1h0m0 3h0m-1-1h0m0-2h0m-1-2h0m-1 5h0m0-2h0m-1 1h0m0-1h0m0 1h0m-1 2h0m-1-4h0m0 1h0m-1 3h0m0-4h0m0 3h0m0-4h0m-1 1h0m-1 4h0m-2-7h0m-1 3h0m0 3h0m0-1h0m-1-1h0m0-4h0m-1 6h0m0-2h0m-1 2h0m0 1h0m-1-2h0m0-1h0m0-1h0m-1 3h0m-2-2h0m-1-2h0m0 3h0m-1-3h0m0 5h0m-1-1h0m0-5h0m0 5h0m-1 0h0m0-6h0m0 5h0m0-1h0m-1 3h0m0-5h0m0-1h0m0 7h0m0 0h0m1 1h0m1-1h0m0 3h0m1 1h0m0-1h0m1 1h0m1 0h0m1-3h0m0-1h0m0 0h0m0 1h0m0 4h0m0-2h0m0-1h0m1-1h0m0 3h0m0-2h0m0 3h0m1-5h0m0 0h0m1 2h0m0-1h0m1 4h0m0-4h0m0-1h0m1 3h0m0-3h0m1 1h0m3-1h0m1 1h0m1-1h0m2 1h0" stroke="#4ec3c3" stroke-width="2.8" stroke-linecap="round" stroke-opacity="1"/>
<path transform="scale(.5)" d="M753 1159h0m-2 12h0m0 0h0m1 0h0m0 4h0m2-2h0m1-2h0m0-3h0m1 2h0m1 2h0m8 5h0m-2 4h0m-6-2h0m-2-3h0m-5 0h0m-3 4h0m0 1h0m-1 1h0m-5-1h0m0 10h0m1 0h0m0 0h0m1-7h0m1 0h0m1 4h0m4 1h0m0-4h0m1-1h0m0 3h0m0 1h0m1 0h0m0 0h0m0-2h0m0-2h0m4 2h0m-3 7h0m-1 1h0m-3-1h0m-3 3h0m-1 0h0m0 3h0m-2-2h0m0 2h0m-2-1h0m-3 1h0m-1-3h0m0 10h0m1-5h0m0 2h0m3-1h0m0-1h0m1 3h0m2-1h0m2-3h0m0 4h0m2-2h0m0 2h0m0 4h0m0 5h0m-7-1h0m-1-4h0m-1 5h0m-2 2h0m-1-2h0m-1-3h0m-9-1h0m1 14h0m3-3h0m1-4h0m1 6h0m1 1h0m0-1h0m1-5h0m2 0h0m1 0h0m0-1h0m2 0h0m2 6h0m3-2h0m-3 11h0m-4 0h0m0-4h0m-2 0h0m-2 2h0m-2-1h0m-6 3h0m-6 0h0m0 8h0m3 0h0m5-1h0m1-2h0m1 3h0m1-5h0m2 0h0m0-2h0m2 10h0m-3 0h0m-3 1h0m-1-1h0m0 1h0m-1-3h0m-1 1h0m-2 1h0m-1 3h0m-16 8h0m7-1h0m7-1h0m1 0h0m0 0h0m1 3h0m5-1h0m0-3h0m0 0h0m7 0h0m-6 7h0m-7 3h0m-5-4h0m0 6h0m-3 1h0m-1-5h0m-2-2h0m-4 3h0m1 11h0m2 0h0m1-1h0m6-2h0m0-2h0m1 1h0m4 0h0m3-2h0" stroke="#4ec3c3" stroke-width="2.6" stroke-linecap="round" stroke-opacity="1"/>
<path transform="scale(.5)" d="M940 975h0m37 9h0m-13 3h0m-27 4h0m19 3h0m9 2h0m-116 17h0m92 9h0m7 9h0m-49 9h0m52 11h0m-9 2h0m-56-1h0m-1 18h0m-14 5h0m64-2h0m12 8h0m-75 8h0m62 0h0m42 7h0m-132 10h0m133 2h0" stroke="#4ec3c3" stroke-width="2.8" stroke-linecap="round" stroke-opacity="1"/>
<path d="M539.0 533.0C542.3 529.8 548.2 525.4 552.0 523.0C555.8 520.6 559.1 518.3 562.0 518.5C564.9 518.7 568.8 519.8 569.5 524.0C570.2 528.2 569.1 538.3 566.5 543.8C563.9 549.3 557.8 553.3 554.0 557.0C550.2 560.7 547.7 562.8 544.0 566.0C540.3 569.2 535.5 575.0 531.7 576.0C528.0 577.0 522.7 575.3 521.5 572.0C520.3 568.7 522.8 561.0 524.5 556.0C526.2 551.0 529.6 545.8 532.0 542.0C534.4 538.2 535.7 536.2 539.0 533.0Z" fill="#c8c8c8" fill-opacity="0.7"/>
<path d="M581.8 493.2L599.5 465.0M571.6 493.3L601.0 457.0M566.3 496.6L601.0 457.0M573.8 492.5L596.0 481.0M581.5 492.4L594.0 486.0M574.5 492.8L599.5 465.0M577.6 485.9L599.5 465.0M573.9 479.0L594.0 486.0M581.8 487.4L594.0 486.0M571.0 486.0L598.0 473.0M572.0 487.5L598.0 473.0M577.0 488.0L598.0 473.0M569.1 486.0L601.0 457.0M572.9 495.3L598.0 473.0M561.1 486.8L601.0 457.0M573.5 487.5L598.0 473.0M578.5 482.4L599.5 465.0M570.8 481.8L598.0 473.0M573.4 486.3L601.0 457.0M567.8 482.0L594.0 486.0M566.9 491.1L596.0 481.0M578.3 489.8L601.0 457.0M608 454L601 457L594 486M608 454L623 494L616 507L603 495L608 454M603 495L623 494M572 490L560 514L555 522M560 514L519 570M555 560L522 595L513 625M527 580L522 598M519 571L516 598M603 495L556 522" stroke="#d4d4d4" stroke-width="0.5" fill="none"/>
<path d="M523.0 594.0C524.3 593.8 526.3 594.0 526.0 597.0C525.7 600.0 522.5 607.2 521.0 612.0C519.5 616.8 518.3 621.3 517.0 626.0C515.7 630.7 514.8 635.7 513.0 640.0C511.2 644.3 508.8 649.7 506.0 652.0C503.2 654.3 498.2 655.5 496.0 654.0C493.8 652.5 491.5 647.3 493.0 643.0C494.5 638.7 501.8 633.2 505.0 628.0C508.2 622.8 509.8 617.0 512.0 612.0C514.2 607.0 516.2 601.0 518.0 598.0C519.8 595.0 521.7 594.2 523.0 594.0Z" fill="#d0d0d0" fill-opacity="0.6"/>
<path d="M543.1 560.6a1.4 1.4 0 1 0 2.8 0a1.4 1.4 0 1 0-2.8 0M566.1 526.9a1.4 1.4 0 1 0 2.8 0a1.4 1.4 0 1 0-2.8 0M535.8 556.7a1.4 1.4 0 1 0 2.8 0a1.4 1.4 0 1 0-2.8 0M559.2 548.1a1.4 1.4 0 1 0 2.8 0a1.4 1.4 0 1 0-2.8 0M553.6 529.3a1.4 1.4 0 1 0 2.8 0a1.4 1.4 0 1 0-2.8 0M561.9 546.0a1.4 1.4 0 1 0 2.8 0a1.4 1.4 0 1 0-2.8 0M532.9 572.4a1.4 1.4 0 1 0 2.8 0a1.4 1.4 0 1 0-2.8 0M521.7 572.3a1.4 1.4 0 1 0 2.8 0a1.4 1.4 0 1 0-2.8 0M560.3 524.5a1.4 1.4 0 1 0 2.8 0a1.4 1.4 0 1 0-2.8 0M529.4 547.8a1.4 1.4 0 1 0 2.8 0a1.4 1.4 0 1 0-2.8 0M542.0 542.6a1.4 1.4 0 1 0 2.8 0a1.4 1.4 0 1 0-2.8 0M533.9 569.0a1.4 1.4 0 1 0 2.8 0a1.4 1.4 0 1 0-2.8 0M549.6 547.8a1.4 1.4 0 1 0 2.8 0a1.4 1.4 0 1 0-2.8 0M548.9 545.7a1.4 1.4 0 1 0 2.8 0a1.4 1.4 0 1 0-2.8 0M527.0 573.7a1.4 1.4 0 1 0 2.8 0a1.4 1.4 0 1 0-2.8 0M522.4 567.2a1.4 1.4 0 1 0 2.8 0a1.4 1.4 0 1 0-2.8 0M534.3 544.3a1.4 1.4 0 1 0 2.8 0a1.4 1.4 0 1 0-2.8 0M544.4 543.6a1.4 1.4 0 1 0 2.8 0a1.4 1.4 0 1 0-2.8 0M540.2 534.0a1.4 1.4 0 1 0 2.8 0a1.4 1.4 0 1 0-2.8 0M531.8 566.6a1.4 1.4 0 1 0 2.8 0a1.4 1.4 0 1 0-2.8 0M542.5 563.1a1.4 1.4 0 1 0 2.8 0a1.4 1.4 0 1 0-2.8 0M545.0 561.6a1.4 1.4 0 1 0 2.8 0a1.4 1.4 0 1 0-2.8 0M528.5 550.5a1.4 1.4 0 1 0 2.8 0a1.4 1.4 0 1 0-2.8 0M531.2 554.2a1.4 1.4 0 1 0 2.8 0a1.4 1.4 0 1 0-2.8 0M540.3 561.2a1.4 1.4 0 1 0 2.8 0a1.4 1.4 0 1 0-2.8 0M563.2 536.4a1.4 1.4 0 1 0 2.8 0a1.4 1.4 0 1 0-2.8 0M527.8 559.2a1.4 1.4 0 1 0 2.8 0a1.4 1.4 0 1 0-2.8 0M544.2 554.9a1.4 1.4 0 1 0 2.8 0a1.4 1.4 0 1 0-2.8 0M529.0 562.1a1.4 1.4 0 1 0 2.8 0a1.4 1.4 0 1 0-2.8 0M547.8 561.0a1.4 1.4 0 1 0 2.8 0a1.4 1.4 0 1 0-2.8 0M532.5 561.9a1.4 1.4 0 1 0 2.8 0a1.4 1.4 0 1 0-2.8 0M564.7 522.3a1.4 1.4 0 1 0 2.8 0a1.4 1.4 0 1 0-2.8 0M542.2 530.2a1.4 1.4 0 1 0 2.8 0a1.4 1.4 0 1 0-2.8 0M545.0 548.5a1.4 1.4 0 1 0 2.8 0a1.4 1.4 0 1 0-2.8 0M531.3 555.1a1.4 1.4 0 1 0 2.8 0a1.4 1.4 0 1 0-2.8 0M554.6 525.5a1.4 1.4 0 1 0 2.8 0a1.4 1.4 0 1 0-2.8 0M539.3 558.4a1.4 1.4 0 1 0 2.8 0a1.4 1.4 0 1 0-2.8 0M535.5 567.4a1.4 1.4 0 1 0 2.8 0a1.4 1.4 0 1 0-2.8 0M538.1 536.9a1.4 1.4 0 1 0 2.8 0a1.4 1.4 0 1 0-2.8 0M555.8 544.5a1.4 1.4 0 1 0 2.8 0a1.4 1.4 0 1 0-2.8 0M545.6 545.5a1.4 1.4 0 1 0 2.8 0a1.4 1.4 0 1 0-2.8 0M560.3 527.8a1.4 1.4 0 1 0 2.8 0a1.4 1.4 0 1 0-2.8 0M540.5 558.4a1.4 1.4 0 1 0 2.8 0a1.4 1.4 0 1 0-2.8 0M552.6 537.2a1.4 1.4 0 1 0 2.8 0a1.4 1.4 0 1 0-2.8 0M534.7 572.2a1.4 1.4 0 1 0 2.8 0a1.4 1.4 0 1 0-2.8 0M540.9 533.6a1.4 1.4 0 1 0 2.8 0a1.4 1.4 0 1 0-2.8 0M523.7 559.2a1.4 1.4 0 1 0 2.8 0a1.4 1.4 0 1 0-2.8 0M555.0 540.6a1.4 1.4 0 1 0 2.8 0a1.4 1.4 0 1 0-2.8 0M548.8 546.2a1.4 1.4 0 1 0 2.8 0a1.4 1.4 0 1 0-2.8 0M523.8 572.9a1.4 1.4 0 1 0 2.8 0a1.4 1.4 0 1 0-2.8 0M538.9 549.9a1.4 1.4 0 1 0 2.8 0a1.4 1.4 0 1 0-2.8 0M561.4 533.7a1.4 1.4 0 1 0 2.8 0a1.4 1.4 0 1 0-2.8 0M528.0 549.0a1.4 1.4 0 1 0 2.8 0a1.4 1.4 0 1 0-2.8 0M528.8 572.5a1.4 1.4 0 1 0 2.8 0a1.4 1.4 0 1 0-2.8 0M549.1 541.8a1.4 1.4 0 1 0 2.8 0a1.4 1.4 0 1 0-2.8 0M558.8 537.6a1.4 1.4 0 1 0 2.8 0a1.4 1.4 0 1 0-2.8 0M561.3 543.5a1.4 1.4 0 1 0 2.8 0a1.4 1.4 0 1 0-2.8 0M543.6 531.9a1.4 1.4 0 1 0 2.8 0a1.4 1.4 0 1 0-2.8 0M555.9 534.6a1.4 1.4 0 1 0 2.8 0a1.4 1.4 0 1 0-2.8 0M544.9 530.6a1.4 1.4 0 1 0 2.8 0a1.4 1.4 0 1 0-2.8 0M544.4 528.1a1.4 1.4 0 1 0 2.8 0a1.4 1.4 0 1 0-2.8 0M527.8 568.7a1.4 1.4 0 1 0 2.8 0a1.4 1.4 0 1 0-2.8 0M541.1 538.3a1.4 1.4 0 1 0 2.8 0a1.4 1.4 0 1 0-2.8 0M523.0 560.2a1.4 1.4 0 1 0 2.8 0a1.4 1.4 0 1 0-2.8 0M542.6 543.2a1.4 1.4 0 1 0 2.8 0a1.4 1.4 0 1 0-2.8 0M547.7 547.4a1.4 1.4 0 1 0 2.8 0a1.4 1.4 0 1 0-2.8 0M566.0 531.3a1.4 1.4 0 1 0 2.8 0a1.4 1.4 0 1 0-2.8 0M544.0 539.0a1.4 1.4 0 1 0 2.8 0a1.4 1.4 0 1 0-2.8 0M520.4 571.4a1.4 1.4 0 1 0 2.8 0a1.4 1.4 0 1 0-2.8 0M556.4 532.8a1.4 1.4 0 1 0 2.8 0a1.4 1.4 0 1 0-2.8 0M525.7 559.2a1.4 1.4 0 1 0 2.8 0a1.4 1.4 0 1 0-2.8 0M532.0 563.1a1.4 1.4 0 1 0 2.8 0a1.4 1.4 0 1 0-2.8 0M529.9 552.7a1.4 1.4 0 1 0 2.8 0a1.4 1.4 0 1 0-2.8 0M547.2 525.7a1.4 1.4 0 1 0 2.8 0a1.4 1.4 0 1 0-2.8 0M555.0 524.5a1.4 1.4 0 1 0 2.8 0a1.4 1.4 0 1 0-2.8 0M529.9 546.2a1.4 1.4 0 1 0 2.8 0a1.4 1.4 0 1 0-2.8 0M553.5 548.8a1.4 1.4 0 1 0 2.8 0a1.4 1.4 0 1 0-2.8 0M544.0 545.8a1.4 1.4 0 1 0 2.8 0a1.4 1.4 0 1 0-2.8 0M554.5 546.2a1.4 1.4 0 1 0 2.8 0a1.4 1.4 0 1 0-2.8 0M544.4 532.0a1.4 1.4 0 1 0 2.8 0a1.4 1.4 0 1 0-2.8 0M560.5 542.9a1.4 1.4 0 1 0 2.8 0a1.4 1.4 0 1 0-2.8 0M523.6 567.8a1.4 1.4 0 1 0 2.8 0a1.4 1.4 0 1 0-2.8 0M539.8 557.4a1.4 1.4 0 1 0 2.8 0a1.4 1.4 0 1 0-2.8 0M542.4 547.0a1.4 1.4 0 1 0 2.8 0a1.4 1.4 0 1 0-2.8 0M563.1 538.0a1.4 1.4 0 1 0 2.8 0a1.4 1.4 0 1 0-2.8 0M544.5 552.6a1.4 1.4 0 1 0 2.8 0a1.4 1.4 0 1 0-2.8 0M527.8 560.2a1.4 1.4 0 1 0 2.8 0a1.4 1.4 0 1 0-2.8 0M531.3 572.6a1.4 1.4 0 1 0 2.8 0a1.4 1.4 0 1 0-2.8 0M542.3 534.6a1.4 1.4 0 1 0 2.8 0a1.4 1.4 0 1 0-2.8 0M552.5 537.8a1.4 1.4 0 1 0 2.8 0a1.4 1.4 0 1 0-2.8 0M564.2 528.7a1.4 1.4 0 1 0 2.8 0a1.4 1.4 0 1 0-2.8 0M567.2 529.4a1.4 1.4 0 1 0 2.8 0a1.4 1.4 0 1 0-2.8 0M529.5 553.8a1.4 1.4 0 1 0 2.8 0a1.4 1.4 0 1 0-2.8 0M532.6 566.4a1.4 1.4 0 1 0 2.8 0a1.4 1.4 0 1 0-2.8 0M530.3 552.7a1.4 1.4 0 1 0 2.8 0a1.4 1.4 0 1 0-2.8 0M536.9 551.7a1.4 1.4 0 1 0 2.8 0a1.4 1.4 0 1 0-2.8 0M556.8 530.4a1.4 1.4 0 1 0 2.8 0a1.4 1.4 0 1 0-2.8 0M546.8 549.1a1.4 1.4 0 1 0 2.8 0a1.4 1.4 0 1 0-2.8 0M562.0 527.3a1.4 1.4 0 1 0 2.8 0a1.4 1.4 0 1 0-2.8 0M522.0 570.0a1.4 1.4 0 1 0 2.8 0a1.4 1.4 0 1 0-2.8 0M529.4 564.9a1.4 1.4 0 1 0 2.8 0a1.4 1.4 0 1 0-2.8 0M564.6 541.0a1.4 1.4 0 1 0 2.8 0a1.4 1.4 0 1 0-2.8 0M539.5 538.7a1.4 1.4 0 1 0 2.8 0a1.4 1.4 0 1 0-2.8 0M535.5 540.9a1.4 1.4 0 1 0 2.8 0a1.4 1.4 0 1 0-2.8 0M535.0 545.3a1.4 1.4 0 1 0 2.8 0a1.4 1.4 0 1 0-2.8 0M561.8 526.7a1.4 1.4 0 1 0 2.8 0a1.4 1.4 0 1 0-2.8 0M545.9 534.6a1.4 1.4 0 1 0 2.8 0a1.4 1.4 0 1 0-2.8 0M531.7 566.7a1.4 1.4 0 1 0 2.8 0a1.4 1.4 0 1 0-2.8 0M552.0 556.7a1.4 1.4 0 1 0 2.8 0a1.4 1.4 0 1 0-2.8 0M566.3 532.9a1.4 1.4 0 1 0 2.8 0a1.4 1.4 0 1 0-2.8 0M534.4 560.4a1.4 1.4 0 1 0 2.8 0a1.4 1.4 0 1 0-2.8 0M531.7 554.8a1.4 1.4 0 1 0 2.8 0a1.4 1.4 0 1 0-2.8 0M544.7 546.9a1.4 1.4 0 1 0 2.8 0a1.4 1.4 0 1 0-2.8 0M548.2 530.9a1.4 1.4 0 1 0 2.8 0a1.4 1.4 0 1 0-2.8 0M530.5 569.4a1.4 1.4 0 1 0 2.8 0a1.4 1.4 0 1 0-2.8 0M537.5 550.2a1.4 1.4 0 1 0 2.8 0a1.4 1.4 0 1 0-2.8 0M554.9 553.3a1.4 1.4 0 1 0 2.8 0a1.4 1.4 0 1 0-2.8 0M557.8 542.7a1.4 1.4 0 1 0 2.8 0a1.4 1.4 0 1 0-2.8 0M529.5 551.8a1.4 1.4 0 1 0 2.8 0a1.4 1.4 0 1 0-2.8 0M548.7 545.5a1.4 1.4 0 1 0 2.8 0a1.4 1.4 0 1 0-2.8 0M548.2 551.3a1.4 1.4 0 1 0 2.8 0a1.4 1.4 0 1 0-2.8 0M561.1 524.6a1.4 1.4 0 1 0 2.8 0a1.4 1.4 0 1 0-2.8 0M560.2 548.0a1.4 1.4 0 1 0 2.8 0a1.4 1.4 0 1 0-2.8 0M543.0 535.0a1.4 1.4 0 1 0 2.8 0a1.4 1.4 0 1 0-2.8 0M536.9 563.0a1.4 1.4 0 1 0 2.8 0a1.4 1.4 0 1 0-2.8 0M552.3 553.2a1.4 1.4 0 1 0 2.8 0a1.4 1.4 0 1 0-2.8 0M557.7 549.2a1.4 1.4 0 1 0 2.8 0a1.4 1.4 0 1 0-2.8 0M528.0 572.0a1.4 1.4 0 1 0 2.8 0a1.4 1.4 0 1 0-2.8 0M555.5 552.8a1.4 1.4 0 1 0 2.8 0a1.4 1.4 0 1 0-2.8 0M559.0 530.9a1.4 1.4 0 1 0 2.8 0a1.4 1.4 0 1 0-2.8 0M553.0 545.1a1.4 1.4 0 1 0 2.8 0a1.4 1.4 0 1 0-2.8 0M536.4 542.9a1.4 1.4 0 1 0 2.8 0a1.4 1.4 0 1 0-2.8 0M534.0 561.4a1.4 1.4 0 1 0 2.8 0a1.4 1.4 0 1 0-2.8 0M529.2 560.3a1.4 1.4 0 1 0 2.8 0a1.4 1.4 0 1 0-2.8 0M550.7 550.7a1.4 1.4 0 1 0 2.8 0a1.4 1.4 0 1 0-2.8 0M553.3 542.9a1.4 1.4 0 1 0 2.8 0a1.4 1.4 0 1 0-2.8 0M544.4 541.6a1.4 1.4 0 1 0 2.8 0a1.4 1.4 0 1 0-2.8 0M566.5 529.5a1.4 1.4 0 1 0 2.8 0a1.4 1.4 0 1 0-2.8 0M543.3 547.1a1.4 1.4 0 1 0 2.8 0a1.4 1.4 0 1 0-2.8 0M551.3 553.3a1.4 1.4 0 1 0 2.8 0a1.4 1.4 0 1 0-2.8 0M544.4 548.5a1.4 1.4 0 1 0 2.8 0a1.4 1.4 0 1 0-2.8 0M531.1 560.7a1.4 1.4 0 1 0 2.8 0a1.4 1.4 0 1 0-2.8 0M530.3 552.9a1.4 1.4 0 1 0 2.8 0a1.4 1.4 0 1 0-2.8 0M530.3 555.4a1.4 1.4 0 1 0 2.8 0a1.4 1.4 0 1 0-2.8 0M556.7 522.5a1.4 1.4 0 1 0 2.8 0a1.4 1.4 0 1 0-2.8 0M548.2 535.2a1.4 1.4 0 1 0 2.8 0a1.4 1.4 0 1 0-2.8 0M548.7 554.6a1.4 1.4 0 1 0 2.8 0a1.4 1.4 0 1 0-2.8 0M559.6 537.9a1.4 1.4 0 1 0 2.8 0a1.4 1.4 0 1 0-2.8 0M545.7 549.8a1.4 1.4 0 1 0 2.8 0a1.4 1.4 0 1 0-2.8 0M555.0 539.2a1.4 1.4 0 1 0 2.8 0a1.4 1.4 0 1 0-2.8 0M550.8 535.8a1.4 1.4 0 1 0 2.8 0a1.4 1.4 0 1 0-2.8 0M546.0 538.4a1.4 1.4 0 1 0 2.8 0a1.4 1.4 0 1 0-2.8 0M545.6 530.0a1.4 1.4 0 1 0 2.8 0a1.4 1.4 0 1 0-2.8 0M542.8 543.7a1.4 1.4 0 1 0 2.8 0a1.4 1.4 0 1 0-2.8 0M556.1 543.6a1.4 1.4 0 1 0 2.8 0a1.4 1.4 0 1 0-2.8 0M550.5 551.9a1.4 1.4 0 1 0 2.8 0a1.4 1.4 0 1 0-2.8 0M535.5 548.7a1.4 1.4 0 1 0 2.8 0a1.4 1.4 0 1 0-2.8 0M554.3 552.0a1.4 1.4 0 1 0 2.8 0a1.4 1.4 0 1 0-2.8 0M541.9 552.2a1.4 1.4 0 1 0 2.8 0a1.4 1.4 0 1 0-2.8 0M551.9 557.4a1.4 1.4 0 1 0 2.8 0a1.4 1.4 0 1 0-2.8 0M528.6 575.2a1.4 1.4 0 1 0 2.8 0a1.4 1.4 0 1 0-2.8 0M533.5 553.0a1.4 1.4 0 1 0 2.8 0a1.4 1.4 0 1 0-2.8 0M549.1 537.4a1.4 1.4 0 1 0 2.8 0a1.4 1.4 0 1 0-2.8 0M537.7 553.4a1.4 1.4 0 1 0 2.8 0a1.4 1.4 0 1 0-2.8 0M534.6 540.8a1.4 1.4 0 1 0 2.8 0a1.4 1.4 0 1 0-2.8 0M559.7 542.4a1.4 1.4 0 1 0 2.8 0a1.4 1.4 0 1 0-2.8 0M536.7 560.9a1.4 1.4 0 1 0 2.8 0a1.4 1.4 0 1 0-2.8 0M548.5 543.6a1.4 1.4 0 1 0 2.8 0a1.4 1.4 0 1 0-2.8 0M546.2 559.9a1.4 1.4 0 1 0 2.8 0a1.4 1.4 0 1 0-2.8 0M558.5 526.8a1.4 1.4 0 1 0 2.8 0a1.4 1.4 0 1 0-2.8 0M530.8 550.1a1.4 1.4 0 1 0 2.8 0a1.4 1.4 0 1 0-2.8 0M527.3 573.1a1.4 1.4 0 1 0 2.8 0a1.4 1.4 0 1 0-2.8 0M525.3 565.0a1.4 1.4 0 1 0 2.8 0a1.4 1.4 0 1 0-2.8 0M552.2 541.3a1.4 1.4 0 1 0 2.8 0a1.4 1.4 0 1 0-2.8 0M523.5 556.8a1.4 1.4 0 1 0 2.8 0a1.4 1.4 0 1 0-2.8 0M550.1 543.3a1.4 1.4 0 1 0 2.8 0a1.4 1.4 0 1 0-2.8 0M552.4 528.5a1.4 1.4 0 1 0 2.8 0a1.4 1.4 0 1 0-2.8 0M529.5 569.1a1.4 1.4 0 1 0 2.8 0a1.4 1.4 0 1 0-2.8 0M539.9 567.6a1.4 1.4 0 1 0 2.8 0a1.4 1.4 0 1 0-2.8 0M539.2 548.4a1.4 1.4 0 1 0 2.8 0a1.4 1.4 0 1 0-2.8 0M565.5 529.9a1.4 1.4 0 1 0 2.8 0a1.4 1.4 0 1 0-2.8 0M537.0 554.4a1.4 1.4 0 1 0 2.8 0a1.4 1.4 0 1 0-2.8 0M559.7 537.9a1.4 1.4 0 1 0 2.8 0a1.4 1.4 0 1 0-2.8 0M552.1 554.2a1.4 1.4 0 1 0 2.8 0a1.4 1.4 0 1 0-2.8 0M526.9 558.4a1.4 1.4 0 1 0 2.8 0a1.4 1.4 0 1 0-2.8 0M555.3 549.3a1.4 1.4 0 1 0 2.8 0a1.4 1.4 0 1 0-2.8 0M555.8 534.9a1.4 1.4 0 1 0 2.8 0a1.4 1.4 0 1 0-2.8 0M560.1 531.5a1.4 1.4 0 1 0 2.8 0a1.4 1.4 0 1 0-2.8 0M543.8 531.9a1.4 1.4 0 1 0 2.8 0a1.4 1.4 0 1 0-2.8 0M523.1 566.6a1.4 1.4 0 1 0 2.8 0a1.4 1.4 0 1 0-2.8 0M537.1 557.8a1.4 1.4 0 1 0 2.8 0a1.4 1.4 0 1 0-2.8 0M538.9 557.3a1.4 1.4 0 1 0 2.8 0a1.4 1.4 0 1 0-2.8 0M537.4 547.2a1.4 1.4 0 1 0 2.8 0a1.4 1.4 0 1 0-2.8 0M550.0 528.1a1.4 1.4 0 1 0 2.8 0a1.4 1.4 0 1 0-2.8 0M551.8 537.3a1.4 1.4 0 1 0 2.8 0a1.4 1.4 0 1 0-2.8 0M532.2 541.9a1.4 1.4 0 1 0 2.8 0a1.4 1.4 0 1 0-2.8 0M543.4 535.4a1.4 1.4 0 1 0 2.8 0a1.4 1.4 0 1 0-2.8 0M528.3 568.4a1.4 1.4 0 1 0 2.8 0a1.4 1.4 0 1 0-2.8 0M536.5 537.9a1.4 1.4 0 1 0 2.8 0a1.4 1.4 0 1 0-2.8 0M560.3 538.2a1.4 1.4 0 1 0 2.8 0a1.4 1.4 0 1 0-2.8 0M540.6 521.0a1.4 1.4 0 1 0 2.8 0a1.4 1.4 0 1 0-2.8 0M545.6 519.0a1.4 1.4 0 1 0 2.8 0a1.4 1.4 0 1 0-2.8 0M553.6 520.0a1.4 1.4 0 1 0 2.8 0a1.4 1.4 0 1 0-2.8 0M567.6 524.0a1.4 1.4 0 1 0 2.8 0a1.4 1.4 0 1 0-2.8 0M567.6 530.0a1.4 1.4 0 1 0 2.8 0a1.4 1.4 0 1 0-2.8 0M539.6 524.0a1.4 1.4 0 1 0 2.8 0a1.4 1.4 0 1 0-2.8 0M539.6 528.0a1.4 1.4 0 1 0 2.8 0a1.4 1.4 0 1 0-2.8 0M518.6 569.0a1.4 1.4 0 1 0 2.8 0a1.4 1.4 0 1 0-2.8 0M516.6 574.0a1.4 1.4 0 1 0 2.8 0a1.4 1.4 0 1 0-2.8 0M515.6 580.0a1.4 1.4 0 1 0 2.8 0a1.4 1.4 0 1 0-2.8 0M522.6 578.0a1.4 1.4 0 1 0 2.8 0a1.4 1.4 0 1 0-2.8 0M546.6 515.0a1.4 1.4 0 1 0 2.8 0a1.4 1.4 0 1 0-2.8 0M498.3 643.9a1.4 1.4 0 1 0 2.8 0a1.4 1.4 0 1 0-2.8 0M495.7 649.4a1.4 1.4 0 1 0 2.8 0a1.4 1.4 0 1 0-2.8 0M498.9 633.8a1.4 1.4 0 1 0 2.8 0a1.4 1.4 0 1 0-2.8 0M505.6 633.9a1.4 1.4 0 1 0 2.8 0a1.4 1.4 0 1 0-2.8 0M493.9 645.2a1.4 1.4 0 1 0 2.8 0a1.4 1.4 0 1 0-2.8 0M492.9 646.4a1.4 1.4 0 1 0 2.8 0a1.4 1.4 0 1 0-2.8 0M506.9 634.7a1.4 1.4 0 1 0 2.8 0a1.4 1.4 0 1 0-2.8 0M505.4 645.9a1.4 1.4 0 1 0 2.8 0a1.4 1.4 0 1 0-2.8 0M491.2 645.9a1.4 1.4 0 1 0 2.8 0a1.4 1.4 0 1 0-2.8 0M495.1 653.1a1.4 1.4 0 1 0 2.8 0a1.4 1.4 0 1 0-2.8 0M498.2 650.3a1.4 1.4 0 1 0 2.8 0a1.4 1.4 0 1 0-2.8 0M506.8 640.1a1.4 1.4 0 1 0 2.8 0a1.4 1.4 0 1 0-2.8 0M507.7 646.0a1.4 1.4 0 1 0 2.8 0a1.4 1.4 0 1 0-2.8 0M504.1 631.4a1.4 1.4 0 1 0 2.8 0a1.4 1.4 0 1 0-2.8 0M500.8 652.7a1.4 1.4 0 1 0 2.8 0a1.4 1.4 0 1 0-2.8 0M494.8 643.2a1.4 1.4 0 1 0 2.8 0a1.4 1.4 0 1 0-2.8 0M496.9 641.6a1.4 1.4 0 1 0 2.8 0a1.4 1.4 0 1 0-2.8 0M499.0 633.1a1.4 1.4 0 1 0 2.8 0a1.4 1.4 0 1 0-2.8 0M504.9 630.6a1.4 1.4 0 1 0 2.8 0a1.4 1.4 0 1 0-2.8 0M504.9 646.8a1.4 1.4 0 1 0 2.8 0a1.4 1.4 0 1 0-2.8 0M509.8 636.3a1.4 1.4 0 1 0 2.8 0a1.4 1.4 0 1 0-2.8 0M496.1 637.2a1.4 1.4 0 1 0 2.8 0a1.4 1.4 0 1 0-2.8 0M494.6 637.0a1.4 1.4 0 1 0 2.8 0a1.4 1.4 0 1 0-2.8 0M499.2 633.2a1.4 1.4 0 1 0 2.8 0a1.4 1.4 0 1 0-2.8 0M499.0 648.2a1.4 1.4 0 1 0 2.8 0a1.4 1.4 0 1 0-2.8 0M504.9 650.8a1.4 1.4 0 1 0 2.8 0a1.4 1.4 0 1 0-2.8 0M505.4 641.1a1.4 1.4 0 1 0 2.8 0a1.4 1.4 0 1 0-2.8 0M503.8 650.1a1.4 1.4 0 1 0 2.8 0a1.4 1.4 0 1 0-2.8 0M494.4 646.4a1.4 1.4 0 1 0 2.8 0a1.4 1.4 0 1 0-2.8 0M500.4 650.8a1.4 1.4 0 1 0 2.8 0a1.4 1.4 0 1 0-2.8 0M498.7 641.6a1.4 1.4 0 1 0 2.8 0a1.4 1.4 0 1 0-2.8 0M494.5 640.9a1.4 1.4 0 1 0 2.8 0a1.4 1.4 0 1 0-2.8 0M503.8 630.4a1.4 1.4 0 1 0 2.8 0a1.4 1.4 0 1 0-2.8 0M494.9 646.2a1.4 1.4 0 1 0 2.8 0a1.4 1.4 0 1 0-2.8 0M494.0 642.7a1.4 1.4 0 1 0 2.8 0a1.4 1.4 0 1 0-2.8 0M503.0 648.1a1.4 1.4 0 1 0 2.8 0a1.4 1.4 0 1 0-2.8 0M498.1 646.4a1.4 1.4 0 1 0 2.8 0a1.4 1.4 0 1 0-2.8 0M504.2 630.9a1.4 1.4 0 1 0 2.8 0a1.4 1.4 0 1 0-2.8 0M495.0 647.2a1.4 1.4 0 1 0 2.8 0a1.4 1.4 0 1 0-2.8 0M494.9 637.5a1.4 1.4 0 1 0 2.8 0a1.4 1.4 0 1 0-2.8 0M493.6 644.6a1.4 1.4 0 1 0 2.8 0a1.4 1.4 0 1 0-2.8 0M495.6 648.5a1.4 1.4 0 1 0 2.8 0a1.4 1.4 0 1 0-2.8 0M501.7 652.1a1.4 1.4 0 1 0 2.8 0a1.4 1.4 0 1 0-2.8 0M503.0 640.3a1.4 1.4 0 1 0 2.8 0a1.4 1.4 0 1 0-2.8 0M499.8 638.6a1.4 1.4 0 1 0 2.8 0a1.4 1.4 0 1 0-2.8 0M517.5 611.6a1.4 1.4 0 1 0 2.8 0a1.4 1.4 0 1 0-2.8 0M513.1 612.5a1.4 1.4 0 1 0 2.8 0a1.4 1.4 0 1 0-2.8 0M518.6 620.8a1.4 1.4 0 1 0 2.8 0a1.4 1.4 0 1 0-2.8 0M514.7 616.8a1.4 1.4 0 1 0 2.8 0a1.4 1.4 0 1 0-2.8 0M517.4 601.7a1.4 1.4 0 1 0 2.8 0a1.4 1.4 0 1 0-2.8 0M520.4 607.9a1.4 1.4 0 1 0 2.8 0a1.4 1.4 0 1 0-2.8 0M508.9 605.2a1.4 1.4 0 1 0 2.8 0a1.4 1.4 0 1 0-2.8 0M517.1 617.0a1.4 1.4 0 1 0 2.8 0a1.4 1.4 0 1 0-2.8 0M519.7 603.4a1.4 1.4 0 1 0 2.8 0a1.4 1.4 0 1 0-2.8 0M510.1 599.3a1.4 1.4 0 1 0 2.8 0a1.4 1.4 0 1 0-2.8 0M517.4 601.4a1.4 1.4 0 1 0 2.8 0a1.4 1.4 0 1 0-2.8 0M520.4 606.3a1.4 1.4 0 1 0 2.8 0a1.4 1.4 0 1 0-2.8 0M511.1 626.4a1.4 1.4 0 1 0 2.8 0a1.4 1.4 0 1 0-2.8 0M515.1 624.6a1.4 1.4 0 1 0 2.8 0a1.4 1.4 0 1 0-2.8 0" fill="#fdfdfd" stroke="#858585" stroke-width="0.6"/>
<path d="M575.5 489.0a1.3 1.3 0 1 0 2.6 0a1.3 1.3 0 1 0-2.6 0M560.3 483.7a1.3 1.3 0 1 0 2.6 0a1.3 1.3 0 1 0-2.6 0M576.3 488.3a1.3 1.3 0 1 0 2.6 0a1.3 1.3 0 1 0-2.6 0M569.6 481.1a1.3 1.3 0 1 0 2.6 0a1.3 1.3 0 1 0-2.6 0M581.5 488.4a1.3 1.3 0 1 0 2.6 0a1.3 1.3 0 1 0-2.6 0M579.6 490.6a1.3 1.3 0 1 0 2.6 0a1.3 1.3 0 1 0-2.6 0M569.7 488.5a1.3 1.3 0 1 0 2.6 0a1.3 1.3 0 1 0-2.6 0M565.9 487.0a1.3 1.3 0 1 0 2.6 0a1.3 1.3 0 1 0-2.6 0M571.5 484.2a1.3 1.3 0 1 0 2.6 0a1.3 1.3 0 1 0-2.6 0M569.2 490.0a1.3 1.3 0 1 0 2.6 0a1.3 1.3 0 1 0-2.6 0M572.6 491.2a1.3 1.3 0 1 0 2.6 0a1.3 1.3 0 1 0-2.6 0M577.0 484.7a1.3 1.3 0 1 0 2.6 0a1.3 1.3 0 1 0-2.6 0M570.9 488.6a1.3 1.3 0 1 0 2.6 0a1.3 1.3 0 1 0-2.6 0M565.7 488.7a1.3 1.3 0 1 0 2.6 0a1.3 1.3 0 1 0-2.6 0M568.2 485.6a1.3 1.3 0 1 0 2.6 0a1.3 1.3 0 1 0-2.6 0M572.0 492.0a1.3 1.3 0 1 0 2.6 0a1.3 1.3 0 1 0-2.6 0M571.8 484.3a1.3 1.3 0 1 0 2.6 0a1.3 1.3 0 1 0-2.6 0M576.4 486.5a1.3 1.3 0 1 0 2.6 0a1.3 1.3 0 1 0-2.6 0M557.7 488.0a1.3 1.3 0 1 0 2.6 0a1.3 1.3 0 1 0-2.6 0M574.7 474.0a1.3 1.3 0 1 0 2.6 0a1.3 1.3 0 1 0-2.6 0M578.7 480.0a1.3 1.3 0 1 0 2.6 0a1.3 1.3 0 1 0-2.6 0M573.7 497.0a1.3 1.3 0 1 0 2.6 0a1.3 1.3 0 1 0-2.6 0M599.7 457.0a1.3 1.3 0 1 0 2.6 0a1.3 1.3 0 1 0-2.6 0M598.2 465.0a1.3 1.3 0 1 0 2.6 0a1.3 1.3 0 1 0-2.6 0M596.7 473.0a1.3 1.3 0 1 0 2.6 0a1.3 1.3 0 1 0-2.6 0M594.7 481.0a1.3 1.3 0 1 0 2.6 0a1.3 1.3 0 1 0-2.6 0M592.7 486.0a1.3 1.3 0 1 0 2.6 0a1.3 1.3 0 1 0-2.6 0M606.7 454.0a1.3 1.3 0 1 0 2.6 0a1.3 1.3 0 1 0-2.6 0" fill="#4f4795" stroke="#999" stroke-width="0.5"/>
<path d="M510.1 600.5a1.3 1.3 0 1 0 2.6 0a1.3 1.3 0 1 0-2.6 0M520.2 614.4a1.3 1.3 0 1 0 2.6 0a1.3 1.3 0 1 0-2.6 0M520.2 610.4a1.3 1.3 0 1 0 2.6 0a1.3 1.3 0 1 0-2.6 0M513.4 602.5a1.3 1.3 0 1 0 2.6 0a1.3 1.3 0 1 0-2.6 0M522.7 609.2a1.3 1.3 0 1 0 2.6 0a1.3 1.3 0 1 0-2.6 0M517.5 609.6a1.3 1.3 0 1 0 2.6 0a1.3 1.3 0 1 0-2.6 0M511.7 607.6a1.3 1.3 0 1 0 2.6 0a1.3 1.3 0 1 0-2.6 0M512.1 608.6a1.3 1.3 0 1 0 2.6 0a1.3 1.3 0 1 0-2.6 0M515.3 599.1a1.3 1.3 0 1 0 2.6 0a1.3 1.3 0 1 0-2.6 0M521.4 613.4a1.3 1.3 0 1 0 2.6 0a1.3 1.3 0 1 0-2.6 0" fill="#8f82c4" stroke="#888" stroke-width="0.5"/>
<path d="M621.8 494.0a1.2 1.2 0 1 0 2.4 0a1.2 1.2 0 1 0-2.4 0M614.8 507.0a1.2 1.2 0 1 0 2.4 0a1.2 1.2 0 1 0-2.4 0M601.8 495.0a1.2 1.2 0 1 0 2.4 0a1.2 1.2 0 1 0-2.4 0M555.8 515.0a1.2 1.2 0 1 0 2.4 0a1.2 1.2 0 1 0-2.4 0" fill="#fff" stroke="#888" stroke-width="0.5"/>
<circle cx="632.3" cy="450.8" r="4.6" fill="#ef7f72"/>
<circle cx="632.3" cy="467" r="4.6" fill="#50c4c4"/>
<text x="636.4" y="454" font-size="13" font-weight="bold" font-style="italic" font-family="Liberation Sans" fill="#111" textLength="43.2" lengthAdjust="spacingAndGlyphs">Ddx43<tspan font-size="8" dy="-5" font-weight="bold" font-style="normal">+/+</tspan></text>
<text x="636.4" y="469.7" font-size="13" font-weight="bold" font-style="italic" font-family="Liberation Sans" fill="#111" textLength="48.6" lengthAdjust="spacingAndGlyphs">Ddx43<tspan font-size="7" dy="-5" font-weight="bold" font-style="normal">KI/KI</tspan></text>
<text x="628.3" y="484.0" font-size="12" font-weight="bold" font-style="normal" text-anchor="start" fill="#111" font-family="Liberation Sans" stroke="#111" stroke-width="0.2" textLength="53.2" lengthAdjust="spacingAndGlyphs" >Nhood size</text>
<circle cx="639.9" cy="491.3" r="1.3" fill="none" stroke="#444" stroke-width="0.7"/>
<text x="643.1" y="495.6" font-size="12" font-weight="bold" font-style="normal" text-anchor="start" fill="#111" font-family="Liberation Sans" stroke="#111" stroke-width="0.2" textLength="10.3" lengthAdjust="spacingAndGlyphs" >50</text>
<circle cx="639.6" cy="504.2" r="1.9" fill="none" stroke="#444" stroke-width="0.7"/>
<text x="643.1" y="508.5" font-size="12" font-weight="bold" font-style="normal" text-anchor="start" fill="#111" font-family="Liberation Sans" stroke="#111" stroke-width="0.2" textLength="15.5" lengthAdjust="spacingAndGlyphs" >100</text>
<circle cx="639.4" cy="517.1" r="2.4" fill="none" stroke="#444" stroke-width="0.7"/>
<text x="643.1" y="521.4" font-size="12" font-weight="bold" font-style="normal" text-anchor="start" fill="#111" font-family="Liberation Sans" stroke="#111" stroke-width="0.2" textLength="15.5" lengthAdjust="spacingAndGlyphs" >150</text>
<circle cx="639.1" cy="530.0" r="2.9" fill="none" stroke="#444" stroke-width="0.7"/>
<text x="643.1" y="534.3" font-size="12" font-weight="bold" font-style="normal" text-anchor="start" fill="#111" font-family="Liberation Sans" stroke="#111" stroke-width="0.2" textLength="15.5" lengthAdjust="spacingAndGlyphs" >200</text>
<text x="624.8" y="547.5" font-size="12" font-weight="bold" font-style="normal" text-anchor="start" fill="#111" font-family="Liberation Sans" stroke="#111" stroke-width="0.2" textLength="60.0" lengthAdjust="spacingAndGlyphs" >Overlap size</text>
<line x1="640.4" y1="554.8" x2="649.9" y2="554.8" stroke="#e0e0e0" stroke-width="0.72"/>
<text x="653.9" y="559.1" font-size="12" font-weight="bold" font-style="normal" text-anchor="start" fill="#111" font-family="Liberation Sans" stroke="#111" stroke-width="0.2" textLength="10.3" lengthAdjust="spacingAndGlyphs" >20</text>
<line x1="640.4" y1="569.0999999999999" x2="649.9" y2="569.0999999999999" stroke="#e0e0e0" stroke-width="1.68"/>
<text x="653.9" y="573.4" font-size="12" font-weight="bold" font-style="normal" text-anchor="start" fill="#111" font-family="Liberation Sans" stroke="#111" stroke-width="0.2" textLength="10.3" lengthAdjust="spacingAndGlyphs" >40</text>
<line x1="640.4" y1="583.4" x2="649.9" y2="583.4" stroke="#e0e0e0" stroke-width="2.64"/>
<text x="653.9" y="587.7" font-size="12" font-weight="bold" font-style="normal" text-anchor="start" fill="#111" font-family="Liberation Sans" stroke="#111" stroke-width="0.2" textLength="10.3" lengthAdjust="spacingAndGlyphs" >60</text>
<line x1="640.4" y1="597.6999999999999" x2="649.9" y2="597.6999999999999" stroke="#e0e0e0" stroke-width="3.5999999999999996"/>
<text x="653.9" y="602.0" font-size="12" font-weight="bold" font-style="normal" text-anchor="start" fill="#111" font-family="Liberation Sans" stroke="#111" stroke-width="0.2" textLength="10.3" lengthAdjust="spacingAndGlyphs" >80</text>
<text x="587.0" y="578.4" font-size="12" font-weight="bold" font-style="normal" text-anchor="start" fill="#111" font-family="Liberation Sans" stroke="#111" stroke-width="0.2" textLength="27.8" lengthAdjust="spacingAndGlyphs" >logFC</text>
<defs><linearGradient id="gf" x1="0" y1="0" x2="0" y2="1"><stop offset="0" stop-color="#4f4497"/><stop offset="1" stop-color="#fbfaff"/></linearGradient></defs>
<rect x="587.8" y="583" width="14.8" height="71.5" fill="url(#gf)"/>
<line x1="587.8" y1="598.6" x2="590.5" y2="598.6" stroke="#fff" stroke-width="0.7"/>
<line x1="600" y1="598.6" x2="602.6" y2="598.6" stroke="#fff" stroke-width="0.7"/>
<text x="606.1" y="602.9" font-size="12" font-weight="bold" font-style="normal" text-anchor="start" fill="#111" font-family="Liberation Sans" stroke="#111" stroke-width="0.2" textLength="6.3" lengthAdjust="spacingAndGlyphs" >6</text>
<line x1="587.8" y1="617.5" x2="590.5" y2="617.5" stroke="#fff" stroke-width="0.7"/>
<line x1="600" y1="617.5" x2="602.6" y2="617.5" stroke="#fff" stroke-width="0.7"/>
<text x="606.1" y="621.8" font-size="12" font-weight="bold" font-style="normal" text-anchor="start" fill="#111" font-family="Liberation Sans" stroke="#111" stroke-width="0.2" textLength="6.3" lengthAdjust="spacingAndGlyphs" >4</text>
<line x1="587.8" y1="635.1" x2="590.5" y2="635.1" stroke="#fff" stroke-width="0.7"/>
<line x1="600" y1="635.1" x2="602.6" y2="635.1" stroke="#fff" stroke-width="0.7"/>
<text x="606.1" y="639.4" font-size="12" font-weight="bold" font-style="normal" text-anchor="start" fill="#111" font-family="Liberation Sans" stroke="#111" stroke-width="0.2" textLength="6.3" lengthAdjust="spacingAndGlyphs" >2</text>
<line x1="587.8" y1="654.5" x2="590.5" y2="654.5" stroke="#fff" stroke-width="0.7"/>
<line x1="600" y1="654.5" x2="602.6" y2="654.5" stroke="#fff" stroke-width="0.7"/>
<text x="606.1" y="658.8" font-size="12" font-weight="bold" font-style="normal" text-anchor="start" fill="#111" font-family="Liberation Sans" stroke="#111" stroke-width="0.2" textLength="6.3" lengthAdjust="spacingAndGlyphs" >0</text>
<text x="0.0" y="701.5" font-size="24" font-weight="normal" font-style="normal" text-anchor="start" fill="#111" font-family="Liberation Sans" >g</text>
<line x1="25.9" y1="703.3" x2="680.4" y2="703.3" stroke="#111" stroke-width="1.3"/>
<text x="277.0" y="701.8" font-size="12.3" font-weight="bold" font-style="normal" text-anchor="start" fill="#111" font-family="Liberation Sans" stroke="#111" stroke-width="0.2" textLength="147.8" lengthAdjust="spacingAndGlyphs" >Visualization of RNA velocity</text>
<text x="63.9" y="720.9" font-size="13.7" font-style="italic" font-family="Liberation Sans" fill="#111">Ddx43<tspan font-size="8.5" dy="-5" font-style="normal">+/+</tspan></text>
<text x="269.5" y="720.7" font-size="13.7" font-style="italic" font-family="Liberation Sans" fill="#111">Ddx43<tspan font-size="8.5" dy="-5" font-style="normal">KI/KI</tspan></text>
<text x="444.3" y="719.9" font-size="13.7" font-style="italic" font-family="Liberation Sans" fill="#111">Ddx43<tspan font-size="8.5" dy="-5" font-style="normal">-/-</tspan></text>
<circle cx="607.8" cy="715.1" r="4.1" fill="#3b78b5"/>
<text x="613.8" y="719.7" font-size="12.6" font-weight="bold" font-style="normal" text-anchor="start" fill="#111" font-family="Liberation Sans" stroke="#111" stroke-width="0.2" textLength="64.8" lengthAdjust="spacingAndGlyphs" >Elongating1</text>
<circle cx="607.8" cy="732.5" r="4.1" fill="#f07f2a"/>
<text x="613.8" y="737.1" font-size="12.6" font-weight="bold" font-style="normal" text-anchor="start" fill="#111" font-family="Liberation Sans" stroke="#111" stroke-width="0.2" textLength="64.8" lengthAdjust="spacingAndGlyphs" >Elongating2</text>
<circle cx="607.8" cy="749.9" r="4.1" fill="#3da535"/>
<text x="613.8" y="754.5" font-size="12.6" font-weight="bold" font-style="normal" text-anchor="start" fill="#111" font-family="Liberation Sans" stroke="#111" stroke-width="0.2" textLength="64.8" lengthAdjust="spacingAndGlyphs" >Elongating3</text>
<circle cx="607.8" cy="767.3" r="4.1" fill="#cc3330"/>
<text x="613.8" y="771.9" font-size="12.6" font-weight="bold" font-style="normal" text-anchor="start" fill="#111" font-family="Liberation Sans" stroke="#111" stroke-width="0.2" textLength="44.5" lengthAdjust="spacingAndGlyphs" >SCytes1</text>
<circle cx="607.8" cy="784.7" r="4.1" fill="#9a68cf"/>
<text x="613.8" y="789.3" font-size="12.6" font-weight="bold" font-style="normal" text-anchor="start" fill="#111" font-family="Liberation Sans" stroke="#111" stroke-width="0.2" textLength="45.0" lengthAdjust="spacingAndGlyphs" >SCytes2</text>
<circle cx="607.8" cy="802.1" r="4.1" fill="#8e5b50"/>
<text x="613.8" y="806.7" font-size="12.6" font-weight="bold" font-style="normal" text-anchor="start" fill="#111" font-family="Liberation Sans" stroke="#111" stroke-width="0.2" textLength="23.5" lengthAdjust="spacingAndGlyphs" >SPG</text>
<circle cx="607.8" cy="819.5" r="4.1" fill="#e07dd3"/>
<text x="613.8" y="824.1" font-size="12.6" font-weight="bold" font-style="normal" text-anchor="start" fill="#111" font-family="Liberation Sans" stroke="#111" stroke-width="0.2" textLength="31.0" lengthAdjust="spacingAndGlyphs" >STids</text>
<path d="M141.2 711.2C142.2 710.4 147.2 709.6 150.4 709.2C153.7 708.8 156.9 708.6 160.7 708.7C164.4 708.8 169.5 708.6 172.9 709.7C176.3 710.8 179.0 713.0 181.1 715.3C183.2 717.6 185.0 720.9 185.7 723.5C186.4 726.1 186.1 729.0 185.2 730.7C184.3 732.4 183.0 731.8 180.1 733.7C177.2 735.6 170.5 741.5 167.8 741.9C165.1 742.2 165.1 738.2 163.7 735.8C162.3 733.4 161.5 730.2 159.6 727.6C157.7 725.0 155.1 722.6 152.5 720.4C149.9 718.2 146.2 715.8 144.3 714.3C142.4 712.8 140.2 712.1 141.2 711.2Z" fill="#f07f2a" fill-opacity="1"/>
<path d="M178.0 731.0C180.5 730.0 182.9 732.2 183.1 733.7C183.3 735.2 180.7 737.6 179.0 740.0C177.3 742.4 174.7 745.3 172.9 748.0C171.1 750.7 169.2 755.0 168.0 756.0C166.8 757.0 165.7 755.7 165.5 754.0C165.3 752.3 166.6 748.3 167.0 746.0C167.4 743.7 166.2 742.5 168.0 740.0C169.8 737.5 175.5 732.0 178.0 731.0Z" fill="#3da535" fill-opacity="1"/>
<path d="M136.0 716.0C136.5 715.2 139.8 714.2 141.0 714.5C142.2 714.8 143.5 716.8 143.0 717.5C142.5 718.2 139.2 719.2 138.0 719.0C136.8 718.8 135.5 716.8 136.0 716.0Z" fill="#e8b2e0" fill-opacity="1"/>
<path d="M166.0 756.0C166.7 755.4 169.8 755.7 170.5 756.5C171.2 757.3 170.7 760.4 170.0 761.0C169.3 761.6 167.2 760.8 166.5 760.0C165.8 759.2 165.3 756.6 166.0 756.0Z" fill="#e8b2e0" fill-opacity="1"/>
<path d="M168.5 759.0C168.8 759.7 168.4 762.0 167.0 764.0C165.6 766.0 162.8 768.8 160.0 771.0C157.2 773.2 152.8 775.5 150.0 777.0C147.2 778.5 144.3 779.8 143.0 780.0C141.7 780.2 141.0 779.7 142.0 778.5C143.0 777.3 146.3 775.1 149.0 773.0C151.7 770.9 155.3 768.2 158.0 766.0C160.7 763.8 163.2 761.2 165.0 760.0C166.8 758.8 168.2 758.3 168.5 759.0Z" fill="#3b78b5" fill-opacity="1"/>
<path d="M143.0 712.0C145.0 712.7 151.8 713.3 155.0 716.0C158.2 718.7 159.8 723.7 162.0 728.0C164.2 732.3 167.0 739.7 168.0 742.0M150.0 711.0C151.7 712.2 157.5 714.8 160.0 718.0C162.5 721.2 163.3 725.5 165.0 730.0C166.7 734.5 169.2 742.5 170.0 745.0M158.0 710.0C159.5 711.2 164.7 713.3 167.0 717.0C169.3 720.7 171.2 726.8 172.0 732.0C172.8 737.2 172.0 745.3 172.0 748.0M166.0 710.0C167.3 711.3 172.2 714.3 174.0 718.0C175.8 721.7 176.8 727.0 177.0 732.0C177.2 737.0 175.3 745.3 175.0 748.0M173.0 711.0C174.3 712.5 179.8 715.8 181.0 720.0C182.2 724.2 181.5 730.7 180.0 736.0C178.5 741.3 173.3 749.3 172.0 752.0M178.0 712.0C179.3 713.7 185.0 717.8 186.0 722.0C187.0 726.2 186.7 731.3 184.0 737.0C181.3 742.7 172.3 752.8 170.0 756.0M176.0 710.0C177.8 711.7 185.0 716.2 187.0 720.0C189.0 723.8 189.8 728.0 188.0 733.0C186.2 738.0 178.0 747.2 176.0 750.0" stroke="#111" stroke-width="0.8" fill="none" stroke-opacity="0.9"/>
<path d="M168.0 757.0C166.7 758.8 163.3 764.5 160.0 768.0C156.7 771.5 151.3 775.8 148.0 778.0C144.7 780.2 141.3 780.5 140.0 781.0M171.0 759.0C169.5 760.8 165.5 766.7 162.0 770.0C158.5 773.3 152.0 777.5 150.0 779.0" stroke="#111" stroke-width="0.6" fill="none" stroke-opacity="0.9"/>
<path d="M146.8 712.8l2.6 1.2l-2.6 1.2zM151.8 720.8l2.6 1.2l-2.6 1.2zM159.8 725.8l2.6 1.2l-2.6 1.2zM163.8 733.8l2.6 1.2l-2.6 1.2zM166.8 740.8l2.6 1.2l-2.6 1.2zM169.8 738.8l2.6 1.2l-2.6 1.2zM176.8 729.8l2.6 1.2l-2.6 1.2zM180.8 718.8l2.6 1.2l-2.6 1.2zM182.8 727.8l2.6 1.2l-2.6 1.2zM170.8 714.8l2.6 1.2l-2.6 1.2z" fill="#000"/>
<path d="M74.5 781.0C75.2 780.5 75.8 779.8 78.0 780.5C80.2 781.2 85.0 783.3 88.0 785.0C91.0 786.7 94.7 789.2 96.0 790.5C97.3 791.8 97.0 793.2 95.7 793.0C94.4 792.8 91.0 790.8 88.0 789.5C85.0 788.2 80.4 786.0 78.0 785.0C75.6 784.0 74.1 784.2 73.5 783.5C72.9 782.8 73.8 781.5 74.5 781.0Z" fill="#8e5b50" fill-opacity="1"/>
<path d="M76.2 793.5C77.7 792.8 82.7 792.0 85.4 792.5C88.1 793.0 91.6 795.2 92.6 796.6C93.6 798.0 91.1 799.4 91.6 800.7C92.1 802.1 95.7 803.0 95.7 804.7C95.7 806.4 93.5 809.9 91.6 810.9C89.7 811.9 85.8 809.9 84.4 810.9C83.0 811.9 84.2 815.6 83.4 817.0C82.6 818.4 80.7 819.5 79.3 819.0C77.9 818.5 76.0 815.9 75.2 813.9C74.4 811.9 73.5 809.0 74.2 806.8C74.9 804.6 79.0 802.4 79.3 800.7C79.6 799.0 76.7 797.8 76.2 796.6C75.7 795.4 74.7 794.2 76.2 793.5Z" fill="#cc3330" fill-opacity="0.95"/>
<path d="M95.0 795.0C96.0 792.3 99.5 793.7 102.0 794.0C104.5 794.3 109.0 792.3 110.0 797.0C111.0 801.7 109.5 818.0 108.0 822.0C106.5 826.0 103.0 823.0 101.0 821.0C99.0 819.0 97.0 814.3 96.0 810.0C95.0 805.7 94.0 797.7 95.0 795.0Z" fill="#eeb0e6" fill-opacity="1"/>
<path d="M98.7 796.0C101.5 793.8 108.4 793.8 114.0 792.5C119.6 791.2 126.3 789.4 132.4 788.4C138.5 787.4 144.3 786.9 150.8 786.4C157.3 785.9 164.8 785.5 171.3 785.3C177.8 785.1 185.3 784.4 189.7 785.3C194.1 786.1 195.9 787.5 197.8 790.4C199.7 793.3 200.9 798.6 200.9 802.7C200.9 806.8 200.0 811.2 197.8 815.0C195.6 818.8 191.7 822.7 187.6 825.2C183.5 827.8 178.8 829.8 173.3 830.3C167.9 830.8 160.0 829.1 154.9 828.2C149.8 827.4 147.5 825.0 142.7 825.2C137.9 825.4 130.7 828.6 126.3 829.3C121.9 830.0 119.2 830.0 116.1 829.5C113.0 829.0 110.5 827.9 107.9 826.0C105.3 824.1 102.2 821.3 100.5 818.0C98.8 814.7 97.8 809.7 97.5 806.0C97.2 802.3 96.0 798.2 98.7 796.0Z" fill="#e07dd3" fill-opacity="1"/>
<path d="M89.5 810.9C90.9 810.1 97.0 812.3 98.7 814.0C100.4 815.7 100.6 819.3 99.7 821.0C98.8 822.7 95.1 824.5 93.6 824.2C92.1 823.9 91.2 821.2 90.5 819.0C89.8 816.8 88.1 811.7 89.5 810.9Z" fill="#9a68cf" fill-opacity="1"/>
<path d="M118.9 792.3Q154.9 783.2 190.9 788.1M128.0 792.9Q160.9 784.7 193.8 789.4M116.7 794.1Q153.7 786.3 190.7 790.2M113.3 795.9Q154.0 789.6 194.7 792.3M122.7 796.4Q157.0 790.4 191.4 793.5M127.1 797.1Q161.6 790.8 196.1 794.5M105.2 799.0Q149.1 789.4 193.0 795.9M113.0 800.3Q154.6 793.9 196.1 797.9M125.2 801.0Q160.5 796.1 195.8 799.2M127.0 802.2Q161.1 794.7 195.1 800.7M118.5 803.0Q157.2 795.8 195.8 801.5M118.3 804.0Q159.0 798.1 199.6 802.8M123.5 805.5Q160.0 798.9 196.5 804.7M115.0 806.9Q156.7 800.3 198.5 806.3M111.0 807.6Q155.0 801.1 198.9 807.2M114.4 808.8Q156.2 800.5 197.9 808.7M105.3 809.8Q149.1 804.9 192.9 810.1M115.2 810.9Q153.8 806.2 192.4 811.3M105.3 812.2Q151.1 804.3 196.9 813.2M111.7 813.4Q153.0 807.7 194.2 814.6M114.2 814.4Q153.9 807.7 193.7 815.9M115.1 815.6Q153.7 809.2 192.4 817.4M127.4 816.9Q161.1 811.8 194.7 818.6M118.6 818.0Q154.0 813.0 189.4 820.2M107.6 818.2Q149.6 812.3 191.6 820.9M109.5 819.9Q148.7 814.9 188.0 823.0M122.1 821.0Q156.7 817.0 191.3 823.8M109.0 821.8Q147.9 818.0 186.9 825.5M115.4 823.0Q152.8 820.8 190.3 826.6M122.6 824.4Q156.5 820.6 190.4 828.0" stroke="#111" stroke-width="0.55" fill="none" stroke-opacity="0.85"/>
<path d="M166.6 785.3l2.4 1.1l-2.4 1.1zM169.2 786.6l2.4 1.1l-2.4 1.1zM144.8 792.3l2.4 1.1l-2.4 1.1zM154.6 792.5l2.4 1.1l-2.4 1.1zM158.1 792.3l2.4 1.1l-2.4 1.1zM144.4 792.5l2.4 1.1l-2.4 1.1zM152.0 792.2l2.4 1.1l-2.4 1.1zM172.3 795.4l2.4 1.1l-2.4 1.1zM155.0 797.1l2.4 1.1l-2.4 1.1zM170.3 797.1l2.4 1.1l-2.4 1.1zM185.5 798.3l2.4 1.1l-2.4 1.1zM187.7 799.5l2.4 1.1l-2.4 1.1zM152.2 801.0l2.4 1.1l-2.4 1.1zM151.3 801.1l2.4 1.1l-2.4 1.1zM171.6 802.7l2.4 1.1l-2.4 1.1zM158.4 803.5l2.4 1.1l-2.4 1.1zM125.9 808.6l2.4 1.1l-2.4 1.1zM168.5 808.1l2.4 1.1l-2.4 1.1zM138.1 807.6l2.4 1.1l-2.4 1.1zM146.4 809.7l2.4 1.1l-2.4 1.1zM132.4 810.2l2.4 1.1l-2.4 1.1zM154.3 810.3l2.4 1.1l-2.4 1.1zM186.8 813.7l2.4 1.1l-2.4 1.1zM172.6 813.2l2.4 1.1l-2.4 1.1zM178.0 815.0l2.4 1.1l-2.4 1.1zM172.7 816.8l2.4 1.1l-2.4 1.1zM152.4 820.1l2.4 1.1l-2.4 1.1zM184.0 824.8l2.4 1.1l-2.4 1.1zM132.9 822.4l2.4 1.1l-2.4 1.1z" fill="#000"/>
<path d="M80.0 790.0C81.7 790.7 86.7 792.3 90.0 794.0C93.3 795.7 98.3 799.0 100.0 800.0M76.0 808.0C78.3 807.7 86.0 806.0 90.0 806.0C94.0 806.0 98.3 807.7 100.0 808.0M84.0 822.0C85.7 821.3 91.0 819.2 94.0 818.0C97.0 816.8 100.7 815.5 102.0 815.0" stroke="#111" stroke-width="0.6" fill="none" stroke-opacity="0.9"/>
<path d="M74.8 789.8l2.6 1.2l-2.6 1.2zM80.8 790.8l2.6 1.2l-2.6 1.2zM91.8 794.8l2.6 1.2l-2.6 1.2zM88.8 816.8l2.6 1.2l-2.6 1.2zM93.8 810.8l2.6 1.2l-2.6 1.2z" fill="#000"/>
<path transform="scale(.5)" d="M48 1519h0" stroke="#f5b08a" stroke-width="8.0" stroke-linecap="round" stroke-opacity="1"/>
<path transform="scale(.5)" d="M437 1472h0m-346 77h0m-64 10h0" stroke="#e8b2e0" stroke-width="8.0" stroke-linecap="round" stroke-opacity="1"/>
<path d="M343.6 711.0C344.8 710.1 348.7 709.9 352.3 709.6C355.9 709.4 361.2 709.0 365.0 709.5C368.8 710.0 372.0 710.1 375.1 712.3C378.2 714.5 383.3 719.7 383.9 722.8C384.5 725.9 381.8 729.4 378.6 730.7C375.4 732.0 368.4 732.0 364.6 730.7C360.8 729.4 357.9 725.6 355.8 722.8C353.8 720.0 354.1 715.3 352.3 714.0C350.5 712.7 346.4 715.4 345.0 714.9C343.6 714.4 342.4 711.9 343.6 711.0Z" fill="#f07f2a" fill-opacity="1"/>
<path d="M343.0 710.0C343.5 709.1 347.5 709.0 349.0 709.5C350.5 710.0 352.5 712.1 352.0 713.0C351.5 713.9 347.5 715.5 346.0 715.0C344.5 714.5 342.5 710.9 343.0 710.0Z" fill="#f5b88a" fill-opacity="1"/>
<path d="M368.1 735.0C370.4 733.5 378.6 735.0 380.4 736.8C382.1 738.5 380.7 742.9 378.6 745.5C376.6 748.1 370.1 752.6 368.1 752.6C366.1 752.6 366.4 748.4 366.4 745.5C366.4 742.6 365.8 736.5 368.1 735.0Z" fill="#3da535" fill-opacity="1"/>
<path transform="scale(.5)" d="M720 1462h0m12-4h0m-8 14h0m-6 10h0m8 10h0m-4 8h0" stroke="#ebbde5" stroke-width="7.2" stroke-linecap="round" stroke-opacity="1"/>
<path d="M336.6 785.8C337.9 784.1 341.8 780.1 345.0 777.0C348.2 773.9 353.0 769.3 356.0 767.0C359.0 764.7 361.7 763.3 362.9 763.1C364.1 762.9 364.5 764.4 363.0 766.0C361.5 767.6 357.7 770.0 354.0 773.0C350.3 776.0 343.8 781.7 341.0 784.0C338.2 786.3 337.7 786.7 337.0 787.0C336.3 787.3 335.3 787.5 336.6 785.8Z" fill="#3b78b5" fill-opacity="1"/>
<path d="M360.0 760.0C360.5 759.0 363.2 757.7 364.0 758.0C364.8 758.3 365.5 761.0 365.0 762.0C364.5 763.0 361.8 764.3 361.0 764.0C360.2 763.7 359.5 761.0 360.0 760.0Z" fill="#b9c9f0" fill-opacity="1"/>
<path d="M280.5 784.0C281.2 783.2 284.2 782.7 286.0 783.2C287.8 783.7 290.5 785.8 291.0 787.0C291.5 788.2 290.5 790.0 289.0 790.2C287.5 790.4 283.4 789.0 282.0 788.0C280.6 787.0 279.8 784.8 280.5 784.0Z" fill="#8e5b50" fill-opacity="1"/>
<path transform="scale(.5)" d="M564 1602h0m16-2h0m-4 10h0m-18 10h0m28 4h0m-18 8h0" stroke="#e28a8a" stroke-width="8.8" stroke-linecap="round" stroke-opacity="1"/>
<path d="M292.8 812.0C293.5 809.9 296.2 809.7 298.0 810.4C299.8 811.1 302.8 813.7 303.3 816.0C303.8 818.3 302.6 823.2 301.0 824.4C299.4 825.6 295.4 825.1 294.0 823.0C292.6 820.9 292.1 814.1 292.8 812.0Z" fill="#9a68cf" fill-opacity="1"/>
<path transform="scale(.5)" d="M608 1594h0m-27 11h0m20-4h0m-9 11h0" stroke="#f0c0ea" stroke-width="8.8" stroke-linecap="round" stroke-opacity="1"/>
<path d="M306.8 798.6C309.0 796.1 313.9 795.0 319.0 793.5C324.1 792.0 331.3 790.4 337.4 789.4C343.5 788.4 349.3 788.1 355.8 787.4C362.3 786.7 370.2 785.5 376.3 785.3C382.4 785.1 388.9 785.2 392.6 786.4C396.4 787.6 398.0 789.5 398.8 792.5C399.6 795.5 398.7 800.6 397.7 804.7C396.7 808.8 395.5 813.4 392.6 817.0C389.7 820.6 384.8 824.0 380.4 826.2C376.0 828.4 370.9 830.0 366.1 830.3C361.3 830.6 356.5 829.1 351.7 828.2C346.9 827.4 341.5 825.7 337.4 825.2C333.3 824.7 329.9 824.5 327.2 825.2C324.5 825.9 323.5 828.4 321.1 829.3C318.7 830.1 314.9 831.7 312.9 830.3C310.8 828.9 310.0 824.7 308.8 821.1C307.6 817.5 306.1 812.5 305.8 808.8C305.5 805.0 304.6 801.1 306.8 798.6Z" fill="#e07dd3" fill-opacity="1"/>
<path d="M308.7 806.9Q320.0 797.8 332.7 790.9M308.7 806.9Q321.8 797.0 336.7 790.1M317.3 802.4Q328.5 795.0 340.7 789.7M314.8 804.1Q329.3 795.7 344.7 789.2M316.6 803.6Q331.9 794.5 348.8 788.8M317.0 803.7Q334.0 793.9 352.8 788.3M313.9 805.2Q334.8 795.3 356.8 787.9M307.8 807.7Q333.4 795.1 360.8 787.5M310.9 806.6Q337.0 794.3 364.8 787.1M309.7 807.1Q338.6 795.0 368.8 786.7M311.3 806.6Q341.5 794.8 372.9 786.3M331.3 800.5Q353.3 791.0 376.9 786.4M327.6 802.1Q353.9 793.0 380.9 786.7M330.9 801.6Q357.2 791.4 385.0 787.0M335.2 800.9Q361.8 792.6 389.0 787.3M331.4 802.8Q361.2 794.4 391.9 790.0M329.5 804.1Q361.5 794.8 394.8 792.8M313.6 807.1Q353.9 799.7 394.8 796.7M329.3 806.1Q361.7 801.2 394.4 800.7M329.1 807.2Q361.5 802.7 394.1 804.7M314.2 808.0Q353.4 805.5 392.6 808.5M314.6 808.4Q352.9 807.9 391.0 812.2M321.7 809.4Q355.8 810.7 389.5 815.9M331.4 811.3Q359.4 811.8 386.6 818.6M322.2 810.6Q353.3 813.0 383.3 821.1M318.4 810.4Q349.6 815.2 380.1 823.5M311.7 809.2Q345.0 814.6 376.8 825.7M307.8 808.2Q341.1 814.8 372.9 826.8M311.8 809.6Q341.2 816.2 369.0 827.9M319.4 812.5Q343.2 818.2 365.1 829.0M314.2 810.8Q338.6 817.4 361.1 829.0M314.4 811.0Q336.8 817.2 357.1 828.4M321.8 814.4Q337.9 820.1 353.1 827.9M308.8 808.8Q329.5 816.8 349.2 827.2M311.3 810.1Q328.8 817.1 345.2 826.4M311.7 810.4Q327.2 816.5 341.2 825.6M311.9 810.7Q325.2 816.6 337.3 824.7M310.6 810.2Q322.4 816.6 333.3 824.5" stroke="#111" stroke-width="0.5" fill="none" stroke-opacity="0.85"/>
<path d="M329.3 791.1l2.4 1.1l-2.4 1.1zM315.9 799.9l2.4 1.1l-2.4 1.1zM326.5 793.5l2.4 1.1l-2.4 1.1zM327.9 794.2l2.4 1.1l-2.4 1.1zM337.2 791.6l2.4 1.1l-2.4 1.1zM325.2 797.6l2.4 1.1l-2.4 1.1zM340.8 793.8l2.4 1.1l-2.4 1.1zM373.3 785.8l2.4 1.1l-2.4 1.1zM349.9 793.4l2.4 1.1l-2.4 1.1zM346.0 794.8l2.4 1.1l-2.4 1.1zM350.8 794.9l2.4 1.1l-2.4 1.1zM369.7 792.4l2.4 1.1l-2.4 1.1zM347.9 803.9l2.4 1.1l-2.4 1.1zM358.5 808.4l2.4 1.1l-2.4 1.1zM365.0 811.7l2.4 1.1l-2.4 1.1zM346.5 811.0l2.4 1.1l-2.4 1.1zM368.5 816.6l2.4 1.1l-2.4 1.1zM332.1 812.2l2.4 1.1l-2.4 1.1zM340.1 815.2l2.4 1.1l-2.4 1.1zM354.0 819.5l2.4 1.1l-2.4 1.1zM360.1 823.7l2.4 1.1l-2.4 1.1zM337.4 815.7l2.4 1.1l-2.4 1.1zM344.3 819.4l2.4 1.1l-2.4 1.1zM326.9 813.9l2.4 1.1l-2.4 1.1zM356.2 826.1l2.4 1.1l-2.4 1.1zM344.4 821.5l2.4 1.1l-2.4 1.1zM333.2 816.6l2.4 1.1l-2.4 1.1zM330.8 817.2l2.4 1.1l-2.4 1.1zM324.4 814.7l2.4 1.1l-2.4 1.1zM342.1 824.2l2.4 1.1l-2.4 1.1zM327.5 818.2l2.4 1.1l-2.4 1.1zM316.2 813.0l2.4 1.1l-2.4 1.1z" fill="#000"/>
<path d="M325.7 792.5Q355.7 788.6 385.6 789.1M338.3 793.8Q362.8 790.9 387.3 791.4M342.9 795.6Q367.0 792.5 391.2 793.6M321.4 798.0Q357.1 794.3 392.8 795.5M350.0 798.6Q371.1 796.2 392.2 797.4M331.9 800.8Q362.2 796.9 392.5 799.5M336.6 802.4Q364.5 800.3 392.5 801.5M330.1 804.5Q361.2 801.2 392.4 804.0M326.2 805.3Q360.8 802.4 395.4 804.9M349.0 807.9Q370.3 805.6 391.6 808.1M343.2 809.3Q366.8 807.5 390.5 809.7M329.0 810.3Q359.6 808.4 390.1 811.0M335.0 812.1Q361.0 809.8 387.0 813.1M343.5 814.8Q365.2 814.0 386.9 816.0M328.5 815.7Q357.1 814.3 385.6 817.7M321.5 816.9Q353.5 815.1 385.5 819.4M322.1 818.6Q354.1 817.0 386.1 821.5M325.3 820.8Q356.3 820.3 387.3 824.1M339.3 823.3Q360.7 822.6 382.0 826.1M320.0 824.0Q349.8 823.3 379.6 828.5" stroke="#111" stroke-width="0.6" fill="none" stroke-opacity="0.8"/>
<path d="M370.4 788.0l2.4 1.1l-2.4 1.1zM347.1 791.6l2.4 1.1l-2.4 1.1zM354.6 793.1l2.4 1.1l-2.4 1.1zM347.7 794.8l2.4 1.1l-2.4 1.1zM350.9 797.8l2.4 1.1l-2.4 1.1zM350.0 801.9l2.4 1.1l-2.4 1.1zM359.6 805.9l2.4 1.1l-2.4 1.1zM360.1 807.4l2.4 1.1l-2.4 1.1zM350.0 807.7l2.4 1.1l-2.4 1.1zM368.4 808.7l2.4 1.1l-2.4 1.1zM375.1 810.9l2.4 1.1l-2.4 1.1zM370.0 810.5l2.4 1.1l-2.4 1.1zM371.8 813.9l2.4 1.1l-2.4 1.1zM359.8 813.5l2.4 1.1l-2.4 1.1zM365.0 814.9l2.4 1.1l-2.4 1.1zM356.0 814.4l2.4 1.1l-2.4 1.1zM368.2 821.2l2.4 1.1l-2.4 1.1zM341.7 819.8l2.4 1.1l-2.4 1.1zM350.7 822.2l2.4 1.1l-2.4 1.1zM333.8 822.9l2.4 1.1l-2.4 1.1z" fill="#000"/>
<path d="M350.0 712.0C352.0 712.3 357.8 712.7 362.0 714.0C366.2 715.3 371.7 717.7 375.0 720.0C378.3 722.3 380.8 726.7 382.0 728.0M355.0 711.0C357.2 711.8 364.2 713.7 368.0 716.0C371.8 718.3 376.3 723.5 378.0 725.0M352.0 716.0C354.0 717.0 360.7 719.7 364.0 722.0C367.3 724.3 370.7 728.7 372.0 730.0M336.0 786.0C338.3 784.2 345.2 778.5 350.0 775.0C354.8 771.5 362.5 766.7 365.0 765.0M340.0 786.0C342.0 784.5 347.7 780.0 352.0 777.0C356.3 774.0 363.7 769.5 366.0 768.0" stroke="#111" stroke-width="0.7" fill="none" stroke-opacity="0.9"/>
<path d="M352.1 711.8Q356.3 709.8 361.0 709.7M352.9 711.7Q358.7 709.6 364.9 709.7M353.5 711.8Q361.0 710.0 368.7 710.8M351.8 712.0Q362.1 710.4 372.5 711.8M353.2 712.2Q364.5 710.9 375.5 713.9M351.1 712.0Q365.1 711.5 378.0 716.9M355.7 713.3Q368.8 714.1 380.5 719.9M352.7 712.6Q368.0 716.1 382.2 723.0M355.6 714.2Q368.5 718.7 380.0 726.2M352.9 713.2Q366.7 719.2 377.8 729.5M354.7 714.9Q366.2 720.2 374.2 730.0M354.8 715.5Q363.5 721.7 370.3 730.0M353.7 715.2Q361.0 721.7 366.3 730.0M351.7 713.0Q358.9 719.8 362.9 728.9" stroke="#111" stroke-width="0.6" fill="none" stroke-opacity="0.9"/>
<path d="M355.8 709.0l2.4 1.1l-2.4 1.1zM358.5 708.7l2.4 1.1l-2.4 1.1zM356.1 709.4l2.4 1.1l-2.4 1.1zM354.9 709.6l2.4 1.1l-2.4 1.1zM356.8 709.9l2.4 1.1l-2.4 1.1zM359.4 710.1l2.4 1.1l-2.4 1.1zM366.2 711.2l2.4 1.1l-2.4 1.1zM363.4 710.9l2.4 1.1l-2.4 1.1zM373.6 716.3l2.4 1.1l-2.4 1.1zM375.5 723.0l2.4 1.1l-2.4 1.1zM370.5 726.1l2.4 1.1l-2.4 1.1zM358.0 717.8l2.4 1.1l-2.4 1.1zM357.7 719.2l2.4 1.1l-2.4 1.1zM360.5 725.4l2.4 1.1l-2.4 1.1z" fill="#000"/>
<path d="M372.8 713.8l2.6 1.2l-2.6 1.2zM376.8 722.8l2.6 1.2l-2.6 1.2zM362.8 722.8l2.6 1.2l-2.6 1.2zM350.8 726.8l2.6 1.2l-2.6 1.2zM368.8 732.8l2.6 1.2l-2.6 1.2zM341.8 779.8l2.6 1.2l-2.6 1.2zM353.8 771.8l2.6 1.2l-2.6 1.2z" fill="#000"/>
<path d="M544.0 709.5C546.2 708.5 553.8 707.7 559.2 708.0C564.6 708.3 572.5 709.2 576.3 711.4C580.1 713.5 582.6 718.8 582.0 720.9C581.4 723.0 576.0 723.4 572.5 723.7C569.0 724.0 564.6 723.6 561.1 722.8C557.6 722.0 554.1 720.4 551.6 719.0C549.1 717.6 547.2 715.8 545.9 714.2C544.6 712.6 541.8 710.5 544.0 709.5Z" fill="#f07f2a" fill-opacity="1"/>
<path d="M559.0 722.0C559.5 719.8 564.7 720.7 566.0 723.0C567.3 725.3 567.5 733.8 567.0 736.0C566.5 738.2 564.3 738.3 563.0 736.0C561.7 733.7 558.5 724.2 559.0 722.0Z" fill="#f3a070" fill-opacity="0.8"/>
<path d="M568.7 732.3C570.8 730.4 576.2 731.0 578.2 732.3C580.2 733.6 581.3 737.1 581.0 739.9C580.7 742.7 578.7 747.2 576.3 749.3C573.9 751.3 568.5 753.1 566.8 752.2C565.0 751.3 565.5 747.0 565.8 743.7C566.1 740.4 566.6 734.2 568.7 732.3Z" fill="#3da535" fill-opacity="1"/>
<path d="M540.2 781.0C540.9 780.0 544.7 779.2 546.0 779.7C547.3 780.2 548.5 783.0 547.8 784.0C547.1 785.0 543.3 785.9 542.0 785.4C540.7 784.9 539.5 782.0 540.2 781.0Z" fill="#9a68cf" fill-opacity="1"/>
<path transform="scale(.5)" d="M1117 1535h0m-11 7h0m6 8h0m-12 2h0" stroke="#d8b2ec" stroke-width="6.4" stroke-linecap="round" stroke-opacity="1"/>
<path d="M479.2 781.8C480.1 781.5 481.9 781.7 484.0 782.5C486.1 783.3 490.3 785.3 491.5 786.5C492.7 787.7 492.2 789.3 491.0 789.5C489.8 789.7 486.1 788.3 484.0 787.5C481.9 786.7 479.3 785.5 478.5 784.5C477.7 783.5 478.3 782.1 479.2 781.8Z" fill="#8e5b50" fill-opacity="1"/>
<path d="M482.3 794.5C483.8 794.1 487.8 794.1 490.4 795.5C492.9 796.9 496.9 801.0 497.6 802.7C498.3 804.4 496.0 804.8 494.5 805.8C493.0 806.8 490.1 807.3 488.4 808.8C486.7 810.3 484.6 813.3 484.3 815.0C484.0 816.7 487.0 818.7 486.3 819.0C485.6 819.3 481.7 818.7 480.2 817.0C478.7 815.3 476.8 811.2 477.2 808.8C477.6 806.4 481.6 804.6 482.3 802.7C483.0 800.8 481.2 799.0 481.2 797.6C481.2 796.2 480.8 794.9 482.3 794.5Z" fill="#cc3330" fill-opacity="1"/>
<path d="M492.5 811.9C493.0 810.5 497.2 812.5 498.6 814.0C500.0 815.5 501.2 819.8 500.7 821.1C500.2 822.5 496.9 823.6 495.5 822.1C494.1 820.6 492.0 813.2 492.5 811.9Z" fill="#9a68cf" fill-opacity="1"/>
<path transform="scale(.5)" d="M1006 1590h0m-8 4h0m-4 12h0" stroke="#f0c0ea" stroke-width="8.0" stroke-linecap="round" stroke-opacity="1"/>
<path d="M502.7 800.7C505.2 798.8 511.6 797.2 517.0 795.5C522.5 793.8 528.9 791.8 535.4 790.4C541.9 789.0 548.6 788.2 555.8 787.4C562.9 786.5 572.2 785.5 578.3 785.3C584.4 785.1 589.5 784.9 592.6 786.4C595.7 787.9 596.2 790.8 596.7 794.5C597.2 798.2 596.7 804.4 595.7 808.8C594.7 813.2 593.5 817.7 590.6 821.1C587.7 824.5 583.4 827.6 578.3 829.3C573.2 831.0 566.0 831.8 559.9 831.3C553.8 830.8 546.6 826.9 541.5 826.2C536.4 825.5 533.0 826.4 529.3 827.2C525.5 828.1 522.1 831.3 519.0 831.3C515.9 831.3 513.3 829.9 510.9 827.2C508.5 824.5 506.2 818.4 504.7 815.0C503.2 811.6 502.0 809.2 501.7 806.8C501.4 804.4 500.1 802.6 502.7 800.7Z" fill="#e07dd3" fill-opacity="1"/>
<path d="M509.1 805.8Q518.0 798.9 527.5 793.0M506.6 807.7Q518.3 798.8 531.3 792.0M509.0 806.5Q521.3 797.6 535.0 791.0M513.6 804.2Q525.6 796.3 538.9 790.5M507.3 807.8Q524.3 797.5 542.7 789.9M511.1 806.2Q528.1 796.4 546.5 789.4M515.5 804.4Q532.4 795.4 550.4 788.8M510.5 806.8Q531.8 796.3 554.2 788.3M506.6 808.6Q531.4 795.9 558.0 787.9M508.3 808.0Q534.5 796.3 561.9 787.5M516.9 805.1Q541.4 793.5 567.7 787.0M519.0 804.6Q544.3 792.9 571.5 786.6M512.5 806.9Q543.3 794.6 575.4 786.3M512.4 807.1Q544.8 793.5 579.3 786.6M503.9 809.7Q542.5 794.8 583.1 786.9M515.3 806.7Q550.4 794.2 587.0 787.2M518.2 806.3Q553.0 793.4 589.8 789.0M528.8 804.9Q559.6 795.9 591.6 792.4M506.3 809.5Q549.2 800.4 592.9 796.0M527.8 807.2Q559.9 801.1 592.6 799.8M515.7 809.4Q553.8 803.7 592.2 805.6M508.0 810.0Q549.8 804.8 591.7 809.4M504.8 810.1Q547.6 809.2 590.3 813.0M513.7 810.8Q551.5 810.0 588.8 816.6M511.3 811.0Q549.8 811.7 587.3 820.2M515.4 811.9Q550.3 814.4 584.3 822.5M504.2 810.2Q543.0 815.5 581.1 824.7M508.1 811.1Q543.5 816.5 577.9 826.8M521.0 814.7Q548.1 820.3 574.5 828.6M509.4 811.8Q540.6 818.3 570.7 829.0M506.0 810.9Q535.9 818.8 564.9 829.7M519.0 815.5Q540.6 821.0 561.1 830.1M512.0 813.4Q535.4 819.7 557.2 830.3M515.0 814.6Q534.7 820.7 553.5 829.3M506.6 811.4Q528.8 818.3 549.8 828.3M506.6 811.5Q526.9 818.0 546.0 827.2M512.9 814.1Q528.3 818.5 542.3 826.2M504.6 810.7Q522.4 816.4 538.5 825.7M511.7 814.4Q523.6 819.4 534.7 826.0M507.8 812.8Q520.0 818.4 530.8 826.3" stroke="#111" stroke-width="0.5" fill="none" stroke-opacity="0.85"/>
<path d="M524.0 793.4l2.4 1.1l-2.4 1.1zM512.8 801.3l2.4 1.1l-2.4 1.1zM525.9 794.0l2.4 1.1l-2.4 1.1zM531.2 791.2l2.4 1.1l-2.4 1.1zM523.2 796.6l2.4 1.1l-2.4 1.1zM532.8 792.6l2.4 1.1l-2.4 1.1zM532.5 793.6l2.4 1.1l-2.4 1.1zM533.4 793.1l2.4 1.1l-2.4 1.1zM542.5 791.1l2.4 1.1l-2.4 1.1zM531.0 795.8l2.4 1.1l-2.4 1.1zM535.9 795.9l2.4 1.1l-2.4 1.1zM559.2 788.3l2.4 1.1l-2.4 1.1zM548.4 792.6l2.4 1.1l-2.4 1.1zM586.8 791.7l2.4 1.1l-2.4 1.1zM546.5 800.7l2.4 1.1l-2.4 1.1zM566.0 797.9l2.4 1.1l-2.4 1.1zM569.0 800.2l2.4 1.1l-2.4 1.1zM563.4 804.1l2.4 1.1l-2.4 1.1zM583.3 811.4l2.4 1.1l-2.4 1.1zM535.0 809.0l2.4 1.1l-2.4 1.1zM577.2 813.8l2.4 1.1l-2.4 1.1zM540.2 810.1l2.4 1.1l-2.4 1.1zM534.4 811.1l2.4 1.1l-2.4 1.1zM567.7 815.4l2.4 1.1l-2.4 1.1zM546.5 817.7l2.4 1.1l-2.4 1.1zM548.8 820.4l2.4 1.1l-2.4 1.1zM548.0 820.2l2.4 1.1l-2.4 1.1zM544.5 821.8l2.4 1.1l-2.4 1.1zM526.8 816.1l2.4 1.1l-2.4 1.1zM556.9 827.7l2.4 1.1l-2.4 1.1zM529.9 818.2l2.4 1.1l-2.4 1.1zM537.8 821.2l2.4 1.1l-2.4 1.1zM543.9 824.5l2.4 1.1l-2.4 1.1zM528.5 818.4l2.4 1.1l-2.4 1.1zM529.2 822.4l2.4 1.1l-2.4 1.1zM528.4 824.3l2.4 1.1l-2.4 1.1z" fill="#000"/>
<path d="M527.8 793.0Q558.2 788.9 588.7 789.7M534.2 794.1Q561.7 789.6 589.2 791.4M518.3 795.9Q553.1 791.3 587.9 792.8M536.3 797.7Q562.8 794.7 589.3 795.8M519.7 799.2Q554.7 795.2 589.7 796.9M532.4 800.9Q562.7 797.2 593.0 799.5M544.6 802.3Q570.2 800.1 595.8 801.3M524.1 804.9Q559.6 800.4 595.0 804.1M525.9 806.5Q558.4 804.2 591.0 806.2M520.2 808.2Q556.8 804.5 593.4 808.3M527.9 809.7Q560.0 807.6 592.1 810.0M538.7 811.6Q565.1 809.9 591.5 812.2M529.3 813.0Q560.4 811.2 591.4 814.0M526.1 814.8Q557.4 812.4 588.7 816.3M521.8 816.2Q553.1 814.9 584.5 818.2M539.3 818.3Q561.6 817.7 583.8 820.0M529.3 819.6Q557.0 818.8 584.7 822.0M542.2 822.5Q562.3 821.6 582.4 824.6M525.4 823.1Q553.5 822.2 581.5 826.5M530.4 825.2Q554.8 825.0 579.3 828.5" stroke="#111" stroke-width="0.6" fill="none" stroke-opacity="0.8"/>
<path d="M545.0 791.3l2.4 1.1l-2.4 1.1zM545.9 792.0l2.4 1.1l-2.4 1.1zM546.2 795.5l2.4 1.1l-2.4 1.1zM557.9 795.4l2.4 1.1l-2.4 1.1zM548.6 798.2l2.4 1.1l-2.4 1.1zM567.8 797.5l2.4 1.1l-2.4 1.1zM572.1 799.8l2.4 1.1l-2.4 1.1zM551.4 807.7l2.4 1.1l-2.4 1.1zM570.4 809.9l2.4 1.1l-2.4 1.1zM553.3 811.2l2.4 1.1l-2.4 1.1zM551.2 812.8l2.4 1.1l-2.4 1.1zM580.2 818.6l2.4 1.1l-2.4 1.1zM574.3 820.0l2.4 1.1l-2.4 1.1zM542.3 824.2l2.4 1.1l-2.4 1.1zM553.6 824.8l2.4 1.1l-2.4 1.1z" fill="#000"/>
<path d="M546.0 712.0C548.3 712.0 555.7 711.3 560.0 712.0C564.3 712.7 568.7 714.3 572.0 716.0C575.3 717.7 578.7 721.0 580.0 722.0M552.0 716.0C554.0 716.2 560.3 716.0 564.0 717.0C567.7 718.0 572.3 721.2 574.0 722.0M560.0 722.0C560.7 723.3 562.7 727.0 564.0 730.0C565.3 733.0 567.3 738.3 568.0 740.0M570.0 735.0C570.7 736.2 574.0 739.5 574.0 742.0C574.0 744.5 570.7 748.7 570.0 750.0M576.0 735.0C576.7 736.2 580.2 739.5 580.0 742.0C579.8 744.5 575.8 748.7 575.0 750.0M540.0 782.0C542.0 781.5 548.7 779.7 552.0 779.0C555.3 778.3 558.7 778.2 560.0 778.0" stroke="#111" stroke-width="0.7" fill="none" stroke-opacity="0.9"/>
<path d="M547.4 710.6Q553.2 708.0 559.5 708.3M547.2 710.7Q554.9 708.5 562.9 709.0M545.9 711.0Q556.8 708.4 567.9 710.0M548.3 711.0Q560.6 708.1 573.0 711.0M548.2 711.3Q562.7 709.8 576.7 714.1M550.4 712.0Q564.9 711.9 578.4 717.0M548.5 712.0Q564.8 713.7 579.4 720.8M546.0 711.4Q561.0 714.7 574.5 722.3M549.4 713.1Q560.0 716.8 569.4 723.0M546.6 711.9Q557.1 715.9 566.0 722.8M546.2 711.8Q554.3 716.0 560.8 722.4M546.0 711.4Q553.4 713.4 559.8 717.5" stroke="#111" stroke-width="0.6" fill="none" stroke-opacity="0.9"/>
<path d="M552.5 707.5l2.4 1.1l-2.4 1.1zM550.4 708.0l2.4 1.1l-2.4 1.1zM560.1 707.8l2.4 1.1l-2.4 1.1zM553.9 708.1l2.4 1.1l-2.4 1.1zM559.0 708.3l2.4 1.1l-2.4 1.1zM560.2 708.3l2.4 1.1l-2.4 1.1zM566.6 708.9l2.4 1.1l-2.4 1.1zM567.4 709.0l2.4 1.1l-2.4 1.1zM564.7 710.6l2.4 1.1l-2.4 1.1zM556.9 711.2l2.4 1.1l-2.4 1.1zM565.7 714.7l2.4 1.1l-2.4 1.1zM562.3 715.8l2.4 1.1l-2.4 1.1zM559.7 716.9l2.4 1.1l-2.4 1.1zM556.0 715.8l2.4 1.1l-2.4 1.1zM561.0 719.0l2.4 1.1l-2.4 1.1zM554.6 716.9l2.4 1.1l-2.4 1.1zM553.1 713.4l2.4 1.1l-2.4 1.1z" fill="#000"/>
<path d="M543.8 710.8l2.6 1.2l-2.6 1.2zM568.8 714.8l2.6 1.2l-2.6 1.2zM576.8 718.8l2.6 1.2l-2.6 1.2zM551.8 715.8l2.6 1.2l-2.6 1.2zM563.8 743.8l2.6 1.2l-2.6 1.2zM573.8 746.8l2.6 1.2l-2.6 1.2zM546.8 778.8l2.6 1.2l-2.6 1.2z" fill="#000"/>
<path transform="scale(.5)" d="M1072 1438h0" stroke="#b8d0f0" stroke-width="7.2" stroke-linecap="round" stroke-opacity="1"/>
<text x="0.0" y="867.0" font-size="25" font-weight="normal" font-style="normal" text-anchor="start" fill="#111" font-family="Liberation Sans" >h</text>
<line x1="25.9" y1="867.3" x2="680.4" y2="867.3" stroke="#111" stroke-width="1.3"/>
<text x="247.1" y="863.5" font-size="12.3" font-weight="bold" font-style="normal" text-anchor="start" fill="#111" font-family="Liberation Sans" stroke="#111" stroke-width="0.2" textLength="206.4" lengthAdjust="spacingAndGlyphs" >Simulated differentiation terminal points</text>
<text x="63.9" y="890.8" font-size="13.7" font-style="italic" font-family="Liberation Sans" fill="#111">Ddx43<tspan font-size="8.5" dy="-5" font-style="normal">+/+</tspan></text>
<text x="270.5" y="890.1" font-size="13.7" font-style="italic" font-family="Liberation Sans" fill="#111">Ddx43<tspan font-size="8.5" dy="-5" font-style="normal">KI/KI</tspan></text>
<text x="444.3" y="889.3" font-size="13.7" font-style="italic" font-family="Liberation Sans" fill="#111">Ddx43<tspan font-size="8.5" dy="-5" font-style="normal">-/-</tspan></text>
<path d="M139.7 873.2C141.1 872.0 151.0 870.5 156.1 870.1C161.2 869.8 166.3 869.7 170.4 871.1C174.5 872.5 178.4 875.6 180.6 878.3C182.8 881.0 183.6 884.3 183.6 887.5C183.6 890.7 182.1 894.6 180.6 897.7C179.1 900.8 176.1 903.2 174.4 905.9C172.7 908.6 171.8 911.6 170.4 914.0C169.1 916.4 167.3 920.5 166.3 920.2C165.3 919.9 164.5 915.4 164.2 912.0C163.8 908.6 164.9 903.8 164.2 899.7C163.5 895.6 162.8 891.2 160.1 887.5C157.4 883.8 151.3 879.7 147.9 877.3C144.5 874.9 138.3 874.4 139.7 873.2Z" fill="#eed443" fill-opacity="0.7"/>
<path transform="scale(.5)" d="M341 1742h0m-2 1h0m-6-1h0m-4 1h0m-1-1h0m-12 0h0m-14 1h0m-13 3h0m1 4h0m1-6h0m2 7h0m1-3h0m0 0h0m2-1h0m3 4h0m0 0h0m0 0h0m0-7h0m1 2h0m3 0h0m1 2h0m0-4h0m1 7h0m1-5h0m1 4h0m2-3h0m2-2h0m4 2h0m2 2h0m2-4h0m2 5h0m0-6h0m1 7h0m0-2h0m3 1h0m4-6h0m1 4h0m1 2h0m2-5h0m0 4h0m0-5h0m2 4h0m1 3h0m1-3h0m0-2h0m3 2h0m2 0h0m2 1h0m0 2h0m1-2h0m1 0h0m2-1h0m0 3h0m1 0h0m1-2h0m8 8h0m-3-3h0m-1 1h0m-1 0h0m0-1h0m-1 4h0m-2-1h0m-2 0h0m-4 1h0m0-5h0m-2 6h0m-2 0h0m-1-1h0m-1-2h0m-2-1h0m-1 4h0m0-2h0m-1-4h0m-3-1h0m-1 2h0m-8 0h0m0-2h0m-6 0h0m-1 5h0m-1-5h0m0 6h0m-4-5h0m0 3h0m-3 3h0m-1-1h0m-3-2h0m-2 0h0m-2-2h0m9 8h0m2 1h0m1 2h0m0 0h0m3-2h0m0-1h0m2 5h0m2-6h0m7-1h0m0 0h0m0 4h0m3 3h0m0-7h0m1 6h0m1 0h0m0 0h0m1 0h0m0-2h0m3-2h0m2 0h0m4 4h0m0-3h0m3-2h0m4 6h0m0-4h0m0-3h0m8 4h0m2 0h0m0-3h0m2 1h0m2 0h0m1 3h0m1 10h0m0-7h0m-1 7h0m-2-2h0m-2 1h0m-3-3h0m-2-1h0m-3 5h0m0-6h0m-4 4h0m-1-4h0m0 2h0m0 1h0m-1-2h0m-3 3h0m-2 2h0m-4-6h0m-2 4h0m-2 1h0m0-4h0m-8 4h0m-1-3h0m0-3h0m-3 3h0m-1-1h0m4 7h0m2 3h0m10-3h0m1 0h0m4 1h0m3 3h0m1-4h0m1 2h0m2 0h0m2 4h0m0-6h0m1 4h0m0-3h0m0 4h0m0-5h0m0 4h0m3-2h0m1-1h0m4-1h0m1 2h0m6 5h0m-1 3h0m0-1h0m-1-2h0m-1 0h0m-1 7h0m-2-4h0m-4 1h0m-2-3h0m-1-1h0m-2 2h0m-3 0h0m-3 1h0m-1 2h0m0 1h0m-1 1h0m-2-1h0m0 0h0m-1-4h0m-3 5h0m0 0h0m-4-5h0m-1 2h0m0-4h0m-1 2h0m-1 5h0m-3-7h0m-1 1h0m3 8h0m2 6h0m0-4h0m3 0h0m4-2h0m0 3h0m5-3h0m2 0h0m0 5h0m2-6h0m2 1h0m3-1h0m1 1h0m2 3h0m1-4h0m0 1h0m3 5h0m1-4h0m-10 7h0m0-1h0m-3 3h0m-1 3h0m-1-1h0m-2 1h0m-1-5h0m-1 1h0m-2-1h0m0 1h0m-2-1h0m-2 2h0m0 3h0m0 0h0m-5 4h0m3 5h0m0-4h0m3 4h0m0 0h0m2-7h0m1 5h0m1-5h0m1 7h0m2-1h0m1 0h0m1 0h0m1-4h0m3 2h0m-4 7h0m-2-2h0m-1 5h0m-4-3h0m-2-3h0m0 1h0m-3 1h0m0-1h0m0 6h0m2 7h0m1 0h0m1-2h0m1-4h0m1 3h0m2 2h0m1-1h0m0-3h0m-5 7h0m0 1h0m-2-1h0m-1 1h0" stroke="#eed443" stroke-width="2.4" stroke-linecap="round" stroke-opacity="1"/>
<path d="M146.0 871.5C148.0 870.8 157.5 869.5 162.0 869.5C166.5 869.5 170.0 870.3 173.0 871.5C176.0 872.7 178.4 874.7 180.0 876.5C181.6 878.3 182.8 881.9 182.5 882.5C182.2 883.1 180.1 881.0 178.0 880.0C175.9 879.0 173.0 877.4 170.0 876.5C167.0 875.6 163.3 875.0 160.0 874.5C156.7 874.0 152.3 874.0 150.0 873.5C147.7 873.0 144.0 872.2 146.0 871.5Z" fill="#3b2b68" fill-opacity="0.7"/>
<path transform="scale(.5)" d="M344 1743h0m-6-1h0m-1 0h0m-5 0h0m0-1h0m0 1h0m-2 1h0m0 0h0m-1-2h0m-3-1h0m0-1h0m-3 4h0m0 0h0m0-3h0m-1 0h0m0 1h0m-1 0h0m-1-1h0m0 2h0m0-2h0m0 2h0m0 1h0m0-2h0m-1-1h0m-4 3h0m0-3h0m-5 3h0m0-1h0m-6 0h0m-5 1h0m-1 0h0m-1 0h0m0 0h0m0 2h0m3 1h0m1-2h0m1 2h0m0-1h0m1 0h0m1-1h0m0 2h0m2 1h0m3 0h0m2 0h0m1 1h0m0-1h0m1 1h0m1-2h0m1 0h0m1 2h0m1-3h0m0 1h0m1 0h0m1 1h0m1 1h0m1-2h0m2 0h0m0 0h0m1 2h0m1-2h0m0 3h0m1-4h0m0 0h0m3 5h0m0-6h0m1 3h0m1 3h0m1-3h0m0-3h0m0 1h0m1 2h0m0 1h0m0 2h0m0-2h0m1-3h0m0 1h0m1 4h0m1-1h0m0 1h0m1-2h0m0 0h0m0 3h0m0-2h0m1 0h0m1 1h0m0-2h0m0 0h0m0-1h0m1 3h0m0 0h0m0-6h0m0 4h0m1-4h0m0 3h0m1 2h0m0 1h0m0-3h0m1-2h0m0 0h0m1 0h0m0 3h0m0-4h0m1 2h0m0-2h0m0 5h0m1-2h0m1 1h0m0-4h0m1 7h0m1-4h0m1 2h0m1 1h0m0 0h0m0 1h0m1 0h0m1-2h0m3 2h0m0 0h0m1 0h0m5 7h0m-1 1h0m0-2h0m-1-3h0m-1 3h0m-1 2h0m0-5h0m0 2h0m-1 2h0m0-1h0m0-1h0m-1 1h0m-1-5h0m-1 1h0m0 5h0m-2-6h0m-1 4h0m0 0h0m0-1h0m0-2h0m-3 3h0m-1 0h0m-1-2h0m0 0h0m0-1h0m0-1h0m-10 0h0m22 9h0m4 1h0m1-1h0m0 1h0" stroke="#3b2b68" stroke-width="2.4" stroke-linecap="round" stroke-opacity="1"/>
<path d="M170.0 878.0C171.2 877.5 175.8 878.8 178.0 880.0C180.2 881.2 182.1 883.5 183.0 885.0C183.9 886.5 184.3 888.5 183.5 889.0C182.7 889.5 180.1 889.0 178.0 888.0C175.9 887.0 172.3 884.7 171.0 883.0C169.7 881.3 168.8 878.5 170.0 878.0Z" fill="#2e7f8a" fill-opacity="0.45"/>
<path transform="scale(.5)" d="M350 1758h0m-6 2h0m1 7h0m1 0h0m1-6h0m1 4h0m1-2h0m0-1h0m1-1h0m0 2h0m0-1h0m1 5h0m1-2h0m0-2h0m1-3h0m1 3h0m3 0h0m0 3h0m2 0h0m1-1h0m2 5h0m-1 1h0m-1 0h0m-3 3h0m0-4h0m0-1h0m-1 5h0m0-6h0m-1 2h0m0 3h0m-1-4h0m-1 2h0m0-3h0m-1 0h0m-2 0h0m0 2h0m-1 1h0m10 5h0m0 0h0m5 0h0m1 0h0m0 0h0m0 1h0m1 0h0m0 0h0" stroke="#2e7f8a" stroke-width="2.4" stroke-linecap="round" stroke-opacity="1"/>
<path d="M170.0 885.0C170.3 884.5 175.8 888.0 178.0 889.0C180.2 890.0 183.8 890.5 183.5 891.0C183.2 891.5 178.2 893.0 176.0 892.0C173.8 891.0 169.7 885.5 170.0 885.0Z" fill="#6cbc5e" fill-opacity="0.4"/>
<path transform="scale(.5)" d="M345 1776h0m2 1h0m0 0h0m1 1h0m1 0h0m1 0h0m0-2h0m3 6h0m0-1h0m2-2h0m0-1h0m0 5h0m0-4h0m1-1h0m0 3h0m2 1h0m0-2h0m1-1h0m1 4h0m3-1h0" stroke="#6cbc5e" stroke-width="2.4" stroke-linecap="round" stroke-opacity="1"/>
<path d="M141.0 873.0C141.5 872.3 146.5 870.8 148.0 871.0C149.5 871.2 150.5 873.3 150.0 874.0C149.5 874.7 146.5 875.2 145.0 875.0C143.5 874.8 140.5 873.7 141.0 873.0Z" fill="#2e7f8a" fill-opacity="0.4"/>
<path transform="scale(.5)" d="M285 1746h0m5-2h0m0 2h0m0 3h0m2 0h0m2-3h0m0 3h0m1-4h0m2 3h0m2-1h0m1 1h0m0 0h0" stroke="#2e7f8a" stroke-width="2.4" stroke-linecap="round" stroke-opacity="1"/>
<path transform="scale(.5)" d="M325 1844h0m2 2h0m0 1h0m0 0h0m1-2h0m1-1h0m-5 8h0m-4-4h0m-1 1h0m-6 4h0m-8 10h0m3 0h0m1-3h0m2 2h0m1-2h0m0 1h0m0-1h0m2 1h0m1-4h0m0 0h0m1 5h0m1-6h0m-7 8h0m-1 0h0m-4 2h0m0-1h0m-1 5h0m-3 0h0m-1 1h0m-3-4h0m-3 1h0m2 8h0m2 1h0m1-2h0m3-1h0m-14 10h0m0 0h0m-2-4h0m-8 9h0m4-1h0" stroke="#eed443" stroke-width="2.4" stroke-linecap="round" stroke-opacity="1"/>
<path transform="scale(.5)" d="M146 1889h0m0 0h0m1 1h0m0 0h0m1 0h0m0 1h0m1-3h0m1 1h0m1 2h0m1 0h0m0 0h0m1 1h0m1 1h0m1 2h0m4-3h0m2 3h0m13 8h0m-2 0h0m-1-3h0m-1 2h0m0-2h0m-2-3h0m-2 0h0m-1 3h0m0-3h0m-1 2h0m-1-1h0m0 1h0m-1-1h0m0 0h0m0-1h0m0-1h0m-1 1h0m0 0h0m-1 0h0m-1 0h0m14 8h0m2 0h0m0 0h0m1 1h0m1-2h0m2 4h0m2-1h0m0 2h0m2 0h0" stroke="#eed443" stroke-width="2.4" stroke-linecap="round" stroke-opacity="1"/>
<path d="M74.2 967.7C74.2 965.1 73.3 961.9 75.2 960.5C77.1 959.1 82.0 960.0 85.4 959.5C88.8 959.0 92.8 957.5 95.7 957.5C98.6 957.5 101.8 956.4 102.8 959.5C103.8 962.6 103.0 972.1 101.8 975.9C100.6 979.6 96.7 980.5 95.7 982.0C94.7 983.5 96.6 984.5 95.7 985.0C94.8 985.5 91.7 986.4 90.5 985.0C89.3 983.6 90.4 977.7 88.5 976.9C86.6 976.1 81.5 980.2 79.3 980.0C77.1 979.8 76.0 977.9 75.2 975.9C74.4 973.9 74.2 970.3 74.2 967.7Z" fill="#eed443" fill-opacity="0.5"/>
<path transform="scale(.5)" d="M194 1919h0m-1-2h0m-8 2h0m-34 7h0m0 1h0m5-6h0m3 5h0m9-5h0m3 2h0m1-1h0m1-1h0m3 6h0m2-6h0m2-1h0m5 6h0m5-2h0m1 2h0m2-5h0m1 1h0m5 4h0m1-4h0m2 1h0m1 2h0m1-4h0m0 13h0m-1-4h0m-2 3h0m0-2h0m-3-2h0m-2 2h0m0-3h0m-2 5h0m-2-3h0m-1 2h0m0 0h0m0 0h0m-1 0h0m-1-2h0m-1-1h0m-2 3h0m-2 3h0m-3-5h0m-2 5h0m-2-2h0m-2 0h0m-1-2h0m-1 2h0m0 1h0m-3-2h0m-4 0h0m0-2h0m0 1h0m-2 1h0m-2-3h0m0-1h0m-2 0h0m0 4h0m0 0h0m0 0h0m-1-1h0m-1 0h0m-3-1h0m0 1h0m-6 3h0m0 0h0m7 2h0m1 3h0m0 4h0m2-5h0m1-1h0m4 1h0m1-1h0m0 5h0m3-2h0m4-4h0m1 3h0m0-3h0m2 1h0m1-1h0m1 5h0m5-1h0m1 1h0m5 1h0m3-3h0m2 4h0m1-1h0m1-3h0m2-3h0m3 2h0m2 4h0m2-5h0m-5 8h0m0 1h0m-1 5h0m0-6h0m-2 4h0m-2-2h0m-1 3h0m0-3h0m-4-2h0m0 5h0m-1-4h0m-1-2h0m-1 2h0m-2-1h0m0 4h0m-2-3h0m-2 4h0m-3-1h0m0-3h0m-1 5h0m-1-4h0m-1 2h0m-3 0h0m-2 2h0m-2-5h0m0 5h0m-1-3h0m-1 2h0m-1-6h0m-1 1h0m-1 5h0m0-3h0m-3-3h0m-2 2h0m0 1h0m-1 4h0m-1-1h0m-2-6h0m-1 7h0m-1 1h0m2 2h0m5 1h0m0 4h0m7-2h0m3-3h0m0 1h0m1 0h0m2-3h0m8 3h0m4-3h0m3 0h0m1 2h0m2 4h0m2-6h0m7 2h0m1 0h0m0-2h0m-5 8h0m-2 0h0m-1 1h0m-2 2h0m0-3h0m0 5h0m-2 0h0m-2-5h0m-5 0h0m0 0h0m6 9h0m1 1h0" stroke="#eed443" stroke-width="2.4" stroke-linecap="round" stroke-opacity="1"/>
<path d="M101.8 959.5C103.5 956.6 109.9 959.2 114.0 958.5C118.1 957.8 122.5 956.1 126.3 955.4C130.1 954.7 133.1 955.4 136.5 954.4C139.9 953.4 142.9 949.6 146.7 949.3C150.4 949.0 154.9 952.2 159.0 952.4C163.1 952.6 167.2 951.0 171.3 950.3C175.4 949.6 179.8 948.3 183.5 948.3C187.2 948.3 191.2 948.8 193.8 950.3C196.4 951.8 198.1 954.3 198.9 957.5C199.8 960.7 199.8 966.0 198.9 969.7C198.1 973.5 196.4 976.9 193.8 980.0C191.2 983.1 187.2 986.2 183.5 988.1C179.8 990.0 175.4 990.9 171.3 991.2C167.2 991.6 162.4 991.4 159.0 990.2C155.6 989.0 153.5 986.0 150.8 984.0C148.1 982.0 145.8 978.4 142.7 977.9C139.6 977.4 135.5 979.3 132.4 981.0C129.3 982.7 127.4 986.6 124.3 988.1C121.2 989.6 116.7 990.5 114.0 990.2C111.3 989.9 109.6 988.5 107.9 986.1C106.2 983.7 104.8 980.3 103.8 975.9C102.8 971.5 100.1 962.4 101.8 959.5Z" fill="#eed443" fill-opacity="0.78"/>
<path transform="scale(.5)" d="M387 1901h0m-4 1h0m-1-2h0m-1 3h0m-1-3h0m-3 1h0m-1 0h0m-3 2h0m-4-4h0m-3 3h0m0-5h0m-2 6h0m-3-1h0m0 0h0m-2 0h0m-1 0h0m0-4h0m0 0h0m-3 2h0m-1 2h0m-1-3h0m0 4h0m-2 0h0m-1-2h0m-2 0h0m-2-1h0m-8 3h0m-44-1h0m-33 8h0m2 1h0m2 0h0m4-1h0m2 0h0m4 0h0m0 1h0m2-4h0m9 1h0m1 1h0m0-2h0m2-2h0m0-1h0m2 0h0m1 5h0m2 1h0m2-3h0m3 3h0m0-6h0m2 1h0m1 6h0m2-1h0m1-5h0m0 6h0m0-5h0m2 0h0m1-2h0m4 4h0m3-2h0m2 3h0m2 2h0m3-1h0m1-1h0m1-4h0m5 3h0m6 3h0m0-2h0m2 0h0m1-3h0m0-1h0m1 1h0m1-2h0m1 4h0m1-2h0m3 3h0m2 0h0m0 1h0m2-6h0m4 7h0m2-4h0m3 3h0m2-4h0m0 4h0m1-4h0m0 4h0m1 1h0m2-7h0m4 4h0m0 3h0m2-4h0m2 1h0m2-3h0m0 1h0m6 1h0m2-3h0m1 6h0m1-6h0m3 3h0m1-1h0m2 4h0m0-5h0m3 3h0m0 0h0m0 1h0m4 5h0m0 5h0m-1-3h0m0-3h0m-1 5h0m-1 1h0m0-3h0m-1 1h0m-1-3h0m-2 5h0m-6-5h0m-2-2h0m-1 0h0m-1 2h0m-5 0h0m-2 4h0m-1-4h0m0 4h0m0-6h0m0 6h0m-4-4h0m0-2h0m-4 4h0m0 2h0m-3-6h0m-4 5h0m0-3h0m-1 5h0m-3-4h0m-1 4h0m-1-5h0m-1-2h0m0 2h0m-1 1h0m0-2h0m-1 0h0m-1-1h0m0 3h0m-1-2h0m-1 2h0m-1-3h0m-1 5h0m-2-5h0m0 3h0m-1-1h0m0-2h0m-2 6h0m0-2h0m-2-1h0m-1 2h0m-3-4h0m-1-1h0m0 2h0m-1 0h0m-1 2h0m0-2h0m-9 0h0m-2 0h0m0 5h0m-6-5h0m-1-2h0m-10 6h0m0-3h0m-1 4h0m-6-4h0m-1-3h0m-3 0h0m0 4h0m-2-1h0m0 1h0m0-4h0m-8 3h0m-2-1h0m0 1h0m-2-1h0m0 3h0m-2 2h0m-1-1h0m-2 1h0m-3-1h0m-1-4h0m-1 3h0m0 1h0m-2-4h0m-4-2h0m-2 4h0m0-1h0m-1 3h0m0-6h0m-1 5h0m0 2h0m-1 0h0m-1-3h0m-1-3h0m0 0h0m-5 2h0m0 2h0m-1 2h0m0-1h0m0-4h0m-1 4h0m-1 0h0m-2-3h0m-1 1h0m-1 3h0m-1 0h0m0-5h0m-2 5h0m-14 0h0m-5 0h0m-4 0h0m-11 4h0m0-2h0m2 0h0m0 3h0m1 2h0m0-1h0m7 2h0m5-6h0m1 6h0m1-6h0m1 4h0m2-1h0m1-2h0m3 3h0m1 1h0m1-1h0m1-3h0m1 5h0m1-5h0m0-1h0m2 1h0m2 4h0m2-3h0m1 4h0m6-1h0m2-2h0m3 0h0m0-2h0m2 4h0m9-6h0m1 1h0m1 4h0m0-5h0m1 4h0m1 2h0m1-2h0m2 0h0m0-2h0m0-2h0m5 3h0m0 3h0m2-6h0m2 6h0m2 0h0m0-6h0m0 0h0m2 5h0m3 0h0m1-1h0m0-3h0m0 6h0m2 0h0m0-3h0m1 1h0m1-3h0m6 0h0m3-1h0m0 2h0m0 0h0m4 2h0m2-5h0m2 4h0m4 3h0m0 0h0m0-4h0m2 0h0m1 2h0m3 2h0m2-2h0m2-2h0m1-2h0m2 3h0m2 1h0m1 2h0m0-7h0m0 3h0m1-1h0m0 2h0m2 1h0m2-4h0m2 2h0m0 4h0m5-7h0m0 4h0m2 3h0m0-3h0m0 0h0m1 0h0m3 0h0m4 1h0m1-5h0m7 4h0m3 0h0m1 1h0m0-4h0m1 6h0m3-3h0m5-3h0m2 0h0m0 4h0m0 1h0m2 1h0m2-2h0m0-4h0m2-1h0m2 3h0m0 2h0m2 0h0m2 0h0m3 0h0m0-1h0m0-2h0m1 0h0m2-1h0m4 2h0m0 7h0m-2-2h0m0 0h0m0 4h0m-1 2h0m0-2h0m-1-2h0m-2 2h0m0 3h0m-2-6h0m0 3h0m-1-4h0m-1 6h0m0-4h0m0 5h0m-1-2h0m0-4h0m0 0h0m-1 6h0m0-2h0m-1-2h0m0 3h0m-1 0h0m-4-2h0m-2 1h0m0-1h0m-3-4h0m-1 0h0m-2 7h0m-2-1h0m-5-2h0m-7 1h0m-1 2h0m0-5h0m-1-2h0m-2 7h0m-1-3h0m0 3h0m-1 0h0m-10-7h0m-3 4h0m-1-2h0m-2 3h0m-2 0h0m-1-1h0m0-4h0m-1 5h0m-1-4h0m0 3h0m-2 0h0m-3 1h0m-1 1h0m-3-3h0m-1 0h0m0-1h0m-1 0h0m-4 3h0m0-2h0m0-1h0m-5 4h0m0-3h0m-1-1h0m-2-2h0m-1 1h0m-2 3h0m-4 1h0m-3-5h0m0 2h0m-2-1h0m-2 3h0m-3 3h0m-1-5h0m-1-1h0m-2 6h0m-1-2h0m-4-1h0m-2 3h0m-8-4h0m-2 4h0m0-5h0m-5 5h0m0-4h0m-1 1h0m-1 2h0m-2-3h0m-1 0h0m0 2h0m-1-4h0m-3 3h0m-2-4h0m-3 2h0m-3 1h0m-1-2h0m-2 6h0m0-1h0m-1 0h0m-1 0h0m-1-1h0m-1-1h0m-3-3h0m-1 3h0m0 2h0m-1 0h0m-2-1h0m0-5h0m-2 5h0m-1 1h0m-4-1h0m0 0h0m-3 1h0m-4-6h0m0 7h0m0-4h0m-1 3h0m-2-4h0m-4 1h0m-1-1h0m0 3h0m-2 1h0m7 7h0m2-3h0m0 4h0m1-6h0m2 3h0m2-3h0m0 1h0m2 4h0m2-4h0m1-1h0m2 3h0m3-1h0m1-2h0m3 4h0m2 1h0m7 1h0m3-3h0m0 3h0m2-4h0m2 3h0m1-1h0m0 3h0m1-2h0m1 2h0m4-7h0m1 1h0m2 0h0m1 3h0m2-2h0m1 5h0m3 0h0m2-5h0m0 1h0m2 4h0m0-7h0m1 7h0m3-1h0m2-6h0m0 5h0m1-2h0m1 4h0m2-6h0m0 6h0m0-4h0m1 2h0m2-5h0m3 1h0m6-1h0m1 7h0m1-4h0m1 2h0m2 1h0m2-2h0m0-4h0m1 0h0m2 6h0m5-3h0m1-2h0m6 1h0m3 0h0m1 4h0m2-5h0m3 6h0m2-7h0m1 2h0m1-1h0m1 6h0m1-3h0m3-3h0m1-1h0m1 1h0m0 4h0m1-3h0m0 3h0m2 1h0m1-2h0m1-2h0m0 1h0m2-2h0m0-1h0m2 0h0m0 2h0m0 1h0m7 4h0m4-2h0m1 1h0m1-1h0m1-5h0m0 3h0m0 4h0m1-1h0m4-5h0m1 1h0m0 2h0m1-4h0m1 0h0m1 3h0m1 4h0m2-1h0m0 0h0m1 0h0m3-1h0m0-1h0m1-4h0m4 3h0m0 2h0m1 1h0m0-5h0m2 5h0m0-6h0m2 1h0m1 3h0m2-3h0m0 3h0m1 2h0m0-6h0m1 7h0m0-6h0m2 3h0m2 0h0m1 3h0m1-3h0m-2 4h0m0 1h0m-1 4h0m0-4h0m-1-1h0m-2 4h0m-1-1h0m0 1h0m-2 3h0m-4-3h0m-3 2h0m-5-1h0m0 2h0m0-5h0m-1 0h0m0 0h0m0-2h0m-2 3h0m-1 4h0m-2-2h0m0 2h0m-2-5h0m0-1h0m-9 2h0m-2-3h0m-1 1h0m-3 0h0m-4 1h0m-2 5h0m-4-3h0m-2 1h0m-2-3h0m-2 2h0m-1 0h0m0 1h0m-1 2h0m-1 0h0m0-3h0m-1 1h0m0-4h0m0 2h0m-1 0h0m-2 4h0m-2-3h0m0 2h0m-1-4h0m-2 3h0m0-2h0m-4 2h0m-3-5h0m-4 1h0m-4 6h0m-5-3h0m0 0h0m-4-2h0m-2 5h0m-1-4h0m-2 0h0m0 1h0m-2 0h0m-1-4h0m0 1h0m-2 4h0m-2-2h0m-3-2h0m0 4h0m-1-5h0m-1 5h0m-1-4h0m-3 2h0m-1 2h0m-2 0h0m-4-1h0m0 0h0m-2 2h0m-3-3h0m-5-3h0m0 6h0m-3-1h0m-1 0h0m-3-1h0m-2 1h0m0 0h0m-5-2h0m0-1h0m-1-2h0m0 4h0m-2-1h0m0 4h0m-1-5h0m0 4h0m-3-2h0m-1-3h0m-3 6h0m-1-2h0m0 0h0m-3-2h0m-1 1h0m-1 1h0m-1-3h0m-1-2h0m0 7h0m0-1h0m0-4h0m-3-1h0m-1 2h0m-2 2h0m0-4h0m-2 4h0m0-5h0m-7 6h0m-1 1h0m0-4h0m-1-1h0m-2 3h0m-1 1h0m0-5h0m0 6h0m3 5h0m1-3h0m1-1h0m4 7h0m0-3h0m3 1h0m0 2h0m1-5h0m1 5h0m0-7h0m2 3h0m1 1h0m1 0h0m0 0h0m1 2h0m2 1h0m0-1h0m6 1h0m0-3h0m3 0h0m1-4h0m1 4h0m2-4h0m2 1h0m1-1h0m5 4h0m2-1h0m3 1h0m1-2h0m0 1h0m0 4h0m1-3h0m3-3h0m2 5h0m4-5h0m0 4h0m1-2h0m1 4h0m2-5h0m1-2h0m3 2h0m0 5h0m1-2h0m1-3h0m1 0h0m0 1h0m1 1h0m2-1h0m0 1h0m1-2h0m2-1h0m3 3h0m1-1h0m2 2h0m2-5h0m1 0h0m1 6h0m0 0h0m2 1h0m1-3h0m0 1h0m1-2h0m0 3h0m0-4h0m5 5h0m1-1h0m1-2h0m9 0h0m1 1h0m1 2h0m3-3h0m0 3h0m4-2h0m0-5h0m2 3h0m2 1h0m4-1h0m0-3h0m1 3h0m3-2h0m1-1h0m1 7h0m1-6h0m0 1h0m0 1h0m0 1h0m1-3h0m1 0h0m0 3h0m1-3h0m1 3h0m3-1h0m1 0h0m0-2h0m2 1h0m1-2h0m3 0h0m1 1h0m1 1h0m0 5h0m4-3h0m2-2h0m1-2h0m0 1h0m2 4h0m1-4h0m0 1h0m0-2h0m0 1h0m1 3h0m0 3h0m0-6h0m0 5h0m1-5h0m1 1h0m2 1h0m0-3h0m1 7h0m1-2h0m0 2h0m0-1h0m2-1h0m0 2h0m4-3h0m1-2h0m1 2h0m0-1h0m5 0h0m0 2h0m0 2h0m1-6h0m3 0h0m0 2h0m0 2h0m4-5h0m-7 10h0m-2 1h0m-1 1h0m-2 0h0m0 2h0m0-1h0m-5 2h0m-4-3h0m-5 0h0m-1 3h0m0-4h0m-1 2h0m-1-3h0m0 3h0m-1-2h0m-2 4h0m-1-1h0m-1-3h0m0-2h0m-2 6h0m-3-1h0m-9-3h0m-2 2h0m0 1h0m0-5h0m-6 5h0m0-3h0m0-3h0m-1 7h0m-2-1h0m0-6h0m-2 4h0m-1 1h0m-1-3h0m-2 5h0m-3-1h0m-6 1h0m0-4h0m-3-1h0m-6 0h0m-2-2h0m-2 6h0m-1-1h0m-1 0h0m0-3h0m0-2h0m-1 1h0m0 6h0m-1-4h0m-7-3h0m-26 0h0m-4 2h0m-2 3h0m0-4h0m-1 3h0m-1 0h0m0-1h0m-3 0h0m-1 0h0m-1 2h0m-1 2h0m-1-5h0m-2 3h0m-11-4h0m-1 5h0m0 1h0m-1-2h0m-2-4h0m-2 3h0m0-1h0m0 2h0m-3-4h0m-2 2h0m-1 3h0m-3-2h0m-1-4h0m-2 1h0m0 3h0m-1 1h0m-1-3h0m0 3h0m-1-1h0m0-4h0m-2 6h0m-2 0h0m6 6h0m1 2h0m1 1h0m1 0h0m1-3h0m1-3h0m2 6h0m0 0h0m8-2h0m1 0h0m4-4h0m0 2h0m2 3h0m1 1h0m3-2h0m0-2h0m5 3h0m1-1h0m1-2h0m51-3h0m6 5h0m1 0h0m1 2h0m1-6h0m3 6h0m3-4h0m1-2h0m1 1h0m2-2h0m0 4h0m0-1h0m1-3h0m1 0h0m3 3h0m0 2h0m1 2h0m3-6h0m1 4h0m1 2h0m1 0h0m1-1h0m0 0h0m1-1h0m1-2h0m1-3h0m0 1h0m0 4h0m6 2h0m0-7h0m1 1h0m2 6h0m4 0h0m2-2h0m3 1h0m1-4h0m2 0h0m1 3h0m0-3h0m0-2h0m0 5h0m0-4h0m2 1h0m2 4h0m1 1h0m3-2h0m-7 4h0m-1-1h0m-1 0h0m-2 1h0m-4 1h0m-1 2h0m-1-1h0m-4 2h0m-2-1h0m0-4h0m-2 1h0m-1 1h0m-2-2h0m-3 5h0m-2-4h0m-3 1h0m-5 1h0m0 0h0m-2 0h0m0 1h0m-1-3h0m-5-1h0m-78 0h0m-3 1h0m0-1h0m-2 1h0m-6 2h0m-4 0h0" stroke="#eed443" stroke-width="2.4" stroke-linecap="round" stroke-opacity="1"/>
<path transform="scale(.5)" d="M354 1780h0m1 19h0m65 23h0m-45 61h0m32 10h0" stroke="#eed443" stroke-width="2.8" stroke-linecap="round" stroke-opacity="1"/>
<defs><linearGradient id="gh204" x1="0" y1="0" x2="0" y2="1"><stop offset="0" stop-color="#3d2a70"/><stop offset="0.45" stop-color="#2e7b8c"/><stop offset="0.75" stop-color="#4fb86c"/><stop offset="1" stop-color="#f2e23a"/></linearGradient></defs>
<rect x="204.5" y="958.5" width="5.2" height="39.4" fill="url(#gh204)"/>
<path d="M203.7 958.5h-1.5v39.4h1.5" stroke="#888" stroke-width="0.6" fill="none"/>
<text x="211.7" y="963.0" font-size="12.5" font-weight="bold" font-style="normal" text-anchor="start" fill="#111" font-family="Liberation Sans" stroke="#111" stroke-width="0.2" textLength="6.3" lengthAdjust="spacingAndGlyphs" >1</text>
<text x="211.7" y="997.4" font-size="12.5" font-weight="bold" font-style="normal" text-anchor="start" fill="#111" font-family="Liberation Sans" stroke="#111" stroke-width="0.2" textLength="6.3" lengthAdjust="spacingAndGlyphs" >0</text>
<path d="M341.5 872.3C342.8 871.2 350.6 869.5 355.0 869.5C359.4 869.5 365.4 870.5 368.1 872.3C370.8 874.1 372.1 879.3 371.2 880.4C370.3 881.5 365.6 879.3 363.0 879.0C360.4 878.7 358.5 878.9 355.8 878.4C353.1 877.9 349.4 877.0 347.0 876.0C344.6 875.0 340.2 873.4 341.5 872.3Z" fill="#3b2b68" fill-opacity="0.7"/>
<path transform="scale(.5)" d="M724 1742h0m-6-1h0m0 0h0m-1 0h0m-1 2h0m0-2h0m-2 0h0m-3 1h0m0 1h0m0-1h0m-1-3h0m-2 3h0m-1-1h0m-1 0h0m-4 1h0m-2-1h0m-3 2h0m0 0h0m-13 1h0m5 0h0m4 4h0m0-2h0m1 2h0m1 2h0m0 0h0m1-2h0m1-1h0m2-1h0m0 2h0m2-2h0m2 3h0m1-5h0m0 2h0m0 1h0m2-3h0m0 7h0m1 0h0m0-3h0m0-2h0m1 3h0m1-2h0m0-2h0m1 2h0m1 4h0m2-7h0m2 1h0m0 3h0m5-3h0m0 3h0m1-1h0m1 1h0m1-2h0m0 0h0m1 3h0m1-5h0m0 4h0m2-4h0m0 1h0m1 2h0m1-2h0m1 5h0m1-3h0m1 4h0m0-4h0m2 4h0m2 0h0m1-5h0m1 4h0m3 7h0m-2 1h0m-2-3h0m-1 0h0m-1-2h0m-1 3h0m-1 1h0m0-5h0m0 2h0m-1 4h0m-1 0h0m-2-2h0m-1-2h0m-1-2h0m-1 0h0m0 1h0m0-1h0m-1 1h0m-5 4h0m0-1h0m0-2h0m0 2h0m-1 1h0m-3-1h0m-1 1h0m0-2h0m-1-2h0m-1 1h0m0 0h0m0 1h0m-5-1h0m0-1h0m0 0h0m0 0h0m-1 1h0m-1 0h0m-1 0h0m-1 1h0m-3-2h0m-1-1h0m0 1h0m41 7h0" stroke="#3b2b68" stroke-width="2.4" stroke-linecap="round" stroke-opacity="1"/>
<path d="M362.0 877.0C363.9 876.7 368.5 878.8 371.2 880.4C373.9 882.0 378.5 885.8 378.3 886.6C378.1 887.4 373.1 885.8 370.0 885.0C366.9 884.2 361.3 883.3 360.0 882.0C358.7 880.7 360.1 877.3 362.0 877.0Z" fill="#2e7f8a" fill-opacity="0.55"/>
<path transform="scale(.5)" d="M734 1759h0m-2 0h0m-3-3h0m0 1h0m0-1h0m-4 3h0m0-4h0m0 3h0m-1 1h0m0-1h0m0 6h0m3-4h0m2 1h0m1 6h0m0-2h0m0-4h0m2 5h0m1-3h0m1 1h0m4-4h0m0 5h0m0 2h0m0-2h0m1 1h0m0-2h0m0-2h0m2 0h0m2 4h0m1-2h0m2 1h0m2 2h0m0 0h0m7 6h0m-3-2h0m-4-3h0m-1 2h0m0-1h0m-2-1h0m-3 1h0m-6 0h0" stroke="#2e7f8a" stroke-width="2.4" stroke-linecap="round" stroke-opacity="1"/>
<path d="M353.8 880.4C355.0 879.9 357.9 881.0 362.0 882.0C366.1 883.0 376.0 885.1 378.3 886.6C380.6 888.1 379.1 890.3 376.0 890.7C372.9 891.1 363.5 890.0 360.0 889.0C356.5 888.0 356.0 886.4 355.0 885.0C354.0 883.6 352.6 880.9 353.8 880.4Z" fill="#eed443" fill-opacity="0.25"/>
<path transform="scale(.5)" d="M709 1763h0m1 1h0m0-2h0m0 3h0m0-3h0m1 5h0m2-5h0m3 1h0m2 2h0m2-1h0m0 1h0m1 0h0m0 1h0m3-1h0m1 1h0m2 1h0m4 0h0m2 0h0m21 6h0m0 1h0m-5 0h0m-4-3h0m-4-2h0m0 0h0m-5 6h0m-2-2h0m-1-3h0m-2-2h0m-1 6h0m0 1h0m-2-3h0m-3 3h0m0-5h0m0-1h0m-1 5h0m-1 1h0m-3-3h0m-1-4h0m-2 0h0m-1 5h0m-1-4h0m0 4h0m-2-2h0m0-2h0m6 8h0m6 0h0m2 2h0m4-3h0m1 3h0m3-2h0m1 2h0m3-2h0m4 3h0m3-1h0m1-2h0m1-1h0m1 2h0m2-1h0m1 0h0m0 3h0" stroke="#eed443" stroke-width="2.4" stroke-linecap="round" stroke-opacity="1"/>
<path d="M360.0 895.8C361.0 893.6 367.1 894.5 370.0 895.0C372.9 895.5 377.0 896.0 377.3 899.0C377.6 902.0 374.2 911.6 372.0 913.1C369.8 914.6 366.0 910.9 364.0 908.0C362.0 905.1 359.0 898.0 360.0 895.8Z" fill="#eed443" fill-opacity="0.2"/>
<path transform="scale(.5)" d="M734 1791h0m-12 5h0m3-2h0m0 0h0m2 4h0m2 0h0m1 0h0m1 0h0m0-1h0m1-2h0m0 4h0m0-2h0m2-2h0m0-2h0m3 0h0m1 5h0m5-5h0m4 6h0m5-1h0m1 1h0m-1 4h0m-1 4h0m-5-2h0m-9-5h0m-4 3h0m-1 1h0m-1-4h0m-6 5h0m2 7h0m0-1h0m2 3h0m0-1h0m1 2h0m1-7h0m0 3h0m5 1h0m1-2h0m2 2h0m5-2h0m3 1h0m0 3h0m2-5h0m-2 7h0m-2 2h0m-1 2h0m-1-3h0m-1 4h0m-3-4h0m0-1h0m-1 6h0m-1-5h0m-7-1h0m0 0h0m0 0h0m14 9h0" stroke="#eed443" stroke-width="2.4" stroke-linecap="round" stroke-opacity="1"/>
<path transform="scale(.5)" d="M713 1855h0m-8 8h0m2-1h0m1 1h0m3-2h0m2-4h0m-6 8h0m0 1h0m-7 1h0m-1 3h0m-1 0h0m0-2h0m-1 2h0m-3 1h0m-8 6h0m2 2h0m0-1h0m2 0h0m1 1h0m5-6h0m-9 8h0m-3 0h0m0-1h0m0 0h0m-1 1h0m-2 4h0m-1-2h0m-7 7h0m1-2h0m1 4h0m1-2h0m1 0h0m0-1h0m3 1h0m0-2h0" stroke="#eed443" stroke-width="2.4" stroke-linecap="round" stroke-opacity="1"/>
<path transform="scale(.5)" d="M554 1894h0m9 1h0m4 3h0m-1 1h0m-1-1h0m0 0h0m0 0h0m-2 0h0m-1 1h0m-4-3h0" stroke="#eed443" stroke-width="2.4" stroke-linecap="round" stroke-opacity="1"/>
<path transform="scale(.5)" d="M579 1924h0m2 3h0m13-1h0m-4 7h0m-17 0h0m-8 0h0m0-2h0m-11 6h0m19-1h0m10 5h0m5-3h0m-1 8h0m-14 1h0m-2-3h0m-9 4h0m0 1h0m-6-5h0m0 7h0m-3 3h0m4 1h0m17 0h0m19 9h0m-11 2h0m-16 1h0m19 2h0" stroke="#eed443" stroke-width="2.4" stroke-linecap="round" stroke-opacity="1"/>
<defs><linearGradient id="vh2" gradientUnits="userSpaceOnUse" x1="362" y1="0" x2="396" y2="0"><stop offset="0" stop-color="#eed443"/><stop offset="0.45" stop-color="#b8d848"/><stop offset="0.7" stop-color="#4fae72"/><stop offset="0.88" stop-color="#2e7f8a"/><stop offset="1" stop-color="#3b2b68"/></linearGradient></defs>
<path d="M302.7 964.2C305.4 961.5 313.2 960.1 319.0 958.1C324.8 956.1 331.3 953.4 337.4 952.0C343.5 950.6 350.0 950.4 355.8 949.9C361.6 949.4 367.4 949.1 372.2 948.9C377.0 948.7 380.8 947.9 384.4 948.9C388.0 949.9 391.9 952.1 393.6 955.0C395.3 957.9 395.2 962.4 394.7 966.3C394.2 970.2 392.7 975.1 390.6 978.5C388.6 981.9 385.5 984.7 382.4 986.7C379.3 988.8 375.9 990.1 372.2 990.8C368.4 991.5 364.7 991.1 359.9 990.8C355.1 990.5 348.4 988.8 343.6 988.8C338.8 988.8 336.1 990.3 331.3 990.8C326.5 991.3 318.9 992.8 315.0 991.8C311.1 990.8 309.9 987.6 307.8 984.7C305.8 981.8 303.6 977.8 302.7 974.4C301.8 971.0 300.0 966.9 302.7 964.2Z" fill="url(#vh2)" fill-opacity="0.8"/>
<path transform="scale(.5)" d="M737 1902h0m-5 0h0m-3-2h0m-2 1h0m-4 2h0m-14-2h0m-3 2h0m-7 0h0m-2 0h0m-6-1h0m-31 7h0m1 2h0m3-1h0m3-1h0m0 2h0m10-2h0m0-1h0m2-1h0m1 2h0m1-3h0m1 1h0m0-3h0m4 2h0m0 5h0m1-1h0m8 0h0m2-6h0m0 7h0m3-5h0m1-1h0m1 5h0m7 1h0m0-3h0m4-2h0m2 4h0m0-5h0m5-1h0m0 4h0m1-1h0m6 2h0m4 0h0m1 0h0m3-5h0m1 1h0m1 1h0m2-2h0m2 10h0m-4 0h0m-2 1h0m-1 0h0m-1 4h0m-1-3h0m-5-3h0m-1 1h0m-5 1h0m-2 4h0m-2-3h0m-5-4h0m-1 5h0m-1-4h0m-3 4h0m-3-1h0m-7-1h0m-2-3h0m-5 4h0m-1-3h0m-3 6h0m-2 0h0m-2-4h0m-1 0h0m-1 2h0m-9-3h0m0-2h0m-3 0h0m0 0h0m-2 5h0m0-5h0m-2 6h0m-3-2h0m-2-2h0m-1 4h0m0 0h0m-2-5h0m-2-1h0m-2 6h0m-2-5h0m-1 0h0m-2 1h0m-6 5h0m0-2h0m-27 9h0m2-1h0m8 1h0m5-5h0m4 1h0m0-1h0m0 4h0m4-4h0m2 3h0m2 2h0m1-3h0m0 2h0m6-1h0m1-2h0m0 5h0m7 0h0m2-3h0m2-1h0m1 4h0m0 0h0m2-7h0m2 3h0m1-1h0m5 3h0m2 1h0m3-4h0m1 3h0m1 2h0m0-1h0m1-2h0m1-4h0m0 5h0m1-2h0m7 1h0m4-1h0m1 1h0m1 2h0m4-4h0m9 2h0m3-4h0m2 6h0m1-6h0m3 2h0m0 4h0m1 0h0m3-1h0m0 2h0m1-2h0m0 2h0m3-4h0m1 0h0m1 0h0m0 4h0m2-1h0m0 1h0m1-1h0m0 0h0m2-1h0m1-2h0m1 4h0m0-4h0m0 2h0m5-1h0m1 0h0m4 3h0m0-7h0m4 2h0m2 2h0m-5 9h0m-3 2h0m-8-7h0m-2 3h0m-6-1h0m0-2h0m-3 7h0m-2-5h0m-1 1h0m-5 4h0m-3-6h0m-6 3h0m-1 3h0m-2-4h0m0 1h0m0 1h0m-1 2h0m-3-4h0m-1-1h0m0-1h0m-3 3h0m-2 0h0m-1 2h0m-2 1h0m-1-5h0m-1 5h0m-6-1h0m-2-5h0m0 2h0m-1 0h0m-1-2h0m-2 4h0m-4 0h0m-4-1h0m-1-4h0m-4 3h0m-4 3h0m-1-5h0m0 0h0m-2 5h0m0-6h0m-1 4h0m-2 1h0m-1-2h0m-3 0h0m-1-1h0m0-1h0m-5 2h0m-6 1h0m-3 1h0m-1 2h0m0-2h0m-1-1h0m-1-4h0m-3 5h0m-2-2h0m-2 0h0m-6 4h0m-1-6h0m0 1h0m-7-1h0m-1 0h0m-2 2h0m0 5h0m0 6h0m2-4h0m2 0h0m1-2h0m3 6h0m0-4h0m2-1h0m1-1h0m3 4h0m3-3h0m0-1h0m1 7h0m3-7h0m2 2h0m0 3h0m4-3h0m1 4h0m0 1h0m5-3h0m0-2h0m1 3h0m0-3h0m2 0h0m0 4h0m0-4h0m9-1h0m1 1h0m0 0h0m3 5h0m2-6h0m1 0h0m3 4h0m1 1h0m0-5h0m5-1h0m1 2h0m5 2h0m2-4h0m0 6h0m5-6h0m1 1h0m1 4h0m0 0h0m2 2h0m1-1h0m2-5h0m1 1h0m1 2h0m0-1h0m2 2h0m0 0h0m0-2h0m3-2h0m1 0h0m3 1h0m4 3h0m0-4h0m0 1h0m4 4h0m2 0h0m2-6h0m1 5h0m1-1h0m8 2h0m1-3h0m2 4h0m5-5h0m5 5h0m0-5h0m2 5h0m7-4h0m6 4h0m-6 3h0m0 2h0m-4 3h0m-5-6h0m-2 0h0m-1 5h0m-2-5h0m0-1h0m-3 7h0m-2-7h0m-4 3h0m-1 2h0m-6 1h0m-4-1h0m0-5h0m-4 4h0m-2 0h0m-4 0h0m-8-3h0m-3 3h0m0-1h0m-1 1h0m-2 0h0m0 0h0m-2 0h0m-11 3h0m-1-1h0m-9 1h0m0-7h0m-1 2h0m-2 0h0m-1 1h0m-2 0h0m0-2h0m-2-1h0m-1 0h0m-1 6h0m0-2h0m-1 0h0m-2-3h0m-1 1h0m-1-2h0m-5 1h0m-1 4h0m-1 1h0m-6-4h0m-1 5h0m-4-2h0m-2 0h0m-5-2h0m-1 4h0m-1-1h0m0 1h0m-2-6h0m-2 6h0m-1 0h0m-1-6h0m-1 5h0m-1 1h0m-3-4h0m0-2h0m0 1h0m0 0h0m-1 4h0m-1-5h0m3 11h0m0-1h0m4 4h0m2-6h0m0 5h0m3-5h0m0 0h0m1 6h0m0-1h0m4 0h0m7 0h0m0-6h0m0 7h0m1-5h0m1 4h0m0 0h0m3-5h0m4 5h0m1-5h0m1 3h0m3 3h0m1 0h0m0-6h0m1 2h0m2-3h0m1 2h0m0 2h0m2-2h0m1 3h0m1-4h0m1-1h0m1 6h0m4-2h0m1 0h0m1-1h0m0-3h0m9 0h0m2 7h0m1-7h0m9 4h0m1-1h0m1-2h0m4 2h0m0-2h0m2-1h0m10 1h0m3 6h0m2-5h0m0 2h0m1-4h0m2 2h0m1-1h0m5 6h0m0 0h0m2-4h0m2 2h0m3 2h0m2-2h0m3 2h0m2-4h0m1 3h0m1-4h0m1 3h0m5 2h0m4-7h0m1 2h0m4 7h0m-5 6h0m-1-5h0m-1 2h0m-3 1h0m-1-5h0m0 6h0m-5-4h0m-1-1h0m-5-1h0m-2 0h0m0 6h0m0-4h0m-1 1h0m-2 4h0m0 0h0m-2-7h0m0 4h0m0-3h0m-5 4h0m0-2h0m0 0h0m-2-2h0m0 2h0m0 3h0m-1-4h0m-8 1h0m0-1h0m-1-2h0m-4 5h0m-1 1h0m-1-6h0m0 7h0m-2-5h0m0 3h0m0-4h0m-5 0h0m-1 6h0m0-2h0m-18 1h0m-3 0h0m0 1h0m0-3h0m-1-2h0m0-1h0m0 2h0m-2 3h0m-3 1h0m0-5h0m-1 5h0m0-4h0m0 4h0m-1 0h0m-1 0h0m-5-7h0m0 2h0m-2 0h0m0 3h0m-10 2h0m-5-6h0m0 1h0m-1 0h0m0 5h0m-1 0h0m-3-3h0m-5-1h0m-2-1h0m-4 2h0m-3-1h0m5 9h0m0 0h0m2 1h0m5-2h0m5 1h0m0 2h0m1-3h0m2-1h0m0 3h0m1 0h0m3-4h0m0 1h0m1-2h0m1 2h0m1-2h0m2 5h0m6 1h0m0 0h0m1-4h0m5 5h0m3-4h0m1 2h0m1 2h0m1-6h0m1 1h0m7 0h0m1 5h0m0-7h0m3 4h0m1 2h0m1-2h0m0-3h0m0 1h0m3 0h0m4 3h0m9-5h0m1 4h0m1-3h0m2 4h0m1 0h0m4 1h0m7-6h0m5 6h0m2-1h0m1 2h0m3-7h0m2 6h0m1 0h0m2-5h0m0 0h0m6 2h0m1 1h0m1 2h0m2 1h0m0-5h0m3 4h0m4 1h0m6 6h0m-1-4h0m-4 1h0m-6 2h0m-4-1h0m-7 1h0m-11-1h0m-13-1h0m-1 1h0m-3-3h0m-2 2h0m-8 0h0m-2-1h0m-4 0h0m-3-1h0m-8 4h0m-7-1h0m-1 0h0m0-2h0m-6 2h0m0 1h0m0-4h0m-3 2h0m-1 1h0m-1 1h0m-1-4h0m-6 1h0m0-1h0m-4 7h0m-8 0h0m-2-5h0m-3-2h0" stroke="#eed443" stroke-width="2.4" stroke-linecap="round" stroke-opacity="1"/>
<path transform="scale(.5)" d="M756 1898h0m-2 5h0m-16-4h0m-2 0h0m0 2h0m0-1h0m-3 1h0m-4-2h0m-1 1h0m-14 0h0m-15 2h0m-18 7h0m6-5h0m8 2h0m7 0h0m1 4h0m0 1h0m11-4h0m1-2h0m12 5h0m2-3h0m10-2h0m11 0h0m2 6h0m10-5h0m-5 7h0m-4 4h0m-5-4h0m-1 1h0m-2 1h0m-2-3h0m-1 6h0m-3-1h0m-4 0h0m-1-3h0m-9-2h0m0 0h0m-14 5h0m-2 1h0m-4-3h0m-2-1h0m-3-2h0m-2 1h0m-8 5h0m-1-2h0m-5-1h0m-3 1h0m-9 0h0m-1 0h0m-3-4h0m-11 3h0m-1 0h0m-8 2h0m-10 0h0m-1 6h0m1-1h0m8 1h0m3 2h0m17 0h0m2-2h0m5 4h0m20-5h0m11 0h0m1 0h0m1 2h0m3 1h0m3-5h0m6 6h0m2 0h0m12-3h0m6 2h0m4 2h0m2-3h0m2-1h0m1 2h0m3-3h0m2 1h0m1 0h0m5 6h0m-2 0h0m-4 2h0m-1 0h0m-6-2h0m-6 0h0m-12 3h0m-6 1h0m-7 0h0m-7-2h0m-20-1h0m-2-1h0m-23 3h0m-18 3h0m-6 0h0m-1 0h0m-8-7h0m-12 1h0m-8 5h0m-2 7h0m18-4h0m2-1h0m5 1h0m6 4h0m2-4h0m1 4h0m30-1h0m1 1h0m4 1h0m5-3h0m26 2h0m0-3h0m0 2h0m1-1h0m4 4h0m6-4h0m1-2h0m3 1h0m16-1h0m3 5h0m9-1h0m5-5h0m4 2h0m1 6h0m0 4h0m-8 2h0m-10-3h0m-3 0h0m-1-2h0m-4 2h0m-1 3h0m-6-6h0m-1 6h0m0-3h0m-7-2h0m-1 0h0m-20 0h0m0 5h0m-18-3h0m0 2h0m-8-4h0m-2 2h0m-6 0h0m-4-3h0m-26 6h0m0-2h0m-3 0h0m-6-1h0m-1 11h0m2 0h0m1-1h0m12 1h0m3 0h0m26 1h0m3 0h0m5-1h0m0-1h0m21-5h0m10 7h0m28-2h0m2 0h0m10-4h0m2 6h0m2-2h0m2-5h0m0 3h0m-3 8h0m-41 3h0m-2-6h0m-4 1h0m-21 3h0m-4-3h0m-8 1h0m-25 3h0m-2-5h0m-5 3h0m-10 0h0m-5-3h0m-5 0h0m10 9h0m24 2h0m7-2h0m13 1h0m5-2h0m3 7h0m19-1h0m6-6h0m9 1h0m13 4h0m15 1h0m1-1h0m3-1h0m1 1h0m2 1h0m1-2h0m0 3h0m6-4h0m0 4h0m1-7h0m1 3h0m0 2h0m2 0h0m-6 3h0m-8 4h0m-3-4h0m-10 2h0m-1 1h0m-3-3h0m-2 0h0m-2 5h0m-3-1h0m-6 1h0m-4-3h0m-35 0h0m-26 0h0m-14-1h0m0 4h0m-4-3h0" stroke="#c1d747" stroke-width="2.4" stroke-linecap="round" stroke-opacity="1"/>
<path transform="scale(.5)" d="M766 1901h0m-2 2h0m0-5h0m-1 1h0m-4 0h0m-6 2h0m-3-1h0m-5-2h0m1 8h0m0 4h0m6 0h0m4-5h0m8 0h0m4 5h0m-4 8h0m0-2h0m-7 1h0m-3-4h0m-4 4h0m-5-4h0m-14 4h0m-11 2h0m-81-2h0m102 3h0m7 4h0m4 0h0m1-1h0m2 4h0m2-7h0m2 6h0m5 0h0m4-1h0m2-5h0m-2 8h0m-1 1h0m-3-1h0m0 3h0m-7 3h0m-1-6h0m-2 5h0m0 2h0m-5-7h0m-5 3h0m-101 0h0m-11 6h0m53 3h0m71-3h0m8 13h0m-2-1h0m-2-3h0m-5-1h0m0 5h0m-5-2h0m0-2h0m-3 5h0m-76-7h0m65 12h0m8 3h0m10-5h0m0-2h0m1 0h0m7 3h0m1 2h0m-5 9h0m-1-3h0m-9-3h0m0 6h0m-8 1h0m0-7h0m-14 6h0m-1-6h0m-50 5h0m-10-4h0m87 13h0m5 1h0m1-1h0m2-1h0m-53 3h0" stroke="#85c957" stroke-width="2.4" stroke-linecap="round" stroke-opacity="1"/>
<path transform="scale(.5)" d="M771 1903h0m-1 0h0m-24 8h0m14 0h0m7-3h0m0-3h0m2-1h0m-1 14h0m0-3h0m-3-2h0m7 13h0m0 8h0m-1 0h0m-3-5h0m-3 2h0m7 11h0m3 9h0m-1-7h0m-1 1h0m-4 0h0m0 2h0m-3 0h0m-1-3h0m0 6h0m-2-5h0m-1 1h0m-8 5h0m3 1h0m3 4h0m5 2h0m0 1h0m1-5h0m7 6h0m-7 4h0m-6 3h0m-3 4h0m9 0h0m0-2h0" stroke="#4eb472" stroke-width="2.4" stroke-linecap="round" stroke-opacity="1"/>
<path transform="scale(.5)" d="M767 1903h0m-1-4h0m-3 10h0m8-2h0m3-1h0m2 0h0m2 3h0m0 3h0m-6 4h0m0-2h0m-1 2h0m0 8h0m5 3h0m2-6h0m4 8h0m-1 1h0m-2-1h0m-4 3h0m-5-4h0m4 11h0m0 0h0m1 0h0m4 3h0m-11 11h0m0 5h0m2 0h0m9 1h0m0-6h0m-6 12h0m-2 1h0m0-1h0" stroke="#2f9488" stroke-width="2.4" stroke-linecap="round" stroke-opacity="1"/>
<path transform="scale(.5)" d="M768 1910h0m20 9h0m-1-1h0m-1-2h0m-3-2h0m0 1h0m-1-1h0m-2 3h0m-1-3h0m-1 1h0m-2 2h0m-4 5h0m6 2h0m2 1h0m4 1h0m0-1h0m1 10h0m-3-3h0m-7 3h0m-2-5h0m-13 8h0m9-1h0m6 0h0m3 3h0m1 1h0m0 1h0m2 1h0m5-7h0m-2 13h0m-1-2h0m-1 0h0m-1-2h0m-8 5h0m-3-2h0m7 8h0m-4 6h0" stroke="#366589" stroke-width="2.4" stroke-linecap="round" stroke-opacity="1"/>
<path transform="scale(.5)" d="M784 1909h0m2 1h0m1 5h0m-1 0h0m-1-3h0m-2 7h0m-3 7h0m4-1h0m-3 6h0m-7-2h0m5 8h0m1 0h0m4 3h0m0-1h0m2 4h0m1-7h0m-3 8h0m-3 12h0" stroke="#3b2b68" stroke-width="2.4" stroke-linecap="round" stroke-opacity="1"/>
<path transform="scale(.5)" d="M899 1837h0m-25 2h0m15 3h0m9 4h0m-26 9h0m-10 4h0m28 3h0m-10 2h0" stroke="#eed443" stroke-width="2.4" stroke-linecap="round" stroke-opacity="1"/>
<defs><linearGradient id="gh400" x1="0" y1="0" x2="0" y2="1"><stop offset="0" stop-color="#3d2a70"/><stop offset="0.45" stop-color="#2e7b8c"/><stop offset="0.75" stop-color="#4fb86c"/><stop offset="1" stop-color="#f2e23a"/></linearGradient></defs>
<rect x="400.6" y="958.5" width="5.2" height="40.8" fill="url(#gh400)"/>
<path d="M399.8 958.5h-1.5v40.8h1.5" stroke="#888" stroke-width="0.6" fill="none"/>
<text x="407.8" y="963.0" font-size="12.5" font-weight="bold" font-style="normal" text-anchor="start" fill="#111" font-family="Liberation Sans" stroke="#111" stroke-width="0.2" textLength="6.3" lengthAdjust="spacingAndGlyphs" >1</text>
<text x="407.8" y="998.8" font-size="12.5" font-weight="bold" font-style="normal" text-anchor="start" fill="#111" font-family="Liberation Sans" stroke="#111" stroke-width="0.2" textLength="6.3" lengthAdjust="spacingAndGlyphs" >0</text>
<path d="M543.6 874.3C544.6 873.4 551.4 871.0 555.8 871.2C560.2 871.4 566.0 873.2 570.1 875.3C574.2 877.3 580.0 882.1 580.4 883.5C580.8 884.9 575.6 884.0 572.2 883.5C568.8 883.0 563.6 881.6 559.9 880.4C556.1 879.2 552.4 877.4 549.7 876.4C547.0 875.4 542.6 875.2 543.6 874.3Z" fill="#3b2b68" fill-opacity="0.55"/>
<path transform="scale(.5)" d="M1112 1743h0m0 0h0m-17 7h0m0-2h0m1-1h0m3 0h0m0-1h0m2 3h0m1 1h0m0-4h0m0 4h0m1-3h0m2 3h0m0-2h0m1 1h0m0-2h0m0 1h0m0-2h0m1-1h0m0 6h0m1-5h0m0-2h0m2 3h0m0-1h0m0-2h0m0 1h0m1 3h0m0 2h0m0-5h0m0 1h0m2 3h0m2 1h0m0-2h0m1-2h0m2 5h0m1-2h0m2-1h0m0-1h0m2 1h0m0 3h0m1 0h0m0-1h0m2-1h0m1 2h0m2-3h0m0 0h0m1 0h0m1 1h0m2 0h0m1 1h0m4 1h0m1 0h0m11 8h0m-4-1h0m-1-3h0m-1 1h0m0 1h0m0-1h0m-1 2h0m0-2h0m0-1h0m-1 3h0m0 0h0m-1-6h0m-1 2h0m0-1h0m-1 0h0m-1 3h0m0 1h0m0 2h0m0-3h0m0 2h0m-1-6h0m0 4h0m-2-2h0m-2 3h0m0 1h0m0-3h0m-1 4h0m-1-5h0m0 4h0m-2-6h0m0 5h0m0 0h0m-1-1h0m-3 3h0m-1-4h0m-3 3h0m0-1h0m0 0h0m-1-4h0m0 6h0m-1-1h0m0-2h0m-1 2h0m0-6h0m-1 5h0m0 0h0m-1-3h0m0-1h0m0 4h0m-2-4h0m-2 0h0m0 2h0m-1-2h0m0-1h0m-1 4h0m0-3h0m-1-1h0m0 3h0m-1 1h0m-1-3h0m-1 2h0m0 0h0m0 0h0m-1-3h0m-1 2h0m-1-2h0m0 1h0m-1 1h0m-1-1h0m0-1h0m-1 0h0m20 9h0m4-1h0m0 0h0m1 1h0m1-1h0m1 2h0m1 0h0m0-2h0m2 0h0m1 1h0m1-1h0m1 4h0m4-3h0m0 0h0m0 0h0m2 1h0m0 0h0m0-1h0m1 1h0m0 4h0m1-3h0m0 1h0m1-3h0m0 0h0m1-1h0m0 1h0m0 1h0m0-1h0m1-1h0m2 3h0m0-2h0m0-1h0m0 7h0m0-6h0m0-1h0m1 1h0m0 4h0m0 0h0m2 1h0m0 1h0m1-2h0m0 1h0m1-6h0m3 2h0m0 4h0m1-1h0m0-3h0" stroke="#3b2b68" stroke-width="2.4" stroke-linecap="round" stroke-opacity="1"/>
<path transform="scale(.5)" d="M1101 1761h0m16 5h0m-3 7h0m-6-3h0m-8 10h0m2 1h0m8-1h0m13 7h0m-11 1h0m9 8h0m7-3h0m5 8h0m-24-1h0m10 9h0" stroke="#eed443" stroke-width="2.4" stroke-linecap="round" stroke-opacity="1"/>
<path d="M568.1 892.7C570.1 891.9 576.9 895.8 578.3 897.8C579.7 899.8 578.0 902.5 576.3 905.0C574.6 907.5 570.0 912.1 568.1 913.1C566.2 914.1 565.3 912.8 565.0 911.1C564.7 909.4 565.6 906.0 566.1 902.9C566.6 899.8 566.1 893.6 568.1 892.7Z" fill="#2e7f8a" fill-opacity="0.6"/>
<path transform="scale(.5)" d="M1143 1791h0m-2-1h0m-1-1h0m-1 2h0m0 0h0m-2-1h0m0-4h0m-3 12h0m1 1h0m1-2h0m1-4h0m1 0h0m2 5h0m1 1h0m0-1h0m1-2h0m1 2h0m0-4h0m0 0h0m1 2h0m1-3h0m4 5h0m0 0h0m1-4h0m1 2h0m1 2h0m2-1h0m1-1h0m0 2h0m-5 8h0m-2-1h0m-1-5h0m-1 7h0m-2-4h0m-4 4h0m-2-6h0m0 4h0m-1-1h0m0 1h0m-1-2h0m-2 4h0m0-5h0m0 2h0m-1 2h0m0 1h0m0 3h0m2-2h0m3 4h0m0-1h0m4-1h0m1-2h0m2 4h0m4-3h0m-8 10h0m0 0h0m-3 1h0m-4 3h0m0-6h0m-2 6h0m5 2h0" stroke="#2e7f8a" stroke-width="2.4" stroke-linecap="round" stroke-opacity="1"/>
<path d="M566.0 903.0C567.8 901.8 575.6 902.3 576.0 904.0C576.4 905.7 569.9 911.9 568.1 913.1C566.3 914.3 565.4 912.8 565.0 911.1C564.6 909.4 564.2 904.2 566.0 903.0Z" fill="#6cbc5e" fill-opacity="0.5"/>
<path transform="scale(.5)" d="M1133 1808h0m0 2h0m1 4h0m2 1h0m2-7h0m0 7h0m1-7h0m1 5h0m0-4h0m3 3h0m1 2h0m2-5h0m0 3h0m-4 5h0m-1-1h0m-1 1h0m-1 2h0m-1-2h0m0 5h0m-1-6h0m-3 7h0m0-2h0m-3 0h0m0-1h0m4 5h0" stroke="#6cbc5e" stroke-width="2.4" stroke-linecap="round" stroke-opacity="1"/>
<path d="M480.2 944.8L491.5 950" stroke="#2e8a8a" stroke-width="1.6" stroke-linecap="round"/>
<path d="M481.2 956L495.5 960.1L490.4 966.3L482.3 968.3L479 972L481 978.5" stroke="#5db86a" stroke-width="2" fill="none" stroke-linecap="round" stroke-linejoin="round"/>
<path transform="scale(.5)" d="M961 1889h0m0 2h0m0-1h0m3 0h0m1 4h0m1-4h0m1 2h0m1 1h0m0 1h0m3-1h0m1 2h0m1 0h0m3 0h0m5 5h0m-1-2h0m-1 0h0m-3-1h0m-1 1h0m-2-1h0m-4-1h0" stroke="#2e7f8a" stroke-width="2.4" stroke-linecap="round" stroke-opacity="1"/>
<path transform="scale(.5)" d="M989 1917h0m-5 1h0m-1 0h0m-5 1h0m-1-4h0m0 1h0m-1-1h0m-3-1h0m-2 1h0m-1 0h0m-1 0h0m0 1h0m-1-2h0m-1-2h0m0 0h0m0 0h0m-1 0h0m-1 3h0m-1-3h0m22 8h0" stroke="#3ba67e" stroke-width="2.4" stroke-linecap="round" stroke-opacity="1"/>
<path transform="scale(.5)" d="M983 1924h0m0 1h0m1-1h0m2-1h0m1 2h0m4-5h0m-11 8h0m-3 5h0m-1-1h0m-1-4h0m0 2h0m-1 2h0m0-2h0m-5 4h0m-2 0h0m0-1h0m-1 4h0m4 0h0" stroke="#6cbc5e" stroke-width="2.4" stroke-linecap="round" stroke-opacity="1"/>
<path transform="scale(.5)" d="M962 1935h0m1 8h0m3-3h0m-3 9h0m-1-1h0m-3 1h0m-2 7h0m0 0h0m1-4h0m1 3h0m1-2h0m1 3h0m0 0h0m-1 4h0" stroke="#a8d34a" stroke-width="2.4" stroke-linecap="round" stroke-opacity="1"/>
<path d="M493.5 974.5C494.4 973.7 498.9 974.6 499.6 976.0C500.4 977.4 498.9 981.8 498.0 982.6C497.1 983.4 494.8 982.4 494.0 981.0C493.2 979.6 492.6 975.3 493.5 974.5Z" fill="#eed443" fill-opacity="0.4"/>
<path transform="scale(.5)" d="M988 1950h0m0 2h0m0 6h0m2-3h0m0 2h0m0 2h0m1-3h0m1 0h0m2-3h0m2-1h0m3 1h0m0 0h0m-6 8h0m-2 0h0m-1-1h0" stroke="#eed443" stroke-width="2.4" stroke-linecap="round" stroke-opacity="1"/>
<path transform="scale(.5)" d="M1112 1858h0m1 1h0m1 3h0m-5 6h0m0 1h0m-2 5h0m4 0h0m-7 10h0" stroke="#eed443" stroke-width="2.4" stroke-linecap="round" stroke-opacity="1"/>
<defs><linearGradient id="vh3" gradientUnits="userSpaceOnUse" x1="548" y1="0" x2="597" y2="0"><stop offset="0" stop-color="#eed443"/><stop offset="0.45" stop-color="#b8d848"/><stop offset="0.7" stop-color="#4fae72"/><stop offset="0.88" stop-color="#2e7f8a"/><stop offset="1" stop-color="#3b2b68"/></linearGradient></defs>
<path d="M505.8 960.1C508.5 958.1 516.8 955.7 523.1 954.0C529.4 952.3 536.4 950.6 543.6 949.9C550.8 949.2 560.0 950.2 566.1 949.9C572.2 949.6 576.1 947.5 580.4 947.9C584.6 948.2 589.2 950.0 591.6 952.0C594.0 954.0 594.4 957.0 594.7 960.1C595.0 963.2 595.0 967.0 593.6 970.4C592.2 973.8 589.7 977.5 586.5 980.6C583.3 983.7 579.0 987.1 574.2 988.8C569.4 990.5 564.0 990.8 557.9 990.8C551.8 990.8 543.2 988.8 537.4 988.8C531.6 988.8 527.2 991.0 523.1 990.8C519.0 990.6 515.3 990.1 512.9 987.7C510.5 985.3 509.8 980.1 508.8 976.5C507.8 972.9 507.3 969.0 506.8 966.3C506.3 963.6 503.1 962.1 505.8 960.1Z" fill="url(#vh3)" fill-opacity="0.7"/>
<path transform="scale(.5)" d="M1123 1902h0m-6-1h0m-4 2h0m-3-2h0m-4 1h0m-3-1h0m-1 0h0m-5 2h0m-2-3h0m0 2h0m0 1h0m-18 0h0m-7 0h0m-24 5h0m2 3h0m2 0h0m9-5h0m5 3h0m2 2h0m2-7h0m1 4h0m0 0h0m1 2h0m1-3h0m6-2h0m3-1h0m4 5h0m0 0h0m2-2h0m1-3h0m1 2h0m5 1h0m1-2h0m1 5h0m2-5h0m0 6h0m4-2h0m0 1h0m3-6h0m1 0h0m1 0h0m11 3h0m1-3h0m6 1h0m0 2h0m1 1h0m1-3h0m3 5h0m3 9h0m-4-2h0m0-3h0m-3-1h0m-1 6h0m-4-2h0m-3 0h0m-4 0h0m-1-3h0m-1 3h0m-1-1h0m0-3h0m-3 0h0m0 3h0m-6-2h0m-5 0h0m-2 3h0m0-5h0m-4 2h0m-2 3h0m-1 2h0m-5-6h0m-4 0h0m0 0h0m-2 1h0m-2 5h0m0-1h0m-2-4h0m-2 5h0m-1 0h0m0-5h0m-1 0h0m0-2h0m0 5h0m-3 0h0m-3-4h0m-4 6h0m-5-2h0m-1 0h0m-1-1h0m0 0h0m-3-2h0m-1 1h0m-1-3h0m-6 4h0m-4 1h0m-7 0h0m-4 2h0m-8 0h0m-2 3h0m0 2h0m2 1h0m0-3h0m1-2h0m1 4h0m1 0h0m0-1h0m2 0h0m0-2h0m0-1h0m1 1h0m1 0h0m3 5h0m0-1h0m2 1h0m0 0h0m4-4h0m3 2h0m0-3h0m1 6h0m2-1h0m1 0h0m3-5h0m1-1h0m4 3h0m2-1h0m2 2h0m5 0h0m0-3h0m1-1h0m0 0h0m2 7h0m3-2h0m2-5h0m1 6h0m2-4h0m1 5h0m6-6h0m3 1h0m2 3h0m0 1h0m1-2h0m4-4h0m6 1h0m2 0h0m3 0h0m0 0h0m1 1h0m3 2h0m1 1h0m4-3h0m10 5h0m3-2h0m2-3h0m6-2h0m3 5h0m2 2h0m1 0h0m-3 4h0m0 2h0m-3-2h0m-3-3h0m-1 5h0m-1-3h0m-4-2h0m0 5h0m0-4h0m-3 4h0m-1-3h0m-1-1h0m-4 0h0m-2 6h0m0-5h0m0 1h0m0-2h0m-6 1h0m-2-1h0m-10-1h0m-3 6h0m-4 0h0m0 1h0m-2-4h0m-4-3h0m-1 0h0m-1 5h0m-1-1h0m0 3h0m-1-3h0m-1 0h0m0-3h0m-2 4h0m-2-5h0m-8 3h0m-6-2h0m-3 6h0m-1-7h0m0 6h0m-4-4h0m-1 5h0m-2-2h0m-1-5h0m-2 1h0m-1 0h0m-3 4h0m-1-1h0m-2-2h0m-1 0h0m0 5h0m0-1h0m-11-2h0m0 2h0m-1 0h0m-4 0h0m3 7h0m3 0h0m1 2h0m2 0h0m3-6h0m2 3h0m0-1h0m1 0h0m5-1h0m4 3h0m4 1h0m3 1h0m0-6h0m1 2h0m2 3h0m7-6h0m2 2h0m0 0h0m8 3h0m3 1h0m4-4h0m5 4h0m3 0h0m1 0h0m2 0h0m3-1h0m2-3h0m2 0h0m1 2h0m0-4h0m2 5h0m1-2h0m5-2h0m1 4h0m0-1h0m3 2h0m6-6h0m1 5h0m7 0h0m1-2h0m1-1h0m7 4h0m5-5h0m2 0h0m18-1h0m2 5h0m-9 7h0m-3 1h0m-15 2h0m-1 0h0m-3 0h0m-1 0h0m-2-5h0m-4 3h0m-5-4h0m-4 1h0m0 2h0m-1-1h0m0-2h0m0 6h0m-2 0h0m-2-5h0m-3 3h0m-1-1h0m0-1h0m-2 0h0m-1-1h0m-1 2h0m-1 1h0m-1-2h0m0-1h0m-7 1h0m-3-1h0m0 4h0m0-3h0m-1 4h0m0-4h0m-4 1h0m0 2h0m0-1h0m-2-2h0m-1 4h0m-1-1h0m-1-4h0m0-1h0m0 3h0m-7-1h0m-2 1h0m-2-3h0m-2 0h0m-2 2h0m-1 0h0m0 0h0m-2-2h0m-2 5h0m-1-2h0m0-2h0m-3 0h0m-4 2h0m0 2h0m-1-4h0m-1 5h0m-1-4h0m0-3h0m-1 7h0m-3 0h0m-1-5h0m-1 4h0m-3-4h0m-3 2h0m0-2h0m-1-2h0m-2 2h0m0 0h0m-1 1h0m-3 3h0m0 6h0m5-4h0m4 0h0m1 6h0m1 1h0m0 0h0m3-7h0m0 7h0m5-6h0m1 5h0m0-4h0m2 4h0m0-2h0m1 0h0m1-3h0m0 3h0m1-3h0m0 4h0m2 1h0m2-2h0m2 1h0m0-2h0m0 3h0m2-3h0m0 1h0m2-2h0m1 0h0m1-2h0m0 0h0m2 4h0m4 2h0m6 1h0m2-2h0m1-2h0m1-3h0m1 2h0m4-2h0m0 4h0m2 3h0m0-1h0m4-2h0m3-3h0m1 0h0m10 6h0m1-5h0m0-1h0m3 6h0m1-7h0m0 0h0m0 0h0m7 5h0m1 1h0m1-2h0m3 0h0m0-1h0m1 0h0m0 4h0m2-7h0m1 1h0m2 5h0m6 0h0m1 1h0m0-6h0m0 6h0m1-3h0m2 1h0m6-1h0m3-3h0m7 6h0m1-1h0m-5 9h0m-4-5h0m-7-1h0m-3 0h0m-1 2h0m-1 3h0m0 1h0m-1-6h0m-1 5h0m-1-2h0m-6-3h0m-3 5h0m-1 1h0m-2-2h0m0 0h0m-4-4h0m-1-1h0m-2 3h0m-1 0h0m0 2h0m-1-3h0m-4 0h0m-1 4h0m-2-6h0m-2 0h0m-7 0h0m-1 5h0m-1 0h0m-3-5h0m0 6h0m-3 0h0m0-5h0m0 3h0m-1 1h0m-3-1h0m-1-1h0m0-3h0m-1 0h0m-4 2h0m0 3h0m-3-1h0m-1 3h0m-1-6h0m-8 2h0m0-3h0m-1 6h0m-2-4h0m-2 3h0m-6-4h0m-2 4h0m-3-1h0m-3-4h0m-1 7h0m-5-1h0m-1 0h0m0-3h0m-5-1h0m-1 1h0m-1 2h0m0 1h0m-2-1h0m6 7h0m1-4h0m0 3h0m1-2h0m1 2h0m1 1h0m1-4h0m1 2h0m9 2h0m2-2h0m1 4h0m0 1h0m0-3h0m3 2h0m2-3h0m1 2h0m1-5h0m4 4h0m4-2h0m0 2h0m2 0h0m0-3h0m2-1h0m1 5h0m1 2h0m1-5h0m1 3h0m2-2h0m2-3h0m1 6h0m2-4h0m3 2h0m1-1h0m0 2h0m2 2h0m2-1h0m0 1h0m1-5h0m2 4h0m1-6h0m2 6h0m4-5h0m2 5h0m1-1h0m0-4h0m1 4h0m1-4h0m0 6h0m2-1h0m4-1h0m3 0h0m1 2h0m1-6h0m3 2h0m11 3h0m3-5h0m8 1h0m5-1h0m5 0h0m8 0h0m-10 8h0m-10-1h0m-5 0h0m-1 4h0m-12-1h0m-2 0h0m-2-2h0m-1 1h0m-4-1h0m-2 3h0m-1-1h0m-9-3h0m-3 0h0m-1 2h0m-14-1h0m-5 1h0m-2-2h0m-8 0h0m-4 1h0m-2 2h0m-4-2h0m-1 3h0m0-2h0m-6-2h0m-3 1h0m-1 2h0m-1-1h0" stroke="#eed443" stroke-width="2.4" stroke-linecap="round" stroke-opacity="1"/>
<path transform="scale(.5)" d="M1135 1902h0m-4-1h0m-8 2h0m-4-3h0m-2 0h0m-19 1h0m-59 10h0m10-1h0m6 0h0m10-4h0m18 3h0m6 2h0m11-1h0m2-5h0m16 5h0m4-2h0m4-4h0m3 2h0m2-1h0m7 6h0m2-5h0m9 11h0m-5 0h0m-9-2h0m-2-3h0m-4 5h0m-5-2h0m0 1h0m-7-4h0m0 0h0m-7 7h0m-3-5h0m-2-2h0m-7 3h0m-11-1h0m-1-2h0m-1 6h0m-2 1h0m-3-5h0m-3-2h0m-1 1h0m-1 6h0m-9 0h0m-18-3h0m-2 1h0m-12 0h0m-15 6h0m3-3h0m16 0h0m3 6h0m0 0h0m12-3h0m2-1h0m20 4h0m17-1h0m14 2h0m15 0h0m5-5h0m6-2h0m0 3h0m3 2h0m2-2h0m5-2h0m0 5h0m3 3h0m-2 5h0m-1 0h0m-5-6h0m-5 5h0m-2 0h0m0-2h0m-7 1h0m-2 1h0m-1-4h0m-15 3h0m0 2h0m-10 0h0m-2 1h0m-4-7h0m-5 0h0m-2 2h0m-11 3h0m0 2h0m-16-4h0m-11 0h0m-18 3h0m-1-1h0m-3-3h0m0 1h0m-6 3h0m-1-4h0m4 12h0m1-4h0m0 0h0m3 2h0m11 3h0m5-6h0m8 2h0m2 3h0m5-1h0m7 0h0m4 2h0m0-6h0m4 4h0m1 2h0m0-5h0m1 0h0m5-1h0m10 5h0m2-4h0m15 1h0m1 2h0m8 0h0m2-4h0m18 4h0m2-2h0m0-1h0m2-2h0m3 0h0m3 3h0m1 4h0m3-4h0m0 4h0m2-3h0m1-4h0m6 12h0m-3 2h0m-3-1h0m-4-3h0m-15-2h0m-2 1h0m-5 2h0m-4 0h0m-2 0h0m-4 4h0m-1-1h0m-3-2h0m-4-1h0m-2 0h0m-4 1h0m-3 2h0m-5 0h0m-1-2h0m-4-4h0m-3 5h0m-13-4h0m-5 5h0m-13 0h0m-5-3h0m-2-3h0m-6 5h0m-18-1h0m-2 3h0m2 5h0m16-2h0m5 4h0m7-2h0m21-4h0m1 3h0m1 3h0m1 0h0m1-2h0m5-2h0m0-2h0m0 0h0m8 0h0m1 2h0m7 1h0m2-3h0m10 6h0m1-4h0m17-1h0m6 6h0m14 0h0m9 3h0m0 0h0m-15 3h0m0 1h0m-1-1h0m-2-2h0m-1 1h0m-2-4h0m-1 1h0m-3 3h0m-5-4h0m-3 7h0m-8-4h0m-6 2h0m-24-2h0m-5 1h0m-12 1h0m-10 2h0m-1-1h0m-2 1h0m-1-7h0m-4 7h0m-9-6h0m-10 6h0m-3-4h0m0 7h0m1 2h0m4-3h0m1 5h0m1 1h0m1-7h0m18 5h0m2 2h0m13 0h0m9-5h0m1 5h0m2-5h0m4 5h0m0 0h0m5-5h0m4 4h0m3-1h0m0-2h0m8-3h0m12 2h0m2 0h0m1 4h0m3-5h0m0 2h0m4 0h0m24 0h0m-16 8h0m-8-1h0m-1-1h0m-5 4h0m-2 0h0m-9-4h0m-43 0h0m-6 1h0m-5-2h0" stroke="#c1d747" stroke-width="2.4" stroke-linecap="round" stroke-opacity="1"/>
<path transform="scale(.5)" d="M1147 1898h0m-6 3h0m0 0h0m-3-1h0m-7 1h0m-7 2h0m4 1h0m9 2h0m6 3h0m10 1h0m-3 3h0m-3 5h0m-1-4h0m0 4h0m-8-5h0m-3 4h0m-70 2h0m70 1h0m7 0h0m1 7h0m0 0h0m3-3h0m1-2h0m5-2h0m0 2h0m0-2h0m2 6h0m5-1h0m-2 7h0m-3-4h0m-3 4h0m-1 0h0m0-1h0m-16-3h0m-6 4h0m-9 3h0m-81-3h0m98 10h0m4-3h0m0-3h0m5 5h0m3-3h0m1 3h0m3-1h0m2-1h0m0 0h0m10-2h0m2 0h0m12 11h0m-14 2h0m-5-5h0m-3 3h0m0-3h0m-2 2h0m-3 1h0m-2 3h0m-2-7h0m-6 1h0m0 0h0m-5 5h0m-6-4h0m-1 4h0m-47-5h0m15 9h0m35 2h0m0-4h0m10 1h0m10 4h0m1 0h0m3 1h0m3-1h0m1-1h0m5 1h0m4 2h0m2-4h0m2 6h0m0 0h0m-5 2h0m-14-1h0m-10 0h0m-6 0h0m-1 3h0m-74 8h0m62-1h0m11 3h0m-94 5h0" stroke="#85c957" stroke-width="2.4" stroke-linecap="round" stroke-opacity="1"/>
<path transform="scale(.5)" d="M1162 1899h0m-5 3h0m-3 0h0m-4 1h0m-9 2h0m9 3h0m0 3h0m6-7h0m-9 11h0m0 3h0m-8 2h0m6 0h0m6 6h0m1 0h0m12-2h0m0 0h0m1 3h0m4 0h0m1-5h0m3 4h0m11-4h0m-3 7h0m-13 4h0m-2 1h0m-6-4h0m-2 1h0m-6 12h0m1-6h0m6 0h0m12 2h0m1-2h0m2 6h0m4 7h0m-3 1h0m-2-1h0m-18 1h0m-18-7h0m-7 4h0m24 7h0m18 2h0m-8 7h0m-1 2h0m-14 1h0" stroke="#4eb472" stroke-width="2.4" stroke-linecap="round" stroke-opacity="1"/>
<path transform="scale(.5)" d="M1163 1903h0m-2-5h0m-1 0h0m-2-1h0m-1 1h0m-13 8h0m15 3h0m1-2h0m2-1h0m5 4h0m6-2h0m-4 4h0m-3 2h0m-8 3h0m3 7h0m8 0h0m3 0h0m4 0h0m0 0h0m1 2h0m1-4h0m4 12h0m-13 0h0m-1 0h0m-1 1h0m1 1h0m4 0h0m5 2h0m4 5h0m0-2h0m-1 8h0m-4 0h0m-2-2h0m0 4h0m-3-5h0m-10 6h0m6 5h0m9-2h0m-16 5h0" stroke="#2f9488" stroke-width="2.4" stroke-linecap="round" stroke-opacity="1"/>
<path transform="scale(.5)" d="M1175 1903h0m-1-2h0m-9 0h0m-1 0h0m-1-4h0m-4 4h0m-1 1h0m-2-5h0m-1 10h0m6 1h0m12 0h0m0-2h0m1-2h0m3 5h0m-4 8h0m-3-3h0m-3-2h0m-5 12h0m11-2h0m8 5h0m1-3h0m5 7h0m-5 4h0m-4-4h0m-3 2h0m-8-1h0m6 6h0m5-1h0m1 1h0m1 3h0m2 0h0m2 0h0m1 1h0" stroke="#366589" stroke-width="2.4" stroke-linecap="round" stroke-opacity="1"/>
<path transform="scale(.5)" d="M1173 1903h0m-2-3h0m-2-1h0m1 11h0m8-5h0m2 1h0m1 1h0m2 4h0m5 8h0m-2-2h0m-3 2h0m0-3h0m-2 3h0m-5-6h0m-1 0h0m10 12h0m1 1h0m-4 9h0m-10 0h0m13 5h0" stroke="#3b2b68" stroke-width="2.4" stroke-linecap="round" stroke-opacity="1"/>
<defs><linearGradient id="gh599" x1="0" y1="0" x2="0" y2="1"><stop offset="0" stop-color="#3d2a70"/><stop offset="0.45" stop-color="#2e7b8c"/><stop offset="0.75" stop-color="#4fb86c"/><stop offset="1" stop-color="#f2e23a"/></linearGradient></defs>
<rect x="599.8" y="957.8" width="5.2" height="39.6" fill="url(#gh599)"/>
<path d="M599.0 957.8h-1.5v39.6h1.5" stroke="#888" stroke-width="0.6" fill="none"/>
<text x="607.0" y="962.3" font-size="12.5" font-weight="bold" font-style="normal" text-anchor="start" fill="#111" font-family="Liberation Sans" stroke="#111" stroke-width="0.2" textLength="6.3" lengthAdjust="spacingAndGlyphs" >1</text>
<text x="607.0" y="996.9" font-size="12.5" font-weight="bold" font-style="normal" text-anchor="start" fill="#111" font-family="Liberation Sans" stroke="#111" stroke-width="0.2" textLength="6.3" lengthAdjust="spacingAndGlyphs" >0</text>
</svg></body></html>
